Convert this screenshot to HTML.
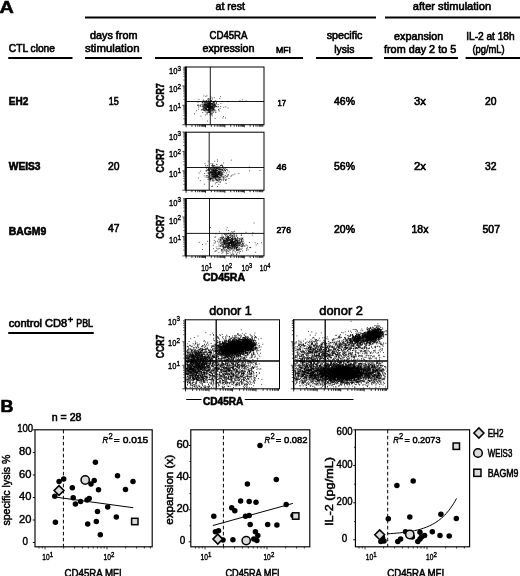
<!DOCTYPE html>
<html><head><meta charset="utf-8"><title>Figure</title>
<style>
html,body{margin:0;padding:0;background:#fff;}
body{width:520px;height:576px;overflow:hidden;font-family:"Liberation Sans",sans-serif;}
svg{display:block;filter:blur(0.3px);}
svg text{font-family:"Liberation Sans",sans-serif;fill:#000;}
</style></head><body>
<svg width="520" height="576" viewBox="0 0 520 576">
<rect width="520" height="576" fill="#fff"/>
<text x="-0.40" y="13.30" font-size="17" font-weight="bold" font-style="normal" textLength="14.30" lengthAdjust="spacingAndGlyphs" stroke="#000" stroke-width="0.55" >A</text>
<text x="215.50" y="9.60" font-size="10.5" font-weight="normal" font-style="normal" textLength="29.50" lengthAdjust="spacingAndGlyphs" stroke="#000" stroke-width="0.6" >at rest</text>
<text x="412.80" y="9.60" font-size="10.5" font-weight="normal" font-style="normal" textLength="78.40" lengthAdjust="spacingAndGlyphs" stroke="#000" stroke-width="0.6" >after stimulation</text>
<line x1="85.00" y1="17.50" x2="376.00" y2="17.50" stroke="#000" stroke-width="1.8" />
<line x1="385.00" y1="17.50" x2="520.00" y2="17.50" stroke="#000" stroke-width="1.8" />
<text x="8.75" y="52.00" font-size="10.5" font-weight="normal" font-style="normal" textLength="46.25" lengthAdjust="spacingAndGlyphs" stroke="#000" stroke-width="0.6" >CTL clone</text>
<text x="90.00" y="38.80" font-size="10.5" font-weight="normal" font-style="normal" textLength="47.50" lengthAdjust="spacingAndGlyphs" stroke="#000" stroke-width="0.6" >days from</text>
<text x="85.00" y="52.00" font-size="10.5" font-weight="normal" font-style="normal" textLength="54.50" lengthAdjust="spacingAndGlyphs" stroke="#000" stroke-width="0.6" >stimulation</text>
<text x="209.50" y="38.80" font-size="10.5" font-weight="normal" font-style="normal" textLength="38.00" lengthAdjust="spacingAndGlyphs" stroke="#000" stroke-width="0.6" >CD45RA</text>
<text x="202.50" y="51.50" font-size="10.5" font-weight="normal" font-style="normal" textLength="52.00" lengthAdjust="spacingAndGlyphs" stroke="#000" stroke-width="0.6" >expression</text>
<text x="276.00" y="52.50" font-size="8.6" font-weight="normal" font-style="normal" textLength="15.00" lengthAdjust="spacingAndGlyphs" stroke="#000" stroke-width="0.6" >MFI</text>
<text x="326.70" y="39.30" font-size="10.5" font-weight="normal" font-style="normal" textLength="35.80" lengthAdjust="spacingAndGlyphs" stroke="#000" stroke-width="0.6" >specific</text>
<text x="334.30" y="53.00" font-size="10.5" font-weight="normal" font-style="normal" textLength="20.20" lengthAdjust="spacingAndGlyphs" stroke="#000" stroke-width="0.6" >lysis</text>
<text x="394.00" y="40.00" font-size="10.5" font-weight="normal" font-style="normal" textLength="49.30" lengthAdjust="spacingAndGlyphs" stroke="#000" stroke-width="0.6" >expansion</text>
<text x="384.00" y="53.00" font-size="10.5" font-weight="normal" font-style="normal" textLength="72.20" lengthAdjust="spacingAndGlyphs" stroke="#000" stroke-width="0.6" >from day 2 to 5</text>
<text x="466.20" y="39.60" font-size="10.5" font-weight="normal" font-style="normal" textLength="48.40" lengthAdjust="spacingAndGlyphs" stroke="#000" stroke-width="0.6" >IL-2 at 18h</text>
<text x="472.40" y="53.00" font-size="10.5" font-weight="normal" font-style="normal" textLength="32.30" lengthAdjust="spacingAndGlyphs" stroke="#000" stroke-width="0.6" >(pg/mL)</text>
<line x1="8.25" y1="58.00" x2="72.50" y2="58.00" stroke="#000" stroke-width="1.8" />
<line x1="85.00" y1="58.00" x2="142.00" y2="58.00" stroke="#000" stroke-width="1.8" />
<line x1="155.00" y1="58.00" x2="303.00" y2="58.00" stroke="#000" stroke-width="1.8" />
<line x1="316.00" y1="58.00" x2="372.50" y2="58.00" stroke="#000" stroke-width="1.8" />
<line x1="384.00" y1="58.00" x2="458.00" y2="58.00" stroke="#000" stroke-width="1.8" />
<line x1="465.60" y1="58.00" x2="520.00" y2="58.00" stroke="#000" stroke-width="1.8" />
<text x="8.75" y="105.00" font-size="10.5" font-weight="bold" font-style="normal" textLength="19.50" lengthAdjust="spacingAndGlyphs" stroke="#000" stroke-width="0.6" >EH2</text>
<text x="108.75" y="105.00" font-size="10.5" font-weight="normal" font-style="normal" textLength="10.00" lengthAdjust="spacingAndGlyphs" stroke="#000" stroke-width="0.6" >15</text>
<text x="277.50" y="106.00" font-size="8.6" font-weight="normal" font-style="normal" textLength="8.50" lengthAdjust="spacingAndGlyphs" stroke="#000" stroke-width="0.6" >17</text>
<text x="334.00" y="105.00" font-size="10.5" font-weight="normal" font-style="normal" textLength="21.00" lengthAdjust="spacingAndGlyphs" stroke="#000" stroke-width="0.6" >46%</text>
<text x="414.00" y="105.00" font-size="10.5" font-weight="normal" font-style="normal" textLength="12.00" lengthAdjust="spacingAndGlyphs" stroke="#000" stroke-width="0.6" >3x</text>
<text x="485.00" y="105.00" font-size="10.5" font-weight="normal" font-style="normal" textLength="11.50" lengthAdjust="spacingAndGlyphs" stroke="#000" stroke-width="0.6" >20</text>
<text x="8.75" y="169.50" font-size="10.5" font-weight="bold" font-style="normal" textLength="31.75" lengthAdjust="spacingAndGlyphs" stroke="#000" stroke-width="0.6" >WEIS3</text>
<text x="108.00" y="169.50" font-size="10.5" font-weight="normal" font-style="normal" textLength="11.50" lengthAdjust="spacingAndGlyphs" stroke="#000" stroke-width="0.6" >20</text>
<text x="276.50" y="170.00" font-size="8.6" font-weight="normal" font-style="normal" textLength="10.00" lengthAdjust="spacingAndGlyphs" stroke="#000" stroke-width="0.6" >46</text>
<text x="334.00" y="169.70" font-size="10.5" font-weight="normal" font-style="normal" textLength="21.00" lengthAdjust="spacingAndGlyphs" stroke="#000" stroke-width="0.6" >56%</text>
<text x="414.00" y="169.70" font-size="10.5" font-weight="normal" font-style="normal" textLength="12.00" lengthAdjust="spacingAndGlyphs" stroke="#000" stroke-width="0.6" >2x</text>
<text x="485.00" y="169.70" font-size="10.5" font-weight="normal" font-style="normal" textLength="11.50" lengthAdjust="spacingAndGlyphs" stroke="#000" stroke-width="0.6" >32</text>
<text x="8.75" y="235.00" font-size="10.5" font-weight="bold" font-style="normal" textLength="37.50" lengthAdjust="spacingAndGlyphs" stroke="#000" stroke-width="0.6" >BAGM9</text>
<text x="108.00" y="232.00" font-size="10.5" font-weight="normal" font-style="normal" textLength="11.50" lengthAdjust="spacingAndGlyphs" stroke="#000" stroke-width="0.6" >47</text>
<text x="276.50" y="233.00" font-size="8.6" font-weight="normal" font-style="normal" textLength="14.50" lengthAdjust="spacingAndGlyphs" stroke="#000" stroke-width="0.6" >276</text>
<text x="334.00" y="232.50" font-size="10.5" font-weight="normal" font-style="normal" textLength="21.00" lengthAdjust="spacingAndGlyphs" stroke="#000" stroke-width="0.6" >20%</text>
<text x="411.50" y="232.50" font-size="10.5" font-weight="normal" font-style="normal" textLength="17.00" lengthAdjust="spacingAndGlyphs" stroke="#000" stroke-width="0.6" >18x</text>
<text x="482.50" y="232.50" font-size="10.5" font-weight="normal" font-style="normal" textLength="17.50" lengthAdjust="spacingAndGlyphs" stroke="#000" stroke-width="0.6" >507</text>
<rect x="186.1" y="67" width="77.9" height="57.7" fill="none" stroke="#000" stroke-width="1.0"/>
<line x1="185.6" y1="66.5" x2="185.6" y2="125.2" stroke="#000" stroke-width="2.1"/>
<line x1="210.30" y1="67.00" x2="210.30" y2="124.70" stroke="#000" stroke-width="0.9" />
<line x1="186.10" y1="101.50" x2="264.00" y2="101.50" stroke="#000" stroke-width="0.9" />
<line x1="186.10" y1="124.7" x2="186.10" y2="127.30" stroke="#000" stroke-width="0.85"/>
<line x1="191.94" y1="124.7" x2="191.94" y2="126.70" stroke="#000" stroke-width="0.85"/>
<line x1="195.36" y1="124.7" x2="195.36" y2="126.70" stroke="#000" stroke-width="0.85"/>
<line x1="197.78" y1="124.7" x2="197.78" y2="126.70" stroke="#000" stroke-width="0.85"/>
<line x1="199.66" y1="124.7" x2="199.66" y2="126.70" stroke="#000" stroke-width="0.85"/>
<line x1="201.20" y1="124.7" x2="201.20" y2="126.70" stroke="#000" stroke-width="0.85"/>
<line x1="202.49" y1="124.7" x2="202.49" y2="126.70" stroke="#000" stroke-width="0.85"/>
<line x1="203.62" y1="124.7" x2="203.62" y2="126.70" stroke="#000" stroke-width="0.85"/>
<line x1="204.61" y1="124.7" x2="204.61" y2="126.70" stroke="#000" stroke-width="0.85"/>
<line x1="205.50" y1="124.7" x2="205.50" y2="127.30" stroke="#000" stroke-width="0.85"/>
<line x1="211.34" y1="124.7" x2="211.34" y2="126.70" stroke="#000" stroke-width="0.85"/>
<line x1="214.76" y1="124.7" x2="214.76" y2="126.70" stroke="#000" stroke-width="0.85"/>
<line x1="217.18" y1="124.7" x2="217.18" y2="126.70" stroke="#000" stroke-width="0.85"/>
<line x1="219.06" y1="124.7" x2="219.06" y2="126.70" stroke="#000" stroke-width="0.85"/>
<line x1="220.60" y1="124.7" x2="220.60" y2="126.70" stroke="#000" stroke-width="0.85"/>
<line x1="221.89" y1="124.7" x2="221.89" y2="126.70" stroke="#000" stroke-width="0.85"/>
<line x1="223.02" y1="124.7" x2="223.02" y2="126.70" stroke="#000" stroke-width="0.85"/>
<line x1="224.01" y1="124.7" x2="224.01" y2="126.70" stroke="#000" stroke-width="0.85"/>
<line x1="224.90" y1="124.7" x2="224.90" y2="127.30" stroke="#000" stroke-width="0.85"/>
<line x1="230.74" y1="124.7" x2="230.74" y2="126.70" stroke="#000" stroke-width="0.85"/>
<line x1="234.16" y1="124.7" x2="234.16" y2="126.70" stroke="#000" stroke-width="0.85"/>
<line x1="236.58" y1="124.7" x2="236.58" y2="126.70" stroke="#000" stroke-width="0.85"/>
<line x1="238.46" y1="124.7" x2="238.46" y2="126.70" stroke="#000" stroke-width="0.85"/>
<line x1="240.00" y1="124.7" x2="240.00" y2="126.70" stroke="#000" stroke-width="0.85"/>
<line x1="241.29" y1="124.7" x2="241.29" y2="126.70" stroke="#000" stroke-width="0.85"/>
<line x1="242.42" y1="124.7" x2="242.42" y2="126.70" stroke="#000" stroke-width="0.85"/>
<line x1="243.41" y1="124.7" x2="243.41" y2="126.70" stroke="#000" stroke-width="0.85"/>
<line x1="244.30" y1="124.7" x2="244.30" y2="127.30" stroke="#000" stroke-width="0.85"/>
<line x1="250.14" y1="124.7" x2="250.14" y2="126.70" stroke="#000" stroke-width="0.85"/>
<line x1="253.56" y1="124.7" x2="253.56" y2="126.70" stroke="#000" stroke-width="0.85"/>
<line x1="255.98" y1="124.7" x2="255.98" y2="126.70" stroke="#000" stroke-width="0.85"/>
<line x1="257.86" y1="124.7" x2="257.86" y2="126.70" stroke="#000" stroke-width="0.85"/>
<line x1="259.40" y1="124.7" x2="259.40" y2="126.70" stroke="#000" stroke-width="0.85"/>
<line x1="260.69" y1="124.7" x2="260.69" y2="126.70" stroke="#000" stroke-width="0.85"/>
<line x1="261.82" y1="124.7" x2="261.82" y2="126.70" stroke="#000" stroke-width="0.85"/>
<line x1="262.81" y1="124.7" x2="262.81" y2="126.70" stroke="#000" stroke-width="0.85"/>
<line x1="182.35" y1="124.70" x2="184.55" y2="124.70" stroke="#000" stroke-width="0.7"/>
<line x1="183.35" y1="118.86" x2="184.55" y2="118.86" stroke="#000" stroke-width="0.7"/>
<line x1="183.35" y1="115.44" x2="184.55" y2="115.44" stroke="#000" stroke-width="0.7"/>
<line x1="183.35" y1="113.02" x2="184.55" y2="113.02" stroke="#000" stroke-width="0.7"/>
<line x1="183.35" y1="111.14" x2="184.55" y2="111.14" stroke="#000" stroke-width="0.7"/>
<line x1="183.35" y1="109.60" x2="184.55" y2="109.60" stroke="#000" stroke-width="0.7"/>
<line x1="183.35" y1="108.31" x2="184.55" y2="108.31" stroke="#000" stroke-width="0.7"/>
<line x1="183.35" y1="107.18" x2="184.55" y2="107.18" stroke="#000" stroke-width="0.7"/>
<line x1="183.35" y1="106.19" x2="184.55" y2="106.19" stroke="#000" stroke-width="0.7"/>
<line x1="182.35" y1="105.30" x2="184.55" y2="105.30" stroke="#000" stroke-width="0.7"/>
<line x1="183.35" y1="99.46" x2="184.55" y2="99.46" stroke="#000" stroke-width="0.7"/>
<line x1="183.35" y1="96.04" x2="184.55" y2="96.04" stroke="#000" stroke-width="0.7"/>
<line x1="183.35" y1="93.62" x2="184.55" y2="93.62" stroke="#000" stroke-width="0.7"/>
<line x1="183.35" y1="91.74" x2="184.55" y2="91.74" stroke="#000" stroke-width="0.7"/>
<line x1="183.35" y1="90.20" x2="184.55" y2="90.20" stroke="#000" stroke-width="0.7"/>
<line x1="183.35" y1="88.91" x2="184.55" y2="88.91" stroke="#000" stroke-width="0.7"/>
<line x1="183.35" y1="87.78" x2="184.55" y2="87.78" stroke="#000" stroke-width="0.7"/>
<line x1="183.35" y1="86.79" x2="184.55" y2="86.79" stroke="#000" stroke-width="0.7"/>
<line x1="182.35" y1="85.90" x2="184.55" y2="85.90" stroke="#000" stroke-width="0.7"/>
<line x1="183.35" y1="80.06" x2="184.55" y2="80.06" stroke="#000" stroke-width="0.7"/>
<line x1="183.35" y1="76.64" x2="184.55" y2="76.64" stroke="#000" stroke-width="0.7"/>
<line x1="183.35" y1="74.22" x2="184.55" y2="74.22" stroke="#000" stroke-width="0.7"/>
<line x1="183.35" y1="72.34" x2="184.55" y2="72.34" stroke="#000" stroke-width="0.7"/>
<line x1="183.35" y1="70.80" x2="184.55" y2="70.80" stroke="#000" stroke-width="0.7"/>
<line x1="183.35" y1="69.51" x2="184.55" y2="69.51" stroke="#000" stroke-width="0.7"/>
<line x1="183.35" y1="68.38" x2="184.55" y2="68.38" stroke="#000" stroke-width="0.7"/>
<line x1="183.35" y1="67.39" x2="184.55" y2="67.39" stroke="#000" stroke-width="0.7"/>
<path transform="scale(.1)" d="M2088 1082h9M2078 1042h9M2072 1038h9M2090 1118h9M2070 1051h9M2106 1084h9M2092 1040h9M2087 1096h9M2040 1056h9M2020 1028h9M2022 1064h9M2042 1081h9M2094 1066h9M1997 1054h9M2086 1076h9M2033 1056h9M2053 1044h9M2126 1045h9M2087 1102h9M2067 1068h9M2092 1074h9M2044 1075h9M2137 1019h9M2119 1076h9M2065 1140h9M2115 1031h9M2091 1092h9M2081 1095h9M2086 1095h9M2140 1049h9M2095 1056h9M2093 1032h9M2067 1065h9M2120 1111h9M2040 1045h9M2111 1004h9M2071 1069h9M2133 1095h9M2076 1059h9M2079 1124h9M2073 1062h9M2101 1068h9M2081 1034h9M2088 1057h9M2130 1094h9M2087 1095h9M2076 1108h9M2088 1092h9M2042 1084h9M2027 1003h9M2077 1041h9M2094 1148h9M2058 1051h9M2095 1089h9M2082 1065h9M2113 1090h9M2051 1069h9M2089 1036h9M2097 1043h9M2123 1079h9M2091 1052h9M2084 1004h9M2047 1084h9M2011 1101h9M2025 1098h9M2058 1098h9M2093 1020h9M2133 1121h9M2086 1063h9M2082 1039h9M2128 1054h9M2086 1045h9M2065 1029h9M2133 1067h9M2123 1072h9M2063 1061h9M2068 1072h9M2074 1062h9M2038 1045h9M2148 1049h9M2050 1083h9M2139 1023h9M2080 1051h9M2025 1097h9M2087 1074h9M2061 1087h9M2069 1067h9M2048 1031h9M2136 1055h9M2099 1071h9M2072 1055h9M2111 1062h9M2083 1073h9M2130 1095h9M2102 1053h9M2038 1104h9M2123 1067h9M2108 1099h9M2118 1103h9M2072 1124h9M2043 1101h9M2106 1102h9M2156 1122h9M2047 1015h9M2117 1037h9M2088 1101h9M2029 1000h9M2097 1074h9M2079 1073h9M2057 1021h9M2082 1039h9M2029 1089h9M2086 1086h9M2052 1050h9M2052 1042h9M2095 1045h9M2101 1084h9M2161 1025h9M2120 1069h9M2087 1023h9M2071 1097h9M2085 1075h9M2078 1111h9M2087 997h9M2063 1005h9M1971 1054h9M2136 1074h9M2046 1040h9M2129 1077h9M2090 1070h9M2089 1099h9M2108 1079h9M2050 1089h9M2063 1109h9M2042 1067h9M2088 1027h9M2150 1122h9M2071 1098h9M2102 983h9M2097 1070h9M2091 1035h9M2078 1066h9M2131 1083h9M2088 1124h9M2068 1059h9M2023 1125h9M2123 1103h9M2112 1076h9M2096 1063h9M2081 1074h9M2142 1091h9M2086 1052h9M2065 1126h9M2106 1074h9M2076 1034h9M2086 1102h9M2074 1064h9M2080 1076h9M2031 1064h9M2057 1102h9M2060 1092h9M2143 1061h9M2066 1079h9M2088 1038h9M2105 1141h9M2079 1065h9M2050 1083h9M2043 1034h9M2134 1041h9M2127 1124h9M2097 1091h9M2158 1065h9M2067 1026h9M2090 1122h9M2123 1040h9M2057 1055h9M2099 1065h9M2096 1082h9M2077 1071h9M2095 1069h9M2106 1136h9M2109 1074h9M2027 1085h9M2018 1024h9M2119 1096h9M2083 1014h9M2075 1049h9M2111 1149h9M2096 1046h9M2046 1070h9M2082 1033h9M2092 1033h9M2128 1108h9M2127 1056h9M2107 1068h9M2074 1060h9M2041 1023h9M2117 1065h9M2096 1106h9M2026 1045h9M2094 1085h9M2074 1107h9M2096 1031h9M2054 1099h9M2105 1007h9M2137 1092h9M2136 1059h9M2077 1034h9M2179 1066h9M2145 1050h9M2094 1015h9M2074 1105h9M2043 1108h9M2100 1037h9M2070 1056h9M2086 1054h9M2058 1062h9M2051 1028h9M2086 1102h9M2033 1072h9M2065 1039h9M2119 1054h9M2142 1045h9M2102 1064h9M2061 1092h9M2082 1093h9M2086 1035h9M2084 1074h9M2123 1041h9M2087 1013h9M2111 1035h9M2023 1070h9M2128 1020h9M2049 1047h9M2047 1085h9M2059 1047h9M2109 1046h9M2104 1039h9M2044 1010h9M2155 1061h9M2097 1071h9M2094 1074h9M2157 1037h9M2032 1038h9M2040 1097h9M2118 1039h9M2038 1060h9M2138 976h9M2107 1035h9M2125 1035h9M2078 1021h9M2053 1119h9M2118 1058h9M2057 1008h9M2074 1071h9M2085 1069h9M2048 1070h9M2087 1116h9M2155 1067h9M2060 1070h9M2066 1047h9M2086 1037h9M2110 1068h9M2097 1066h9M2062 1040h9M2079 1053h9M2096 1072h9M2039 1074h9M2040 1051h9M2077 1001h9M2091 1077h9M2082 1058h9M2075 1039h9M2078 1053h9M2091 1031h9M2096 1077h9M2083 1057h9M2108 1015h9M2105 1080h9M2098 1085h9M2064 1063h9M2111 1087h9M2095 1021h9M2107 1112h9M2124 1080h9M2032 1104h9M2083 986h9M2102 1021h9M2041 1050h9M2134 1059h9M2098 1131h9M2145 1068h9M2079 1029h9M2063 1086h9M2102 1076h9M2124 1046h9M2086 1097h9M2109 1108h9M2102 1061h9M2101 1038h9M2029 1092h9M2086 1082h9M2027 1060h9M2066 1043h9M2007 1061h9M2120 1085h9M2066 1071h9M2115 978h9M2084 1090h9M2113 1130h9M2129 1083h9M2099 1099h9M2069 1071h9M2121 1139h9M2082 1070h9M2095 1118h9M2087 1122h9M2053 1066h9M2081 1099h9M2126 1021h9M2055 1083h9M2064 1020h9M2125 1089h9M2106 1056h9M2125 1064h9M2127 1041h9M2057 1079h9M2063 1095h9M2097 1041h9M2091 1060h9M2161 1038h9M2068 1138h9M2251 1181h9M2102 1084h9M2203 1065h9M2031 1078h9M2129 1027h9M1985 994h9M2144 1031h9M2088 1084h9M2140 1054h9M2132 1024h9M2073 1016h9M2175 1071h9M2047 1053h9M2083 1110h9M1989 1016h9M2072 1210h9M2163 1066h9M2147 1184h9M2082 1052h9M2181 1099h9M2144 1044h9M2230 1165h9M2137 1109h9M1959 1107h9M2085 1096h9M2145 1053h9M1982 1092h9M2047 1054h9M2057 1053h9M1940 1138h9M2115 1132h9M2233 1073h9M1975 1023h9M2015 1045h9M2103 963h9M2121 990h9M2118 1066h9M2077 1068h9M2061 1039h9M1983 1070h9M2224 1180h9M2188 1110h9M2052 1150h9M2094 1068h9M2078 1077h9M2068 1067h9M2024 1052h9M2254 1068h9M2082 1101h9M2146 1011h9M2084 1122h9M2116 1079h9M2204 1035h9M2104 1044h9M2200 966h9M2052 1043h9M2143 1105h9M2193 986h9M2149 1056h9M2052 1101h9M2035 959h9M2073 991h9M2054 1092h9M2119 1158h9M2084 989h9M2046 1022h9M2015 1096h9M2054 964h9M2146 1066h9M2122 1078h9M2141 1074h9M2183 1095h9M2125 1094h9M1998 1063h9M2080 1083h9M2005 1161h9M2105 1006h9M1981 1057h9M2092 1033h9M2104 1037h9M2136 1033h9M2095 1125h9M2274 1017h9M2066 1026h9M2152 1010h9M2065 1070h9M2031 1020h9M2065 958h9M1999 1050h9M2108 1062h9M1977 1047h9M2153 1102h9M2093 1024h9M2141 1041h9M2018 1028h9M2197 1084h9M2177 1046h9M2419 998h9M2395 1007h9M2276 1081h9M2457 1008h9M2044 1027h9" stroke="#000" stroke-opacity="0.8" stroke-width="9" fill="none"/>
<text x="169.00" y="74.30" font-size="9.6" font-weight="normal" font-style="normal" textLength="8.40" lengthAdjust="spacingAndGlyphs" stroke="#000" stroke-width="0.4" >10</text>
<text x="177.50" y="70.90" font-size="7.4879999999999995" font-weight="normal" font-style="normal" textLength="3.50" lengthAdjust="spacingAndGlyphs" stroke="#000" stroke-width="0.4" >3</text>
<text x="169.00" y="92.00" font-size="9.6" font-weight="normal" font-style="normal" textLength="8.40" lengthAdjust="spacingAndGlyphs" stroke="#000" stroke-width="0.4" >10</text>
<text x="177.50" y="88.60" font-size="7.4879999999999995" font-weight="normal" font-style="normal" textLength="3.50" lengthAdjust="spacingAndGlyphs" stroke="#000" stroke-width="0.4" >2</text>
<text x="169.00" y="111.40" font-size="9.6" font-weight="normal" font-style="normal" textLength="8.40" lengthAdjust="spacingAndGlyphs" stroke="#000" stroke-width="0.4" >10</text>
<text x="177.50" y="108.00" font-size="7.4879999999999995" font-weight="normal" font-style="normal" textLength="3.50" lengthAdjust="spacingAndGlyphs" stroke="#000" stroke-width="0.4" >1</text>
<text transform="translate(164.30 107.30) rotate(-90)" font-size="10.3" font-weight="bold" textLength="24" lengthAdjust="spacingAndGlyphs" stroke="#000" stroke-width="0.5">CCR7</text>
<rect x="186.1" y="132.2" width="77.9" height="58.0" fill="none" stroke="#000" stroke-width="1.0"/>
<line x1="185.6" y1="131.7" x2="185.6" y2="190.7" stroke="#000" stroke-width="2.1"/>
<line x1="209.20" y1="132.20" x2="209.20" y2="190.20" stroke="#000" stroke-width="0.9" />
<line x1="186.10" y1="167.50" x2="264.00" y2="167.50" stroke="#000" stroke-width="0.9" />
<line x1="186.10" y1="190.2" x2="186.10" y2="192.80" stroke="#000" stroke-width="0.85"/>
<line x1="191.94" y1="190.2" x2="191.94" y2="192.20" stroke="#000" stroke-width="0.85"/>
<line x1="195.36" y1="190.2" x2="195.36" y2="192.20" stroke="#000" stroke-width="0.85"/>
<line x1="197.78" y1="190.2" x2="197.78" y2="192.20" stroke="#000" stroke-width="0.85"/>
<line x1="199.66" y1="190.2" x2="199.66" y2="192.20" stroke="#000" stroke-width="0.85"/>
<line x1="201.20" y1="190.2" x2="201.20" y2="192.20" stroke="#000" stroke-width="0.85"/>
<line x1="202.49" y1="190.2" x2="202.49" y2="192.20" stroke="#000" stroke-width="0.85"/>
<line x1="203.62" y1="190.2" x2="203.62" y2="192.20" stroke="#000" stroke-width="0.85"/>
<line x1="204.61" y1="190.2" x2="204.61" y2="192.20" stroke="#000" stroke-width="0.85"/>
<line x1="205.50" y1="190.2" x2="205.50" y2="192.80" stroke="#000" stroke-width="0.85"/>
<line x1="211.34" y1="190.2" x2="211.34" y2="192.20" stroke="#000" stroke-width="0.85"/>
<line x1="214.76" y1="190.2" x2="214.76" y2="192.20" stroke="#000" stroke-width="0.85"/>
<line x1="217.18" y1="190.2" x2="217.18" y2="192.20" stroke="#000" stroke-width="0.85"/>
<line x1="219.06" y1="190.2" x2="219.06" y2="192.20" stroke="#000" stroke-width="0.85"/>
<line x1="220.60" y1="190.2" x2="220.60" y2="192.20" stroke="#000" stroke-width="0.85"/>
<line x1="221.89" y1="190.2" x2="221.89" y2="192.20" stroke="#000" stroke-width="0.85"/>
<line x1="223.02" y1="190.2" x2="223.02" y2="192.20" stroke="#000" stroke-width="0.85"/>
<line x1="224.01" y1="190.2" x2="224.01" y2="192.20" stroke="#000" stroke-width="0.85"/>
<line x1="224.90" y1="190.2" x2="224.90" y2="192.80" stroke="#000" stroke-width="0.85"/>
<line x1="230.74" y1="190.2" x2="230.74" y2="192.20" stroke="#000" stroke-width="0.85"/>
<line x1="234.16" y1="190.2" x2="234.16" y2="192.20" stroke="#000" stroke-width="0.85"/>
<line x1="236.58" y1="190.2" x2="236.58" y2="192.20" stroke="#000" stroke-width="0.85"/>
<line x1="238.46" y1="190.2" x2="238.46" y2="192.20" stroke="#000" stroke-width="0.85"/>
<line x1="240.00" y1="190.2" x2="240.00" y2="192.20" stroke="#000" stroke-width="0.85"/>
<line x1="241.29" y1="190.2" x2="241.29" y2="192.20" stroke="#000" stroke-width="0.85"/>
<line x1="242.42" y1="190.2" x2="242.42" y2="192.20" stroke="#000" stroke-width="0.85"/>
<line x1="243.41" y1="190.2" x2="243.41" y2="192.20" stroke="#000" stroke-width="0.85"/>
<line x1="244.30" y1="190.2" x2="244.30" y2="192.80" stroke="#000" stroke-width="0.85"/>
<line x1="250.14" y1="190.2" x2="250.14" y2="192.20" stroke="#000" stroke-width="0.85"/>
<line x1="253.56" y1="190.2" x2="253.56" y2="192.20" stroke="#000" stroke-width="0.85"/>
<line x1="255.98" y1="190.2" x2="255.98" y2="192.20" stroke="#000" stroke-width="0.85"/>
<line x1="257.86" y1="190.2" x2="257.86" y2="192.20" stroke="#000" stroke-width="0.85"/>
<line x1="259.40" y1="190.2" x2="259.40" y2="192.20" stroke="#000" stroke-width="0.85"/>
<line x1="260.69" y1="190.2" x2="260.69" y2="192.20" stroke="#000" stroke-width="0.85"/>
<line x1="261.82" y1="190.2" x2="261.82" y2="192.20" stroke="#000" stroke-width="0.85"/>
<line x1="262.81" y1="190.2" x2="262.81" y2="192.20" stroke="#000" stroke-width="0.85"/>
<line x1="182.35" y1="190.20" x2="184.55" y2="190.20" stroke="#000" stroke-width="0.7"/>
<line x1="183.35" y1="184.36" x2="184.55" y2="184.36" stroke="#000" stroke-width="0.7"/>
<line x1="183.35" y1="180.94" x2="184.55" y2="180.94" stroke="#000" stroke-width="0.7"/>
<line x1="183.35" y1="178.52" x2="184.55" y2="178.52" stroke="#000" stroke-width="0.7"/>
<line x1="183.35" y1="176.64" x2="184.55" y2="176.64" stroke="#000" stroke-width="0.7"/>
<line x1="183.35" y1="175.10" x2="184.55" y2="175.10" stroke="#000" stroke-width="0.7"/>
<line x1="183.35" y1="173.81" x2="184.55" y2="173.81" stroke="#000" stroke-width="0.7"/>
<line x1="183.35" y1="172.68" x2="184.55" y2="172.68" stroke="#000" stroke-width="0.7"/>
<line x1="183.35" y1="171.69" x2="184.55" y2="171.69" stroke="#000" stroke-width="0.7"/>
<line x1="182.35" y1="170.80" x2="184.55" y2="170.80" stroke="#000" stroke-width="0.7"/>
<line x1="183.35" y1="164.96" x2="184.55" y2="164.96" stroke="#000" stroke-width="0.7"/>
<line x1="183.35" y1="161.54" x2="184.55" y2="161.54" stroke="#000" stroke-width="0.7"/>
<line x1="183.35" y1="159.12" x2="184.55" y2="159.12" stroke="#000" stroke-width="0.7"/>
<line x1="183.35" y1="157.24" x2="184.55" y2="157.24" stroke="#000" stroke-width="0.7"/>
<line x1="183.35" y1="155.70" x2="184.55" y2="155.70" stroke="#000" stroke-width="0.7"/>
<line x1="183.35" y1="154.41" x2="184.55" y2="154.41" stroke="#000" stroke-width="0.7"/>
<line x1="183.35" y1="153.28" x2="184.55" y2="153.28" stroke="#000" stroke-width="0.7"/>
<line x1="183.35" y1="152.29" x2="184.55" y2="152.29" stroke="#000" stroke-width="0.7"/>
<line x1="182.35" y1="151.40" x2="184.55" y2="151.40" stroke="#000" stroke-width="0.7"/>
<line x1="183.35" y1="145.56" x2="184.55" y2="145.56" stroke="#000" stroke-width="0.7"/>
<line x1="183.35" y1="142.14" x2="184.55" y2="142.14" stroke="#000" stroke-width="0.7"/>
<line x1="183.35" y1="139.72" x2="184.55" y2="139.72" stroke="#000" stroke-width="0.7"/>
<line x1="183.35" y1="137.84" x2="184.55" y2="137.84" stroke="#000" stroke-width="0.7"/>
<line x1="183.35" y1="136.30" x2="184.55" y2="136.30" stroke="#000" stroke-width="0.7"/>
<line x1="183.35" y1="135.01" x2="184.55" y2="135.01" stroke="#000" stroke-width="0.7"/>
<line x1="183.35" y1="133.88" x2="184.55" y2="133.88" stroke="#000" stroke-width="0.7"/>
<line x1="183.35" y1="132.89" x2="184.55" y2="132.89" stroke="#000" stroke-width="0.7"/>
<line x1="182.35" y1="132.00" x2="184.55" y2="132.00" stroke="#000" stroke-width="0.7"/>
<path transform="scale(.1)" d="M2153 1740h9M2207 1747h9M2186 1696h9M2188 1811h9M2184 1745h9M2158 1800h9M2113 1732h9M2171 1763h9M2134 1747h9M2140 1740h9M2146 1695h9M2151 1768h9M2111 1727h9M2180 1697h9M2160 1698h9M2200 1819h9M2237 1728h9M2183 1740h9M2156 1792h9M2097 1774h9M2150 1787h9M2160 1712h9M2164 1762h9M2154 1754h9M2130 1659h9M2190 1761h9M2158 1738h9M2196 1720h9M2122 1729h9M2202 1686h9M2202 1713h9M2106 1781h9M2148 1689h9M2137 1770h9M2202 1721h9M2169 1762h9M2125 1749h9M2151 1717h9M2131 1738h9M2153 1716h9M2134 1776h9M2161 1768h9M2202 1757h9M2247 1706h9M2186 1725h9M2230 1797h9M2070 1701h9M2180 1764h9M2183 1733h9M2171 1760h9M2149 1773h9M2057 1759h9M2109 1771h9M2142 1704h9M2168 1703h9M2114 1680h9M2151 1754h9M2195 1731h9M2196 1737h9M2148 1757h9M2196 1724h9M2142 1730h9M2155 1704h9M2195 1722h9M2171 1706h9M2167 1750h9M2134 1809h9M2168 1800h9M2192 1712h9M2136 1752h9M2155 1738h9M2140 1671h9M2143 1656h9M2168 1710h9M2122 1728h9M2163 1684h9M2079 1698h9M2066 1701h9M2219 1698h9M2179 1687h9M2165 1724h9M2149 1756h9M2226 1743h9M2157 1701h9M2177 1727h9M2187 1734h9M2225 1665h9M2140 1768h9M2137 1707h9M2141 1686h9M2157 1824h9M2200 1696h9M2115 1721h9M2194 1706h9M2123 1768h9M2188 1723h9M2105 1680h9M2123 1656h9M2183 1713h9M2172 1803h9M2201 1695h9M2189 1778h9M2121 1702h9M2147 1678h9M2214 1649h9M2106 1726h9M2142 1742h9M2163 1728h9M2200 1659h9M2152 1710h9M2158 1744h9M2114 1713h9M2185 1749h9M2123 1809h9M2249 1683h9M2165 1826h9M2185 1744h9M2143 1717h9M2143 1716h9M2183 1722h9M2133 1693h9M2150 1704h9M2144 1774h9M2167 1754h9M2167 1738h9M2147 1725h9M2184 1697h9M2208 1737h9M2121 1718h9M2124 1742h9M2122 1777h9M2119 1654h9M2121 1664h9M2150 1774h9M2179 1688h9M2120 1800h9M2165 1736h9M2196 1824h9M2206 1741h9M2167 1758h9M2126 1698h9M2154 1702h9M2149 1739h9M2250 1705h9M2147 1730h9M2170 1774h9M2131 1706h9M2083 1703h9M2175 1738h9M2109 1723h9M2153 1754h9M2127 1727h9M2076 1695h9M2220 1657h9M2138 1744h9M2136 1707h9M2149 1736h9M2149 1668h9M2146 1705h9M2129 1744h9M2179 1768h9M2131 1769h9M2201 1777h9M2210 1731h9M2145 1766h9M2095 1744h9M2130 1723h9M2079 1704h9M2151 1768h9M2194 1733h9M2144 1706h9M2169 1727h9M2177 1799h9M2151 1682h9M2116 1684h9M2102 1783h9M2162 1681h9M2179 1781h9M2137 1712h9M2138 1746h9M2179 1779h9M2203 1779h9M2209 1760h9M2088 1731h9M2165 1722h9M2190 1723h9M2113 1788h9M2180 1744h9M2191 1774h9M2166 1648h9M2124 1720h9M2111 1743h9M2202 1719h9M2104 1809h9M2133 1692h9M2162 1751h9M2122 1764h9M2132 1703h9M2160 1764h9M2125 1748h9M2148 1838h9M2122 1786h9M2150 1731h9M2182 1768h9M2205 1748h9M2127 1717h9M2173 1757h9M2211 1751h9M2197 1791h9M2159 1683h9M2102 1684h9M2219 1705h9M2204 1757h9M2224 1772h9M2148 1729h9M2156 1742h9M2130 1735h9M2220 1675h9M2163 1703h9M2160 1766h9M2150 1764h9M2085 1776h9M2127 1758h9M2160 1643h9M2120 1744h9M2217 1746h9M2163 1685h9M2212 1801h9M2153 1728h9M2084 1768h9M2265 1762h9M2205 1756h9M2111 1784h9M2100 1728h9M2164 1768h9M2169 1750h9M2120 1690h9M2155 1710h9M2097 1690h9M2131 1669h9M2095 1677h9M2160 1751h9M2236 1682h9M2123 1769h9M2143 1724h9M2224 1724h9M2103 1689h9M2166 1747h9M2094 1701h9M2174 1757h9M2125 1758h9M2176 1672h9M2139 1751h9M2128 1659h9M2140 1763h9M2218 1657h9M2262 1695h9M2192 1780h9M2193 1741h9M2103 1759h9M2122 1645h9M2271 1761h9M2228 1703h9M2214 1793h9M2217 1735h9M2101 1730h9M2059 1675h9M2156 1700h9M2145 1732h9M2233 1783h9M2150 1780h9M2119 1724h9M2190 1691h9M2140 1688h9M2157 1795h9M2120 1744h9M2114 1695h9M2100 1788h9M2251 1753h9M2122 1761h9M2138 1765h9M2164 1746h9M2178 1715h9M2135 1674h9M2133 1685h9M2146 1702h9M2156 1752h9M2092 1707h9M2112 1763h9M2224 1767h9M2137 1789h9M2088 1790h9M2124 1636h9M2263 1793h9M2109 1742h9M2143 1740h9M2090 1711h9M2172 1744h9M2202 1739h9M2251 1710h9M2163 1667h9M2099 1784h9M2112 1755h9M2149 1698h9M2137 1717h9M2132 1763h9M2179 1715h9M2114 1746h9M2148 1773h9M2264 1766h9M2151 1730h9M2116 1703h9M2110 1722h9M2134 1763h9M2135 1729h9M2101 1795h9M2173 1800h9M2185 1790h9M2142 1762h9M2266 1692h9M2201 1797h9M2170 1764h9M2206 1712h9M2170 1704h9M2123 1713h9M2146 1741h9M2171 1684h9M2237 1779h9M2183 1723h9M2148 1756h9M2170 1674h9M2184 1844h9M2072 1773h9M2168 1732h9M2211 1692h9M2159 1790h9M2144 1721h9M2157 1720h9M2219 1702h9M2190 1690h9M2181 1732h9M2040 1736h9M2106 1720h9M2218 1695h9M2106 1789h9M2157 1793h9M2166 1703h9M2149 1782h9M2193 1736h9M2154 1732h9M2127 1807h9M2152 1694h9M2131 1763h9M2180 1731h9M2123 1737h9M2080 1688h9M2186 1718h9M2168 1781h9M2180 1737h9M2244 1761h9M2137 1763h9M2170 1704h9M2155 1730h9M2067 1730h9M2140 1720h9M2081 1723h9M2150 1740h9M2103 1759h9M2100 1728h9M2208 1710h9M2130 1776h9M2135 1725h9M2162 1775h9M2057 1705h9M2109 1696h9M2115 1705h9M2165 1703h9M2157 1751h9M2121 1741h9M2222 1748h9M2110 1732h9M2087 1752h9M2232 1688h9M2145 1802h9M2121 1747h9M2079 1688h9M2120 1861h9M2129 1705h9M2117 1726h9M2214 1747h9M2326 1748h9M2278 1752h9M2210 1653h9M2152 1732h9M2143 1612h9M2232 1714h9M2127 1721h9M2144 1759h9M2061 1682h9M2185 1744h9M2132 1703h9M2095 1733h9M2256 1675h9M2284 1785h9M2126 1781h9M2045 1636h9M2059 1712h9M2136 1706h9M2170 1613h9M2202 1654h9M2109 1712h9M2070 1657h9M2082 1735h9M2209 1768h9M2083 1690h9M2089 1762h9M1999 1807h9M2123 1691h9M2189 1795h9M2189 1797h9M2173 1807h9M2261 1730h9M2277 1745h9M2169 1683h9M2139 1781h9M2057 1773h9M2190 1752h9M1986 1730h9M2214 1692h9M2169 1599h9M2216 1698h9M2232 1630h9M2217 1722h9M2226 1683h9M2113 1865h9M2096 1695h9M2140 1677h9M2257 1835h9M2106 1637h9M2256 1800h9M2228 1803h9M2093 1726h9M2052 1654h9M2240 1697h9M2344 1740h9M2111 1782h9M2306 1764h9M2065 1757h9M2272 1708h9M2100 1795h9M2173 1672h9M2132 1692h9M2186 1742h9M2254 1777h9M2037 1759h9M2234 1762h9M2244 1704h9M2086 1790h9M2077 1612h9M2244 1694h9M2138 1655h9M2056 1669h9M2133 1757h9M1979 1779h9M2068 1675h9M2216 1732h9M2039 1842h9M2093 1750h9M2178 1817h9M2126 1794h9M2103 1801h9M2101 1715h9M2313 1754h9M2171 1865h9M2191 1689h9M2221 1668h9M2252 1805h9M2116 1700h9M2176 1737h9M2084 1769h9M1999 1711h9M2130 1720h9M2187 1665h9M2209 1726h9M2110 1657h9M2068 1757h9M2085 1740h9M2247 1795h9M2287 1719h9M2075 1795h9M2187 1801h9M2163 1805h9M2230 1777h9M2202 1759h9M2385 1736h9M2491 1670h9M2595 1706h9M2490 1708h9M2309 1601h9" stroke="#000" stroke-opacity="0.8" stroke-width="9" fill="none"/>
<text x="169.00" y="139.50" font-size="9.6" font-weight="normal" font-style="normal" textLength="8.40" lengthAdjust="spacingAndGlyphs" stroke="#000" stroke-width="0.4" >10</text>
<text x="177.50" y="136.10" font-size="7.4879999999999995" font-weight="normal" font-style="normal" textLength="3.50" lengthAdjust="spacingAndGlyphs" stroke="#000" stroke-width="0.4" >3</text>
<text x="169.00" y="157.20" font-size="9.6" font-weight="normal" font-style="normal" textLength="8.40" lengthAdjust="spacingAndGlyphs" stroke="#000" stroke-width="0.4" >10</text>
<text x="177.50" y="153.80" font-size="7.4879999999999995" font-weight="normal" font-style="normal" textLength="3.50" lengthAdjust="spacingAndGlyphs" stroke="#000" stroke-width="0.4" >2</text>
<text x="169.00" y="176.60" font-size="9.6" font-weight="normal" font-style="normal" textLength="8.40" lengthAdjust="spacingAndGlyphs" stroke="#000" stroke-width="0.4" >10</text>
<text x="177.50" y="173.20" font-size="7.4879999999999995" font-weight="normal" font-style="normal" textLength="3.50" lengthAdjust="spacingAndGlyphs" stroke="#000" stroke-width="0.4" >1</text>
<text transform="translate(164.30 172.50) rotate(-90)" font-size="10.3" font-weight="bold" textLength="24" lengthAdjust="spacingAndGlyphs" stroke="#000" stroke-width="0.5">CCR7</text>
<rect x="186.1" y="198.5" width="77.9" height="57.400000000000006" fill="none" stroke="#000" stroke-width="1.0"/>
<line x1="185.6" y1="198.0" x2="185.6" y2="256.4" stroke="#000" stroke-width="2.1"/>
<line x1="209.50" y1="198.50" x2="209.50" y2="255.90" stroke="#000" stroke-width="0.9" />
<line x1="186.10" y1="233.40" x2="264.00" y2="233.40" stroke="#000" stroke-width="0.9" />
<line x1="186.10" y1="255.9" x2="186.10" y2="258.50" stroke="#000" stroke-width="0.85"/>
<line x1="191.94" y1="255.9" x2="191.94" y2="257.90" stroke="#000" stroke-width="0.85"/>
<line x1="195.36" y1="255.9" x2="195.36" y2="257.90" stroke="#000" stroke-width="0.85"/>
<line x1="197.78" y1="255.9" x2="197.78" y2="257.90" stroke="#000" stroke-width="0.85"/>
<line x1="199.66" y1="255.9" x2="199.66" y2="257.90" stroke="#000" stroke-width="0.85"/>
<line x1="201.20" y1="255.9" x2="201.20" y2="257.90" stroke="#000" stroke-width="0.85"/>
<line x1="202.49" y1="255.9" x2="202.49" y2="257.90" stroke="#000" stroke-width="0.85"/>
<line x1="203.62" y1="255.9" x2="203.62" y2="257.90" stroke="#000" stroke-width="0.85"/>
<line x1="204.61" y1="255.9" x2="204.61" y2="257.90" stroke="#000" stroke-width="0.85"/>
<line x1="205.50" y1="255.9" x2="205.50" y2="258.50" stroke="#000" stroke-width="0.85"/>
<line x1="211.34" y1="255.9" x2="211.34" y2="257.90" stroke="#000" stroke-width="0.85"/>
<line x1="214.76" y1="255.9" x2="214.76" y2="257.90" stroke="#000" stroke-width="0.85"/>
<line x1="217.18" y1="255.9" x2="217.18" y2="257.90" stroke="#000" stroke-width="0.85"/>
<line x1="219.06" y1="255.9" x2="219.06" y2="257.90" stroke="#000" stroke-width="0.85"/>
<line x1="220.60" y1="255.9" x2="220.60" y2="257.90" stroke="#000" stroke-width="0.85"/>
<line x1="221.89" y1="255.9" x2="221.89" y2="257.90" stroke="#000" stroke-width="0.85"/>
<line x1="223.02" y1="255.9" x2="223.02" y2="257.90" stroke="#000" stroke-width="0.85"/>
<line x1="224.01" y1="255.9" x2="224.01" y2="257.90" stroke="#000" stroke-width="0.85"/>
<line x1="224.90" y1="255.9" x2="224.90" y2="258.50" stroke="#000" stroke-width="0.85"/>
<line x1="230.74" y1="255.9" x2="230.74" y2="257.90" stroke="#000" stroke-width="0.85"/>
<line x1="234.16" y1="255.9" x2="234.16" y2="257.90" stroke="#000" stroke-width="0.85"/>
<line x1="236.58" y1="255.9" x2="236.58" y2="257.90" stroke="#000" stroke-width="0.85"/>
<line x1="238.46" y1="255.9" x2="238.46" y2="257.90" stroke="#000" stroke-width="0.85"/>
<line x1="240.00" y1="255.9" x2="240.00" y2="257.90" stroke="#000" stroke-width="0.85"/>
<line x1="241.29" y1="255.9" x2="241.29" y2="257.90" stroke="#000" stroke-width="0.85"/>
<line x1="242.42" y1="255.9" x2="242.42" y2="257.90" stroke="#000" stroke-width="0.85"/>
<line x1="243.41" y1="255.9" x2="243.41" y2="257.90" stroke="#000" stroke-width="0.85"/>
<line x1="244.30" y1="255.9" x2="244.30" y2="258.50" stroke="#000" stroke-width="0.85"/>
<line x1="250.14" y1="255.9" x2="250.14" y2="257.90" stroke="#000" stroke-width="0.85"/>
<line x1="253.56" y1="255.9" x2="253.56" y2="257.90" stroke="#000" stroke-width="0.85"/>
<line x1="255.98" y1="255.9" x2="255.98" y2="257.90" stroke="#000" stroke-width="0.85"/>
<line x1="257.86" y1="255.9" x2="257.86" y2="257.90" stroke="#000" stroke-width="0.85"/>
<line x1="259.40" y1="255.9" x2="259.40" y2="257.90" stroke="#000" stroke-width="0.85"/>
<line x1="260.69" y1="255.9" x2="260.69" y2="257.90" stroke="#000" stroke-width="0.85"/>
<line x1="261.82" y1="255.9" x2="261.82" y2="257.90" stroke="#000" stroke-width="0.85"/>
<line x1="262.81" y1="255.9" x2="262.81" y2="257.90" stroke="#000" stroke-width="0.85"/>
<line x1="182.35" y1="255.90" x2="184.55" y2="255.90" stroke="#000" stroke-width="0.7"/>
<line x1="183.35" y1="250.06" x2="184.55" y2="250.06" stroke="#000" stroke-width="0.7"/>
<line x1="183.35" y1="246.64" x2="184.55" y2="246.64" stroke="#000" stroke-width="0.7"/>
<line x1="183.35" y1="244.22" x2="184.55" y2="244.22" stroke="#000" stroke-width="0.7"/>
<line x1="183.35" y1="242.34" x2="184.55" y2="242.34" stroke="#000" stroke-width="0.7"/>
<line x1="183.35" y1="240.80" x2="184.55" y2="240.80" stroke="#000" stroke-width="0.7"/>
<line x1="183.35" y1="239.51" x2="184.55" y2="239.51" stroke="#000" stroke-width="0.7"/>
<line x1="183.35" y1="238.38" x2="184.55" y2="238.38" stroke="#000" stroke-width="0.7"/>
<line x1="183.35" y1="237.39" x2="184.55" y2="237.39" stroke="#000" stroke-width="0.7"/>
<line x1="182.35" y1="236.50" x2="184.55" y2="236.50" stroke="#000" stroke-width="0.7"/>
<line x1="183.35" y1="230.66" x2="184.55" y2="230.66" stroke="#000" stroke-width="0.7"/>
<line x1="183.35" y1="227.24" x2="184.55" y2="227.24" stroke="#000" stroke-width="0.7"/>
<line x1="183.35" y1="224.82" x2="184.55" y2="224.82" stroke="#000" stroke-width="0.7"/>
<line x1="183.35" y1="222.94" x2="184.55" y2="222.94" stroke="#000" stroke-width="0.7"/>
<line x1="183.35" y1="221.40" x2="184.55" y2="221.40" stroke="#000" stroke-width="0.7"/>
<line x1="183.35" y1="220.11" x2="184.55" y2="220.11" stroke="#000" stroke-width="0.7"/>
<line x1="183.35" y1="218.98" x2="184.55" y2="218.98" stroke="#000" stroke-width="0.7"/>
<line x1="183.35" y1="217.99" x2="184.55" y2="217.99" stroke="#000" stroke-width="0.7"/>
<line x1="182.35" y1="217.10" x2="184.55" y2="217.10" stroke="#000" stroke-width="0.7"/>
<line x1="183.35" y1="211.26" x2="184.55" y2="211.26" stroke="#000" stroke-width="0.7"/>
<line x1="183.35" y1="207.84" x2="184.55" y2="207.84" stroke="#000" stroke-width="0.7"/>
<line x1="183.35" y1="205.42" x2="184.55" y2="205.42" stroke="#000" stroke-width="0.7"/>
<line x1="183.35" y1="203.54" x2="184.55" y2="203.54" stroke="#000" stroke-width="0.7"/>
<line x1="183.35" y1="202.00" x2="184.55" y2="202.00" stroke="#000" stroke-width="0.7"/>
<line x1="183.35" y1="200.71" x2="184.55" y2="200.71" stroke="#000" stroke-width="0.7"/>
<line x1="183.35" y1="199.58" x2="184.55" y2="199.58" stroke="#000" stroke-width="0.7"/>
<line x1="183.35" y1="198.59" x2="184.55" y2="198.59" stroke="#000" stroke-width="0.7"/>
<path transform="scale(.1)" d="M2257 2420h9M2429 2443h9M2356 2391h9M2321 2463h9M2408 2404h9M2336 2447h9M2239 2433h9M2284 2334h9M2336 2457h9M2274 2376h9M2389 2445h9M2361 2495h9M2269 2469h9M2286 2431h9M2295 2434h9M2367 2439h9M2291 2422h9M2320 2396h9M2270 2432h9M2266 2429h9M2263 2520h9M2380 2453h9M2297 2528h9M2319 2430h9M2318 2447h9M2385 2433h9M2426 2396h9M2342 2391h9M2409 2420h9M2297 2474h9M2375 2386h9M2279 2374h9M2308 2430h9M2279 2405h9M2277 2402h9M2332 2499h9M2184 2429h9M2275 2455h9M2243 2428h9M2238 2464h9M2306 2427h9M2322 2423h9M2207 2460h9M2317 2427h9M2359 2486h9M2234 2400h9M2393 2495h9M2256 2383h9M2262 2413h9M2205 2435h9M2223 2382h9M2355 2405h9M2296 2461h9M2349 2420h9M2303 2399h9M2405 2462h9M2234 2434h9M2343 2455h9M2410 2493h9M2268 2430h9M2223 2445h9M2309 2550h9M2306 2344h9M2260 2439h9M2225 2397h9M2278 2449h9M2290 2396h9M2347 2411h9M2270 2375h9M2253 2462h9M2203 2431h9M2343 2418h9M2314 2386h9M2379 2481h9M2314 2359h9M2237 2476h9M2403 2447h9M2375 2408h9M2289 2434h9M2325 2368h9M2356 2491h9M2231 2376h9M2321 2406h9M2158 2469h9M2309 2414h9M2427 2440h9M2255 2438h9M2238 2401h9M2323 2410h9M2273 2506h9M2352 2469h9M2332 2455h9M2387 2433h9M2411 2393h9M2285 2375h9M2279 2456h9M2387 2405h9M2300 2419h9M2256 2383h9M2304 2360h9M2307 2435h9M2261 2391h9M2217 2514h9M2219 2501h9M2336 2418h9M2231 2479h9M2404 2394h9M2282 2479h9M2320 2520h9M2266 2457h9M2225 2524h9M2256 2339h9M2292 2428h9M2415 2419h9M2299 2460h9M2395 2431h9M2362 2456h9M2282 2437h9M2302 2395h9M2373 2374h9M2370 2475h9M2294 2401h9M2286 2454h9M2345 2446h9M2360 2410h9M2314 2367h9M2346 2441h9M2275 2484h9M2341 2313h9M2302 2371h9M2364 2541h9M2269 2437h9M2285 2449h9M2339 2489h9M2241 2502h9M2244 2446h9M2370 2465h9M2244 2404h9M2272 2432h9M2369 2378h9M2328 2460h9M2333 2454h9M2391 2455h9M2351 2458h9M2408 2352h9M2377 2423h9M2283 2392h9M2188 2418h9M2259 2455h9M2212 2496h9M2316 2423h9M2257 2400h9M2232 2411h9M2300 2426h9M2215 2423h9M2246 2441h9M2412 2461h9M2281 2364h9M2215 2361h9M2344 2401h9M2304 2407h9M2305 2494h9M2259 2419h9M2252 2472h9M2238 2385h9M2217 2373h9M2328 2544h9M2240 2475h9M2315 2387h9M2283 2424h9M2259 2517h9M2186 2450h9M2320 2409h9M2309 2472h9M2309 2452h9M2342 2347h9M2389 2532h9M2359 2478h9M2216 2429h9M2251 2409h9M2358 2399h9M2292 2352h9M2290 2438h9M2258 2403h9M2413 2382h9M2237 2399h9M2372 2524h9M2320 2403h9M2274 2480h9M2245 2496h9M2385 2437h9M2339 2466h9M2393 2389h9M2371 2418h9M2254 2438h9M2287 2392h9M2204 2393h9M2387 2518h9M2339 2485h9M2269 2431h9M2317 2388h9M2241 2438h9M2281 2388h9M2323 2423h9M2361 2434h9M2282 2439h9M2290 2405h9M2276 2466h9M2339 2489h9M2198 2417h9M2275 2441h9M2273 2412h9M2347 2442h9M2230 2491h9M2360 2409h9M2350 2402h9M2368 2425h9M2252 2418h9M2254 2442h9M2311 2436h9M2267 2277h9M2306 2352h9M2315 2483h9M2316 2417h9M2289 2428h9M2267 2409h9M2245 2485h9M2299 2475h9M2285 2437h9M2290 2454h9M2350 2444h9M2260 2400h9M2400 2422h9M2283 2497h9M2365 2457h9M2276 2535h9M2324 2458h9M2290 2373h9M2220 2452h9M2324 2424h9M2230 2372h9M2280 2371h9M2354 2484h9M2470 2472h9M2264 2397h9M2093 2408h9M2289 2476h9M2337 2459h9M2313 2462h9M2387 2388h9M2273 2374h9M2397 2490h9M2345 2382h9M2310 2424h9M2305 2426h9M2331 2417h9M2351 2444h9M2282 2429h9M2274 2469h9M2284 2447h9M2276 2370h9M2354 2389h9M2341 2452h9M2201 2393h9M2269 2399h9M2229 2466h9M2286 2451h9M2274 2447h9M2255 2433h9M2335 2436h9M2273 2387h9M2310 2449h9M2284 2401h9M2333 2541h9M2282 2448h9M2323 2324h9M2307 2404h9M2383 2423h9M2253 2425h9M2310 2410h9M2297 2376h9M2286 2467h9M2418 2464h9M2316 2485h9M2361 2506h9M2365 2429h9M2316 2442h9M2318 2443h9M2253 2344h9M2260 2347h9M2304 2434h9M2199 2464h9M2352 2438h9M2400 2514h9M2228 2479h9M2326 2452h9M2356 2403h9M2264 2398h9M2255 2430h9M2213 2389h9M2335 2431h9M2323 2353h9M2253 2410h9M2302 2409h9M2356 2431h9M2301 2435h9M2342 2414h9M2367 2454h9M2309 2436h9M2331 2478h9M2357 2450h9M2353 2439h9M2375 2433h9M2175 2492h9M2306 2384h9M2288 2396h9M2426 2455h9M2206 2457h9M2276 2516h9M2237 2337h9M2304 2419h9M2275 2342h9M2326 2506h9M2185 2484h9M2266 2535h9M2326 2426h9M2366 2457h9M2264 2465h9M2269 2357h9M2422 2419h9M2263 2449h9M2206 2376h9M2270 2412h9M2304 2482h9M2272 2455h9M2336 2387h9M2314 2393h9M2364 2454h9M2301 2376h9M2307 2401h9M2342 2429h9M2251 2474h9M2343 2408h9M2370 2421h9M2281 2439h9M2255 2415h9M2290 2500h9M2390 2423h9M2397 2432h9M2323 2472h9M2318 2538h9M2315 2383h9M2378 2416h9M2282 2305h9M2360 2469h9M2348 2476h9M2401 2432h9M2356 2402h9M2279 2479h9M2323 2377h9M2322 2426h9M2251 2453h9M2276 2366h9M2233 2510h9M2209 2444h9M2337 2461h9M2226 2420h9M2308 2468h9M2261 2384h9M2360 2482h9M2322 2408h9M2324 2439h9M2350 2380h9M2307 2427h9M2233 2443h9M2302 2416h9M2324 2373h9M2297 2453h9M2317 2480h9M2228 2369h9M2314 2454h9M2427 2461h9M2248 2469h9M2249 2370h9M2457 2448h9M2343 2458h9M2409 2446h9M2373 2390h9M2216 2495h9M2388 2456h9M2314 2441h9M2259 2500h9M2340 2456h9M2323 2479h9M2330 2466h9M2230 2456h9M2431 2412h9M2292 2472h9M2357 2461h9M2203 2456h9M2229 2399h9M2333 2421h9M2347 2465h9M2246 2406h9M2236 2411h9M2234 2406h9M2287 2391h9M2215 2375h9M2327 2437h9M2362 2479h9M2280 2463h9M2214 2532h9M2372 2425h9M2230 2450h9M2188 2400h9M2345 2437h9M2271 2475h9M2238 2446h9M2270 2398h9M2328 2391h9M2414 2409h9M2419 2387h9M2336 2382h9M2220 2441h9M2341 2379h9M2371 2400h9M2308 2450h9M2336 2357h9M2397 2458h9M2274 2390h9M2198 2375h9M2333 2419h9M2232 2411h9M2394 2420h9M2265 2492h9M2328 2436h9M2264 2367h9M2230 2413h9M2287 2449h9M2333 2444h9M2313 2391h9M2171 2412h9M2243 2406h9M2284 2381h9M2233 2430h9M2307 2406h9M2330 2425h9M2239 2436h9M2413 2405h9M2370 2493h9M2390 2399h9M2421 2439h9M2285 2424h9M2336 2436h9M2289 2489h9M2257 2389h9M2348 2464h9M2366 2388h9M2365 2455h9M2406 2380h9M2313 2422h9M2205 2403h9M2368 2414h9M2257 2471h9M2359 2476h9M2253 2432h9M2362 2406h9M2255 2470h9M2394 2384h9M2144 2372h9M2239 2428h9M2337 2428h9M2258 2441h9M2242 2432h9M2262 2549h9M2349 2398h9M2240 2415h9M2201 2403h9M2256 2472h9M2274 2400h9M2220 2383h9M2296 2425h9M2368 2407h9M2364 2445h9M2300 2348h9M2223 2466h9M2384 2443h9M2346 2416h9M2278 2405h9M2358 2449h9M2286 2420h9M2333 2448h9M2250 2508h9M2315 2434h9M2389 2478h9M2295 2457h9M2236 2406h9M2164 2486h9M2186 2463h9M2250 2392h9M2288 2445h9M2337 2510h9M2322 2472h9M2264 2465h9M2309 2414h9M2294 2431h9M2311 2451h9M2269 2402h9M2345 2361h9M2263 2501h9M2138 2404h9M2341 2363h9M2456 2323h9M2386 2501h9M2355 2424h9M2321 2395h9M2349 2386h9M2284 2477h9M2233 2418h9M2329 2342h9M2443 2457h9M2137 2431h9M2222 2389h9M2319 2385h9M2420 2386h9M2422 2431h9M2408 2397h9M2252 2355h9M2376 2499h9M2552 2523h9M2338 2419h9M2354 2432h9M2477 2499h9M2215 2387h9M2466 2455h9M2284 2516h9M2266 2415h9M2257 2299h9M2409 2351h9M2245 2383h9M2393 2429h9M2312 2318h9M2300 2332h9M2345 2459h9M2370 2475h9M2326 2421h9M2420 2510h9M2162 2507h9M2369 2500h9M2363 2348h9M2339 2336h9M2350 2409h9M2100 2276h9M2127 2453h9M2305 2417h9M2342 2475h9M2070 2413h9M2216 2349h9M2248 2426h9M2280 2334h9M2190 2318h9M2341 2475h9M2363 2357h9M2424 2380h9M2181 2392h9M2298 2483h9M2381 2432h9M2416 2440h9M2412 2337h9M2131 2487h9M2152 2413h9M2299 2400h9M2258 2530h9M2022 2495h9M2572 2436h9M2308 2484h9M2518 2352h9M2320 2421h9M2374 2445h9M2385 2405h9M2316 2388h9M2234 2424h9M2294 2353h9M2489 2425h9M2152 2510h9M2225 2469h9M2308 2451h9M2329 2394h9M2055 2439h9M2360 2362h9M2371 2439h9M2364 2478h9M2444 2464h9M2326 2446h9M2464 2490h9M2196 2390h9M2348 2391h9M2267 2368h9M2280 2463h9M2423 2435h9M2547 2429h9M2367 2400h9M1988 2423h9M2281 2484h9M2020 2444h9M2271 2481h9M2320 2355h9M2418 2482h9M2378 2503h9M2436 2432h9M2155 2339h9M2464 2483h9M2322 2404h9M2314 2436h9M2272 2386h9M2557 2450h9M2241 2344h9M2227 2484h9M2396 2419h9M2316 2413h9M2184 2524h9M2224 2425h9M2411 2417h9M2152 2369h9M2321 2458h9M2299 2503h9M2423 2456h9M2313 2417h9M2373 2497h9M2317 2465h9M2273 2337h9M2196 2487h9M2361 2543h9M2316 2493h9M2461 2502h9M2241 2421h9M2325 2366h9M2364 2504h9M2277 2420h9M2283 2385h9M2358 2435h9M2499 2476h9M2371 2419h9M2149 2428h9M2213 2499h9M2307 2549h9M2394 2491h9M2336 2448h9M2384 2497h9M2229 2468h9M2609 2428h9M2281 2386h9M2145 2516h9M2317 2455h9M2209 2507h9M2381 2461h9M2365 2433h9M2491 2476h9M2350 2520h9M2412 2466h9M2368 2428h9M2213 2411h9M2353 2424h9M2536 2230h9M2503 2473h9M2524 2328h9M2328 2317h9" stroke="#000" stroke-opacity="0.8" stroke-width="9" fill="none"/>
<text x="169.00" y="205.80" font-size="9.6" font-weight="normal" font-style="normal" textLength="8.40" lengthAdjust="spacingAndGlyphs" stroke="#000" stroke-width="0.4" >10</text>
<text x="177.50" y="202.40" font-size="7.4879999999999995" font-weight="normal" font-style="normal" textLength="3.50" lengthAdjust="spacingAndGlyphs" stroke="#000" stroke-width="0.4" >3</text>
<text x="169.00" y="223.50" font-size="9.6" font-weight="normal" font-style="normal" textLength="8.40" lengthAdjust="spacingAndGlyphs" stroke="#000" stroke-width="0.4" >10</text>
<text x="177.50" y="220.10" font-size="7.4879999999999995" font-weight="normal" font-style="normal" textLength="3.50" lengthAdjust="spacingAndGlyphs" stroke="#000" stroke-width="0.4" >2</text>
<text x="169.00" y="242.90" font-size="9.6" font-weight="normal" font-style="normal" textLength="8.40" lengthAdjust="spacingAndGlyphs" stroke="#000" stroke-width="0.4" >10</text>
<text x="177.50" y="239.50" font-size="7.4879999999999995" font-weight="normal" font-style="normal" textLength="3.50" lengthAdjust="spacingAndGlyphs" stroke="#000" stroke-width="0.4" >1</text>
<text transform="translate(164.30 238.80) rotate(-90)" font-size="10.3" font-weight="bold" textLength="24" lengthAdjust="spacingAndGlyphs" stroke="#000" stroke-width="0.5">CCR7</text>
<text x="201.20" y="271.00" font-size="9.6" font-weight="normal" font-style="normal" textLength="7.40" lengthAdjust="spacingAndGlyphs" stroke="#000" stroke-width="0.4" >10</text>
<text x="208.70" y="267.60" font-size="7.5" font-weight="normal" font-style="normal" textLength="3.10" lengthAdjust="spacingAndGlyphs" stroke="#000" stroke-width="0.4" >1</text>
<text x="221.50" y="271.00" font-size="9.6" font-weight="normal" font-style="normal" textLength="7.40" lengthAdjust="spacingAndGlyphs" stroke="#000" stroke-width="0.4" >10</text>
<text x="229.00" y="267.60" font-size="7.5" font-weight="normal" font-style="normal" textLength="3.10" lengthAdjust="spacingAndGlyphs" stroke="#000" stroke-width="0.4" >2</text>
<text x="241.50" y="271.00" font-size="9.6" font-weight="normal" font-style="normal" textLength="7.40" lengthAdjust="spacingAndGlyphs" stroke="#000" stroke-width="0.4" >10</text>
<text x="249.00" y="267.60" font-size="7.5" font-weight="normal" font-style="normal" textLength="3.10" lengthAdjust="spacingAndGlyphs" stroke="#000" stroke-width="0.4" >3</text>
<text x="259.70" y="271.00" font-size="9.6" font-weight="normal" font-style="normal" textLength="7.40" lengthAdjust="spacingAndGlyphs" stroke="#000" stroke-width="0.4" >10</text>
<text x="267.20" y="267.60" font-size="7.5" font-weight="normal" font-style="normal" textLength="3.10" lengthAdjust="spacingAndGlyphs" stroke="#000" stroke-width="0.4" >4</text>
<text x="203.00" y="281.00" font-size="10.6" font-weight="bold" font-style="normal" textLength="42.00" lengthAdjust="spacingAndGlyphs" stroke="#000" stroke-width="0.6" >CD45RA</text>
<text x="8.75" y="327.30" font-size="10" font-weight="normal" font-style="normal" textLength="58.55" lengthAdjust="spacingAndGlyphs" stroke="#000" stroke-width="0.6" >control CD8</text>
<text x="67.80" y="322.50" font-size="8.5" font-weight="normal" font-style="normal" textLength="5.40" lengthAdjust="spacingAndGlyphs" stroke="#000" stroke-width="0.6" >+</text>
<text x="76.25" y="327.30" font-size="10" font-weight="normal" font-style="normal" textLength="16.75" lengthAdjust="spacingAndGlyphs" stroke="#000" stroke-width="0.6" >PBL</text>
<line x1="8.25" y1="333.00" x2="93.75" y2="333.00" stroke="#000" stroke-width="1.8" />
<text x="209.20" y="315.20" font-size="12.2" font-weight="normal" font-style="normal" textLength="42.60" lengthAdjust="spacingAndGlyphs" stroke="#000" stroke-width="0.6" >donor 1</text>
<text x="319.30" y="315.20" font-size="12.2" font-weight="normal" font-style="normal" textLength="43.60" lengthAdjust="spacingAndGlyphs" stroke="#000" stroke-width="0.6" >donor 2</text>
<rect x="185.5" y="319.8" width="94.0" height="69.0" fill="none" stroke="#000" stroke-width="1.0"/>
<line x1="185.25" y1="319.3" x2="185.25" y2="389.3" stroke="#000" stroke-width="1.6"/>
<line x1="216.20" y1="319.80" x2="216.20" y2="388.80" stroke="#000" stroke-width="1.3" />
<line x1="185.50" y1="361.00" x2="279.50" y2="361.00" stroke="#000" stroke-width="1.3" />
<line x1="185.50" y1="388.8" x2="185.50" y2="391.40" stroke="#000" stroke-width="0.85"/>
<line x1="192.57" y1="388.8" x2="192.57" y2="390.80" stroke="#000" stroke-width="0.85"/>
<line x1="196.71" y1="388.8" x2="196.71" y2="390.80" stroke="#000" stroke-width="0.85"/>
<line x1="199.65" y1="388.8" x2="199.65" y2="390.80" stroke="#000" stroke-width="0.85"/>
<line x1="201.93" y1="388.8" x2="201.93" y2="390.80" stroke="#000" stroke-width="0.85"/>
<line x1="203.79" y1="388.8" x2="203.79" y2="390.80" stroke="#000" stroke-width="0.85"/>
<line x1="205.36" y1="388.8" x2="205.36" y2="390.80" stroke="#000" stroke-width="0.85"/>
<line x1="206.72" y1="388.8" x2="206.72" y2="390.80" stroke="#000" stroke-width="0.85"/>
<line x1="207.92" y1="388.8" x2="207.92" y2="390.80" stroke="#000" stroke-width="0.85"/>
<line x1="209.00" y1="388.8" x2="209.00" y2="391.40" stroke="#000" stroke-width="0.85"/>
<line x1="216.07" y1="388.8" x2="216.07" y2="390.80" stroke="#000" stroke-width="0.85"/>
<line x1="220.21" y1="388.8" x2="220.21" y2="390.80" stroke="#000" stroke-width="0.85"/>
<line x1="223.15" y1="388.8" x2="223.15" y2="390.80" stroke="#000" stroke-width="0.85"/>
<line x1="225.43" y1="388.8" x2="225.43" y2="390.80" stroke="#000" stroke-width="0.85"/>
<line x1="227.29" y1="388.8" x2="227.29" y2="390.80" stroke="#000" stroke-width="0.85"/>
<line x1="228.86" y1="388.8" x2="228.86" y2="390.80" stroke="#000" stroke-width="0.85"/>
<line x1="230.22" y1="388.8" x2="230.22" y2="390.80" stroke="#000" stroke-width="0.85"/>
<line x1="231.42" y1="388.8" x2="231.42" y2="390.80" stroke="#000" stroke-width="0.85"/>
<line x1="232.50" y1="388.8" x2="232.50" y2="391.40" stroke="#000" stroke-width="0.85"/>
<line x1="239.57" y1="388.8" x2="239.57" y2="390.80" stroke="#000" stroke-width="0.85"/>
<line x1="243.71" y1="388.8" x2="243.71" y2="390.80" stroke="#000" stroke-width="0.85"/>
<line x1="246.65" y1="388.8" x2="246.65" y2="390.80" stroke="#000" stroke-width="0.85"/>
<line x1="248.93" y1="388.8" x2="248.93" y2="390.80" stroke="#000" stroke-width="0.85"/>
<line x1="250.79" y1="388.8" x2="250.79" y2="390.80" stroke="#000" stroke-width="0.85"/>
<line x1="252.36" y1="388.8" x2="252.36" y2="390.80" stroke="#000" stroke-width="0.85"/>
<line x1="253.72" y1="388.8" x2="253.72" y2="390.80" stroke="#000" stroke-width="0.85"/>
<line x1="254.92" y1="388.8" x2="254.92" y2="390.80" stroke="#000" stroke-width="0.85"/>
<line x1="256.00" y1="388.8" x2="256.00" y2="391.40" stroke="#000" stroke-width="0.85"/>
<line x1="263.07" y1="388.8" x2="263.07" y2="390.80" stroke="#000" stroke-width="0.85"/>
<line x1="267.21" y1="388.8" x2="267.21" y2="390.80" stroke="#000" stroke-width="0.85"/>
<line x1="270.15" y1="388.8" x2="270.15" y2="390.80" stroke="#000" stroke-width="0.85"/>
<line x1="272.43" y1="388.8" x2="272.43" y2="390.80" stroke="#000" stroke-width="0.85"/>
<line x1="274.29" y1="388.8" x2="274.29" y2="390.80" stroke="#000" stroke-width="0.85"/>
<line x1="275.86" y1="388.8" x2="275.86" y2="390.80" stroke="#000" stroke-width="0.85"/>
<line x1="277.22" y1="388.8" x2="277.22" y2="390.80" stroke="#000" stroke-width="0.85"/>
<line x1="278.42" y1="388.8" x2="278.42" y2="390.80" stroke="#000" stroke-width="0.85"/>
<line x1="182.25" y1="388.80" x2="184.45" y2="388.80" stroke="#000" stroke-width="0.7"/>
<line x1="183.25" y1="381.73" x2="184.45" y2="381.73" stroke="#000" stroke-width="0.7"/>
<line x1="183.25" y1="377.59" x2="184.45" y2="377.59" stroke="#000" stroke-width="0.7"/>
<line x1="183.25" y1="374.65" x2="184.45" y2="374.65" stroke="#000" stroke-width="0.7"/>
<line x1="183.25" y1="372.37" x2="184.45" y2="372.37" stroke="#000" stroke-width="0.7"/>
<line x1="183.25" y1="370.51" x2="184.45" y2="370.51" stroke="#000" stroke-width="0.7"/>
<line x1="183.25" y1="368.94" x2="184.45" y2="368.94" stroke="#000" stroke-width="0.7"/>
<line x1="183.25" y1="367.58" x2="184.45" y2="367.58" stroke="#000" stroke-width="0.7"/>
<line x1="183.25" y1="366.38" x2="184.45" y2="366.38" stroke="#000" stroke-width="0.7"/>
<line x1="182.25" y1="365.30" x2="184.45" y2="365.30" stroke="#000" stroke-width="0.7"/>
<line x1="183.25" y1="358.23" x2="184.45" y2="358.23" stroke="#000" stroke-width="0.7"/>
<line x1="183.25" y1="354.09" x2="184.45" y2="354.09" stroke="#000" stroke-width="0.7"/>
<line x1="183.25" y1="351.15" x2="184.45" y2="351.15" stroke="#000" stroke-width="0.7"/>
<line x1="183.25" y1="348.87" x2="184.45" y2="348.87" stroke="#000" stroke-width="0.7"/>
<line x1="183.25" y1="347.01" x2="184.45" y2="347.01" stroke="#000" stroke-width="0.7"/>
<line x1="183.25" y1="345.44" x2="184.45" y2="345.44" stroke="#000" stroke-width="0.7"/>
<line x1="183.25" y1="344.08" x2="184.45" y2="344.08" stroke="#000" stroke-width="0.7"/>
<line x1="183.25" y1="342.88" x2="184.45" y2="342.88" stroke="#000" stroke-width="0.7"/>
<line x1="182.25" y1="341.80" x2="184.45" y2="341.80" stroke="#000" stroke-width="0.7"/>
<line x1="183.25" y1="334.73" x2="184.45" y2="334.73" stroke="#000" stroke-width="0.7"/>
<line x1="183.25" y1="330.59" x2="184.45" y2="330.59" stroke="#000" stroke-width="0.7"/>
<line x1="183.25" y1="327.65" x2="184.45" y2="327.65" stroke="#000" stroke-width="0.7"/>
<line x1="183.25" y1="325.37" x2="184.45" y2="325.37" stroke="#000" stroke-width="0.7"/>
<line x1="183.25" y1="323.51" x2="184.45" y2="323.51" stroke="#000" stroke-width="0.7"/>
<line x1="183.25" y1="321.94" x2="184.45" y2="321.94" stroke="#000" stroke-width="0.7"/>
<line x1="183.25" y1="320.58" x2="184.45" y2="320.58" stroke="#000" stroke-width="0.7"/>
<path transform="scale(.1)" d="M2269 3528h9M2326 3500h9M2213 3468h9M2227 3485h9M2185 3496h9M2301 3487h9M2292 3457h9M2200 3468h9M2326 3530h9M2248 3537h9M2254 3548h9M2293 3475h9M2308 3463h9M2225 3438h9M2282 3490h9M2266 3477h9M2339 3476h9M2235 3538h9M2338 3505h9M2186 3470h9M2299 3493h9M2345 3441h9M2303 3469h9M2334 3489h9M2319 3468h9M2202 3451h9M2241 3454h9M2328 3542h9M2283 3454h9M2264 3467h9M2340 3504h9M2293 3477h9M2173 3463h9M2216 3506h9M2275 3462h9M2251 3550h9M2224 3458h9M2259 3466h9M2249 3512h9M2353 3426h9M2269 3494h9M2266 3485h9M2254 3529h9M2248 3487h9M2270 3496h9M2262 3529h9M2270 3498h9M2268 3455h9M2230 3453h9M2279 3466h9M2219 3501h9M2295 3427h9M2351 3493h9M2265 3531h9M2273 3470h9M2375 3452h9M2265 3523h9M2219 3488h9M2289 3581h9M2227 3490h9M2302 3495h9M2212 3507h9M2275 3508h9M2324 3529h9M2290 3503h9M2217 3487h9M2281 3477h9M2275 3461h9M2344 3572h9M2251 3507h9M2259 3539h9M2291 3495h9M2259 3497h9M2222 3517h9M2236 3512h9M2276 3533h9M2269 3530h9M2226 3515h9M2259 3499h9M2273 3527h9M2173 3504h9M2198 3537h9M2175 3455h9M2190 3553h9M2208 3496h9M2244 3425h9M2254 3517h9M2261 3527h9M2253 3492h9M2252 3505h9M2361 3505h9M2279 3469h9M2234 3546h9M2217 3458h9M2265 3476h9M2364 3404h9M2287 3518h9M2216 3468h9M2291 3552h9M2226 3434h9M2317 3548h9M2254 3410h9M2340 3485h9M2324 3490h9M2252 3475h9M2341 3545h9M2167 3457h9M2355 3478h9M2205 3492h9M2265 3488h9M2247 3481h9M2248 3504h9M2231 3481h9M2263 3540h9M2288 3488h9M2296 3507h9M2322 3511h9M2356 3542h9M2268 3477h9M2312 3511h9M2265 3437h9M2182 3505h9M2307 3522h9M2208 3530h9M2244 3506h9M2290 3462h9M2242 3415h9M2226 3425h9M2291 3494h9M2314 3505h9M2240 3505h9M2251 3515h9M2285 3455h9M2270 3494h9M2255 3525h9M2352 3478h9M2253 3409h9M2264 3476h9M2166 3503h9M2298 3465h9M2252 3456h9M2307 3436h9M2255 3564h9M2272 3509h9M2263 3449h9M2268 3507h9M2221 3505h9M2330 3532h9M2194 3456h9M2193 3532h9M2299 3518h9M2228 3449h9M2274 3496h9M2229 3497h9M2301 3500h9M2220 3414h9M2258 3498h9M2258 3476h9M2237 3518h9M2267 3497h9M2223 3469h9M2278 3455h9M2210 3480h9M2328 3499h9M2340 3487h9M2255 3440h9M2242 3545h9M2286 3519h9M2304 3492h9M2260 3496h9M2302 3509h9M2294 3498h9M2233 3482h9M2225 3529h9M2169 3484h9M2385 3479h9M2216 3491h9M2332 3486h9M2299 3496h9M2252 3609h9M2273 3472h9M2246 3506h9M2290 3521h9M2277 3439h9M2296 3481h9M2256 3437h9M2242 3465h9M2268 3438h9M2272 3497h9M2216 3469h9M2229 3526h9M2149 3479h9M2190 3476h9M2311 3469h9M2277 3461h9M2363 3526h9M2324 3443h9M2217 3532h9M2261 3482h9M2286 3446h9M2307 3493h9M2293 3467h9M2295 3466h9M2316 3534h9M2314 3511h9M2300 3392h9M2310 3482h9M2275 3482h9M2203 3472h9M2302 3544h9M2240 3459h9M2340 3459h9M2370 3494h9M2228 3528h9M2351 3439h9M2345 3482h9M2341 3478h9M2194 3511h9M2314 3570h9M2353 3518h9M2259 3473h9M2256 3461h9M2257 3398h9M2279 3491h9M2393 3520h9M2247 3513h9M2211 3470h9M2180 3545h9M2298 3449h9M2267 3527h9M2294 3506h9M2229 3468h9M2275 3526h9M2230 3451h9M2325 3458h9M2322 3501h9M2312 3557h9M2303 3521h9M2226 3466h9M2301 3549h9M2337 3578h9M2285 3500h9M2318 3493h9M2267 3453h9M2318 3452h9M2295 3439h9M2323 3454h9M2310 3433h9M2249 3536h9M2231 3494h9M2247 3407h9M2285 3508h9M2217 3513h9M2232 3455h9M2270 3467h9M2380 3434h9M2305 3529h9M2175 3428h9M2297 3474h9M2288 3534h9M2252 3453h9M2139 3500h9M2225 3504h9M2281 3441h9M2353 3532h9M2311 3448h9M2250 3472h9M2250 3450h9M2291 3500h9M2288 3473h9M2332 3499h9M2139 3468h9M2267 3528h9M2256 3483h9M2238 3517h9M2249 3470h9M2234 3513h9M2244 3430h9M2300 3466h9M2287 3506h9M2328 3531h9M2242 3486h9M2208 3554h9M2291 3544h9M2255 3416h9M2344 3495h9M2276 3494h9M2301 3512h9M2194 3532h9M2245 3475h9M2353 3526h9M2254 3423h9M2278 3512h9M2266 3446h9M2232 3446h9M2280 3522h9M2319 3465h9M2281 3513h9M2245 3487h9M2372 3500h9M2312 3476h9M2272 3429h9M2269 3536h9M2371 3536h9M2303 3494h9M2241 3486h9M2299 3463h9M2315 3456h9M2185 3455h9M2190 3441h9M2324 3485h9M2280 3535h9M2330 3473h9M2334 3506h9M2270 3508h9M2202 3463h9M2265 3515h9M2252 3487h9M2317 3544h9M2307 3539h9M2251 3481h9M2285 3481h9M2246 3553h9M2260 3456h9M2293 3560h9M2274 3538h9M2249 3474h9M2237 3487h9M2358 3449h9M2349 3455h9M2259 3523h9M2300 3502h9M2191 3505h9M2221 3587h9M2260 3499h9M2215 3474h9M2208 3528h9M2257 3513h9M2237 3473h9M2332 3456h9M2184 3507h9M2215 3476h9M2314 3462h9M2312 3467h9M2342 3541h9M2247 3484h9M2230 3499h9M2325 3438h9M2314 3443h9M2229 3426h9M2371 3494h9M2282 3467h9M2321 3414h9M2271 3574h9M2252 3493h9M2302 3462h9M2271 3528h9M2279 3506h9M2253 3504h9M2273 3546h9M2305 3483h9M2153 3518h9M2306 3458h9M2174 3450h9M2314 3453h9M2248 3500h9M2329 3491h9M2265 3472h9M2348 3531h9M2265 3440h9M2232 3513h9M2235 3525h9M2287 3503h9M2301 3510h9M2229 3480h9M2382 3447h9M2247 3531h9M2262 3462h9M2206 3512h9M2319 3544h9M2273 3531h9M2220 3498h9M2237 3498h9M2306 3532h9M2222 3539h9M2247 3454h9M2262 3438h9M2270 3503h9M2260 3512h9M2255 3492h9M2201 3494h9M2229 3475h9M2266 3499h9M2191 3434h9M2256 3510h9M2287 3525h9M2332 3510h9M2269 3454h9M2225 3475h9M2283 3500h9M2270 3486h9M2300 3500h9M2284 3503h9M2244 3454h9M2294 3507h9M2259 3477h9M2379 3464h9M2260 3502h9M2215 3496h9M2356 3527h9M2300 3514h9M2275 3527h9M2263 3476h9M2275 3526h9M2286 3517h9M2173 3536h9M2382 3541h9M2255 3461h9M2283 3455h9M2305 3473h9M2316 3542h9M2172 3503h9M2236 3440h9M2240 3484h9M2320 3436h9M2320 3567h9M2299 3512h9M2269 3449h9M2296 3506h9M2305 3587h9M2305 3508h9M2345 3442h9M2215 3478h9M2239 3518h9M2255 3556h9M2343 3520h9M2251 3515h9M2309 3453h9M2287 3518h9M2280 3550h9M2328 3461h9M2276 3461h9M2298 3460h9M2314 3506h9M2317 3487h9M2200 3557h9M2262 3543h9M2291 3517h9M2358 3505h9M2337 3437h9M2312 3483h9M2264 3492h9M2287 3553h9M2181 3494h9M2236 3535h9M2250 3509h9M2251 3517h9M2319 3477h9M2272 3439h9M2285 3524h9M2243 3533h9M2170 3424h9M2203 3474h9M2271 3489h9M2267 3519h9M2247 3445h9M2210 3570h9M2157 3485h9M2340 3510h9M2230 3492h9M2311 3537h9M2227 3520h9M2282 3533h9M2337 3479h9M2200 3507h9M2355 3517h9M2281 3581h9M2220 3525h9M2243 3494h9M2274 3548h9M2225 3472h9M2194 3510h9M2248 3508h9M2218 3479h9M2320 3486h9M2300 3512h9M2253 3434h9M2317 3498h9M2317 3418h9M2191 3413h9M2228 3531h9M2297 3491h9M2276 3520h9M2255 3507h9M2277 3411h9M2252 3542h9M2251 3487h9M2241 3474h9M2324 3482h9M2221 3377h9M2243 3419h9M2182 3521h9M2304 3421h9M2311 3509h9M2232 3519h9M2192 3447h9M2201 3451h9M2312 3443h9M2215 3457h9M2279 3479h9M2311 3466h9M2208 3473h9M2272 3457h9M2283 3559h9M2242 3493h9M2334 3468h9M2229 3451h9M2288 3511h9M2262 3493h9M2330 3523h9M2202 3491h9M2274 3518h9M2258 3467h9M2247 3425h9M2267 3469h9M2291 3453h9M2248 3455h9M2217 3517h9M2246 3507h9M2215 3494h9M2187 3473h9M2244 3512h9M2277 3484h9M2308 3498h9M2294 3519h9M2265 3480h9M2284 3475h9M2286 3531h9M2309 3476h9M2206 3488h9M2262 3531h9M2249 3483h9M2303 3473h9M2260 3554h9M2339 3514h9M2281 3454h9M2294 3492h9M2278 3471h9M2267 3483h9M2283 3543h9M2285 3429h9M2221 3432h9M2230 3511h9M2287 3468h9M2280 3462h9M2200 3438h9M2227 3543h9M2203 3536h9M2331 3483h9M2265 3468h9M2266 3514h9M2268 3527h9M2324 3503h9M2283 3488h9M2284 3449h9M2287 3498h9M2226 3570h9M2221 3458h9M2281 3419h9M2230 3434h9M2221 3485h9M2283 3531h9M2306 3534h9M2296 3473h9M2321 3472h9M2238 3546h9M2305 3498h9M2303 3522h9M2202 3487h9M2211 3494h9M2235 3540h9M2292 3460h9M2266 3445h9M2269 3510h9M2280 3419h9M2251 3509h9M2282 3533h9M2206 3509h9M2236 3497h9M2287 3515h9M2240 3497h9M2211 3438h9M2294 3488h9M2190 3458h9M2268 3547h9M2317 3519h9M2182 3486h9M2290 3504h9M2287 3481h9M2352 3544h9M2263 3454h9M2366 3469h9M2325 3560h9M2222 3501h9M2251 3509h9M2283 3562h9M2296 3490h9M2321 3480h9M2250 3573h9M2228 3472h9M2269 3451h9M2166 3529h9M2230 3470h9M2249 3454h9M2216 3496h9M2382 3517h9M2303 3434h9M2266 3446h9M2304 3481h9M2269 3487h9M2239 3434h9M2295 3439h9M2210 3479h9M2233 3500h9M2316 3499h9M2277 3491h9M2308 3422h9M2285 3455h9M2208 3490h9M2249 3511h9M2320 3404h9M2264 3562h9M2309 3543h9M2272 3437h9M2213 3516h9M2313 3463h9M2254 3499h9M2183 3477h9M2345 3571h9M2262 3558h9M2242 3460h9M2160 3525h9M2249 3576h9M2283 3497h9M2180 3545h9M2250 3484h9M2161 3524h9M2315 3467h9M2272 3504h9M2313 3494h9M2350 3481h9M2238 3473h9M2145 3460h9M2316 3500h9M2228 3503h9M2170 3479h9M2293 3516h9M2230 3524h9M2357 3474h9M2303 3432h9M2173 3513h9M2269 3497h9M2239 3479h9M2306 3554h9M2257 3429h9M2329 3512h9M2300 3497h9M2379 3493h9M2292 3422h9M2240 3465h9M2266 3503h9M2232 3554h9M2216 3473h9M2279 3444h9M2295 3514h9M2253 3561h9M2271 3501h9M2221 3428h9M2237 3478h9M2246 3519h9M2153 3448h9M2180 3540h9M2240 3471h9M2215 3523h9M2248 3498h9M2170 3533h9M2287 3511h9M2327 3483h9M2260 3517h9M2288 3481h9M2270 3471h9M2302 3525h9M2268 3560h9M2194 3482h9M2350 3475h9M2191 3542h9M2294 3446h9M2305 3452h9M2203 3485h9M2245 3450h9M2250 3453h9M2271 3489h9M2304 3473h9M2204 3441h9M2256 3547h9M2309 3466h9M2313 3447h9M2316 3476h9M2305 3513h9M2254 3502h9M2216 3488h9M2320 3642h9M2302 3494h9M2219 3530h9M2188 3460h9M2285 3446h9M2342 3531h9M2240 3470h9M2204 3438h9M2289 3513h9M2285 3500h9M2241 3504h9M2197 3491h9M2339 3539h9M2245 3478h9M2334 3557h9M2196 3474h9M2279 3536h9M2227 3514h9M2253 3579h9M2289 3485h9M2252 3530h9M2301 3450h9M2278 3441h9M2231 3442h9M2204 3465h9M2221 3510h9M2306 3481h9M2214 3520h9M2170 3419h9M2303 3515h9M2315 3482h9M2207 3471h9M2295 3462h9M2234 3439h9M2212 3522h9M2290 3447h9M2216 3469h9M2294 3447h9M2260 3411h9M2207 3506h9M2311 3447h9M2231 3520h9M2249 3470h9M2293 3498h9M2321 3520h9M2240 3486h9M2265 3440h9M2221 3526h9M2191 3527h9M2282 3485h9M2294 3508h9M2326 3476h9M2257 3481h9M2359 3526h9M2223 3478h9M2234 3491h9M2278 3576h9M2180 3529h9M2289 3464h9M2261 3472h9M2271 3528h9M2195 3539h9M2250 3546h9M2288 3536h9M2295 3531h9M2271 3460h9M2301 3517h9M2369 3416h9M2259 3530h9M2208 3482h9M2370 3543h9M2226 3544h9M2325 3520h9M2287 3500h9M2227 3472h9M2304 3496h9M2357 3478h9M2153 3478h9M2282 3505h9M2272 3460h9M2340 3466h9M2303 3480h9M2211 3543h9M2148 3459h9M2290 3478h9M2305 3487h9M2247 3571h9M2258 3485h9M2217 3463h9M2300 3512h9M2269 3465h9M2302 3428h9M2253 3482h9M2228 3497h9M2237 3462h9M2356 3519h9M2327 3493h9M2316 3520h9M2328 3579h9M2259 3501h9M2267 3362h9M2202 3492h9M2300 3470h9M2324 3539h9M2250 3544h9M2354 3509h9M2223 3546h9M2262 3478h9M2275 3472h9M2321 3521h9M2328 3513h9M2232 3486h9M2312 3477h9M2410 3483h9M2242 3535h9M2306 3491h9M2259 3508h9M2310 3520h9M2256 3508h9M2311 3520h9M2122 3459h9M2233 3483h9M2279 3526h9M2300 3487h9M2271 3557h9M2241 3503h9M2345 3505h9M2172 3506h9M2251 3488h9M2320 3509h9M2257 3525h9M2291 3496h9M2284 3501h9M2254 3475h9M2271 3457h9M2210 3540h9M2258 3491h9M2264 3493h9M2271 3494h9M2231 3526h9M2237 3530h9M2178 3453h9M2318 3487h9M2238 3506h9M2220 3495h9M2164 3475h9M2239 3512h9M2312 3460h9M2347 3470h9M2171 3404h9M2344 3489h9M2239 3464h9M2218 3542h9M2266 3558h9M2260 3405h9M2311 3478h9M2259 3550h9M2257 3535h9M2270 3464h9M2294 3470h9M2329 3528h9M2273 3515h9M2297 3482h9M2313 3484h9M2300 3457h9M2275 3507h9M2232 3477h9M2245 3519h9M2236 3508h9M2343 3505h9M2193 3497h9M2320 3482h9M2324 3515h9M2291 3483h9M2246 3483h9M2273 3512h9M2291 3481h9M2274 3507h9M2193 3464h9M2232 3485h9M2257 3483h9M2229 3517h9M2284 3432h9M2271 3451h9M2352 3476h9M2252 3496h9M2261 3490h9M2345 3501h9M2311 3534h9M2224 3555h9M2304 3528h9M2229 3523h9M2291 3473h9M2380 3514h9M2259 3500h9M2315 3535h9M2299 3538h9M2341 3447h9M2248 3458h9M2276 3546h9M2302 3454h9M2257 3531h9M2245 3489h9M2286 3425h9M2308 3505h9M2298 3457h9M2234 3471h9M2283 3495h9M2277 3559h9M2334 3466h9M2240 3556h9M2256 3544h9M2348 3473h9M2258 3496h9M2229 3457h9M2252 3524h9M2249 3485h9M2249 3442h9M2342 3406h9M2240 3513h9M2204 3515h9M2331 3461h9M2281 3452h9M2295 3496h9M2281 3543h9M2294 3543h9M2301 3448h9M2283 3511h9M2202 3542h9M2274 3506h9M2228 3495h9M2285 3481h9M2275 3414h9M2336 3451h9M2166 3457h9M2231 3513h9M2227 3503h9M2225 3574h9M2297 3565h9M2222 3517h9M2225 3514h9M2303 3434h9M2216 3449h9M2199 3466h9M2225 3439h9M2275 3513h9M2208 3472h9M2271 3484h9M2237 3522h9M2311 3518h9M2261 3566h9M2354 3478h9M2265 3536h9M2232 3507h9M2273 3466h9M2259 3434h9M2244 3419h9M2380 3548h9M2329 3504h9M2318 3539h9M2319 3526h9M2227 3508h9M2245 3449h9M2216 3508h9M2321 3442h9M2354 3547h9M2252 3475h9M2267 3528h9M2252 3451h9M2287 3416h9M2277 3535h9M2285 3521h9M2294 3519h9M2277 3461h9M2259 3489h9M2330 3552h9M2290 3464h9M2235 3485h9M2337 3504h9M2267 3464h9M2312 3503h9M2268 3496h9M2351 3486h9M2351 3538h9M2273 3525h9M2264 3461h9M2257 3458h9M2295 3493h9M2297 3523h9M2198 3482h9M2266 3476h9M2314 3474h9M2431 3407h9M2370 3467h9M2262 3494h9M2362 3451h9M2322 3589h9M2340 3403h9M2312 3456h9M2340 3467h9M2306 3490h9M2335 3420h9M2318 3456h9M2404 3488h9M2342 3471h9M2371 3545h9M2328 3487h9M2398 3435h9M2370 3476h9M2336 3491h9M2413 3512h9M2350 3477h9M2482 3429h9M2372 3503h9M2368 3494h9M2369 3498h9M2427 3462h9M2370 3468h9M2339 3469h9M2301 3498h9M2449 3533h9M2426 3434h9M2439 3444h9M2357 3538h9M2304 3501h9M2375 3464h9M2314 3486h9M2336 3509h9M2424 3419h9M2334 3458h9M2299 3429h9M2365 3462h9M2274 3450h9M2387 3425h9M2312 3529h9M2428 3410h9M2290 3484h9M2298 3461h9M2337 3491h9M2229 3389h9M2296 3508h9M2352 3407h9M2386 3496h9M2347 3458h9M2383 3515h9M2368 3490h9M2357 3456h9M2312 3479h9M2344 3461h9M2408 3488h9M2405 3412h9M2389 3448h9M2318 3438h9M2423 3501h9M2323 3428h9M2361 3453h9M2446 3416h9M2265 3461h9M2361 3475h9M2399 3547h9M2342 3450h9M2269 3479h9M2404 3460h9M2421 3471h9M2439 3482h9M2305 3446h9M2280 3406h9M2374 3502h9M2462 3468h9M2348 3429h9M2411 3484h9M2329 3495h9M2389 3401h9M2399 3475h9M2340 3455h9M2451 3527h9M2455 3427h9M2326 3504h9M2297 3443h9M2266 3539h9M2415 3487h9M2371 3455h9M2339 3493h9M2323 3515h9M2334 3438h9M2427 3465h9M2389 3455h9M2243 3490h9M2290 3510h9M2279 3401h9M2376 3486h9M2366 3425h9M2406 3416h9M2336 3441h9M2340 3502h9M2327 3491h9M2396 3407h9M2299 3456h9M2329 3481h9M2260 3497h9M2399 3464h9M2288 3470h9M2332 3491h9M2356 3497h9M2337 3523h9M2240 3432h9M2386 3414h9M2398 3425h9M2365 3436h9M2337 3476h9M2355 3456h9M2472 3470h9M2310 3504h9M2403 3515h9M2453 3435h9M2415 3512h9M2360 3479h9M2204 3449h9M2453 3404h9M2332 3481h9M2390 3530h9M2268 3472h9M2405 3421h9M2358 3540h9M2428 3490h9M2224 3465h9M2380 3459h9M2357 3584h9M2349 3434h9M2373 3458h9M2344 3467h9M2400 3479h9M2298 3465h9M2385 3453h9M2420 3499h9M2308 3482h9M2463 3528h9M2357 3503h9M2325 3416h9M2389 3479h9M2387 3469h9M2377 3451h9M2385 3501h9M2357 3500h9M2268 3441h9M2435 3535h9M2373 3466h9M2294 3483h9M2400 3415h9M2389 3488h9M2383 3428h9M2388 3415h9M2437 3475h9M2299 3520h9M2420 3446h9M2475 3433h9M2376 3514h9M2242 3507h9M2357 3469h9M2304 3482h9M2302 3434h9M2337 3425h9M2442 3421h9M2321 3458h9M2360 3499h9M2403 3459h9M2340 3471h9M2403 3496h9M2333 3394h9M2471 3505h9M2374 3483h9M2333 3433h9M2343 3462h9M2327 3416h9M2344 3491h9M2334 3471h9M2252 3462h9M2354 3425h9M2270 3485h9M2318 3488h9M2338 3493h9M2342 3414h9M2356 3458h9M2394 3453h9M2340 3502h9M2421 3498h9M2414 3487h9M2400 3502h9M2381 3472h9M2367 3559h9M2361 3461h9M2341 3469h9M2373 3428h9M2257 3481h9M2276 3480h9M2367 3513h9M2447 3484h9M2331 3427h9M2319 3471h9M2252 3473h9M2359 3494h9M2343 3474h9M2322 3453h9M2268 3475h9M2441 3476h9M2379 3434h9M2434 3442h9M2402 3474h9M2310 3508h9M2361 3477h9M2384 3469h9M2340 3487h9M2339 3472h9M2325 3415h9M2325 3452h9M2361 3514h9M2272 3475h9M2245 3431h9M2334 3387h9M2263 3476h9M2364 3466h9M2318 3550h9M2352 3438h9M2447 3493h9M2341 3514h9M2368 3494h9M2372 3432h9M2411 3476h9M2308 3442h9M2410 3456h9M2362 3494h9M2367 3414h9M2393 3505h9M2405 3530h9M2379 3499h9M2443 3459h9M2450 3534h9M2401 3538h9M2404 3437h9M2419 3482h9M2382 3476h9M2431 3490h9M2324 3488h9M2398 3443h9M2337 3456h9M2328 3483h9M2413 3540h9M2422 3508h9M2419 3519h9M2340 3496h9M2377 3465h9M2336 3451h9M2346 3424h9M2387 3469h9M2366 3483h9M2398 3448h9M2354 3410h9M2245 3398h9M2440 3402h9M2385 3525h9M2336 3530h9M2456 3505h9M2483 3493h9M2322 3489h9M2337 3422h9M2294 3556h9M2332 3469h9M2326 3475h9M2348 3455h9M2298 3418h9M2322 3481h9M2469 3509h9M2456 3488h9M2356 3422h9M2361 3391h9M2345 3531h9M2378 3512h9M2341 3420h9M2336 3456h9M2424 3544h9M2323 3458h9M2354 3458h9M2297 3474h9M2380 3485h9M2299 3467h9M2271 3505h9M2308 3461h9M2338 3449h9M2306 3406h9M2452 3481h9M2375 3549h9M2356 3492h9M2363 3515h9M2388 3483h9M2348 3482h9M2422 3394h9M2355 3456h9M2346 3398h9M2400 3440h9M2350 3453h9M2275 3455h9M2266 3436h9M2345 3471h9M2365 3466h9M2473 3487h9M2298 3449h9M2328 3465h9M2330 3440h9M2447 3473h9M2344 3462h9M2350 3523h9M2387 3513h9M2200 3483h9M2417 3544h9M2363 3408h9M2392 3449h9M2269 3448h9M2417 3516h9M2399 3433h9M2493 3428h9M2358 3418h9M2430 3488h9M2408 3475h9M2358 3478h9M2264 3508h9M2410 3457h9M2361 3483h9M2444 3487h9M2364 3453h9M2284 3449h9M2366 3462h9M2366 3499h9M2385 3482h9M2396 3479h9M2361 3489h9M2273 3518h9M2295 3503h9M2363 3513h9M2364 3437h9M2418 3479h9M2369 3475h9M2415 3502h9M2375 3414h9M2342 3476h9M2456 3486h9M2358 3516h9M2357 3471h9M2371 3417h9M2413 3488h9M2348 3430h9M2374 3524h9M2330 3433h9M2385 3413h9M2247 3456h9M2327 3462h9M2334 3484h9M2351 3450h9M2339 3495h9M2413 3506h9M2399 3350h9M2311 3461h9M2374 3412h9M2437 3483h9M2331 3478h9M2345 3444h9M2389 3455h9M2290 3449h9M2357 3432h9M2429 3432h9M2455 3505h9M2314 3477h9M2425 3465h9M2301 3476h9M2467 3417h9M2392 3473h9M2357 3458h9M2347 3511h9M2395 3436h9M2445 3425h9M2398 3479h9M2426 3486h9M2419 3472h9M2414 3485h9M2475 3447h9M2426 3490h9M2373 3452h9M2387 3418h9M2293 3499h9M2283 3526h9M2350 3482h9M2368 3488h9M2349 3459h9M2357 3512h9M2423 3520h9M2383 3465h9M2277 3497h9M2408 3458h9M2406 3521h9M2369 3512h9M2380 3409h9M2339 3458h9M2392 3441h9M2341 3437h9M2362 3475h9M2415 3502h9M2373 3482h9M2370 3477h9M2444 3381h9M2355 3484h9M2423 3432h9M2382 3505h9M2341 3402h9M2345 3428h9M2398 3441h9M2457 3478h9M2322 3454h9M2307 3487h9M2442 3465h9M2412 3438h9M2380 3558h9M2291 3518h9M2425 3403h9M2289 3437h9M2414 3457h9M2355 3499h9M2370 3481h9M2347 3514h9M2324 3535h9M2346 3443h9M2398 3489h9M2261 3481h9M2294 3442h9M2405 3441h9M2382 3459h9M2464 3469h9M2303 3432h9M2317 3477h9M2364 3508h9M2372 3477h9M2380 3468h9M2379 3501h9M2404 3452h9M2272 3443h9M2378 3380h9M2339 3489h9M2334 3431h9M2454 3524h9M2350 3521h9M2431 3430h9M2502 3438h9M2349 3432h9M2367 3423h9M2363 3512h9M2374 3462h9M2443 3439h9M2413 3461h9M2374 3473h9M2369 3470h9M2322 3451h9M2386 3468h9M2302 3446h9M2326 3470h9M2372 3475h9M2328 3472h9M2291 3365h9M2359 3410h9M2313 3427h9M2395 3427h9M2376 3453h9M2297 3413h9M2386 3485h9M2402 3539h9M2375 3481h9M2355 3475h9M2343 3438h9M2465 3402h9M2374 3487h9M2369 3435h9M2351 3453h9M2305 3469h9M2339 3450h9M2396 3431h9M2383 3448h9M2382 3473h9M2373 3434h9M2320 3438h9M2369 3498h9M2416 3451h9M2364 3410h9M2245 3438h9M2325 3412h9M2267 3489h9M2318 3408h9M2480 3476h9M2343 3494h9M2320 3528h9M2279 3421h9M2352 3441h9M2432 3410h9M2321 3478h9M2388 3506h9M2376 3550h9M2334 3475h9M2403 3457h9M2343 3452h9M2325 3427h9M2329 3412h9M2378 3410h9M2465 3531h9M2415 3461h9M2327 3514h9M2367 3489h9M2320 3508h9M2316 3472h9M2268 3444h9M2384 3452h9M2334 3497h9M2354 3514h9M2232 3489h9M2384 3411h9M2290 3500h9M2302 3445h9M2388 3456h9M2382 3436h9M2373 3508h9M2374 3387h9M2391 3470h9M2310 3519h9M2267 3537h9M2324 3526h9M2355 3419h9M2362 3480h9M2385 3507h9M2311 3486h9M2395 3458h9M2309 3433h9M2396 3497h9M2314 3419h9M2421 3411h9M2365 3438h9M2266 3473h9M2347 3521h9M2475 3461h9M2410 3506h9M2330 3436h9M2440 3454h9M2356 3457h9M2350 3446h9M2396 3514h9M2338 3417h9M2360 3413h9M2324 3513h9M2477 3482h9M2302 3497h9M2241 3442h9M2436 3495h9M2286 3407h9M2401 3466h9M2326 3483h9M2327 3397h9M2399 3444h9M2305 3419h9M2370 3438h9M2389 3458h9M2413 3454h9M2323 3395h9M2300 3494h9M2515 3422h9M2303 3480h9M2382 3443h9M2361 3409h9M2342 3501h9M2442 3462h9M2344 3485h9M2414 3486h9M2318 3481h9M2407 3442h9M2288 3487h9M2376 3504h9M2362 3444h9M2335 3430h9M2308 3447h9M2332 3509h9M2294 3466h9M2327 3523h9M2371 3454h9M2400 3471h9M2333 3525h9M2394 3532h9M2417 3497h9M2364 3428h9M2394 3471h9M2393 3468h9M2322 3431h9M2394 3516h9M2343 3485h9M2429 3438h9M2340 3427h9M2419 3478h9M2334 3408h9M2349 3505h9M2343 3453h9M2391 3423h9M2361 3490h9M2318 3438h9M2371 3465h9M2346 3476h9M2369 3435h9M2324 3485h9M2416 3518h9M2314 3509h9M2397 3468h9M2383 3499h9M2450 3430h9M2389 3464h9M2348 3511h9M2400 3432h9M2344 3477h9M2285 3500h9M2354 3475h9M2376 3535h9M2360 3456h9M2448 3450h9M2331 3418h9M2414 3479h9M2383 3475h9M2351 3440h9M2318 3485h9M2365 3529h9M2319 3451h9M2306 3519h9M2295 3497h9M2433 3464h9M2396 3391h9M2339 3408h9M2367 3469h9M2319 3504h9M2377 3450h9M2332 3415h9M2349 3547h9M2322 3484h9M2330 3498h9M2381 3461h9M2267 3450h9M2420 3460h9M2391 3451h9M2263 3485h9M2375 3448h9M2340 3480h9M2328 3482h9M2348 3383h9M2351 3447h9M2316 3484h9M2334 3489h9M2415 3474h9M2279 3442h9M2406 3460h9M2317 3466h9M2385 3479h9M2392 3439h9M2345 3460h9M2358 3393h9M2347 3420h9M2430 3526h9M2445 3499h9M2334 3504h9M2349 3492h9M2313 3448h9M2383 3534h9M2358 3552h9M2501 3422h9M2358 3435h9M2352 3450h9M2356 3505h9M2407 3479h9M2359 3474h9M2366 3490h9M2359 3488h9M2292 3498h9M2449 3476h9M2287 3519h9M2342 3360h9M2348 3492h9M2379 3515h9M2391 3474h9M2258 3429h9M2369 3494h9M2306 3447h9M2383 3400h9M2259 3461h9M2372 3452h9M2241 3470h9M2291 3493h9M2354 3479h9M2392 3450h9M2402 3515h9M2380 3518h9M2327 3503h9M2373 3433h9M2355 3450h9M2331 3473h9M2414 3458h9M2366 3416h9M2365 3512h9M2401 3487h9M2332 3434h9M2355 3421h9M2296 3504h9M2312 3535h9M2286 3485h9M2299 3476h9M2306 3471h9M2351 3453h9M2386 3525h9M2329 3502h9M2364 3468h9M2472 3390h9M2324 3403h9M2343 3461h9M2556 3482h9M2452 3517h9M2337 3487h9M2445 3476h9M2370 3488h9M2282 3440h9M2377 3490h9M2312 3458h9M2353 3464h9M2395 3473h9M2368 3418h9M2305 3481h9M2277 3479h9M2325 3440h9M2393 3445h9M2315 3445h9M2362 3570h9M2250 3469h9M2347 3504h9M2340 3379h9M2427 3429h9M2356 3419h9M2302 3451h9M2403 3500h9M2328 3488h9M2340 3473h9M2367 3492h9M2327 3464h9M2370 3472h9M2317 3532h9M2335 3497h9M2369 3514h9M2246 3544h9M2348 3424h9M2365 3552h9M2385 3424h9M2335 3518h9M2286 3462h9M2343 3549h9M2343 3517h9M2323 3439h9M2410 3492h9M2269 3492h9M2392 3446h9M2370 3479h9M2333 3447h9M2324 3459h9M2290 3467h9M2281 3472h9M2354 3431h9M2402 3540h9M2427 3419h9M2424 3477h9M2356 3447h9M2358 3520h9M2386 3454h9M2324 3453h9M2389 3537h9M2304 3469h9M2338 3441h9M2379 3489h9M2285 3431h9M2420 3480h9M2385 3450h9M2339 3486h9M2333 3428h9M2358 3502h9M2305 3507h9M2394 3437h9M2359 3467h9M2391 3493h9M2291 3419h9M2411 3473h9M2380 3481h9M2437 3425h9M2414 3439h9M2396 3518h9M2287 3483h9M2344 3458h9M2360 3430h9M2309 3493h9M2402 3448h9M2283 3553h9M2415 3482h9M2305 3447h9M2371 3434h9M2441 3474h9M2378 3431h9M2312 3440h9M2372 3459h9M2343 3480h9M2370 3523h9M2348 3432h9M2358 3522h9M2330 3471h9M2340 3484h9M2371 3439h9M2347 3503h9M2414 3502h9M2402 3457h9M2340 3503h9M2298 3467h9M2263 3455h9M2322 3425h9M2388 3442h9M2340 3459h9M2321 3520h9M2333 3476h9M2292 3452h9M2342 3458h9M2328 3474h9M2438 3464h9M2351 3455h9M2488 3527h9M2387 3494h9M2322 3463h9M2369 3473h9M2315 3441h9M2385 3480h9M2251 3472h9M2423 3445h9M2371 3416h9M2401 3428h9M2295 3457h9M2479 3447h9M2294 3486h9M2370 3529h9M2294 3411h9M2342 3483h9M2377 3508h9M2282 3439h9M2352 3499h9M2383 3454h9M2306 3501h9M2407 3567h9M2349 3528h9M2297 3449h9M2324 3452h9M2314 3449h9M2356 3453h9M2392 3466h9M2358 3522h9M2375 3475h9M2357 3471h9M2388 3440h9M2417 3526h9M2417 3451h9M2277 3453h9M2366 3499h9M2349 3458h9M2436 3445h9M2413 3502h9M2291 3479h9M2330 3435h9M2264 3412h9M2380 3455h9M2372 3430h9M2342 3459h9M2280 3409h9M2381 3474h9M2311 3465h9M2392 3535h9M2313 3491h9M2466 3471h9M2433 3375h9M2432 3469h9M2263 3497h9M2412 3513h9M2420 3468h9M2320 3452h9M2357 3484h9M2334 3471h9M2403 3481h9M2475 3547h9M2300 3448h9M2292 3427h9M2386 3433h9M2305 3459h9M2399 3456h9M2340 3502h9M2383 3485h9M2407 3432h9M2369 3446h9M2411 3499h9M2305 3518h9M2299 3511h9M2369 3437h9M2301 3458h9M2357 3443h9M2387 3418h9M2358 3469h9M2263 3480h9M2294 3378h9M2327 3461h9M2405 3451h9M2434 3521h9M2414 3517h9M2376 3449h9M2392 3504h9M2371 3460h9M2278 3494h9M2376 3421h9M2364 3495h9M2353 3497h9M2397 3415h9M2343 3487h9M2405 3520h9M2260 3466h9M2395 3514h9M2445 3435h9M2339 3430h9M2400 3421h9M2419 3503h9M2383 3390h9M2324 3496h9M2286 3460h9M2353 3501h9M2373 3479h9M2336 3469h9M2352 3495h9M2349 3507h9M2271 3513h9M2350 3510h9M2363 3500h9M2435 3449h9M2362 3463h9M2369 3410h9M2350 3460h9M2318 3462h9M2279 3520h9M2381 3538h9M2313 3426h9M2373 3408h9M2370 3443h9M2341 3478h9M2361 3537h9M2391 3422h9M2409 3420h9M2363 3423h9M2316 3517h9M2330 3445h9M2329 3457h9M2432 3426h9M2295 3490h9M2276 3455h9M2416 3469h9M2333 3443h9M2311 3447h9M2365 3514h9M2407 3448h9M2320 3494h9M2264 3452h9M2341 3428h9M2306 3481h9M2273 3435h9M2324 3471h9M2287 3508h9M2341 3458h9M2339 3443h9M2307 3510h9M2367 3464h9M2408 3442h9M2389 3468h9M2311 3495h9M2280 3491h9M2311 3482h9M2427 3488h9M2326 3466h9M2337 3425h9M2300 3469h9M2384 3403h9M2352 3486h9M2362 3431h9M2409 3423h9M2389 3525h9M2251 3476h9M2372 3475h9M2316 3455h9M2284 3472h9M2383 3443h9M2308 3449h9M2355 3469h9M2350 3469h9M2288 3367h9M2387 3518h9M2283 3442h9M2370 3501h9M2388 3513h9M2352 3481h9M2376 3451h9M2416 3489h9M2405 3452h9M2407 3428h9M2375 3372h9M2303 3493h9M2332 3473h9M2272 3522h9M2385 3465h9M2376 3478h9M2427 3474h9M2280 3457h9M2420 3487h9M2333 3488h9M2361 3488h9M2274 3434h9M2389 3458h9M2373 3537h9M2339 3475h9M2326 3444h9M2351 3414h9M2248 3516h9M2350 3507h9M2361 3472h9M2389 3492h9M2294 3510h9M2306 3474h9M2485 3469h9M2440 3454h9M2386 3468h9M2376 3435h9M2308 3478h9M2275 3436h9M2387 3444h9M2310 3426h9M2362 3453h9M2362 3460h9M2449 3451h9M2255 3471h9M2355 3472h9M2273 3507h9M2353 3465h9M2275 3483h9M2352 3515h9M2334 3422h9M2361 3433h9M2376 3427h9M2348 3458h9M2353 3448h9M2314 3464h9M2326 3472h9M2341 3386h9M2352 3516h9M2370 3488h9M2378 3450h9M2288 3495h9M2408 3487h9M2376 3481h9M2354 3476h9M2356 3478h9M2307 3444h9M2384 3454h9M2233 3471h9M2240 3535h9M2391 3490h9M2322 3426h9M2344 3467h9M2316 3472h9M2389 3488h9M2303 3390h9M2355 3443h9M2378 3525h9M2437 3477h9M2411 3525h9M2358 3476h9M2398 3465h9M2331 3440h9M2356 3445h9M2395 3455h9M2428 3510h9M2294 3505h9M2438 3493h9M2480 3446h9M2487 3429h9M2471 3460h9M2450 3460h9M2411 3466h9M2401 3468h9M2478 3471h9M2431 3549h9M2446 3453h9M2422 3495h9M2435 3481h9M2414 3458h9M2440 3479h9M2444 3419h9M2478 3408h9M2414 3474h9M2372 3473h9M2439 3418h9M2469 3469h9M2431 3442h9M2494 3473h9M2455 3423h9M2415 3429h9M2489 3468h9M2472 3495h9M2444 3436h9M2441 3512h9M2365 3458h9M2479 3451h9M2564 3488h9M2493 3419h9M2481 3437h9M2461 3456h9M2437 3470h9M2533 3483h9M2469 3385h9M2508 3485h9M2450 3434h9M2489 3423h9M2495 3414h9M2418 3450h9M2393 3450h9M2483 3406h9M2501 3431h9M2484 3457h9M2439 3432h9M2383 3427h9M2425 3504h9M2505 3405h9M2496 3457h9M2442 3465h9M2495 3431h9M2447 3455h9M2415 3456h9M2456 3427h9M2422 3460h9M2499 3461h9M2421 3474h9M2467 3469h9M2512 3420h9M2454 3430h9M2421 3516h9M2502 3392h9M2479 3432h9M2511 3453h9M2452 3455h9M2477 3451h9M2450 3445h9M2460 3446h9M2438 3474h9M2402 3438h9M2422 3468h9M2439 3452h9M2477 3398h9M2480 3426h9M2449 3446h9M2496 3474h9M2539 3456h9M2439 3434h9M2489 3502h9M2475 3431h9M2472 3458h9M2461 3426h9M2346 3432h9M2507 3457h9M2361 3450h9M2377 3515h9M2469 3411h9M2496 3424h9M2485 3451h9M2407 3472h9M2400 3494h9M2463 3416h9M2379 3503h9M2525 3409h9M2534 3455h9M2450 3447h9M2448 3497h9M2467 3390h9M2554 3479h9M2411 3438h9M2419 3452h9M2478 3458h9M2433 3424h9M2498 3447h9M2561 3424h9M2495 3452h9M2426 3495h9M2466 3421h9M2446 3483h9M2405 3495h9M2491 3441h9M2521 3507h9M2487 3456h9M2543 3499h9M2418 3443h9M2450 3437h9M2393 3480h9M2464 3453h9M2523 3431h9M2457 3459h9M2441 3446h9M2494 3450h9M2520 3425h9M2469 3403h9M2455 3427h9M2521 3474h9M2483 3511h9M2525 3474h9M2429 3402h9M2459 3438h9M2431 3440h9M2385 3499h9M2408 3428h9M2486 3396h9M2502 3481h9M2446 3414h9M2439 3389h9M2523 3452h9M2427 3420h9M2486 3500h9M2402 3431h9M2380 3472h9M2467 3525h9M2454 3436h9M2428 3478h9M2386 3475h9M2471 3433h9M2419 3485h9M2545 3435h9M2484 3508h9M2432 3442h9M2404 3445h9M2456 3436h9M2426 3397h9M2399 3418h9M2489 3433h9M2421 3472h9M2486 3425h9M2431 3472h9M2477 3422h9M2471 3449h9M2511 3421h9M2500 3464h9M2414 3485h9M2502 3406h9M2551 3412h9M2418 3439h9M2495 3469h9M2456 3496h9M2479 3497h9M2342 3435h9M2411 3453h9M2464 3409h9M2407 3441h9M2451 3362h9M2505 3451h9M2460 3460h9M2413 3448h9M2508 3486h9M2481 3441h9M2422 3495h9M2484 3436h9M2359 3421h9M2370 3492h9M2469 3425h9M2447 3538h9M2517 3404h9M2454 3408h9M2379 3456h9M2573 3503h9M2462 3437h9M2469 3485h9M2391 3386h9M2549 3460h9M2536 3458h9M2530 3429h9M2483 3503h9M2508 3434h9M2502 3427h9M2393 3468h9M2526 3479h9M2400 3480h9M2492 3434h9M2342 3485h9M2502 3467h9M2378 3398h9M2508 3478h9M2484 3441h9M2479 3431h9M2445 3420h9M2472 3435h9M2505 3475h9M2421 3514h9M2406 3466h9M2512 3495h9M2355 3485h9M2518 3500h9M2354 3426h9M2455 3434h9M2519 3470h9M2390 3415h9M2438 3453h9M2508 3444h9M2504 3395h9M2314 3438h9M2482 3437h9M2412 3465h9M2553 3446h9M2425 3420h9M2489 3493h9M2512 3418h9M2506 3480h9M2483 3485h9M2433 3447h9M2435 3477h9M2429 3464h9M2407 3446h9M2443 3446h9M2466 3444h9M2449 3378h9M2513 3428h9M2448 3421h9M2508 3418h9M2484 3491h9M2539 3492h9M2490 3408h9M2522 3492h9M2500 3478h9M2464 3432h9M2512 3495h9M2410 3482h9M2472 3481h9M2474 3489h9M2510 3481h9M2395 3479h9M2463 3411h9M2494 3403h9M2503 3510h9M2437 3483h9M2482 3473h9M2396 3472h9M2467 3476h9M2461 3489h9M2474 3474h9M2526 3457h9M2508 3459h9M2486 3433h9M2498 3493h9M2457 3478h9M2482 3413h9M2478 3497h9M2438 3390h9M2471 3429h9M2551 3450h9M2461 3429h9M2473 3432h9M2419 3449h9M2423 3497h9M2407 3449h9M2429 3404h9M2540 3379h9M2530 3403h9M2466 3529h9M2361 3404h9M2523 3457h9M2436 3450h9M2416 3455h9M2532 3438h9M2468 3493h9M2555 3431h9M2476 3432h9M2431 3438h9M2432 3392h9M2368 3426h9M2468 3493h9M2437 3446h9M2493 3477h9M2456 3449h9M2550 3440h9M2439 3395h9M2482 3442h9M2500 3483h9M2539 3406h9M2535 3452h9M2457 3441h9M2443 3439h9M2352 3469h9M2465 3419h9M2459 3530h9M2480 3438h9M2542 3424h9M2454 3432h9M2451 3476h9M2489 3426h9M2456 3454h9M2442 3450h9M2428 3426h9M2464 3416h9M2481 3445h9M2418 3430h9M2439 3446h9M2467 3444h9M2421 3500h9M2504 3455h9M2506 3462h9M2449 3454h9M2510 3438h9M2489 3528h9M2481 3488h9M2520 3473h9M2535 3459h9M2485 3430h9M2584 3461h9M2467 3498h9M2439 3451h9M2425 3452h9M2443 3469h9M2455 3431h9M2448 3447h9M2438 3483h9M2493 3456h9M2406 3468h9M2402 3457h9M2464 3431h9M2423 3427h9M2557 3442h9M2452 3483h9M2481 3487h9M2404 3414h9M2448 3456h9M2507 3411h9M2474 3450h9M2492 3457h9M2437 3422h9M2349 3484h9M2393 3437h9M2538 3437h9M2490 3444h9M2494 3452h9M2438 3496h9M2449 3406h9M2446 3469h9M2410 3477h9M2497 3522h9M2432 3473h9M2384 3437h9M2466 3465h9M2459 3448h9M2433 3436h9M2475 3470h9M2491 3484h9M2516 3390h9M2437 3445h9M2432 3486h9M2496 3447h9M2467 3493h9M2445 3440h9M2503 3467h9M2527 3463h9M2496 3433h9M2418 3451h9M2339 3465h9M2506 3453h9M2451 3487h9M2459 3484h9M2562 3475h9M2504 3467h9M2473 3460h9M2464 3487h9M2387 3442h9M2491 3423h9M2456 3428h9M2482 3480h9M2528 3468h9M2428 3459h9M2487 3498h9M2363 3463h9M2377 3475h9M2482 3468h9M2502 3464h9M2432 3463h9M2516 3447h9M2463 3410h9M2514 3434h9M2427 3436h9M2422 3443h9M2520 3477h9M2527 3501h9M2420 3467h9M2530 3528h9M2396 3403h9M2483 3440h9M2416 3464h9M2425 3375h9M2460 3455h9M2490 3482h9M2470 3443h9M2431 3396h9M2441 3484h9M2491 3519h9M2454 3391h9M2499 3485h9M2408 3397h9M2468 3475h9M2410 3439h9M2425 3411h9M2401 3455h9M2444 3428h9M2341 3509h9M2418 3446h9M2409 3463h9M2392 3454h9M2452 3481h9M2411 3429h9M2450 3521h9M2393 3460h9M2431 3461h9M2491 3455h9M2473 3460h9M2434 3443h9M2385 3439h9M2425 3442h9M2494 3463h9M2482 3487h9M2351 3465h9M2459 3447h9M2401 3469h9M2513 3485h9M2456 3472h9M2503 3511h9M2465 3456h9M2471 3434h9M2496 3427h9M2424 3462h9M2434 3442h9M2365 3477h9M2460 3446h9M2481 3457h9M2428 3517h9M2440 3483h9M2544 3429h9M2464 3423h9M2508 3439h9M2410 3494h9M2502 3420h9M2514 3457h9M2584 3507h9M2435 3441h9M2420 3455h9M2462 3475h9M2464 3401h9M2423 3497h9M2513 3445h9M2454 3444h9M2461 3394h9M2501 3428h9M2467 3366h9M2471 3495h9M2358 3501h9M2482 3426h9M2387 3489h9M2472 3470h9M2448 3423h9M2500 3418h9M2501 3394h9M2418 3401h9M2520 3391h9M2408 3472h9M2471 3523h9M2544 3471h9M2492 3389h9M2420 3439h9M2452 3404h9M2417 3422h9M2509 3464h9M2445 3441h9M2473 3427h9M2448 3392h9M2491 3482h9M2477 3466h9M2477 3518h9M2469 3406h9M2412 3474h9M2509 3476h9M2499 3456h9M2392 3426h9M2377 3437h9M2397 3453h9M2452 3385h9M2494 3475h9M2396 3455h9M2493 3440h9M2499 3456h9M2509 3456h9M2452 3467h9M2496 3458h9M2439 3423h9M2442 3430h9M2469 3455h9M2456 3450h9M2467 3502h9M2515 3430h9M2479 3438h9M2455 3441h9M2430 3404h9M2346 3456h9M2514 3419h9M2483 3436h9M2472 3422h9M2448 3446h9M2349 3457h9M2453 3366h9M2489 3448h9M2469 3462h9M2440 3413h9M2438 3435h9M2562 3512h9M2436 3435h9M2474 3468h9M2427 3415h9M2549 3485h9M2387 3389h9M2420 3457h9M2484 3438h9M2384 3456h9M2487 3449h9M2436 3469h9M2456 3411h9M2463 3405h9M2504 3465h9M2412 3456h9M2517 3376h9M2452 3505h9M2386 3443h9M2392 3447h9M2346 3394h9M2433 3454h9M2476 3463h9M2512 3473h9M2493 3415h9M2451 3558h9M2565 3477h9M2493 3483h9M2440 3516h9M2441 3446h9M2561 3378h9M2476 3390h9M2428 3446h9M2442 3455h9M2422 3445h9M2403 3436h9M2393 3472h9M2397 3473h9M2439 3438h9M2514 3453h9M2369 3466h9M2321 3458h9M2440 3401h9M2462 3438h9M2554 3434h9M2551 3497h9M2430 3421h9M2521 3444h9M2466 3440h9M2401 3436h9M2413 3396h9M2445 3511h9M2536 3447h9M2465 3467h9M2523 3460h9M2436 3435h9M2513 3539h9M2429 3378h9M2497 3446h9M2465 3492h9M2462 3403h9M2365 3447h9M2403 3459h9M2398 3437h9M2388 3436h9M2437 3470h9M2523 3443h9M2417 3517h9M2476 3470h9M2488 3500h9M2507 3473h9M2495 3419h9M2430 3445h9M2463 3450h9M2474 3450h9M2438 3392h9M2499 3470h9M2417 3466h9M2478 3452h9M2371 3407h9M2430 3505h9M2418 3437h9M2406 3432h9M2475 3377h9M2323 3472h9M2460 3428h9M2505 3483h9M2358 3443h9M2512 3426h9M2444 3482h9M2446 3407h9M2426 3403h9M2485 3389h9M2507 3392h9M2461 3398h9M2444 3485h9M2513 3495h9M2454 3453h9M2470 3471h9M2440 3488h9M2474 3489h9M2482 3473h9M2424 3435h9M2397 3439h9M2450 3478h9M2398 3562h9M2453 3493h9M2509 3361h9M2446 3501h9M2342 3476h9M2415 3433h9M2469 3384h9M2468 3426h9M2423 3474h9M2485 3447h9M2424 3458h9M2501 3441h9M2580 3391h9M2487 3468h9M2471 3410h9M2404 3441h9M2463 3406h9M2407 3468h9M2508 3429h9M2425 3423h9M2455 3484h9M2569 3490h9M2390 3446h9M2439 3437h9M2400 3435h9M2406 3461h9M2460 3399h9M2376 3432h9M2489 3466h9M2455 3333h9M2434 3423h9M2442 3406h9M2437 3425h9M2589 3473h9M2449 3447h9M2452 3455h9M2439 3448h9M2507 3478h9M2473 3495h9M2469 3414h9M2374 3424h9M2455 3463h9M2510 3428h9M2419 3476h9M2474 3497h9M2474 3447h9M2358 3495h9M2489 3453h9M2436 3405h9M2453 3445h9M2511 3406h9M2527 3450h9M2515 3415h9M2475 3491h9M2464 3397h9M2442 3467h9M2391 3398h9M2469 3415h9M2491 3407h9M2370 3421h9M2530 3418h9M2458 3457h9M2412 3487h9M2467 3464h9M2377 3387h9M2326 3442h9M2447 3474h9M2530 3440h9M2445 3464h9M2532 3420h9M2488 3440h9M2442 3477h9M2420 3411h9M2490 3448h9M2446 3444h9M2482 3436h9M2495 3463h9M2529 3493h9M2499 3442h9M2464 3428h9M2485 3496h9M2393 3420h9M2439 3414h9M2397 3431h9M2520 3474h9M2460 3450h9M2379 3473h9M2479 3411h9M2468 3442h9M2434 3414h9M2426 3416h9M2481 3462h9M2474 3443h9M2439 3520h9M2369 3491h9M2476 3451h9M2434 3441h9M2402 3400h9M2453 3391h9M2499 3488h9M2293 3395h9M2472 3456h9M2464 3464h9M2494 3479h9M2545 3450h9M2500 3392h9M2452 3406h9M2526 3531h9M2485 3404h9M2453 3450h9M2468 3487h9M2505 3356h9M2524 3432h9M2432 3499h9M2446 3401h9M2395 3451h9M2502 3502h9M2451 3433h9M2537 3433h9M2529 3457h9M2470 3441h9M2473 3433h9M2426 3444h9M2428 3460h9M2463 3440h9M2449 3441h9M2542 3449h9M2430 3439h9M2491 3442h9M2452 3440h9M2467 3463h9M2480 3392h9M2408 3357h9M2497 3488h9M2514 3448h9M2453 3395h9M2421 3428h9M2503 3507h9M2436 3462h9M2472 3422h9M2376 3423h9M2390 3438h9M2452 3443h9M2451 3466h9M2414 3480h9M2379 3451h9M2477 3421h9M2382 3471h9M2426 3476h9M2496 3449h9M2459 3484h9M2477 3416h9M2467 3468h9M2468 3456h9M2452 3445h9M2414 3399h9M2513 3427h9M2469 3397h9M2466 3420h9M2413 3482h9M2513 3376h9M2471 3480h9M2400 3473h9M2433 3414h9M2442 3433h9M2392 3527h9M2437 3423h9M2499 3446h9M2522 3440h9M2475 3452h9M2467 3442h9M2454 3507h9M2426 3430h9M2442 3469h9M2478 3481h9M2395 3458h9M2450 3439h9M2466 3381h9M2472 3454h9M2391 3446h9M2532 3436h9M2487 3441h9M2420 3417h9M2440 3494h9M2497 3424h9M2506 3445h9M2426 3464h9M2415 3395h9M2520 3386h9M2484 3396h9M2457 3442h9M2438 3373h9M2453 3448h9M2416 3447h9M2506 3424h9M2471 3409h9M2477 3471h9M2576 3480h9M2479 3498h9M2412 3486h9M2433 3428h9M2511 3457h9M2522 3399h9M2472 3431h9M2446 3383h9M2503 3456h9M2412 3403h9M2418 3497h9M2454 3438h9M2482 3450h9M2470 3475h9M2475 3480h9M2403 3452h9M2443 3453h9M2457 3428h9M2443 3482h9M2433 3407h9M2487 3483h9M2447 3454h9M2420 3443h9M2512 3477h9M2467 3440h9M2383 3461h9M2481 3486h9M2555 3463h9M2505 3412h9M2517 3480h9M2524 3473h9M2481 3501h9M2429 3472h9M2511 3423h9M2406 3465h9M2466 3471h9M2490 3424h9M2476 3489h9M2444 3441h9M2408 3478h9M2552 3404h9M2496 3481h9M2434 3438h9M2412 3424h9M2468 3473h9M2466 3480h9M2470 3411h9M2529 3491h9M2428 3511h9M2483 3455h9M2551 3365h9M2386 3475h9M2449 3418h9M2532 3467h9M2401 3428h9M2501 3512h9M2367 3459h9M2443 3391h9M2453 3396h9M2436 3506h9M2485 3478h9M2489 3463h9M2507 3411h9M2445 3480h9M2427 3436h9M2518 3504h9M2433 3423h9M2489 3460h9M2430 3472h9M2488 3454h9M2599 3498h9M2500 3486h9M2428 3462h9M2465 3432h9M2474 3460h9M2459 3435h9M2501 3397h9M2501 3452h9M2475 3370h9M2541 3392h9M2421 3473h9M2434 3438h9M2357 3437h9M2472 3475h9M2449 3459h9M2483 3428h9M2427 3519h9M2422 3494h9M2465 3502h9M2432 3469h9M2478 3444h9M2477 3425h9M2458 3438h9M2498 3448h9M2397 3439h9M2458 3421h9M2525 3465h9M2502 3425h9M2443 3486h9M2395 3464h9M2466 3434h9M2466 3415h9M2473 3410h9M2402 3500h9M2429 3379h9M2508 3425h9M2296 3450h9M2506 3464h9M2543 3447h9M2490 3417h9M2470 3504h9M2486 3457h9M2369 3439h9M2401 3478h9M2427 3464h9M2415 3517h9M2407 3456h9M2421 3473h9M2509 3482h9M2369 3459h9M2362 3517h9M2466 3436h9M2494 3468h9M2406 3508h9M2451 3391h9M2529 3505h9M2522 3471h9M2420 3484h9M2550 3480h9M2538 3425h9M2511 3484h9M2392 3395h9M2428 3455h9M2484 3444h9M2459 3448h9M2467 3472h9M2486 3450h9M2475 3436h9M2500 3434h9M2541 3451h9M2476 3425h9M2446 3458h9M2463 3430h9M2407 3453h9M2387 3519h9M2528 3463h9M2110 3474h9M2129 3400h9M2500 3520h9M2284 3442h9M2356 3370h9M2429 3461h9M2497 3440h9M2499 3420h9M2462 3455h9M2261 3474h9M2429 3510h9M2571 3537h9M2026 3458h9M2109 3459h9M2448 3397h9M2214 3493h9M2330 3586h9M2409 3518h9M2367 3419h9M2401 3551h9M2545 3481h9M2275 3434h9M2187 3492h9M2544 3330h9M2086 3575h9M2159 3505h9M2205 3535h9M2469 3495h9M2475 3487h9M2441 3602h9M2511 3441h9M2264 3469h9M2339 3489h9M2290 3527h9M2373 3508h9M2370 3524h9M2213 3587h9M2414 3514h9M2448 3555h9M2465 3500h9M2346 3378h9M2397 3464h9M2329 3641h9M2128 3488h9M2527 3547h9M2531 3403h9M2245 3525h9M2331 3596h9M2400 3498h9M2427 3467h9M2386 3441h9M2366 3454h9M2404 3393h9M2177 3515h9M2400 3423h9M2341 3417h9M2426 3468h9M2322 3546h9M2477 3467h9M2253 3620h9M2554 3495h9M2333 3505h9M2382 3563h9M2246 3487h9M2270 3571h9M2442 3577h9M2333 3425h9M2507 3519h9M2345 3581h9M2402 3370h9M2417 3482h9M2345 3514h9M2404 3394h9M2387 3465h9M2554 3642h9M2227 3423h9M2262 3443h9M2282 3490h9M2514 3401h9M2172 3366h9M2516 3572h9M2173 3380h9M2389 3557h9M2504 3499h9M2461 3507h9M2300 3610h9M2372 3414h9M2311 3386h9M2374 3557h9M2208 3559h9M2222 3431h9M2329 3403h9M2210 3469h9M2349 3526h9M2216 3608h9M2510 3544h9M2288 3599h9M2328 3604h9M2512 3428h9M2313 3608h9M2503 3476h9M2399 3499h9M2272 3473h9M2287 3458h9M2433 3424h9M2467 3493h9M2472 3544h9M2535 3527h9M2464 3474h9M2446 3428h9M2340 3535h9M2366 3515h9M2235 3575h9M2297 3512h9M2369 3547h9M2323 3421h9M2125 3466h9M2217 3521h9M2204 3506h9M2533 3506h9M2415 3519h9M2447 3593h9M2452 3405h9M2311 3500h9M2266 3469h9M2304 3440h9M2463 3461h9M2230 3439h9M2377 3624h9M2406 3583h9M2437 3346h9M2422 3430h9M2195 3416h9M2291 3562h9M2459 3374h9M2358 3452h9M2347 3535h9M2297 3465h9M2323 3517h9M2209 3445h9M2200 3496h9M2290 3537h9M2506 3489h9M2322 3503h9M2379 3406h9M2512 3501h9M2475 3397h9M2487 3624h9M2452 3391h9M2377 3482h9M2400 3471h9M2437 3455h9M2402 3441h9M2385 3551h9M2307 3529h9M2255 3461h9M2340 3567h9M2271 3566h9M2179 3475h9M2491 3531h9M2239 3405h9M2486 3403h9M2447 3451h9M2370 3638h9M2190 3507h9M2378 3479h9M2547 3373h9M2413 3494h9M2272 3599h9M2204 3487h9M2381 3341h9M2183 3422h9M2474 3547h9M2449 3501h9M2081 3499h9M2303 3562h9M2548 3632h9M2464 3539h9M2235 3490h9M2208 3544h9M2213 3471h9M2262 3454h9M2430 3448h9M2399 3419h9M2554 3443h9M2503 3626h9M2049 3420h9M2343 3562h9M2306 3510h9M2274 3522h9M2210 3540h9M1975 3360h9M2251 3630h9M2508 3559h9M2314 3526h9M2437 3375h9M2448 3472h9M2540 3571h9M2284 3445h9M2395 3528h9M2315 3477h9M2450 3513h9M2523 3500h9M2252 3368h9M2477 3462h9M2323 3465h9M2160 3459h9M2023 3458h9M2250 3607h9M2428 3470h9M2390 3533h9M2268 3469h9M2322 3650h9M2378 3353h9M2475 3657h9M2241 3716h9M2360 3551h9M2293 3466h9M2204 3414h9M2082 3561h9M2215 3509h9M2412 3441h9M2375 3478h9M2302 3487h9M2375 3416h9M2195 3427h9M2384 3577h9M2565 3505h9M2495 3492h9M2516 3493h9M2420 3465h9M2367 3611h9M2207 3484h9M2288 3548h9M1995 3525h9M2450 3371h9M2335 3479h9M2057 3529h9M2426 3500h9M2225 3436h9M2282 3516h9M2235 3582h9M2418 3337h9M2293 3490h9M2121 3496h9M2035 3414h9M2549 3568h9M2320 3418h9M2492 3480h9M2395 3525h9M2221 3537h9M2080 3582h9M2154 3441h9M2276 3532h9M2467 3507h9M2439 3515h9M2356 3354h9M2054 3327h9M2359 3467h9M2346 3498h9M2333 3415h9M2162 3354h9M2530 3544h9M2181 3464h9M2425 3591h9M2283 3494h9M2522 3364h9M2265 3480h9M2267 3626h9M2482 3496h9M2234 3541h9M2450 3447h9M2305 3383h9M2354 3541h9M2500 3521h9M2476 3442h9M2300 3564h9M2425 3428h9M2432 3538h9M2460 3489h9M2294 3509h9M2273 3505h9M2196 3497h9M2323 3547h9M2377 3553h9M2250 3513h9M2351 3491h9M2282 3519h9M2373 3335h9M2331 3504h9M2523 3442h9M2254 3559h9M2281 3489h9M2427 3531h9M2364 3406h9M2500 3452h9M2292 3617h9M2482 3410h9M2298 3465h9M2262 3352h9M2471 3534h9M2396 3454h9M2391 3524h9M2222 3459h9M2287 3528h9M2398 3394h9M2279 3600h9M2232 3491h9M2278 3565h9M2354 3452h9M2204 3465h9M2474 3526h9M2184 3586h9M2329 3410h9M2379 3439h9M2284 3438h9M2350 3447h9M2132 3516h9M2292 3561h9M2434 3522h9M2386 3568h9M2318 3414h9M2408 3298h9M2312 3495h9M2305 3565h9M2456 3488h9M2308 3554h9M2270 3453h9M2462 3521h9M2109 3525h9M2530 3469h9M2570 3600h9M2272 3448h9M2193 3517h9M2457 3521h9M2195 3429h9M2169 3372h9M2180 3374h9M2336 3509h9M2444 3479h9M2270 3480h9M2437 3460h9M2368 3460h9M2290 3482h9M2211 3551h9M2151 3511h9M2178 3581h9M2477 3426h9M2300 3405h9M2352 3508h9M2526 3441h9M2397 3539h9M2433 3508h9M2334 3479h9M2380 3560h9M2164 3447h9M2193 3416h9M2253 3553h9M2202 3485h9M2208 3510h9M2530 3519h9M2476 3470h9M2097 3348h9M2347 3518h9M2530 3457h9M2370 3497h9M2502 3475h9M2214 3552h9M2415 3506h9M2190 3479h9M2130 3346h9M2328 3451h9M2436 3576h9M2355 3599h9M2281 3531h9M2191 3488h9M2318 3466h9M2439 3354h9M2375 3426h9M2376 3506h9M2310 3455h9M2206 3517h9M2270 3510h9M2170 3571h9M2224 3557h9M2300 3516h9M2341 3525h9M2361 3565h9M2450 3525h9M2583 3433h9M2534 3485h9M2163 3512h9M2333 3593h9M2294 3483h9M2391 3353h9M2428 3414h9M2359 3374h9M2384 3492h9M2456 3460h9M2201 3471h9M2237 3598h9M2266 3437h9M2354 3397h9M2301 3471h9M2295 3463h9M2525 3509h9M2182 3451h9M2459 3437h9M2371 3478h9M2430 3468h9M2341 3423h9M2408 3418h9M2330 3533h9M2349 3486h9M2353 3432h9M2237 3433h9M2511 3438h9M2306 3450h9M2453 3612h9M2237 3517h9M2376 3460h9M2427 3395h9M2471 3495h9M2227 3586h9M2473 3557h9M2166 3462h9M2290 3522h9M2540 3353h9M2363 3472h9M2493 3477h9M2191 3467h9M2222 3428h9M2366 3448h9M2397 3379h9M2455 3394h9M2073 3423h9M2329 3628h9M2534 3445h9M2521 3561h9M2362 3561h9M2404 3436h9M2204 3472h9M2493 3390h9M2146 3517h9M1999 3601h9M2302 3529h9M2607 3384h9M2220 3629h9M2322 3472h9M2390 3550h9M2536 3487h9M2315 3478h9M2400 3567h9M2378 3601h9M2246 3515h9M2593 3566h9M2404 3421h9M2265 3470h9M2401 3463h9M2166 3431h9M2429 3536h9M2174 3456h9M2138 3443h9M2314 3441h9M2199 3356h9M2354 3462h9M2556 3371h9M2418 3569h9M2100 3524h9M2146 3515h9M2556 3480h9M2398 3434h9M2398 3555h9M2336 3471h9M2412 3535h9M2142 3484h9M2269 3513h9M2498 3501h9M2532 3414h9M2306 3414h9M2368 3486h9M2334 3399h9M2350 3451h9M2440 3462h9M2515 3495h9M2113 3469h9M2170 3544h9M2551 3478h9M2419 3384h9M2061 3443h9M2326 3379h9M2372 3501h9M2446 3583h9M2468 3456h9M2374 3520h9M2221 3568h9M2480 3465h9M2275 3733h9M2472 3543h9M2388 3527h9M2239 3528h9M2156 3508h9M2435 3377h9M2500 3445h9M2402 3437h9M2602 3533h9M2454 3491h9M2330 3521h9M2383 3471h9M2179 3461h9M2443 3450h9M2409 3472h9M2225 3421h9M2264 3462h9M2328 3556h9M2218 3345h9M2454 3451h9M2347 3651h9M2489 3490h9M2491 3441h9M2269 3451h9M2574 3586h9M2283 3559h9M2343 3554h9M2322 3546h9M2349 3463h9M2361 3493h9M2287 3391h9M2590 3456h9M2122 3331h9M1990 3441h9M2546 3373h9M2322 3360h9M2512 3507h9M2408 3573h9M2585 3551h9M2288 3394h9M2225 3365h9M2606 3470h9M2382 3496h9M2523 3503h9M2345 3354h9M2488 3433h9M2304 3498h9M2378 3558h9M2276 3494h9M2403 3484h9M2456 3466h9M2527 3435h9M2173 3480h9M2524 3448h9M2282 3460h9M2388 3471h9M2407 3368h9M2566 3522h9M2250 3575h9M2426 3581h9M2208 3594h9M2372 3345h9M2466 3463h9M2230 3468h9M2106 3522h9M2337 3465h9M2555 3485h9M2277 3419h9M2357 3554h9M2288 3413h9M2489 3487h9M2362 3622h9M2203 3496h9M2128 3463h9M2444 3558h9M2195 3539h9M2470 3474h9M2248 3511h9M2116 3587h9M2498 3456h9M2448 3519h9M2624 3442h9M2193 3347h9M2326 3378h9M2342 3510h9M2306 3419h9M2525 3469h9M2397 3546h9M2191 3421h9M2226 3466h9M2289 3400h9M2311 3481h9M2363 3519h9M2133 3383h9M2471 3453h9M2528 3503h9M2177 3519h9M2230 3500h9M2530 3624h9M2356 3529h9M2406 3536h9M2024 3457h9M2404 3514h9M2265 3538h9M2335 3459h9M2384 3562h9M2566 3451h9M2241 3430h9M2497 3498h9M2405 3515h9M2416 3475h9M2226 3441h9M2382 3509h9M2316 3455h9M2548 3452h9M2395 3461h9M2251 3382h9M2294 3428h9M2478 3406h9M2310 3526h9M2350 3516h9M2477 3372h9M2311 3419h9M2545 3475h9M2431 3596h9M2318 3488h9M2420 3465h9M2532 3537h9M2498 3486h9M2320 3459h9M2317 3374h9M2413 3537h9M2364 3450h9M2370 3498h9M2409 3602h9M2252 3507h9M2457 3488h9M2334 3415h9M2287 3529h9M2427 3517h9M2498 3499h9M2423 3542h9M2211 3486h9M2132 3353h9M2257 3381h9M2432 3548h9M2325 3473h9M2334 3465h9M2383 3505h9M2304 3431h9M2296 3535h9M2310 3578h9M2333 3572h9M2208 3437h9M2427 3514h9M2344 3616h9M2374 3501h9M2290 3591h9M2477 3509h9M2150 3506h9M2303 3508h9M2484 3433h9M2393 3540h9M2386 3461h9M2226 3438h9M2198 3547h9M2378 3403h9M2364 3398h9M1935 3561h9M2071 3547h9M1881 3708h9M1915 3606h9M1902 3665h9M1898 3708h9M1930 3615h9M1956 3530h9M2098 3522h9M1945 3720h9M1995 3713h9M2080 3581h9M1946 3702h9M1903 3631h9M2082 3620h9M1905 3661h9M1931 3703h9M1932 3723h9M1966 3733h9M2090 3607h9M2118 3645h9M2019 3703h9M1923 3501h9M2114 3616h9M1874 3788h9M1960 3868h9M2120 3754h9M1978 3760h9M1967 3643h9M1978 3549h9M2042 3809h9M2106 3727h9M2037 3860h9M1875 3660h9M1983 3683h9M1936 3670h9M2062 3688h9M1932 3776h9M2054 3749h9M1934 3686h9M1981 3769h9M1966 3650h9M1869 3683h9M1965 3801h9M1953 3640h9M1941 3641h9M1929 3479h9M1998 3679h9M1966 3796h9M1990 3620h9M2099 3553h9M1992 3669h9M2088 3698h9M1988 3649h9M1976 3656h9M1895 3831h9M2009 3658h9M1876 3703h9M2008 3766h9M2097 3730h9M2066 3764h9M2084 3547h9M1915 3638h9M2069 3576h9M1920 3829h9M2015 3650h9M2137 3562h9M1996 3665h9M2002 3660h9M1869 3706h9M1920 3773h9M1907 3623h9M1991 3802h9M2013 3553h9M1864 3746h9M1870 3626h9M2120 3598h9M1866 3469h9M2120 3800h9M2027 3669h9M2031 3722h9M1876 3521h9M1861 3685h9M1916 3617h9M2047 3586h9M2039 3641h9M1962 3581h9M1950 3613h9M1946 3763h9M1979 3591h9M1890 3453h9M2100 3757h9M1981 3741h9M1999 3523h9M1865 3797h9M2067 3708h9M1920 3650h9M1897 3599h9M1906 3665h9M2120 3741h9M1881 3740h9M1977 3667h9M2007 3822h9M1905 3593h9M2159 3687h9M2098 3622h9M1988 3625h9M2013 3659h9M1884 3831h9M1984 3495h9M1927 3599h9M1903 3688h9M1872 3510h9M1897 3768h9M1996 3643h9M1981 3615h9M1911 3589h9M1996 3814h9M1883 3798h9M1891 3759h9M2006 3682h9M2031 3810h9M1990 3525h9M1929 3771h9M1869 3739h9M1902 3694h9M2026 3618h9M2235 3699h9M1984 3615h9M1956 3660h9M1979 3677h9M1919 3678h9M2011 3567h9M2009 3656h9M1899 3672h9M2049 3738h9M2039 3620h9M1922 3575h9M1895 3647h9M1903 3753h9M1993 3757h9M1963 3787h9M1961 3777h9M2000 3755h9M1943 3567h9M1989 3727h9M1933 3641h9M2237 3579h9M1944 3680h9M1880 3652h9M1901 3762h9M2097 3770h9M2035 3732h9M1891 3807h9M1910 3695h9M1907 3637h9M2058 3705h9M2034 3606h9M1911 3690h9M1925 3697h9M2015 3638h9M2158 3617h9M1896 3872h9M2188 3689h9M1931 3583h9M2064 3701h9M1865 3724h9M2087 3750h9M2171 3795h9M1994 3682h9M2005 3801h9M2036 3785h9M1972 3758h9M2072 3669h9M2008 3643h9M1973 3662h9M1939 3793h9M1938 3721h9M1920 3649h9M1967 3630h9M1971 3646h9M1878 3709h9M2072 3659h9M2130 3608h9M2069 3662h9M2024 3675h9M2161 3672h9M2006 3653h9M1937 3716h9M1948 3668h9M1884 3560h9M2036 3657h9M1952 3792h9M1876 3649h9M1945 3659h9M1888 3522h9M1928 3780h9M2181 3848h9M1990 3864h9M1939 3635h9M2182 3584h9M1909 3660h9M2096 3629h9M2028 3647h9M1967 3576h9M1864 3610h9M2047 3729h9M1974 3732h9M1903 3731h9M1890 3559h9M1880 3706h9M1960 3786h9M1990 3594h9M1976 3647h9M1909 3596h9M1862 3616h9M1866 3711h9M2034 3817h9M1888 3670h9M1981 3637h9M1942 3700h9M2059 3612h9M1951 3841h9M1923 3785h9M1980 3708h9M2023 3664h9M1930 3777h9M1977 3733h9M2072 3772h9M1986 3637h9M1890 3728h9M2093 3690h9M2082 3658h9M2072 3592h9M1970 3585h9M2017 3741h9M1907 3545h9M2030 3818h9M1907 3659h9M1973 3637h9M1924 3766h9M1975 3678h9M1894 3826h9M1890 3698h9M1961 3649h9M2005 3693h9M2051 3631h9M2099 3688h9M1875 3739h9M1924 3688h9M2061 3637h9M2130 3632h9M1976 3531h9M2094 3795h9M1993 3694h9M1981 3599h9M1935 3578h9M1916 3721h9M1873 3660h9M1908 3688h9M2043 3709h9M1991 3549h9M1915 3764h9M1865 3645h9M1906 3617h9M2013 3790h9M2000 3779h9M1972 3674h9M1907 3638h9M1891 3721h9M1940 3694h9M2011 3681h9M1961 3572h9M2038 3656h9M2051 3677h9M1907 3739h9M2010 3697h9M1960 3826h9M2092 3750h9M2046 3707h9M2227 3830h9M2215 3722h9M1992 3785h9M1969 3715h9M1964 3762h9M1928 3517h9M2000 3796h9M1920 3662h9M2051 3627h9M2148 3764h9M2065 3596h9M1973 3543h9M2148 3739h9M1998 3698h9M1919 3743h9M2151 3720h9M1982 3669h9M1868 3735h9M1925 3722h9M1923 3755h9M1936 3683h9M1893 3698h9M1881 3694h9M1902 3638h9M1989 3635h9M1906 3553h9M2129 3557h9M2091 3523h9M1982 3549h9M2023 3679h9M2023 3673h9M1945 3742h9M1936 3706h9M1995 3660h9M1873 3746h9M2003 3682h9M1872 3768h9M2198 3605h9M2034 3824h9M2022 3637h9M2056 3625h9M1913 3571h9M2070 3779h9M1901 3653h9M1951 3702h9M2032 3689h9M1987 3540h9M1917 3512h9M2126 3815h9M2019 3788h9M2148 3772h9M1986 3594h9M1919 3709h9M1931 3665h9M2026 3706h9M1973 3589h9M2014 3606h9M1913 3671h9M2169 3651h9M1889 3750h9M1899 3700h9M1944 3559h9M2082 3659h9M1927 3557h9M2033 3621h9M1964 3641h9M1953 3780h9M2116 3632h9M2018 3659h9M1985 3695h9M1981 3666h9M2036 3706h9M2042 3803h9M1926 3737h9M1913 3742h9M1910 3730h9M1992 3649h9M2039 3673h9M1905 3681h9M1871 3795h9M2008 3774h9M1869 3689h9M2073 3705h9M1928 3787h9M2047 3857h9M1904 3598h9M1957 3571h9M1920 3858h9M1874 3570h9M1922 3695h9M2062 3729h9M1981 3714h9M1968 3506h9M2033 3869h9M1920 3782h9M1925 3622h9M1901 3717h9M2058 3645h9M1906 3561h9M1967 3755h9M1900 3664h9M1884 3667h9M2115 3660h9M1910 3851h9M1969 3660h9M2030 3806h9M1870 3818h9M2033 3725h9M2087 3656h9M2179 3689h9M1977 3762h9M1925 3807h9M1891 3695h9M1968 3620h9M1902 3663h9M1973 3756h9M2025 3781h9M1968 3630h9M1867 3509h9M2114 3506h9M1984 3736h9M1950 3609h9M2126 3606h9M1883 3687h9M1982 3537h9M1875 3670h9M2018 3799h9M1880 3590h9M2039 3474h9M1970 3872h9M2028 3695h9M2068 3597h9M2043 3527h9M2039 3766h9M1897 3699h9M1920 3691h9M2030 3605h9M2053 3767h9M2040 3493h9M1888 3616h9M1870 3553h9M1919 3613h9M1881 3729h9M2041 3682h9M2023 3672h9M2064 3630h9M1981 3712h9M2060 3737h9M1999 3489h9M2175 3688h9M2036 3649h9M1932 3689h9M2108 3830h9M2011 3875h9M1908 3733h9M1902 3809h9M1952 3778h9M2124 3483h9M2170 3714h9M1916 3498h9M1918 3461h9M1957 3667h9M2135 3652h9M2058 3797h9M2160 3660h9M2027 3536h9M1946 3566h9M1907 3752h9M1902 3669h9M2131 3704h9M1937 3846h9M1998 3619h9M2174 3627h9M2246 3684h9M1927 3813h9M1924 3721h9M1874 3706h9M1881 3493h9M1998 3669h9M1921 3625h9M1900 3736h9M2093 3795h9M1970 3686h9M1981 3773h9M2009 3641h9M1996 3722h9M2021 3705h9M2090 3704h9M2041 3689h9M1891 3593h9M1934 3737h9M2080 3676h9M1897 3635h9M2082 3695h9M1899 3757h9M1945 3672h9M2122 3556h9M1962 3748h9M2181 3644h9M2156 3692h9M1977 3858h9M2043 3760h9M1954 3706h9M1867 3641h9M1860 3690h9M1926 3849h9M2014 3532h9M1993 3824h9M1979 3791h9M1946 3754h9M2004 3668h9M1962 3727h9M1947 3599h9M1972 3719h9M2001 3879h9M1875 3692h9M2007 3641h9M2059 3659h9M2013 3613h9M1996 3619h9M1864 3696h9M1955 3829h9M2115 3818h9M1911 3619h9M1899 3714h9M1969 3719h9M2011 3581h9M2005 3687h9M2096 3613h9M1985 3780h9M2031 3724h9M1914 3564h9M1934 3627h9M2021 3672h9M2008 3528h9M2050 3602h9M1886 3794h9M2023 3571h9M1959 3675h9M1866 3798h9M1914 3708h9M2027 3773h9M2020 3631h9M1902 3685h9M1941 3792h9M1939 3859h9M2055 3638h9M2038 3405h9M2091 3725h9M1991 3521h9M2208 3660h9M1935 3794h9M1930 3602h9M2017 3586h9M2026 3698h9M2065 3567h9M2077 3714h9M2152 3622h9M2140 3753h9M2031 3614h9M2007 3750h9M1865 3573h9M1871 3827h9M1966 3776h9M1980 3696h9M1973 3645h9M2075 3702h9M1973 3551h9M1982 3619h9M1899 3786h9M2014 3797h9M1897 3716h9M1979 3575h9M2011 3695h9M1909 3650h9M1870 3699h9M1871 3624h9M1893 3719h9M1972 3598h9M2146 3571h9M1877 3814h9M2095 3718h9M1959 3632h9M2080 3615h9M2059 3632h9M2005 3580h9M1909 3596h9M1877 3703h9M1932 3703h9M2081 3674h9M1958 3784h9M2055 3777h9M1927 3748h9M1995 3734h9M1911 3690h9M1882 3740h9M1946 3676h9M1970 3689h9M1939 3578h9M1920 3570h9M2026 3666h9M2019 3779h9M2028 3644h9M1909 3504h9M1880 3730h9M2096 3649h9M2044 3547h9M1951 3667h9M1862 3876h9M1980 3713h9M2020 3702h9M1926 3631h9M1868 3530h9M2154 3720h9M2094 3826h9M2008 3741h9M1876 3677h9M1888 3689h9M1879 3808h9M2028 3675h9M2040 3678h9M2057 3499h9M2008 3509h9M1958 3854h9M1959 3732h9M1917 3684h9M2190 3814h9M1918 3648h9M1971 3793h9M1913 3562h9M2085 3678h9M1870 3618h9M1882 3626h9M1989 3779h9M1915 3719h9M1967 3799h9M2033 3720h9M1884 3569h9M1869 3624h9M1895 3565h9M2119 3711h9M2058 3590h9M2013 3658h9M2067 3817h9M1982 3754h9M1950 3649h9M1943 3648h9M1942 3667h9M2066 3663h9M2092 3574h9M2029 3622h9M2013 3775h9M2059 3674h9M1945 3526h9M1952 3712h9M2093 3563h9M1864 3589h9M2041 3442h9M2016 3557h9M1944 3766h9M2006 3664h9M1870 3765h9M1949 3763h9M1990 3640h9M2096 3637h9M1994 3624h9M1927 3661h9M1883 3708h9M2082 3863h9M2095 3668h9M2097 3725h9M2131 3564h9M2100 3628h9M2067 3640h9M2042 3658h9M1926 3687h9M1876 3665h9M1972 3606h9M1917 3770h9M1897 3747h9M1860 3711h9M1959 3728h9M1865 3670h9M1954 3753h9M1961 3794h9M1997 3785h9M2089 3522h9M1980 3693h9M1904 3615h9M1963 3514h9M2025 3759h9M1986 3654h9M1951 3641h9M2066 3734h9M2151 3650h9M2096 3630h9M1933 3586h9M2003 3680h9M2013 3828h9M1945 3722h9M2041 3680h9M1896 3720h9M2001 3760h9M2034 3622h9M1995 3803h9M1904 3720h9M1889 3702h9M2125 3702h9M1972 3792h9M1943 3538h9M2065 3493h9M1867 3545h9M1885 3762h9M2011 3774h9M2011 3492h9M1981 3510h9M1900 3648h9M1896 3733h9M1870 3851h9M2011 3798h9M2027 3771h9M1947 3873h9M1951 3664h9M1983 3614h9M2038 3761h9M1961 3756h9M1893 3663h9M2201 3664h9M2054 3766h9M2162 3697h9M2016 3667h9M1864 3590h9M1872 3822h9M1979 3671h9M1953 3632h9M1948 3682h9M2016 3773h9M2089 3589h9M1926 3702h9M2061 3743h9M1929 3734h9M2055 3723h9M2137 3726h9M1938 3666h9M2013 3720h9M2123 3763h9M2100 3614h9M1908 3751h9M1960 3746h9M1976 3627h9M2122 3795h9M1954 3751h9M1944 3557h9M2035 3667h9M2072 3715h9M2052 3766h9M2040 3638h9M2055 3706h9M1918 3731h9M2020 3581h9M2024 3681h9M1876 3574h9M2028 3772h9M1886 3787h9M2052 3638h9M2152 3682h9M1975 3461h9M2016 3629h9M1997 3525h9M2068 3826h9M2141 3407h9M2011 3720h9M1945 3823h9M1870 3708h9M1948 3723h9M1914 3773h9M2051 3559h9M2066 3618h9M1926 3795h9M1964 3743h9M2033 3746h9M1900 3599h9M2022 3761h9M1990 3671h9M2040 3687h9M2005 3763h9M1866 3619h9M1988 3647h9M1948 3779h9M1995 3863h9M1985 3852h9M1958 3683h9M2087 3643h9M1911 3715h9M1995 3559h9M1983 3663h9M1955 3709h9M1939 3794h9M2007 3675h9M1966 3791h9M2037 3813h9M1945 3707h9M2159 3690h9M2126 3774h9M1917 3562h9M2023 3628h9M1889 3531h9M2078 3704h9M1963 3732h9M1984 3704h9M2012 3669h9M2003 3697h9M2118 3563h9M2002 3540h9M1920 3753h9M2171 3826h9M1957 3725h9M1866 3707h9M1927 3601h9M1969 3599h9M1919 3835h9M2121 3637h9M1980 3779h9M1926 3584h9M1864 3696h9M1884 3573h9M1937 3783h9M2028 3673h9M2150 3621h9M1953 3566h9M2037 3683h9M2138 3763h9M1971 3776h9M1922 3744h9M2060 3787h9M2226 3648h9M1958 3742h9M1877 3667h9M2000 3611h9M2006 3810h9M1968 3596h9M1976 3651h9M1989 3800h9M2040 3660h9M1968 3629h9M1899 3542h9M2019 3505h9M2023 3605h9M2009 3713h9M2030 3801h9M1876 3597h9M1910 3615h9M2019 3677h9M1953 3726h9M1905 3790h9M2001 3614h9M1882 3771h9M1919 3504h9M1863 3809h9M2087 3666h9M2004 3607h9M1910 3619h9M2009 3564h9M1937 3690h9M2001 3484h9M1927 3698h9M1969 3875h9M2014 3740h9M1901 3758h9M2018 3747h9M1938 3743h9M2101 3609h9M2022 3662h9M1903 3569h9M1901 3731h9M1888 3647h9M1979 3643h9M1961 3680h9M1936 3732h9M1931 3555h9M2061 3645h9M1963 3712h9M1933 3756h9M1881 3717h9M2066 3703h9M1960 3652h9M1953 3746h9M1923 3525h9M1964 3669h9M1994 3686h9M2103 3570h9M1946 3499h9M2013 3811h9M1968 3551h9M2025 3585h9M1935 3721h9M1871 3524h9M1933 3678h9M1863 3609h9M2020 3674h9M1901 3627h9M1964 3691h9M1930 3553h9M1910 3624h9M1953 3789h9M2040 3742h9M1958 3652h9M1979 3638h9M1913 3604h9M1941 3675h9M2126 3733h9M1910 3753h9M1901 3775h9M1935 3709h9M2016 3592h9M1876 3710h9M2041 3578h9M2028 3782h9M1969 3722h9M1935 3677h9M2044 3642h9M1894 3642h9M1897 3694h9M1926 3642h9M2084 3709h9M1914 3797h9M1894 3682h9M1938 3629h9M1910 3689h9M1971 3707h9M2010 3669h9M1935 3682h9M1988 3655h9M2091 3581h9M2007 3727h9M2000 3624h9M2167 3746h9M1915 3638h9M1876 3705h9M1952 3554h9M1908 3649h9M1883 3739h9M2037 3688h9M2000 3674h9M1972 3691h9M2005 3634h9M1986 3654h9M1930 3805h9M1991 3740h9M1960 3557h9M1969 3762h9M2041 3875h9M2000 3589h9M1897 3689h9M2046 3578h9M2033 3740h9M1864 3736h9M1874 3681h9M1917 3703h9M1892 3823h9M1997 3637h9M1861 3684h9M1870 3826h9M1894 3779h9M1965 3788h9M1948 3413h9M1877 3541h9M2036 3730h9M1947 3722h9M1965 3630h9M2132 3703h9M1928 3549h9M1887 3683h9M1929 3638h9M1941 3580h9M1947 3542h9M1865 3615h9M2029 3726h9M1953 3578h9M1908 3754h9M2065 3548h9M1905 3691h9M1980 3682h9M2010 3551h9M2094 3578h9M1952 3729h9M2057 3763h9M2030 3797h9M1932 3750h9M2093 3614h9M2082 3795h9M1913 3704h9M1992 3777h9M1923 3711h9M1955 3654h9M1975 3450h9M2241 3757h9M2032 3623h9M1987 3869h9M2121 3690h9M1919 3760h9M1974 3641h9M2049 3580h9M2028 3656h9M1892 3757h9M1970 3636h9M1960 3662h9M2007 3696h9M1872 3640h9M1909 3717h9M1984 3608h9M1930 3711h9M2053 3706h9M2135 3686h9M2019 3654h9M1994 3713h9M1962 3653h9M1870 3656h9M1993 3770h9M2052 3798h9M1985 3744h9M1906 3675h9M1999 3584h9M1872 3701h9M1951 3632h9M1959 3793h9M1899 3667h9M2081 3841h9M1901 3779h9M2061 3730h9M1931 3826h9M2130 3569h9M1891 3821h9M2042 3733h9M1947 3741h9M1962 3815h9M1901 3678h9M2127 3678h9M1887 3592h9M1998 3571h9M1980 3789h9M2111 3586h9M1883 3705h9M1918 3605h9M2102 3630h9M1980 3646h9M1926 3558h9M2037 3644h9M2071 3577h9M1902 3727h9M1959 3623h9M1935 3565h9M1953 3441h9M1965 3807h9M2034 3761h9M1908 3728h9M1909 3675h9M1938 3375h9M2037 3725h9M2029 3596h9M2015 3727h9M1953 3622h9M1946 3625h9M2092 3509h9M1945 3561h9M1983 3803h9M2053 3867h9M2057 3680h9M2120 3748h9M2129 3666h9M1966 3734h9M1929 3775h9M2044 3689h9M1958 3813h9M2055 3611h9M1968 3528h9M1948 3720h9M2142 3730h9M2039 3822h9M1933 3780h9M1987 3545h9M1863 3633h9M2053 3694h9M2045 3642h9M2212 3720h9M1931 3794h9M1974 3648h9M1888 3546h9M1871 3798h9M1916 3800h9M1867 3678h9M1906 3661h9M2024 3497h9M2022 3749h9M1950 3692h9M1929 3749h9M1956 3608h9M1965 3772h9M1986 3688h9M1970 3640h9M1906 3513h9M1933 3775h9M1913 3603h9M2036 3700h9M1964 3728h9M2017 3681h9M1870 3844h9M1956 3615h9M1968 3794h9M1937 3867h9M2014 3676h9M2070 3801h9M1917 3707h9M1901 3769h9M1976 3653h9M1908 3598h9M1906 3526h9M1981 3758h9M2023 3682h9M2067 3727h9M2042 3721h9M1954 3617h9M1939 3865h9M1860 3685h9M1866 3717h9M1948 3765h9M1964 3729h9M2072 3732h9M1938 3798h9M1940 3722h9M1920 3626h9M2122 3566h9M2034 3677h9M1994 3578h9M1954 3700h9M2087 3879h9M1981 3653h9M2162 3676h9M1946 3695h9M1995 3750h9M1896 3676h9M2130 3831h9M1994 3711h9M1929 3779h9M1902 3697h9M1908 3630h9M1955 3687h9M1896 3681h9M1958 3644h9M1889 3674h9M2018 3786h9M1969 3662h9M1949 3859h9M2039 3601h9M1947 3639h9M1917 3534h9M1954 3564h9M1896 3824h9M2047 3608h9M1926 3592h9M2024 3682h9M1901 3845h9M2019 3693h9M2128 3805h9M1885 3716h9M1910 3557h9M2133 3822h9M1947 3660h9M2072 3688h9M1927 3770h9M1923 3766h9M1952 3762h9M2012 3759h9M1936 3847h9M1895 3662h9M1927 3792h9M1911 3725h9M1973 3677h9M2016 3729h9M1906 3676h9M1995 3509h9M2048 3580h9M1927 3437h9M1996 3755h9M1979 3716h9M1916 3701h9M2068 3648h9M2000 3753h9M1929 3709h9M1973 3641h9M2187 3647h9M2117 3785h9M2051 3762h9M1864 3711h9M1929 3704h9M2107 3720h9M2054 3576h9M2121 3563h9M2067 3536h9M1927 3562h9M2092 3750h9M1978 3682h9M1929 3699h9M1889 3605h9M1874 3767h9M2003 3799h9M1927 3548h9M1862 3791h9M1922 3648h9M1894 3680h9M1929 3542h9M1893 3779h9M2092 3675h9M1901 3811h9M1934 3577h9M1939 3750h9M2103 3641h9M2004 3655h9M2062 3710h9M1977 3595h9M1920 3656h9M1950 3667h9M1916 3688h9M1974 3565h9M1963 3696h9M1954 3548h9M1937 3567h9M1985 3807h9M2036 3654h9M1898 3633h9M1985 3624h9M1899 3454h9M1868 3613h9M1898 3798h9M2009 3595h9M1935 3702h9M1952 3614h9M2040 3824h9M2042 3666h9M2031 3594h9M1975 3721h9M1887 3738h9M2015 3778h9M2041 3548h9M2038 3739h9M2046 3607h9M2038 3720h9M1875 3592h9M1989 3630h9M1986 3663h9M1978 3761h9M1948 3766h9M2033 3609h9M2034 3743h9M1964 3789h9M2112 3756h9M1938 3661h9M1984 3656h9M2109 3711h9M1953 3758h9M2029 3795h9M2013 3683h9M1965 3488h9M1920 3853h9M2126 3571h9M1875 3723h9M1929 3664h9M1925 3685h9M2026 3612h9M2001 3622h9M2002 3716h9M1876 3700h9M1880 3609h9M2065 3519h9M2006 3752h9M1894 3787h9M2040 3567h9M2003 3730h9M1880 3740h9M2024 3620h9M1880 3528h9M1914 3467h9M1919 3825h9M1862 3649h9M1863 3745h9M1951 3615h9M2064 3575h9M1992 3718h9M2121 3664h9M1937 3594h9M1927 3649h9M1935 3750h9M2044 3687h9M1933 3696h9M2154 3494h9M1966 3801h9M2080 3871h9M1874 3744h9M1929 3777h9M1970 3769h9M1880 3702h9M1902 3663h9M1908 3591h9M2061 3715h9M2059 3595h9M1937 3761h9M2056 3801h9M2103 3755h9M1963 3616h9M2020 3641h9M1874 3742h9M1974 3767h9M1882 3797h9M1988 3672h9M1878 3587h9M1928 3634h9M1906 3678h9M2041 3740h9M1952 3560h9M2063 3548h9M2025 3774h9M1977 3777h9M1933 3687h9M1944 3731h9M1880 3488h9M1992 3666h9M1960 3741h9M1864 3772h9M1986 3710h9M2042 3582h9M2008 3730h9M2108 3519h9M1912 3646h9M1963 3620h9M1894 3650h9M1869 3612h9M1969 3691h9M1999 3689h9M1976 3633h9M1925 3717h9M1960 3675h9M2027 3786h9M1921 3685h9M1999 3767h9M1968 3679h9M1882 3707h9M1954 3602h9M1984 3667h9M2011 3642h9M1999 3832h9M1969 3760h9M1889 3654h9M1960 3723h9M2203 3760h9M1967 3430h9M1861 3735h9M1975 3729h9M2045 3696h9M2035 3520h9M2197 3659h9M1888 3826h9M2011 3777h9M1891 3713h9M2021 3580h9M1930 3664h9M1923 3621h9M1975 3794h9M1944 3624h9M1921 3873h9M2175 3833h9M1863 3556h9M1928 3603h9M2090 3697h9M1911 3685h9M2074 3598h9M1999 3563h9M1931 3624h9M1982 3700h9M2068 3750h9M1892 3563h9M1871 3646h9M1928 3615h9M2057 3773h9M1924 3640h9M1928 3682h9M1949 3535h9M1909 3511h9M1954 3748h9M1891 3621h9M2143 3768h9M1998 3645h9M1991 3668h9M1995 3602h9M1944 3649h9M2030 3612h9M1868 3629h9M1957 3724h9M1919 3621h9M2019 3751h9M1920 3625h9M2126 3859h9M1988 3671h9M2049 3821h9M1899 3854h9M1935 3787h9M1900 3692h9M1906 3688h9M2050 3601h9M1921 3736h9M1904 3876h9M1885 3776h9M2110 3735h9M1957 3738h9M2047 3791h9M2096 3596h9M2048 3522h9M1965 3585h9M1947 3778h9M1940 3623h9M1957 3627h9M1917 3578h9M2077 3655h9M1998 3706h9M1972 3648h9M1937 3477h9M1979 3800h9M1934 3660h9M2062 3651h9M2015 3726h9M1971 3577h9M2020 3833h9M2146 3838h9M1939 3787h9M1886 3686h9M1893 3730h9M1940 3790h9M2032 3725h9M1947 3657h9M1951 3756h9M1963 3713h9M1947 3678h9M1884 3508h9M2007 3738h9M1975 3715h9M2064 3773h9M1953 3585h9M2108 3769h9M1947 3717h9M2019 3848h9M1875 3754h9M1978 3613h9M1983 3666h9M1960 3778h9M1960 3838h9M1925 3611h9M1939 3597h9M1916 3802h9M2121 3745h9M1970 3599h9M1967 3630h9M1906 3833h9M2049 3691h9M1973 3807h9M1987 3708h9M1949 3717h9M1864 3727h9M1995 3678h9M2088 3631h9M2144 3690h9M1872 3647h9M2022 3487h9M2048 3467h9M2006 3599h9M1997 3503h9M1979 3559h9M1996 3659h9M2160 3665h9M1927 3525h9M1993 3596h9M2169 3496h9M1917 3528h9M2039 3566h9M1958 3479h9M2051 3570h9M1924 3572h9M2069 3482h9M1903 3387h9M1930 3637h9M1957 3631h9M2129 3664h9M1940 3520h9M2029 3497h9M1954 3470h9M1998 3570h9M2153 3592h9M1924 3564h9M1861 3572h9M1969 3595h9M2083 3450h9M2023 3614h9M1870 3684h9M1918 3718h9M2069 3628h9M2017 3631h9M1886 3522h9M1919 3615h9M2050 3489h9M2060 3586h9M2010 3598h9M1987 3571h9M2096 3510h9M1869 3524h9M2094 3551h9M2182 3385h9M1918 3543h9M2017 3650h9M1971 3509h9M2074 3663h9M2020 3520h9M1942 3587h9M1993 3555h9M1873 3587h9M1923 3575h9M1931 3582h9M2065 3584h9M2056 3487h9M2036 3587h9M1927 3560h9M1949 3434h9M2040 3531h9M2018 3555h9M2038 3575h9M1961 3599h9M2073 3434h9M1992 3534h9M1879 3648h9M2086 3508h9M1878 3619h9M1927 3550h9M2103 3542h9M1978 3674h9M2077 3655h9M2052 3642h9M2008 3562h9M1914 3509h9M1981 3573h9M2027 3565h9M2051 3519h9M2022 3623h9M2045 3592h9M1979 3510h9M2045 3546h9M1895 3615h9M2067 3626h9M1952 3573h9M2044 3565h9M1912 3596h9M2006 3576h9M2101 3588h9M1943 3579h9M2183 3526h9M1963 3521h9M2025 3494h9M2034 3615h9M1912 3519h9M1877 3532h9M1947 3528h9M2073 3665h9M2014 3506h9M1936 3582h9M2128 3640h9M1960 3577h9M1953 3559h9M1872 3463h9M1953 3628h9M2066 3458h9M1970 3532h9M2018 3504h9M2081 3557h9M2047 3622h9M2141 3571h9M2094 3595h9M1940 3587h9M2095 3647h9M2134 3503h9M2072 3487h9M1977 3557h9M2052 3589h9M2114 3533h9M2074 3593h9M1990 3498h9M2047 3589h9M2068 3567h9M1964 3593h9M2036 3611h9M2179 3533h9M2190 3392h9M2085 3521h9M2190 3517h9M2096 3511h9M1877 3618h9M2076 3528h9M2230 3551h9M2146 3509h9M1894 3575h9M1889 3597h9M1934 3512h9M2011 3557h9M1945 3618h9M2019 3593h9M2122 3565h9M2073 3545h9M2050 3601h9M1935 3479h9M1862 3513h9M2045 3562h9M1960 3598h9M2062 3653h9M1930 3603h9M2060 3513h9M2002 3515h9M1967 3595h9M1909 3575h9M1916 3592h9M1904 3539h9M2050 3589h9M2005 3568h9M2090 3652h9M1953 3527h9M1886 3673h9M1901 3491h9M2016 3633h9M1867 3562h9M2152 3580h9M1964 3574h9M2018 3564h9M1872 3499h9M2190 3524h9M2109 3527h9M2119 3611h9M1969 3690h9M1897 3556h9M1905 3524h9M1954 3513h9M1957 3664h9M1895 3542h9M2090 3613h9M2037 3582h9M2228 3503h9M1875 3568h9M2010 3556h9M1906 3492h9M1962 3528h9M1942 3505h9M2123 3597h9M2174 3539h9M1996 3555h9M1992 3555h9M1974 3452h9M1963 3611h9M2047 3645h9M1981 3597h9M2164 3647h9M1945 3534h9M2091 3583h9M1936 3556h9M2021 3558h9M1965 3556h9M2111 3660h9M1977 3577h9M2047 3619h9M1891 3566h9M1924 3671h9M2043 3568h9M2128 3566h9M1918 3559h9M1954 3573h9M2073 3563h9M1983 3630h9M2019 3626h9M2003 3492h9M1879 3471h9M2103 3595h9M1943 3511h9M2026 3562h9M2022 3520h9M1880 3663h9M1896 3569h9M2123 3461h9M2059 3574h9M1976 3586h9M1872 3438h9M2177 3553h9M2078 3636h9M2019 3597h9M2061 3664h9M2039 3645h9M1961 3545h9M1998 3594h9M2043 3686h9M2073 3574h9M2187 3590h9M2026 3599h9M1957 3505h9M2003 3552h9M1905 3577h9M1971 3535h9M2164 3623h9M2097 3569h9M2095 3530h9M1945 3601h9M2020 3670h9M1921 3595h9M1926 3538h9M2104 3601h9M2006 3716h9M2044 3497h9M1970 3567h9M2149 3517h9M2032 3628h9M1910 3575h9M2161 3595h9M1995 3579h9M2204 3603h9M2093 3544h9M1948 3508h9M1973 3529h9M2088 3608h9M1979 3538h9M2021 3609h9M2006 3509h9M1969 3542h9M2049 3460h9M1934 3626h9M2011 3521h9M2035 3587h9M1903 3611h9M2057 3562h9M2084 3501h9M2066 3559h9M1898 3535h9M2106 3537h9M1956 3531h9M1912 3627h9M2209 3650h9M2041 3615h9M1956 3541h9M1875 3656h9M1957 3528h9M1928 3582h9M1936 3571h9M2007 3650h9M1868 3588h9M1922 3545h9M2151 3608h9M1952 3600h9M1989 3636h9M1943 3599h9M1970 3571h9M1976 3534h9M2001 3629h9M1931 3548h9M2027 3526h9M2077 3612h9M1884 3620h9M2084 3500h9M1923 3566h9M1954 3613h9M2088 3606h9M2099 3626h9M1984 3545h9M1918 3619h9M2079 3631h9M1959 3548h9M2017 3645h9M2026 3584h9M1910 3597h9M2044 3515h9M2164 3516h9M2083 3559h9M2007 3524h9M1936 3612h9M1972 3551h9M2079 3613h9M2008 3585h9M2161 3561h9M2030 3596h9M2004 3622h9M2011 3539h9M1927 3619h9M1962 3476h9M2058 3585h9M2029 3632h9M2122 3604h9M1974 3446h9M2021 3562h9M2121 3646h9M2038 3652h9M1984 3568h9M1908 3552h9M2012 3633h9M1919 3618h9M2222 3491h9M1966 3572h9M2090 3688h9M2113 3569h9M1908 3567h9M1988 3585h9M1903 3661h9M1920 3611h9M2012 3506h9M1998 3572h9M1973 3618h9M1944 3721h9M2102 3517h9M2016 3575h9M1895 3485h9M2149 3538h9M2176 3461h9M2060 3612h9M1906 3544h9M1888 3573h9M2121 3629h9M2032 3637h9M1986 3492h9M1953 3532h9M2000 3589h9M2162 3509h9M2137 3645h9M2091 3667h9M1890 3711h9M1894 3497h9M2102 3607h9M1993 3578h9M2051 3673h9M1919 3537h9M1933 3566h9M1992 3493h9M2020 3495h9M1959 3555h9M1966 3659h9M2154 3635h9M2148 3553h9M2131 3567h9M2013 3586h9M1974 3592h9M1978 3519h9M1875 3571h9M1872 3499h9M1980 3581h9M1907 3463h9M2019 3619h9M1949 3548h9M1881 3613h9M1931 3562h9M1971 3462h9M2265 3476h9M2001 3521h9M1966 3653h9M2039 3577h9M2030 3525h9M1949 3615h9M1998 3666h9M2000 3582h9M2010 3466h9M2048 3503h9M1952 3711h9M1866 3577h9M2019 3578h9M1990 3537h9M2189 3450h9M1887 3659h9M2045 3524h9M1900 3555h9M2254 3600h9M1887 3584h9M1927 3660h9M2019 3646h9M2006 3692h9M2031 3587h9M1888 3545h9M2029 3540h9M2239 3569h9M1914 3629h9M1937 3594h9M1981 3527h9M2129 3575h9M2099 3550h9M1938 3559h9M1996 3601h9M1866 3584h9M1868 3529h9M2247 3646h9M1954 3678h9M2132 3623h9M2137 3555h9M1978 3518h9M2048 3495h9M1940 3598h9M1940 3591h9M2172 3511h9M2130 3529h9M1897 3584h9M2093 3527h9M1917 3544h9M1918 3581h9M1919 3555h9M2025 3545h9M2105 3529h9M1913 3692h9M2141 3574h9M2073 3590h9M1939 3611h9M2020 3647h9M2007 3529h9M1947 3546h9M2068 3479h9M1952 3428h9M1932 3593h9M1985 3573h9M1878 3604h9M1900 3625h9M2011 3547h9M2139 3546h9M2092 3576h9M1990 3630h9M2034 3570h9M1978 3583h9M1999 3550h9M1886 3415h9M1979 3555h9M2111 3597h9M2104 3674h9M1979 3520h9M2072 3534h9M1965 3656h9M2045 3636h9M2102 3493h9M2010 3594h9M1919 3562h9M2158 3463h9M2037 3543h9M1995 3521h9M2127 3503h9M2026 3603h9M1981 3554h9M1964 3632h9M2036 3565h9M1881 3580h9M2044 3568h9M2134 3456h9M2240 3559h9M1876 3466h9M2077 3605h9M1969 3567h9M2007 3545h9M2106 3608h9M1978 3472h9M2128 3542h9M1887 3648h9M2040 3449h9M1865 3561h9M2252 3749h9M1986 3618h9M2080 3563h9M1973 3598h9M2062 3522h9M2160 3575h9M2013 3545h9M2062 3631h9M1935 3606h9M1947 3497h9M1958 3607h9M2046 3635h9M1923 3552h9M1998 3608h9M1979 3514h9M2098 3531h9M2139 3567h9M2037 3647h9M1943 3524h9M2037 3623h9M2052 3577h9M2107 3509h9M2031 3602h9M1979 3675h9M2036 3652h9M2082 3560h9M2186 3638h9M1993 3564h9M1888 3562h9M1968 3584h9M1949 3605h9M1983 3476h9M1941 3517h9M1864 3556h9M2083 3504h9M2292 3535h9M2019 3546h9M2078 3658h9M1976 3642h9M1883 3584h9M1864 3582h9M1930 3586h9M1879 3585h9M2003 3537h9M1911 3500h9M1952 3595h9M1979 3581h9M2120 3552h9M2022 3621h9M2044 3595h9M2000 3688h9M1985 3548h9M2052 3670h9M2135 3573h9M2076 3602h9M2000 3611h9M2421 3735h9M2576 3688h9M2308 3578h9M2113 3583h9M2451 3778h9M2077 3717h9M2381 3585h9M2469 3603h9M2493 3741h9M2236 3577h9M2286 3714h9M2315 3669h9M2304 3801h9M2206 3703h9M2398 3720h9M2455 3863h9M2284 3742h9M1921 3691h9M2427 3621h9M2520 3552h9M2523 3675h9M2190 3678h9M2296 3630h9M2139 3675h9M2466 3758h9M2521 3667h9M2283 3692h9M2353 3763h9M2579 3785h9M2356 3844h9M2222 3603h9M2426 3737h9M2349 3806h9M2285 3711h9M2385 3780h9M2470 3732h9M2369 3503h9M2504 3580h9M2286 3578h9M2558 3671h9M2309 3706h9M2435 3791h9M2314 3821h9M2205 3782h9M2244 3784h9M2238 3681h9M2538 3620h9M2167 3773h9M2294 3682h9M2186 3696h9M2354 3636h9M2326 3764h9M2203 3821h9M2171 3708h9M2085 3746h9M2483 3740h9M2130 3756h9M2206 3728h9M2120 3786h9M1992 3705h9M2511 3767h9M2281 3699h9M2323 3719h9M2227 3677h9M2416 3665h9M2217 3671h9M2281 3736h9M2262 3703h9M2225 3831h9M2343 3692h9M2371 3716h9M2111 3704h9M2561 3765h9M2495 3660h9M2122 3657h9M2519 3630h9M2219 3819h9M2295 3702h9M2383 3728h9M2288 3743h9M2230 3716h9M2422 3625h9M2300 3617h9M2434 3775h9M2462 3813h9M2473 3785h9M2221 3804h9M2370 3773h9M2157 3817h9M2494 3579h9M2252 3678h9M2239 3844h9M2477 3696h9M2522 3499h9M2269 3829h9M2223 3827h9M2258 3822h9M2412 3682h9M2223 3705h9M2492 3719h9M2109 3699h9M2405 3626h9M2328 3682h9M2122 3761h9M2170 3652h9M2502 3619h9M2414 3826h9M2469 3762h9M2296 3593h9M2350 3760h9M2258 3631h9M2451 3624h9M2391 3676h9M2093 3865h9M2414 3768h9M2130 3707h9M2368 3652h9M2426 3548h9M2108 3603h9M2407 3654h9M2232 3636h9M2119 3636h9M2187 3688h9M2272 3500h9M2233 3825h9M2257 3709h9M2221 3653h9M2311 3593h9M2297 3564h9M2367 3572h9M2411 3804h9M2091 3774h9M2261 3817h9M2243 3687h9M2276 3825h9M2046 3781h9M2330 3667h9M2283 3795h9M2432 3864h9M2226 3541h9M2238 3693h9M2254 3821h9M2066 3804h9M2225 3715h9M2433 3744h9M2306 3736h9M2422 3767h9M2206 3658h9M2431 3730h9M2434 3582h9M2284 3768h9M2308 3674h9M2353 3859h9M2020 3853h9M2354 3633h9M2407 3714h9M2484 3638h9M2450 3629h9M2360 3773h9M2303 3768h9M2231 3806h9M2244 3647h9M2299 3706h9M2198 3782h9M2298 3765h9M2106 3592h9M2278 3621h9M2296 3761h9M2471 3843h9M2425 3647h9M2392 3663h9M2391 3616h9M2503 3748h9M2275 3588h9M2355 3663h9M2351 3646h9M2239 3767h9M2522 3597h9M2288 3746h9M2294 3671h9M2366 3667h9M2302 3505h9M2440 3692h9M2181 3860h9M2277 3656h9M2197 3807h9M2320 3683h9M2130 3630h9M2364 3709h9M2034 3632h9M2210 3511h9M2423 3668h9M2131 3762h9M2283 3624h9M2132 3700h9M2328 3551h9M2454 3597h9M2512 3741h9M2290 3741h9M2233 3705h9M2546 3659h9M2430 3630h9M2313 3798h9M2148 3741h9M2015 3608h9M2257 3790h9M2416 3629h9M2298 3728h9M2097 3749h9M2505 3823h9M2233 3674h9M2185 3666h9M2281 3772h9M2327 3627h9M2431 3790h9M2230 3689h9M2302 3563h9M2335 3772h9M2589 3728h9M2276 3698h9M2402 3783h9M2196 3728h9M2408 3530h9M2508 3692h9M2438 3707h9M2282 3705h9M2357 3790h9M2280 3611h9M2219 3624h9M2423 3625h9M2530 3723h9M2305 3829h9M2266 3685h9M2426 3778h9M2397 3599h9M2293 3795h9M2349 3789h9M2225 3849h9M2221 3799h9M2411 3637h9M2221 3697h9M2376 3834h9M2443 3657h9M2235 3722h9M2249 3707h9M2431 3739h9M2460 3654h9M2203 3590h9M2074 3676h9M2334 3698h9M2172 3692h9M2257 3635h9M2514 3714h9M2501 3616h9M2204 3716h9M2308 3768h9M2144 3760h9M2428 3664h9M2009 3656h9M2271 3787h9M2240 3614h9M2413 3751h9M2430 3722h9M2475 3764h9M2077 3736h9M2435 3721h9M2532 3677h9M2425 3608h9M2327 3669h9M2187 3601h9M2359 3757h9M2239 3607h9M2205 3787h9M2159 3821h9M2094 3744h9M2421 3828h9M2268 3650h9M2129 3800h9M2310 3677h9M2269 3741h9M2333 3825h9M2027 3795h9M2254 3712h9M2284 3711h9M2434 3739h9M2126 3713h9M2315 3752h9M2334 3712h9M2472 3621h9M2184 3790h9M2479 3832h9M2533 3762h9M2338 3753h9M2329 3671h9M2331 3699h9M2261 3568h9M2235 3673h9M2327 3630h9M2064 3779h9M2311 3797h9M2167 3591h9M2335 3699h9M2241 3868h9M2540 3779h9M2321 3691h9M2455 3700h9M2540 3833h9M2247 3790h9M2552 3781h9M2200 3698h9M2286 3733h9M2338 3691h9M2454 3845h9M2256 3590h9M2387 3724h9M2395 3662h9M2377 3642h9M2489 3876h9M2207 3491h9M2269 3678h9M2365 3727h9M2261 3692h9M2400 3559h9M2449 3670h9M2138 3650h9M2410 3802h9M2515 3766h9M2239 3777h9M2053 3872h9M2449 3764h9M2329 3677h9M2207 3588h9M2437 3761h9M2074 3703h9M2360 3833h9M2203 3753h9M2310 3732h9M2235 3762h9M2355 3561h9M2222 3833h9M2208 3682h9M2558 3756h9M2487 3715h9M2441 3680h9M2295 3646h9M2432 3778h9M2249 3814h9M2463 3875h9M2248 3642h9M2093 3790h9M2191 3853h9M2369 3801h9M2169 3679h9M2375 3799h9M2169 3763h9M2234 3805h9M2318 3706h9M2411 3837h9M2316 3843h9M2210 3758h9M2193 3752h9M2222 3736h9M2436 3646h9M2105 3717h9M2422 3753h9M2222 3807h9M2309 3801h9M2226 3772h9M2513 3673h9M2308 3788h9M2422 3764h9M2331 3592h9M2348 3616h9M2360 3522h9M2410 3656h9M2305 3811h9M2439 3669h9M2514 3796h9M2422 3700h9M2347 3668h9M2373 3672h9M2510 3734h9M2376 3760h9M2392 3604h9M2525 3740h9M2271 3644h9M2252 3676h9M2348 3654h9M2362 3744h9M2330 3760h9M2361 3716h9M2439 3853h9M2335 3653h9M2421 3538h9M2367 3713h9M2390 3595h9M2284 3638h9M2269 3781h9M2316 3675h9M2507 3729h9M2062 3635h9M2399 3766h9M2372 3750h9M2216 3718h9M2176 3652h9M2213 3651h9M2291 3705h9M2227 3821h9M2274 3861h9M2475 3616h9M2459 3600h9M2535 3752h9M2198 3528h9M2279 3602h9M2485 3611h9M2301 3765h9M2334 3744h9M2297 3785h9M2203 3771h9M2165 3736h9M2173 3702h9M2411 3830h9M2082 3652h9M2195 3827h9M2210 3782h9M2258 3592h9M2345 3618h9M2430 3793h9M2513 3629h9M2546 3805h9M2561 3627h9M2374 3600h9M2310 3736h9M2414 3646h9M2325 3636h9M2381 3778h9M2338 3821h9M2433 3752h9M2489 3609h9M2323 3561h9M2326 3677h9M2443 3680h9M2240 3710h9M2310 3765h9M2207 3586h9M2108 3821h9M2154 3678h9M2175 3797h9M2250 3828h9M2231 3745h9M2433 3805h9M2163 3686h9M2317 3556h9M2427 3754h9M2399 3595h9M2354 3758h9M2471 3673h9M2269 3683h9M2284 3587h9M2279 3864h9M2201 3702h9M2495 3770h9M2361 3690h9M2314 3721h9M2425 3727h9M2460 3554h9M2443 3673h9M2331 3682h9M2419 3709h9M2416 3648h9M2356 3829h9M2484 3688h9M2350 3687h9M2314 3722h9M2498 3772h9M2532 3857h9M2155 3748h9M2269 3577h9M2181 3676h9M2561 3728h9M2305 3718h9M2227 3736h9M2318 3576h9M2418 3712h9M2422 3634h9M2343 3798h9M2110 3655h9M2276 3696h9M2260 3745h9M2471 3751h9M2472 3813h9M2249 3745h9M2279 3779h9M2283 3704h9M2117 3731h9M2372 3676h9M2341 3811h9M2260 3704h9M2234 3750h9M2314 3640h9M2098 3599h9M2378 3599h9M2153 3676h9M2479 3792h9M2410 3747h9M2510 3561h9M2370 3847h9M2186 3749h9M2499 3831h9M2401 3815h9M2186 3655h9M2228 3876h9M2013 3560h9M2441 3734h9M1928 3687h9M2290 3827h9M2071 3675h9M2477 3788h9M2207 3696h9M2131 3841h9M2274 3833h9M2441 3644h9M2313 3778h9M2393 3855h9M2485 3750h9M2427 3660h9M2252 3775h9M2379 3625h9M2322 3652h9M2258 3835h9M2205 3665h9M2410 3729h9M2356 3596h9M2330 3690h9M2224 3673h9M2294 3796h9M2589 3732h9M2535 3733h9M2133 3728h9M2508 3845h9M2235 3659h9M2264 3849h9M2389 3803h9M2034 3719h9M2320 3784h9M2272 3827h9M2242 3602h9M2113 3834h9M2438 3656h9M2485 3709h9M2319 3596h9M2262 3733h9M2364 3675h9M2471 3849h9M2227 3759h9M2130 3760h9M2206 3711h9M2360 3703h9M2478 3657h9M2273 3753h9M2332 3746h9M2308 3654h9M2427 3731h9M2459 3840h9M2289 3660h9M2276 3668h9M2069 3867h9M2262 3776h9M2375 3719h9M2470 3725h9M2327 3739h9M2036 3663h9M2238 3868h9M2417 3793h9M2423 3708h9M2147 3780h9M2497 3734h9M2387 3808h9M2544 3776h9M2565 3750h9M2466 3750h9M2355 3615h9M2483 3709h9M2205 3671h9M2307 3734h9M2216 3646h9M2395 3719h9M2604 3689h9M2439 3876h9M2312 3811h9M2379 3730h9M2555 3640h9M2257 3572h9M2322 3811h9M2304 3797h9M2236 3824h9M2323 3684h9M2559 3725h9M2416 3736h9M2433 3736h9M2177 3750h9M2403 3759h9M2241 3736h9M2367 3632h9M2178 3783h9M2429 3737h9M2123 3700h9M2371 3779h9M2498 3765h9M2468 3869h9M2024 3811h9M2280 3767h9M2366 3637h9M2217 3763h9M2314 3788h9M2236 3773h9M2489 3612h9M2208 3760h9M2492 3843h9M2412 3815h9M2182 3688h9M2531 3677h9M2305 3575h9M2312 3588h9M2386 3852h9M2379 3739h9M2284 3772h9M2188 3685h9M2261 3604h9M2502 3704h9M2166 3616h9M2485 3782h9M2443 3719h9M2457 3837h9M2425 3586h9M2072 3597h9M2371 3594h9M2190 3726h9M2217 3613h9M2463 3765h9M2440 3802h9M2527 3719h9M2308 3570h9M2300 3670h9M2473 3780h9M2530 3816h9M2491 3767h9M2351 3688h9M2329 3639h9M2384 3714h9M2058 3487h9M2233 3680h9M2290 3832h9M2246 3610h9M2381 3806h9M2551 3632h9M2296 3683h9M2532 3780h9M2333 3782h9M2282 3702h9M2325 3676h9M2295 3750h9M2362 3847h9M2445 3713h9M2035 3592h9M2261 3686h9M2153 3686h9M2343 3664h9M2309 3710h9M2233 3644h9M2310 3741h9M2188 3542h9M2199 3761h9M2111 3797h9M2248 3729h9M2223 3768h9M2333 3749h9M2066 3779h9M2101 3689h9M2395 3701h9M2392 3732h9M2338 3648h9M2459 3813h9M2254 3640h9M2353 3652h9M2344 3787h9M2414 3843h9M2387 3628h9M2212 3763h9M2204 3836h9M2309 3776h9M2468 3633h9M2278 3669h9M2395 3772h9M2259 3764h9M2089 3746h9M2370 3717h9M2133 3708h9M2183 3840h9M2287 3699h9M2310 3762h9M2335 3762h9M2202 3810h9M2260 3781h9M2356 3807h9M2315 3592h9M2173 3697h9M2507 3681h9M2332 3823h9M2251 3743h9M2362 3666h9M2355 3805h9M2463 3688h9M2288 3656h9M2195 3786h9M1945 3704h9M2144 3702h9M2320 3606h9M2195 3824h9M2252 3716h9M2283 3787h9M2485 3794h9M2397 3764h9M2169 3827h9M2251 3641h9M2275 3649h9M2379 3778h9M2493 3709h9M2246 3693h9M2171 3654h9M2264 3770h9M2358 3781h9M2211 3626h9M2498 3659h9M2312 3735h9M2082 3700h9M2239 3761h9M2284 3526h9M2428 3501h9M2271 3658h9M2244 3715h9M2450 3643h9M2244 3779h9M2391 3777h9M2368 3696h9M2260 3676h9M2444 3843h9M2293 3717h9M2303 3621h9M2612 3844h9M2303 3678h9M2324 3614h9M2280 3782h9M2543 3792h9M2496 3627h9M1898 3834h9M2349 3710h9M2199 3654h9M2539 3797h9M2089 3858h9M2327 3753h9M2223 3877h9M2383 3829h9M2193 3776h9M2337 3698h9M2217 3657h9M2170 3660h9M2322 3766h9M2118 3628h9M2243 3577h9M2286 3694h9M2299 3752h9M2450 3785h9M2362 3767h9M2219 3636h9M2411 3765h9M2193 3742h9M2265 3640h9M2374 3661h9M2359 3712h9M2140 3788h9M2371 3824h9M2251 3715h9M2310 3569h9M2173 3686h9M2117 3753h9M2264 3724h9M2357 3724h9M2339 3704h9M2383 3787h9M2292 3679h9M2273 3744h9M2277 3685h9M2162 3863h9M2434 3807h9M2362 3761h9M2367 3770h9M2441 3850h9M2195 3761h9M2191 3746h9M2367 3741h9M2026 3794h9M2418 3712h9M2416 3733h9M2259 3712h9M2378 3651h9M2427 3817h9M2476 3823h9M2507 3782h9M2508 3726h9M2387 3845h9M2594 3691h9M2455 3743h9M2246 3638h9M2529 3808h9M2376 3625h9M2262 3668h9M2292 3470h9M2363 3858h9M2259 3724h9M2370 3635h9M2391 3651h9M2273 3744h9M2325 3730h9M2208 3786h9M2185 3796h9M2267 3618h9M2321 3629h9M2261 3709h9M2440 3792h9M2398 3697h9M2125 3702h9M2289 3711h9M2261 3676h9M2443 3605h9M2334 3832h9M2228 3635h9M2302 3692h9M2369 3841h9M2316 3771h9M2254 3679h9M2373 3663h9M2497 3686h9M2311 3630h9M2273 3634h9M2266 3566h9M2331 3875h9M2076 3875h9M2316 3800h9M2185 3715h9M2546 3609h9M2012 3715h9M2227 3636h9M2207 3592h9M2525 3829h9M2144 3712h9M2269 3819h9M2217 3865h9M2332 3651h9M2320 3669h9M2265 3730h9M2099 3838h9M2416 3681h9M2320 3820h9M1954 3834h9M2307 3781h9M2245 3819h9M1969 3724h9M2441 3583h9M2049 3729h9M2472 3827h9M2236 3752h9M2134 3877h9M2251 3835h9M2293 3691h9M2557 3642h9M2511 3688h9M2208 3645h9M2488 3713h9M2281 3585h9M2494 3814h9M2375 3790h9M1876 3672h9M2353 3730h9M2251 3741h9M2228 3661h9M2156 3732h9M2229 3675h9M2524 3716h9M2325 3582h9M2257 3808h9M2407 3725h9M2305 3726h9M2386 3691h9M2489 3706h9M2527 3602h9M2511 3737h9M2454 3689h9M2351 3773h9M2477 3766h9M2392 3667h9M2298 3691h9M2162 3653h9M2117 3738h9M2319 3740h9M2155 3682h9M2240 3809h9M2121 3583h9M2510 3752h9M2110 3841h9M2539 3823h9M2041 3731h9M2209 3696h9M2109 3876h9M2233 3745h9M2442 3775h9M2387 3685h9M2361 3700h9M2011 3810h9M2242 3673h9M2272 3595h9M2160 3557h9M2395 3826h9M2340 3617h9M2512 3691h9M2106 3550h9M2355 3850h9M2276 3662h9M2291 3643h9M2253 3742h9M2228 3803h9M2192 3783h9M2378 3685h9M2288 3690h9M2564 3647h9M2496 3810h9M2282 3865h9M1996 3742h9M2347 3721h9M2446 3683h9M2303 3823h9M2313 3626h9M2409 3712h9M2250 3769h9M2221 3631h9M2292 3702h9M2336 3611h9M2349 3740h9M1979 3803h9M2186 3765h9M2162 3808h9M2254 3700h9M2543 3808h9M2136 3657h9M2356 3698h9M2442 3658h9M2066 3637h9M2303 3769h9M2433 3832h9M2362 3701h9M2431 3710h9M2263 3677h9M2459 3853h9M2513 3575h9M2482 3619h9M2281 3772h9M2142 3609h9M2224 3871h9M2480 3639h9M2348 3732h9M2373 3655h9M2531 3685h9M2444 3568h9M2384 3732h9M2519 3486h9M2407 3793h9M2292 3838h9M2443 3841h9M2391 3830h9M2413 3658h9M2182 3825h9M2413 3659h9M2333 3851h9M2089 3638h9M2427 3794h9M2165 3630h9M2353 3846h9M2331 3511h9M2474 3718h9M2265 3615h9M2497 3744h9M2386 3751h9M2391 3795h9M2319 3679h9M2565 3694h9M2104 3717h9M2227 3653h9M2267 3602h9M2312 3635h9M2417 3840h9M2084 3679h9M2369 3644h9M2392 3608h9M2236 3709h9M2389 3723h9M2234 3686h9M2272 3693h9M2366 3771h9M2377 3658h9M2097 3704h9M2217 3670h9M2329 3741h9M2510 3706h9M2087 3772h9M2459 3571h9M2414 3736h9M2253 3735h9M2383 3773h9M2490 3718h9M2179 3694h9M2279 3788h9M2484 3600h9M2501 3612h9M2484 3695h9M2428 3652h9M2347 3721h9M2342 3791h9M2267 3690h9M2144 3707h9M2260 3799h9M2423 3654h9M2391 3838h9M2300 3614h9M2217 3747h9M2063 3764h9M2385 3649h9M2210 3704h9M2297 3862h9M2295 3705h9M2304 3575h9M2261 3598h9M2347 3522h9M2171 3742h9M2034 3579h9M2468 3599h9M2328 3747h9M2180 3567h9M2543 3669h9M2401 3651h9M2380 3601h9M2136 3625h9M2241 3663h9M2282 3758h9M2254 3803h9M2236 3779h9M2513 3876h9M2050 3875h9M2081 3847h9M2327 3751h9M2196 3804h9M2425 3669h9M2242 3797h9M2474 3789h9M2276 3720h9M2461 3795h9M2487 3732h9M2230 3745h9M2393 3672h9M2392 3644h9M2365 3665h9M2366 3601h9M2157 3782h9M2219 3693h9M1933 3494h9M2272 3636h9M1982 3571h9M2406 3611h9M2364 3841h9M2316 3673h9M2130 3793h9M1960 3538h9M2245 3497h9M2445 3591h9M2355 3625h9M2198 3661h9M2411 3739h9M2041 3757h9M2498 3742h9M2033 3630h9M2053 3665h9M2353 3658h9M2269 3704h9M2403 3586h9M2114 3790h9M2180 3567h9M2305 3620h9M2272 3652h9M2375 3760h9M2082 3525h9M2567 3583h9M1938 3450h9M2241 3588h9M1881 3554h9M2036 3768h9M2295 3657h9M1993 3639h9M2380 3676h9M2458 3667h9M2386 3709h9M2134 3805h9M2319 3749h9M2034 3539h9M2211 3570h9M2371 3703h9M2492 3723h9M2021 3763h9M2117 3578h9M2259 3657h9M2332 3818h9M2205 3695h9M2143 3612h9M2515 3708h9M2336 3570h9M2588 3639h9M2117 3656h9M2382 3741h9M2541 3542h9M2161 3830h9M2228 3489h9M2083 3561h9M2227 3528h9M2433 3652h9M2197 3760h9M2194 3522h9M2267 3716h9M2208 3635h9M2348 3368h9M2000 3593h9M2194 3818h9M2327 3733h9M2548 3551h9M2149 3676h9M2307 3450h9M2333 3484h9M2400 3751h9M2287 3591h9M2437 3878h9M2346 3539h9M1960 3530h9M2044 3782h9M2304 3655h9M2421 3660h9M2254 3566h9M2123 3662h9M2014 3840h9M2272 3598h9M2441 3542h9M2458 3668h9M2168 3566h9M1998 3686h9M2036 3693h9M2119 3774h9M2256 3658h9M2120 3850h9M2165 3705h9M2194 3619h9M2264 3732h9M2024 3606h9M1965 3702h9M2076 3576h9M2376 3657h9M2327 3642h9M2328 3667h9M2024 3681h9M2177 3631h9M2302 3597h9M2035 3787h9M2475 3700h9M2118 3566h9M2190 3611h9M2180 3644h9M2020 3753h9M2021 3540h9M2430 3741h9M2536 3673h9M2117 3783h9M2227 3644h9M2077 3702h9M1935 3732h9M2013 3871h9M2158 3535h9M2497 3345h9M1950 3513h9M2107 3435h9M2410 3770h9M2235 3612h9M1933 3709h9M2106 3725h9M2450 3663h9M2519 3688h9M2530 3412h9M2224 3638h9M1921 3587h9M2442 3717h9M2139 3694h9M2485 3539h9M2305 3773h9M2109 3801h9M2228 3780h9M2431 3687h9M2188 3586h9M2281 3681h9M2528 3649h9M2317 3844h9M2312 3709h9M2569 3668h9M2327 3741h9M2224 3536h9M1954 3636h9M2472 3768h9M2117 3498h9M2144 3629h9M2098 3760h9M2089 3722h9M2403 3467h9M2162 3796h9M2416 3672h9M2025 3581h9M2264 3797h9M2345 3649h9M2294 3744h9M1896 3549h9M2253 3791h9M2463 3572h9M2252 3577h9M2169 3674h9M2174 3597h9M2014 3484h9M2208 3679h9M2370 3568h9M2102 3797h9M2329 3755h9M2133 3579h9M2016 3767h9M2019 3468h9M2097 3797h9M2252 3684h9M2269 3653h9M2213 3504h9M2488 3486h9M2354 3528h9M1988 3687h9M2452 3808h9M2512 3628h9M2403 3592h9M2138 3685h9M2222 3751h9M1880 3782h9M2130 3820h9M2474 3532h9M2236 3732h9M2088 3577h9M2186 3740h9M2427 3612h9M2412 3820h9M2430 3578h9M2079 3689h9M2410 3705h9M2170 3557h9M2500 3642h9M2181 3588h9M2614 3794h9M2149 3448h9M2477 3673h9M2024 3495h9M2328 3636h9M2277 3702h9M2175 3629h9M2379 3647h9M2193 3729h9M2337 3576h9M2214 3794h9M2359 3465h9M2047 3679h9M2210 3723h9M2253 3627h9M2325 3426h9M2450 3718h9M2162 3566h9M2010 3690h9M2279 3679h9M2107 3576h9M2438 3633h9M2063 3683h9M2331 3836h9M2301 3612h9M2150 3571h9M2347 3749h9M2205 3645h9M2524 3671h9M2349 3542h9" stroke="#000" stroke-opacity="0.88" stroke-width="9" fill="none"/>
<rect x="293.7" y="319.8" width="94.0" height="69.0" fill="none" stroke="#000" stroke-width="1.0"/>
<line x1="293.65" y1="319.3" x2="293.65" y2="389.3" stroke="#000" stroke-width="1.2"/>
<line x1="325.20" y1="319.80" x2="325.20" y2="388.80" stroke="#000" stroke-width="1.3" />
<line x1="293.70" y1="361.00" x2="387.70" y2="361.00" stroke="#000" stroke-width="1.3" />
<line x1="293.70" y1="388.8" x2="293.70" y2="391.40" stroke="#000" stroke-width="0.85"/>
<line x1="300.77" y1="388.8" x2="300.77" y2="390.80" stroke="#000" stroke-width="0.85"/>
<line x1="304.91" y1="388.8" x2="304.91" y2="390.80" stroke="#000" stroke-width="0.85"/>
<line x1="307.85" y1="388.8" x2="307.85" y2="390.80" stroke="#000" stroke-width="0.85"/>
<line x1="310.13" y1="388.8" x2="310.13" y2="390.80" stroke="#000" stroke-width="0.85"/>
<line x1="311.99" y1="388.8" x2="311.99" y2="390.80" stroke="#000" stroke-width="0.85"/>
<line x1="313.56" y1="388.8" x2="313.56" y2="390.80" stroke="#000" stroke-width="0.85"/>
<line x1="314.92" y1="388.8" x2="314.92" y2="390.80" stroke="#000" stroke-width="0.85"/>
<line x1="316.12" y1="388.8" x2="316.12" y2="390.80" stroke="#000" stroke-width="0.85"/>
<line x1="317.20" y1="388.8" x2="317.20" y2="391.40" stroke="#000" stroke-width="0.85"/>
<line x1="324.27" y1="388.8" x2="324.27" y2="390.80" stroke="#000" stroke-width="0.85"/>
<line x1="328.41" y1="388.8" x2="328.41" y2="390.80" stroke="#000" stroke-width="0.85"/>
<line x1="331.35" y1="388.8" x2="331.35" y2="390.80" stroke="#000" stroke-width="0.85"/>
<line x1="333.63" y1="388.8" x2="333.63" y2="390.80" stroke="#000" stroke-width="0.85"/>
<line x1="335.49" y1="388.8" x2="335.49" y2="390.80" stroke="#000" stroke-width="0.85"/>
<line x1="337.06" y1="388.8" x2="337.06" y2="390.80" stroke="#000" stroke-width="0.85"/>
<line x1="338.42" y1="388.8" x2="338.42" y2="390.80" stroke="#000" stroke-width="0.85"/>
<line x1="339.62" y1="388.8" x2="339.62" y2="390.80" stroke="#000" stroke-width="0.85"/>
<line x1="340.70" y1="388.8" x2="340.70" y2="391.40" stroke="#000" stroke-width="0.85"/>
<line x1="347.77" y1="388.8" x2="347.77" y2="390.80" stroke="#000" stroke-width="0.85"/>
<line x1="351.91" y1="388.8" x2="351.91" y2="390.80" stroke="#000" stroke-width="0.85"/>
<line x1="354.85" y1="388.8" x2="354.85" y2="390.80" stroke="#000" stroke-width="0.85"/>
<line x1="357.13" y1="388.8" x2="357.13" y2="390.80" stroke="#000" stroke-width="0.85"/>
<line x1="358.99" y1="388.8" x2="358.99" y2="390.80" stroke="#000" stroke-width="0.85"/>
<line x1="360.56" y1="388.8" x2="360.56" y2="390.80" stroke="#000" stroke-width="0.85"/>
<line x1="361.92" y1="388.8" x2="361.92" y2="390.80" stroke="#000" stroke-width="0.85"/>
<line x1="363.12" y1="388.8" x2="363.12" y2="390.80" stroke="#000" stroke-width="0.85"/>
<line x1="364.20" y1="388.8" x2="364.20" y2="391.40" stroke="#000" stroke-width="0.85"/>
<line x1="371.27" y1="388.8" x2="371.27" y2="390.80" stroke="#000" stroke-width="0.85"/>
<line x1="375.41" y1="388.8" x2="375.41" y2="390.80" stroke="#000" stroke-width="0.85"/>
<line x1="378.35" y1="388.8" x2="378.35" y2="390.80" stroke="#000" stroke-width="0.85"/>
<line x1="380.63" y1="388.8" x2="380.63" y2="390.80" stroke="#000" stroke-width="0.85"/>
<line x1="382.49" y1="388.8" x2="382.49" y2="390.80" stroke="#000" stroke-width="0.85"/>
<line x1="384.06" y1="388.8" x2="384.06" y2="390.80" stroke="#000" stroke-width="0.85"/>
<line x1="385.42" y1="388.8" x2="385.42" y2="390.80" stroke="#000" stroke-width="0.85"/>
<line x1="386.62" y1="388.8" x2="386.62" y2="390.80" stroke="#000" stroke-width="0.85"/>
<line x1="290.85" y1="388.80" x2="293.05" y2="388.80" stroke="#000" stroke-width="0.7"/>
<line x1="291.85" y1="381.73" x2="293.05" y2="381.73" stroke="#000" stroke-width="0.7"/>
<line x1="291.85" y1="377.59" x2="293.05" y2="377.59" stroke="#000" stroke-width="0.7"/>
<line x1="291.85" y1="374.65" x2="293.05" y2="374.65" stroke="#000" stroke-width="0.7"/>
<line x1="291.85" y1="372.37" x2="293.05" y2="372.37" stroke="#000" stroke-width="0.7"/>
<line x1="291.85" y1="370.51" x2="293.05" y2="370.51" stroke="#000" stroke-width="0.7"/>
<line x1="291.85" y1="368.94" x2="293.05" y2="368.94" stroke="#000" stroke-width="0.7"/>
<line x1="291.85" y1="367.58" x2="293.05" y2="367.58" stroke="#000" stroke-width="0.7"/>
<line x1="291.85" y1="366.38" x2="293.05" y2="366.38" stroke="#000" stroke-width="0.7"/>
<line x1="290.85" y1="365.30" x2="293.05" y2="365.30" stroke="#000" stroke-width="0.7"/>
<line x1="291.85" y1="358.23" x2="293.05" y2="358.23" stroke="#000" stroke-width="0.7"/>
<line x1="291.85" y1="354.09" x2="293.05" y2="354.09" stroke="#000" stroke-width="0.7"/>
<line x1="291.85" y1="351.15" x2="293.05" y2="351.15" stroke="#000" stroke-width="0.7"/>
<line x1="291.85" y1="348.87" x2="293.05" y2="348.87" stroke="#000" stroke-width="0.7"/>
<line x1="291.85" y1="347.01" x2="293.05" y2="347.01" stroke="#000" stroke-width="0.7"/>
<line x1="291.85" y1="345.44" x2="293.05" y2="345.44" stroke="#000" stroke-width="0.7"/>
<line x1="291.85" y1="344.08" x2="293.05" y2="344.08" stroke="#000" stroke-width="0.7"/>
<line x1="291.85" y1="342.88" x2="293.05" y2="342.88" stroke="#000" stroke-width="0.7"/>
<line x1="290.85" y1="341.80" x2="293.05" y2="341.80" stroke="#000" stroke-width="0.7"/>
<line x1="291.85" y1="334.73" x2="293.05" y2="334.73" stroke="#000" stroke-width="0.7"/>
<line x1="291.85" y1="330.59" x2="293.05" y2="330.59" stroke="#000" stroke-width="0.7"/>
<line x1="291.85" y1="327.65" x2="293.05" y2="327.65" stroke="#000" stroke-width="0.7"/>
<line x1="291.85" y1="325.37" x2="293.05" y2="325.37" stroke="#000" stroke-width="0.7"/>
<line x1="291.85" y1="323.51" x2="293.05" y2="323.51" stroke="#000" stroke-width="0.7"/>
<line x1="291.85" y1="321.94" x2="293.05" y2="321.94" stroke="#000" stroke-width="0.7"/>
<line x1="291.85" y1="320.58" x2="293.05" y2="320.58" stroke="#000" stroke-width="0.7"/>
<path transform="scale(.1)" d="M3717 3347h9M3743 3350h9M3734 3359h9M3797 3271h9M3675 3325h9M3747 3350h9M3751 3403h9M3736 3307h9M3753 3400h9M3816 3330h9M3741 3358h9M3759 3340h9M3716 3401h9M3798 3336h9M3711 3337h9M3688 3324h9M3724 3331h9M3746 3332h9M3697 3347h9M3633 3384h9M3725 3393h9M3717 3350h9M3698 3420h9M3746 3384h9M3721 3371h9M3696 3340h9M3722 3326h9M3764 3368h9M3783 3312h9M3711 3354h9M3761 3306h9M3723 3383h9M3738 3346h9M3688 3350h9M3763 3373h9M3666 3377h9M3719 3325h9M3809 3352h9M3690 3329h9M3741 3304h9M3725 3366h9M3679 3367h9M3751 3326h9M3748 3365h9M3750 3325h9M3768 3331h9M3741 3349h9M3733 3289h9M3775 3353h9M3738 3366h9M3716 3348h9M3753 3280h9M3703 3338h9M3720 3336h9M3701 3363h9M3764 3355h9M3774 3354h9M3793 3382h9M3714 3329h9M3708 3344h9M3762 3357h9M3741 3327h9M3716 3347h9M3742 3258h9M3743 3361h9M3703 3398h9M3764 3362h9M3668 3387h9M3739 3353h9M3639 3324h9M3720 3312h9M3786 3303h9M3763 3353h9M3793 3322h9M3686 3370h9M3785 3321h9M3776 3357h9M3734 3355h9M3739 3330h9M3739 3360h9M3703 3279h9M3760 3323h9M3756 3319h9M3749 3339h9M3720 3351h9M3748 3294h9M3784 3368h9M3747 3298h9M3768 3341h9M3801 3320h9M3726 3380h9M3646 3358h9M3726 3282h9M3695 3365h9M3747 3395h9M3772 3300h9M3766 3353h9M3738 3314h9M3810 3384h9M3746 3322h9M3687 3327h9M3770 3290h9M3781 3333h9M3748 3369h9M3832 3349h9M3727 3362h9M3740 3349h9M3738 3319h9M3747 3306h9M3780 3328h9M3686 3380h9M3762 3346h9M3672 3325h9M3756 3412h9M3745 3356h9M3758 3318h9M3780 3320h9M3736 3325h9M3685 3338h9M3696 3346h9M3798 3344h9M3711 3367h9M3711 3389h9M3767 3332h9M3733 3352h9M3693 3325h9M3729 3324h9M3734 3375h9M3726 3369h9M3794 3312h9M3688 3366h9M3728 3308h9M3788 3363h9M3695 3353h9M3732 3314h9M3748 3307h9M3664 3409h9M3709 3333h9M3726 3331h9M3823 3344h9M3769 3369h9M3767 3348h9M3738 3384h9M3761 3293h9M3745 3343h9M3781 3277h9M3761 3348h9M3762 3356h9M3649 3390h9M3734 3327h9M3774 3340h9M3803 3367h9M3689 3384h9M3735 3349h9M3729 3382h9M3702 3371h9M3672 3374h9M3683 3324h9M3733 3317h9M3780 3307h9M3801 3359h9M3739 3368h9M3744 3419h9M3756 3328h9M3751 3336h9M3732 3333h9M3713 3380h9M3733 3373h9M3722 3350h9M3716 3393h9M3803 3332h9M3772 3299h9M3683 3384h9M3663 3450h9M3777 3393h9M3732 3310h9M3699 3332h9M3771 3311h9M3702 3405h9M3685 3343h9M3792 3413h9M3667 3293h9M3707 3363h9M3734 3334h9M3682 3388h9M3714 3335h9M3738 3394h9M3743 3427h9M3723 3372h9M3647 3351h9M3735 3329h9M3703 3341h9M3695 3343h9M3739 3361h9M3691 3355h9M3702 3386h9M3809 3340h9M3754 3339h9M3757 3340h9M3683 3401h9M3831 3348h9M3736 3365h9M3807 3321h9M3768 3349h9M3646 3361h9M3761 3356h9M3732 3314h9M3748 3354h9M3760 3401h9M3739 3384h9M3758 3431h9M3759 3427h9M3695 3324h9M3758 3342h9M3793 3364h9M3773 3320h9M3737 3378h9M3715 3358h9M3790 3339h9M3749 3387h9M3758 3303h9M3744 3352h9M3753 3419h9M3787 3346h9M3711 3384h9M3747 3390h9M3753 3380h9M3705 3354h9M3741 3326h9M3756 3337h9M3724 3334h9M3735 3303h9M3777 3356h9M3763 3385h9M3750 3340h9M3795 3327h9M3745 3284h9M3716 3356h9M3766 3361h9M3779 3325h9M3714 3363h9M3704 3347h9M3740 3290h9M3671 3379h9M3707 3381h9M3716 3324h9M3763 3337h9M3752 3327h9M3703 3348h9M3703 3352h9M3694 3371h9M3769 3357h9M3683 3400h9M3663 3374h9M3740 3373h9M3708 3341h9M3784 3374h9M3693 3352h9M3703 3279h9M3783 3319h9M3738 3357h9M3682 3390h9M3708 3312h9M3750 3352h9M3713 3354h9M3736 3339h9M3654 3406h9M3715 3289h9M3677 3322h9M3643 3348h9M3710 3406h9M3732 3333h9M3728 3358h9M3777 3381h9M3653 3324h9M3735 3409h9M3715 3388h9M3712 3338h9M3725 3395h9M3715 3357h9M3749 3375h9M3738 3377h9M3807 3358h9M3720 3350h9M3748 3340h9M3689 3333h9M3713 3296h9M3858 3349h9M3712 3333h9M3788 3296h9M3693 3392h9M3733 3375h9M3741 3349h9M3709 3371h9M3746 3355h9M3718 3391h9M3739 3368h9M3687 3311h9M3767 3324h9M3701 3370h9M3792 3329h9M3724 3367h9M3759 3347h9M3660 3391h9M3704 3422h9M3707 3364h9M3734 3357h9M3842 3319h9M3779 3341h9M3722 3377h9M3751 3342h9M3695 3373h9M3763 3327h9M3712 3299h9M3766 3349h9M3755 3346h9M3802 3378h9M3786 3257h9M3698 3363h9M3774 3258h9M3804 3346h9M3804 3300h9M3704 3326h9M3710 3333h9M3663 3407h9M3759 3320h9M3650 3406h9M3640 3339h9M3683 3340h9M3755 3372h9M3749 3312h9M3791 3374h9M3769 3416h9M3691 3337h9M3703 3339h9M3763 3350h9M3719 3390h9M3732 3334h9M3709 3316h9M3726 3326h9M3731 3363h9M3755 3332h9M3815 3296h9M3765 3344h9M3747 3326h9M3702 3377h9M3662 3371h9M3673 3308h9M3738 3332h9M3817 3277h9M3741 3352h9M3742 3334h9M3666 3388h9M3766 3355h9M3746 3384h9M3776 3362h9M3708 3387h9M3698 3370h9M3693 3355h9M3768 3333h9M3775 3326h9M3805 3329h9M3845 3347h9M3733 3316h9M3717 3414h9M3682 3314h9M3748 3386h9M3719 3327h9M3726 3346h9M3782 3397h9M3729 3326h9M3684 3308h9M3732 3303h9M3765 3336h9M3705 3401h9M3661 3394h9M3739 3357h9M3734 3315h9M3760 3381h9M3649 3372h9M3730 3342h9M3752 3340h9M3717 3390h9M3694 3347h9M3716 3329h9M3712 3398h9M3699 3435h9M3667 3290h9M3704 3317h9M3787 3351h9M3688 3354h9M3720 3433h9M3740 3356h9M3756 3351h9M3734 3323h9M3738 3355h9M3677 3365h9M3680 3310h9M3730 3366h9M3773 3323h9M3671 3336h9M3722 3348h9M3753 3339h9M3778 3319h9M3753 3364h9M3750 3362h9M3687 3387h9M3712 3349h9M3691 3370h9M3715 3333h9M3763 3319h9M3749 3352h9M3756 3346h9M3682 3366h9M3750 3404h9M3813 3359h9M3776 3261h9M3712 3321h9M3760 3360h9M3757 3362h9M3750 3343h9M3710 3377h9M3735 3382h9M3716 3346h9M3701 3378h9M3700 3285h9M3700 3336h9M3734 3339h9M3788 3347h9M3776 3383h9M3779 3368h9M3715 3368h9M3731 3375h9M3710 3376h9M3714 3378h9M3787 3376h9M3718 3395h9M3662 3372h9M3675 3364h9M3685 3360h9M3705 3396h9M3827 3356h9M3779 3355h9M3732 3344h9M3687 3337h9M3770 3330h9M3752 3319h9M3833 3370h9M3733 3409h9M3758 3380h9M3730 3338h9M3797 3360h9M3772 3374h9M3742 3336h9M3753 3293h9M3741 3385h9M3727 3411h9M3722 3322h9M3762 3340h9M3763 3325h9M3760 3349h9M3748 3378h9M3705 3353h9M3784 3378h9M3767 3310h9M3745 3337h9M3723 3307h9M3649 3401h9M3771 3299h9M3722 3356h9M3712 3372h9M3720 3312h9M3719 3368h9M3698 3383h9M3781 3359h9M3760 3342h9M3759 3323h9M3638 3352h9M3797 3368h9M3691 3354h9M3706 3321h9M3722 3378h9M3738 3342h9M3644 3438h9M3687 3362h9M3770 3348h9M3770 3271h9M3698 3338h9M3679 3315h9M3772 3303h9M3781 3367h9M3720 3311h9M3710 3334h9M3707 3332h9M3737 3341h9M3732 3350h9M3786 3399h9M3736 3347h9M3728 3381h9M3764 3347h9M3729 3369h9M3779 3327h9M3753 3291h9M3707 3371h9M3669 3319h9M3745 3288h9M3721 3416h9M3750 3400h9M3800 3312h9M3727 3363h9M3781 3383h9M3768 3353h9M3691 3392h9M3711 3386h9M3791 3293h9M3820 3325h9M3780 3369h9M3813 3368h9M3804 3360h9M3702 3352h9M3764 3373h9M3742 3327h9M3683 3365h9M3862 3318h9M3715 3373h9M3766 3347h9M3651 3349h9M3709 3375h9M3709 3349h9M3689 3344h9M3754 3321h9M3684 3393h9M3735 3369h9M3748 3351h9M3632 3402h9M3810 3336h9M3729 3359h9M3725 3297h9M3721 3354h9M3781 3310h9M3723 3354h9M3756 3405h9M3763 3365h9M3686 3411h9M3664 3408h9M3773 3345h9M3692 3377h9M3717 3397h9M3613 3381h9M3626 3378h9M3723 3379h9M3688 3331h9M3645 3358h9M3743 3341h9M3695 3353h9M3760 3354h9M3653 3354h9M3698 3274h9M3761 3354h9M3692 3376h9M3746 3333h9M3749 3341h9M3707 3389h9M3670 3424h9M3746 3335h9M3754 3318h9M3719 3415h9M3756 3341h9M3729 3380h9M3775 3331h9M3786 3338h9M3734 3374h9M3705 3310h9M3730 3379h9M3723 3380h9M3787 3328h9M3736 3346h9M3764 3359h9M3744 3391h9M3753 3356h9M3705 3360h9M3793 3359h9M3741 3347h9M3698 3338h9M3780 3342h9M3740 3389h9M3719 3340h9M3797 3356h9M3670 3366h9M3704 3343h9M3727 3303h9M3707 3413h9M3728 3338h9M3777 3300h9M3727 3393h9M3737 3361h9M3728 3364h9M3767 3339h9M3742 3358h9M3658 3397h9M3747 3338h9M3753 3407h9M3800 3316h9M3801 3316h9M3711 3353h9M3764 3339h9M3780 3351h9M3804 3295h9M3743 3371h9M3802 3274h9M3728 3294h9M3756 3331h9M3752 3379h9M3775 3337h9M3764 3440h9M3718 3374h9M3718 3382h9M3705 3378h9M3677 3372h9M3715 3385h9M3693 3292h9M3670 3374h9M3785 3344h9M3742 3384h9M3738 3393h9M3801 3328h9M3792 3361h9M3734 3353h9M3784 3304h9M3673 3403h9M3821 3342h9M3782 3292h9M3683 3348h9M3724 3360h9M3719 3354h9M3731 3372h9M3784 3368h9M3797 3333h9M3719 3299h9M3668 3392h9M3758 3348h9M3725 3317h9M3646 3355h9M3727 3275h9M3793 3318h9M3756 3387h9M3801 3327h9M3778 3370h9M3740 3361h9M3701 3368h9M3710 3351h9M3742 3379h9M3728 3345h9M3720 3439h9M3720 3370h9M3674 3367h9M3687 3346h9M3769 3397h9M3745 3368h9M3745 3336h9M3741 3380h9M3746 3338h9M3717 3371h9M3724 3383h9M3678 3388h9M3703 3357h9M3827 3363h9M3716 3344h9M3775 3372h9M3736 3375h9M3720 3271h9M3784 3326h9M3763 3340h9M3726 3327h9M3770 3370h9M3791 3361h9M3756 3331h9M3740 3364h9M3632 3340h9M3730 3378h9M3797 3390h9M3705 3361h9M3716 3331h9M3723 3358h9M3772 3298h9M3732 3322h9M3797 3390h9M3717 3334h9M3763 3375h9M3695 3347h9M3749 3316h9M3801 3338h9M3740 3314h9M3789 3298h9M3706 3339h9M3731 3308h9M3704 3377h9M3735 3355h9M3778 3355h9M3779 3342h9M3699 3411h9M3665 3325h9M3688 3435h9M3740 3383h9M3671 3332h9M3750 3334h9M3741 3368h9M3741 3353h9M3746 3342h9M3750 3378h9M3698 3368h9M3774 3336h9M3733 3409h9M3784 3411h9M3816 3323h9M3708 3349h9M3774 3238h9M3739 3388h9M3739 3361h9M3727 3302h9M3777 3333h9M3757 3347h9M3820 3347h9M3756 3344h9M3703 3372h9M3783 3341h9M3646 3348h9M3819 3315h9M3745 3291h9M3713 3330h9M3771 3363h9M3761 3377h9M3717 3408h9M3727 3382h9M3827 3315h9M3753 3344h9M3743 3359h9M3734 3352h9M3767 3304h9M3706 3343h9M3679 3375h9M3718 3329h9M3680 3337h9M3756 3308h9M3776 3362h9M3749 3297h9M3705 3390h9M3721 3331h9M3707 3370h9M3660 3400h9M3747 3317h9M3763 3262h9M3685 3372h9M3800 3300h9M3677 3362h9M3741 3327h9M3703 3406h9M3697 3310h9M3719 3395h9M3766 3343h9M3682 3360h9M3857 3342h9M3781 3292h9M3719 3337h9M3809 3325h9M3734 3336h9M3616 3413h9M3656 3351h9M3670 3347h9M3717 3339h9M3797 3300h9M3723 3370h9M3719 3338h9M3818 3356h9M3701 3367h9M3698 3373h9M3676 3389h9M3752 3357h9M3736 3357h9M3699 3361h9M3761 3358h9M3696 3377h9M3685 3340h9M3700 3340h9M3730 3372h9M3781 3354h9M3704 3380h9M3777 3317h9M3685 3357h9M3817 3322h9M3728 3374h9M3686 3328h9M3730 3377h9M3722 3333h9M3665 3415h9M3682 3403h9M3705 3392h9M3807 3307h9M3760 3367h9M3788 3329h9M3787 3341h9M3693 3391h9M3789 3338h9M3730 3375h9M3807 3296h9M3780 3402h9M3698 3376h9M3738 3360h9M3788 3289h9M3714 3313h9M3722 3411h9M3691 3346h9M3710 3368h9M3722 3329h9M3703 3353h9M3683 3288h9M3784 3343h9M3710 3351h9M3766 3317h9M3736 3333h9M3787 3263h9M3676 3407h9M3685 3337h9M3683 3290h9M3731 3372h9M3748 3309h9M3712 3406h9M3727 3323h9M3772 3332h9M3656 3342h9M3773 3336h9M3731 3370h9M3702 3311h9M3734 3331h9M3734 3327h9M3703 3314h9M3747 3407h9M3682 3397h9M3763 3323h9M3692 3376h9M3720 3345h9M3715 3413h9M3667 3379h9M3815 3337h9M3826 3329h9M3742 3373h9M3705 3358h9M3760 3324h9M3755 3379h9M3686 3358h9M3752 3324h9M3778 3378h9M3712 3363h9M3709 3353h9M3756 3341h9M3743 3335h9M3786 3368h9M3710 3374h9M3848 3311h9M3795 3419h9M3728 3377h9M3644 3414h9M3764 3370h9M3745 3379h9M3784 3362h9M3725 3349h9M3739 3344h9M3702 3320h9M3733 3324h9M3721 3315h9M3679 3351h9M3727 3420h9M3733 3384h9M3758 3355h9M3724 3374h9M3759 3303h9M3765 3338h9M3670 3343h9M3767 3373h9M3732 3389h9M3770 3296h9M3691 3372h9M3699 3340h9M3749 3339h9M3707 3314h9M3823 3288h9M3718 3389h9M3732 3322h9M3688 3397h9M3769 3283h9M3678 3384h9M3805 3318h9M3777 3292h9M3665 3328h9M3757 3352h9M3767 3289h9M3807 3322h9M3659 3367h9M3700 3407h9M3746 3387h9M3702 3334h9M3742 3351h9M3696 3376h9M3786 3328h9M3715 3340h9M3759 3341h9M3755 3381h9M3723 3345h9M3723 3399h9M3731 3353h9M3723 3381h9M3753 3310h9M3776 3354h9M3787 3355h9M3733 3320h9M3778 3379h9M3698 3357h9M3755 3342h9M3752 3335h9M3708 3394h9M3662 3387h9M3701 3359h9M3706 3361h9M3709 3365h9M3674 3331h9M3729 3371h9M3699 3419h9M3719 3378h9M3657 3337h9M3692 3323h9M3667 3352h9M3698 3409h9M3732 3359h9M3645 3417h9M3801 3300h9M3689 3336h9M3795 3295h9M3691 3310h9M3747 3373h9M3693 3395h9M3741 3322h9M3759 3384h9M3789 3354h9M3792 3337h9M3749 3403h9M3730 3326h9M3683 3346h9M3655 3339h9M3686 3356h9M3676 3360h9M3735 3375h9M3780 3389h9M3724 3310h9M3768 3355h9M3717 3380h9M3820 3343h9M3718 3361h9M3697 3421h9M3684 3330h9M3779 3334h9M3683 3392h9M3785 3288h9M3764 3375h9M3815 3347h9M3768 3347h9M3767 3397h9M3767 3324h9M3733 3412h9M3683 3344h9M3708 3398h9M3699 3346h9M3734 3369h9M3763 3309h9M3687 3317h9M3785 3332h9M3744 3349h9M3673 3314h9M3688 3422h9M3719 3370h9M3693 3441h9M3740 3301h9M3715 3365h9M3779 3330h9M3764 3353h9M3745 3335h9M3752 3381h9M3735 3340h9M3854 3345h9M3764 3299h9M3782 3290h9M3787 3349h9M3715 3334h9M3743 3336h9M3663 3400h9M3671 3360h9M3715 3403h9M3670 3396h9M3755 3256h9M3675 3342h9M3690 3367h9M3759 3377h9M3704 3373h9M3725 3368h9M3733 3350h9M3721 3369h9M3740 3319h9M3647 3401h9M3768 3340h9M3785 3337h9M3730 3338h9M3790 3394h9M3727 3333h9M3781 3368h9M3763 3300h9M3748 3353h9M3723 3367h9M3729 3364h9M3735 3342h9M3808 3333h9M3762 3374h9M3696 3354h9M3699 3354h9M3687 3389h9M3736 3313h9M3756 3315h9M3675 3377h9M3738 3328h9M3766 3358h9M3744 3380h9M3749 3386h9M3751 3358h9M3617 3367h9M3817 3315h9M3731 3338h9M3660 3386h9M3816 3384h9M3727 3326h9M3713 3372h9M3720 3379h9M3748 3310h9M3688 3388h9M3772 3343h9M3798 3335h9M3724 3352h9M3760 3275h9M3742 3354h9M3701 3333h9M3788 3324h9M3724 3382h9M3684 3438h9M3705 3338h9M3675 3346h9M3696 3346h9M3689 3288h9M3786 3362h9M3764 3361h9M3761 3323h9M3858 3304h9M3685 3425h9M3719 3356h9M3693 3352h9M3756 3356h9M3684 3385h9M3703 3310h9M3774 3352h9M3726 3329h9M3768 3335h9M3706 3374h9M3748 3311h9M3788 3287h9M3702 3369h9M3732 3376h9M3760 3272h9M3792 3322h9M3736 3327h9M3690 3380h9M3756 3354h9M3708 3405h9M3752 3365h9M3740 3359h9M3785 3371h9M3783 3343h9M3742 3314h9M3728 3335h9M3701 3359h9M3739 3328h9M3665 3359h9M3736 3360h9M3699 3319h9M3658 3368h9M3711 3374h9M3676 3404h9M3727 3346h9M3742 3370h9M3769 3286h9M3711 3369h9M3760 3351h9M3698 3372h9M3728 3352h9M3787 3335h9M3755 3390h9M3777 3302h9M3691 3299h9M3780 3335h9M3713 3353h9M3686 3379h9M3698 3386h9M3746 3346h9M3759 3337h9M3734 3387h9M3806 3351h9M3794 3289h9M3741 3348h9M3716 3371h9M3816 3348h9M3783 3382h9M3792 3340h9M3711 3391h9M3773 3329h9M3804 3310h9M3686 3361h9M3682 3359h9M3734 3334h9M3740 3312h9M3643 3397h9M3775 3368h9M3720 3369h9M3723 3390h9M3688 3371h9M3718 3377h9M3740 3297h9M3724 3324h9M3756 3372h9M3687 3375h9M3695 3345h9M3744 3386h9M3756 3366h9M3717 3351h9M3763 3350h9M3744 3362h9M3806 3377h9M3796 3349h9M3705 3323h9M3743 3320h9M3657 3360h9M3830 3331h9M3744 3348h9M3744 3310h9M3749 3373h9M3749 3358h9M3739 3373h9M3691 3303h9M3718 3355h9M3763 3323h9M3745 3348h9M3768 3331h9M3764 3368h9M3726 3349h9M3719 3334h9M3711 3325h9M3767 3357h9M3732 3356h9M3739 3396h9M3774 3333h9M3766 3295h9M3717 3333h9M3751 3332h9M3705 3337h9M3678 3325h9M3697 3371h9M3748 3371h9M3806 3362h9M3662 3349h9M3799 3341h9M3752 3354h9M3680 3376h9M3730 3323h9M3752 3398h9M3729 3314h9M3731 3325h9M3637 3359h9M3752 3318h9M3732 3347h9M3717 3343h9M3722 3345h9M3730 3367h9M3715 3330h9M3756 3326h9M3823 3323h9M3736 3376h9M3613 3415h9M3622 3379h9M3566 3361h9M3521 3427h9M3414 3471h9M3659 3368h9M3717 3433h9M3672 3295h9M3443 3431h9M3502 3414h9M3559 3405h9M3565 3391h9M3464 3404h9M3523 3432h9M3538 3409h9M3630 3376h9M3526 3400h9M3577 3414h9M3518 3357h9M3637 3388h9M3673 3420h9M3450 3415h9M3597 3388h9M3654 3442h9M3572 3384h9M3633 3405h9M3576 3417h9M3685 3354h9M3677 3347h9M3679 3343h9M3522 3349h9M3561 3388h9M3573 3375h9M3565 3372h9M3554 3394h9M3541 3397h9M3503 3352h9M3638 3351h9M3589 3351h9M3472 3355h9M3517 3438h9M3529 3400h9M3552 3393h9M3492 3434h9M3596 3368h9M3640 3325h9M3528 3404h9M3696 3352h9M3714 3406h9M3516 3412h9M3665 3341h9M3691 3317h9M3683 3409h9M3705 3396h9M3603 3329h9M3713 3389h9M3645 3358h9M3419 3426h9M3518 3394h9M3625 3336h9M3617 3355h9M3541 3418h9M3475 3382h9M3565 3423h9M3577 3409h9M3502 3347h9M3571 3440h9M3621 3365h9M3536 3438h9M3629 3330h9M3438 3472h9M3594 3385h9M3609 3379h9M3572 3385h9M3435 3396h9M3548 3427h9M3655 3362h9M3573 3390h9M3728 3401h9M3533 3442h9M3514 3434h9M3590 3345h9M3550 3384h9M3662 3419h9M3453 3388h9M3662 3391h9M3621 3402h9M3639 3422h9M3554 3314h9M3618 3359h9M3460 3405h9M3527 3391h9M3431 3425h9M3578 3392h9M3528 3366h9M3652 3397h9M3563 3348h9M3619 3363h9M3644 3353h9M3595 3396h9M3541 3409h9M3481 3444h9M3551 3375h9M3568 3375h9M3530 3399h9M3536 3382h9M3594 3377h9M3523 3420h9M3725 3345h9M3645 3352h9M3562 3352h9M3539 3366h9M3574 3375h9M3740 3333h9M3627 3407h9M3453 3347h9M3645 3337h9M3559 3300h9M3504 3389h9M3665 3442h9M3538 3441h9M3583 3378h9M3568 3380h9M3473 3400h9M3501 3410h9M3783 3314h9M3705 3331h9M3560 3424h9M3622 3421h9M3683 3363h9M3546 3413h9M3622 3438h9M3428 3443h9M3622 3371h9M3526 3369h9M3528 3449h9M3587 3377h9M3589 3405h9M3641 3378h9M3571 3363h9M3582 3383h9M3540 3383h9M3677 3400h9M3606 3424h9M3595 3424h9M3585 3435h9M3626 3371h9M3499 3404h9M3597 3349h9M3570 3369h9M3606 3341h9M3585 3451h9M3657 3376h9M3698 3358h9M3647 3388h9M3555 3408h9M3760 3333h9M3522 3453h9M3539 3390h9M3553 3367h9M3622 3348h9M3511 3389h9M3627 3429h9M3584 3418h9M3687 3388h9M3649 3371h9M3469 3430h9M3503 3418h9M3526 3356h9M3578 3346h9M3592 3380h9M3570 3440h9M3646 3370h9M3647 3392h9M3562 3345h9M3533 3460h9M3590 3405h9M3712 3344h9M3666 3290h9M3511 3324h9M3586 3388h9M3532 3373h9M3802 3370h9M3626 3351h9M3528 3402h9M3563 3385h9M3565 3331h9M3614 3390h9M3627 3405h9M3721 3354h9M3602 3431h9M3559 3430h9M3551 3377h9M3507 3394h9M3740 3427h9M3594 3404h9M3672 3339h9M3557 3385h9M3449 3380h9M3541 3382h9M3571 3312h9M3619 3365h9M3620 3402h9M3573 3449h9M3459 3403h9M3591 3434h9M3578 3406h9M3599 3454h9M3560 3360h9M3548 3406h9M3691 3291h9M3489 3448h9M3553 3366h9M3551 3361h9M3505 3401h9M3528 3453h9M3399 3431h9M3532 3451h9M3511 3414h9M3706 3388h9M3538 3387h9M3599 3434h9M3595 3406h9M3502 3400h9M3678 3363h9M3549 3379h9M3671 3391h9M3615 3357h9M3453 3441h9M3552 3420h9M3623 3361h9M3503 3430h9M3427 3329h9M3701 3341h9M3598 3421h9M3740 3329h9M3571 3419h9M3583 3359h9M3655 3318h9M3657 3374h9M3584 3362h9M3565 3424h9M3602 3422h9M3627 3367h9M3563 3391h9M3550 3438h9M3497 3457h9M3531 3363h9M3581 3342h9M3707 3424h9M3690 3431h9M3677 3310h9M3633 3354h9M3648 3367h9M3550 3359h9M3627 3417h9M3502 3410h9M3617 3377h9M3569 3429h9M3682 3397h9M3636 3404h9M3540 3390h9M3587 3354h9M3643 3442h9M3735 3357h9M3549 3364h9M3635 3376h9M3670 3336h9M3596 3364h9M3603 3376h9M3446 3434h9M3588 3391h9M3578 3355h9M3586 3412h9M3708 3376h9M3544 3432h9M3569 3380h9M3583 3407h9M3494 3403h9M3580 3372h9M3709 3315h9M3582 3393h9M3600 3434h9M3429 3397h9M3520 3348h9M3540 3406h9M3563 3455h9M3472 3414h9M3607 3387h9M3632 3371h9M3623 3373h9M3550 3361h9M3555 3416h9M3550 3417h9M3573 3389h9M3683 3334h9M3581 3419h9M3630 3394h9M3691 3358h9M3598 3446h9M3504 3419h9M3634 3393h9M3622 3356h9M3602 3383h9M3618 3390h9M3727 3403h9M3747 3400h9M3624 3409h9M3689 3348h9M3484 3357h9M3648 3369h9M3571 3396h9M3651 3367h9M3533 3381h9M3648 3375h9M3636 3416h9M3573 3364h9M3502 3384h9M3516 3406h9M3496 3408h9M3560 3419h9M3511 3403h9M3642 3327h9M3615 3366h9M3522 3347h9M3593 3367h9M3561 3416h9M3367 3449h9M3754 3361h9M3559 3388h9M3653 3460h9M3528 3294h9M3609 3381h9M3575 3381h9M3428 3420h9M3534 3404h9M3551 3362h9M3453 3453h9M3581 3400h9M3700 3388h9M3605 3307h9M3671 3405h9M3505 3348h9M3615 3377h9M3692 3327h9M3581 3409h9M3619 3341h9M3482 3386h9M3743 3337h9M3553 3421h9M3620 3428h9M3536 3372h9M3647 3370h9M3585 3353h9M3530 3369h9M3540 3370h9M3563 3379h9M3665 3435h9M3562 3443h9M3622 3307h9M3606 3336h9M3666 3358h9M3701 3418h9M3550 3359h9M3665 3346h9M3580 3421h9M3577 3412h9M3728 3378h9M3638 3360h9M3391 3421h9M3589 3405h9M3590 3366h9M3544 3396h9M3522 3351h9M3606 3384h9M3629 3363h9M3577 3358h9M3558 3419h9M3713 3360h9M3620 3358h9M3481 3384h9M3570 3379h9M3529 3402h9M3670 3357h9M3617 3402h9M3660 3399h9M3660 3379h9M3495 3365h9M3555 3360h9M3533 3389h9M3586 3374h9M3613 3448h9M3517 3379h9M3504 3437h9M3652 3334h9M3623 3336h9M3616 3384h9M3593 3328h9M3603 3392h9M3684 3378h9M3586 3365h9M3628 3409h9M3644 3410h9M3578 3343h9M3595 3435h9M3680 3352h9M3740 3412h9M3651 3347h9M3640 3413h9M3751 3351h9M3571 3431h9M3675 3406h9M3555 3373h9M3610 3401h9M3658 3355h9M3477 3442h9M3585 3385h9M3661 3331h9M3590 3377h9M3625 3382h9M3640 3339h9M3560 3364h9M3670 3420h9M3598 3411h9M3576 3370h9M3691 3371h9M3691 3454h9M3507 3420h9M3569 3406h9M3425 3433h9M3530 3408h9M3625 3412h9M3594 3399h9M3572 3342h9M3548 3379h9M3569 3398h9M3610 3422h9M3737 3334h9M3604 3402h9M3575 3414h9M3429 3435h9M3578 3328h9M3574 3456h9M3585 3459h9M3755 3376h9M3572 3416h9M3700 3434h9M3619 3357h9M3706 3313h9M3578 3394h9M3632 3364h9M3606 3418h9M3598 3361h9M3652 3387h9M3523 3376h9M3732 3364h9M3634 3368h9M3584 3390h9M3558 3420h9M3673 3406h9M3566 3373h9M3448 3447h9M3572 3352h9M3511 3428h9M3574 3418h9M3609 3419h9M3614 3291h9M3695 3332h9M3706 3378h9M3538 3380h9M3534 3411h9M3633 3339h9M3459 3452h9M3623 3341h9M3669 3419h9M3630 3402h9M3555 3296h9M3648 3355h9M3742 3354h9M3637 3357h9M3487 3387h9M3750 3368h9M3448 3446h9M3682 3349h9M3602 3388h9M3537 3401h9M3476 3418h9M3668 3349h9M3643 3408h9M3636 3432h9M3594 3363h9M3652 3398h9M3433 3414h9M3537 3384h9M3600 3440h9M3624 3361h9M3551 3402h9M3623 3478h9M3522 3380h9M3665 3367h9M3606 3332h9M3471 3430h9M3517 3426h9M3557 3405h9M3682 3349h9M3534 3436h9M3594 3384h9M3659 3346h9M3590 3346h9M3493 3425h9M3683 3382h9M3483 3400h9M3616 3384h9M3679 3348h9M3615 3373h9M3586 3378h9M3628 3342h9M3569 3404h9M3656 3416h9M3606 3426h9M3687 3371h9M3739 3420h9M3570 3388h9M3557 3390h9M3618 3394h9M3562 3409h9M3682 3406h9M3641 3370h9M3569 3448h9M3595 3362h9M3659 3435h9M3480 3461h9M3519 3428h9M3598 3367h9M3521 3364h9M3499 3389h9M3667 3369h9M3735 3359h9M3540 3396h9M3714 3346h9M3591 3423h9M3555 3411h9M3579 3383h9M3582 3381h9M3647 3327h9M3496 3386h9M3477 3372h9M3501 3397h9M3464 3396h9M3230 3586h9M2985 3418h9M2990 3454h9M3158 3560h9M3180 3501h9M3352 3539h9M3026 3470h9M3377 3593h9M3210 3459h9M3569 3487h9M3383 3625h9M3195 3566h9M3473 3593h9M3448 3318h9M3460 3481h9M3021 3581h9M3254 3449h9M3789 3591h9M3067 3659h9M3134 3449h9M3487 3468h9M3565 3484h9M3208 3498h9M3290 3521h9M3363 3563h9M3329 3526h9M3819 3498h9M3484 3536h9M3700 3530h9M3396 3488h9M3303 3510h9M3015 3448h9M3110 3626h9M3469 3567h9M3344 3529h9M3192 3382h9M3337 3471h9M3243 3416h9M3551 3542h9M3539 3564h9M3190 3560h9M3384 3468h9M3405 3433h9M3316 3506h9M2949 3644h9M3648 3534h9M3553 3602h9M3279 3417h9M3640 3463h9M3663 3524h9M3224 3511h9M3122 3528h9M3359 3561h9M3332 3515h9M3381 3471h9M3464 3417h9M3190 3536h9M3643 3516h9M3333 3585h9M3485 3615h9M3532 3489h9M3098 3616h9M3655 3575h9M3265 3437h9M3752 3470h9M3080 3627h9M3681 3338h9M3489 3492h9M3559 3402h9M3039 3595h9M3513 3543h9M3490 3654h9M3709 3463h9M3367 3452h9M3452 3645h9M3583 3478h9M3098 3352h9M3382 3448h9M3497 3414h9M3592 3468h9M3244 3536h9M3280 3508h9M3211 3549h9M2970 3530h9M3544 3549h9M3540 3580h9M3464 3676h9M3268 3369h9M3392 3380h9M3021 3581h9M3619 3563h9M3456 3396h9M3142 3622h9M3803 3434h9M3620 3533h9M3308 3581h9M3168 3561h9M3552 3475h9M3252 3621h9M3193 3454h9M3038 3515h9M3349 3446h9M3686 3484h9M3549 3389h9M3316 3618h9M3673 3510h9M3698 3527h9M3484 3523h9M3530 3462h9M3452 3496h9M3565 3523h9M3440 3477h9M3622 3382h9M3691 3587h9M3361 3482h9M3277 3583h9M3137 3381h9M3422 3467h9M3219 3469h9M3260 3496h9M3332 3484h9M3338 3569h9M3496 3654h9M3669 3275h9M3562 3482h9M3380 3505h9M3517 3466h9M3226 3588h9M3413 3562h9M3179 3472h9M3384 3624h9M3527 3570h9M3319 3461h9M3520 3419h9M3832 3429h9M3210 3444h9M3068 3528h9M3254 3537h9M3283 3545h9M3462 3575h9M3597 3447h9M3729 3433h9M3172 3584h9M3080 3481h9M3010 3428h9M3480 3428h9M3838 3567h9M3494 3445h9M3397 3483h9M3695 3339h9M3358 3510h9M3506 3541h9M3299 3553h9M3094 3607h9M3498 3483h9M3690 3424h9M2962 3574h9M3423 3474h9M3223 3548h9M3628 3415h9M3037 3580h9M3119 3615h9M3768 3427h9M3378 3495h9M3516 3550h9M3491 3443h9M3318 3397h9M3137 3535h9M3401 3460h9M3459 3442h9M3391 3505h9M3657 3551h9M3140 3495h9M2945 3681h9M2996 3538h9M3454 3538h9M3237 3564h9M3218 3448h9M3189 3462h9M3831 3525h9M3560 3342h9M3373 3547h9M3116 3522h9M3461 3486h9M3391 3533h9M3699 3582h9M3751 3479h9M3273 3556h9M3704 3446h9M3224 3521h9M3451 3544h9M3597 3467h9M3493 3651h9M3127 3552h9M3538 3439h9M3251 3563h9M3466 3454h9M3367 3551h9M3347 3452h9M3501 3482h9M3434 3413h9M3387 3475h9M3024 3643h9M3438 3515h9M3626 3580h9M3667 3429h9M3460 3453h9M3342 3533h9M3712 3397h9M3603 3511h9M3135 3732h9M3375 3589h9M3390 3529h9M3635 3485h9M3407 3590h9M3693 3653h9M3485 3367h9M3032 3571h9M3144 3421h9M3705 3359h9M2980 3550h9M3717 3532h9M3106 3581h9M3141 3546h9M3499 3481h9M3507 3212h9M3766 3532h9M3647 3523h9M3351 3542h9M3429 3548h9M3358 3511h9M3208 3488h9M3461 3519h9M3507 3557h9M3212 3463h9M2969 3632h9M3574 3432h9M3441 3601h9M3491 3392h9M3486 3495h9M3639 3601h9M3423 3537h9M3669 3417h9M3354 3387h9M3478 3549h9M3505 3527h9M3214 3459h9M3750 3521h9M3319 3554h9M3214 3448h9M3504 3488h9M3492 3667h9M3523 3506h9M3377 3471h9M3392 3669h9M3067 3418h9M3373 3499h9M3333 3429h9M3589 3394h9M3578 3693h9M3071 3552h9M3447 3389h9M3419 3574h9M3664 3531h9M3265 3508h9M3185 3608h9M3224 3442h9M3264 3640h9M2996 3605h9M3620 3447h9M3475 3391h9M3521 3529h9M3219 3534h9M3428 3545h9M3606 3566h9M3394 3549h9M3657 3605h9M3451 3468h9M3251 3512h9M2969 3466h9M3602 3636h9M3786 3429h9M3747 3502h9M3290 3613h9M3667 3550h9M3580 3563h9M3351 3490h9M3272 3584h9M3555 3566h9M3343 3493h9M3426 3507h9M3369 3614h9M3480 3312h9M3269 3538h9M3472 3507h9M3375 3621h9M3221 3579h9M3679 3556h9M3265 3549h9M3576 3536h9M3260 3495h9M3614 3553h9M3522 3386h9M3349 3538h9M3606 3440h9M3081 3477h9M3398 3544h9M3818 3485h9M3232 3539h9M3335 3590h9M3712 3362h9M3359 3662h9M3749 3463h9M3531 3486h9M3641 3507h9M3580 3474h9M3382 3537h9M3340 3426h9M3096 3553h9M3203 3460h9M3242 3568h9M3466 3483h9M3805 3447h9M3028 3555h9M3494 3520h9M3504 3650h9M3318 3538h9M3397 3378h9M3091 3463h9M3322 3421h9M3774 3462h9M3148 3470h9M3415 3454h9M3119 3435h9M3393 3626h9M3405 3439h9M2949 3556h9M3083 3583h9M3396 3584h9M3142 3548h9M3818 3443h9M3125 3496h9M3449 3467h9M3508 3570h9M3172 3405h9M3154 3403h9M3186 3496h9M3367 3383h9M3264 3387h9M3527 3460h9M3489 3583h9M3537 3478h9M3441 3452h9M3351 3618h9M3209 3497h9M3419 3513h9M3549 3393h9M3226 3497h9M3430 3530h9M3463 3487h9M3120 3431h9M3051 3577h9M3758 3397h9M2997 3496h9M3410 3448h9M3293 3543h9M3445 3451h9M3020 3509h9M3627 3348h9M3744 3469h9M3739 3411h9M3148 3414h9M3412 3495h9M3299 3502h9M3467 3425h9M3591 3359h9M3232 3526h9M3286 3508h9M2949 3504h9M3338 3392h9M3496 3390h9M3136 3417h9M3397 3431h9M3500 3536h9M3257 3536h9M3799 3334h9M3122 3712h9M3571 3309h9M3576 3462h9M3378 3548h9M3199 3482h9M3391 3367h9M3281 3516h9M3364 3501h9M3357 3354h9M3130 3374h9M3439 3553h9M3399 3346h9M3263 3557h9M3484 3536h9M3574 3399h9M3426 3510h9M3105 3475h9M3334 3634h9M3636 3472h9M3383 3380h9M3379 3564h9M3266 3541h9M3725 3442h9M2977 3522h9M3333 3689h9M3348 3489h9M3632 3420h9M3285 3491h9M3324 3525h9M3413 3325h9M3658 3437h9M3550 3485h9M3527 3575h9M3323 3468h9M3472 3479h9M3832 3440h9M3224 3649h9M3200 3566h9M3223 3556h9M3787 3559h9M3278 3545h9M3690 3479h9M3827 3461h9M3491 3403h9M3160 3559h9M3204 3517h9M3114 3472h9M3076 3547h9M3201 3524h9M3543 3460h9M3396 3661h9M3534 3599h9M3780 3527h9M3529 3371h9M3520 3417h9M3046 3524h9M3688 3515h9M3581 3538h9M3595 3406h9M3110 3529h9M3663 3473h9M3199 3477h9M3270 3463h9M3111 3637h9M3441 3377h9M3441 3532h9M3612 3407h9M3057 3427h9M3439 3574h9M3651 3417h9M3398 3445h9M3391 3450h9M3342 3493h9M3752 3418h9M3323 3471h9M3398 3620h9M3223 3424h9M3097 3479h9M3029 3440h9M3171 3553h9M3456 3467h9M3486 3493h9M3360 3437h9M3598 3478h9M3335 3477h9M3428 3488h9M3069 3483h9M3079 3315h9M3050 3711h9M3585 3468h9M3359 3427h9M3199 3463h9M3082 3513h9M3552 3549h9M3105 3420h9M3462 3554h9M3641 3481h9M3746 3474h9M3297 3497h9M3423 3543h9M3080 3452h9M3706 3447h9M3709 3520h9M3482 3580h9M3362 3551h9M3616 3558h9M3154 3520h9M3800 3518h9M3762 3581h9M3252 3513h9M3787 3507h9M3177 3554h9M3513 3454h9M3306 3576h9M3593 3406h9M3166 3500h9M3410 3495h9M3186 3543h9M3409 3499h9M3372 3529h9M3448 3473h9M3819 3457h9M3634 3389h9M2954 3468h9M3374 3429h9M3276 3543h9M3232 3582h9M3205 3651h9M3392 3404h9M3586 3501h9M3006 3675h9M3284 3551h9M3211 3550h9M3171 3624h9M3726 3391h9M3055 3622h9M3078 3530h9M3527 3553h9M3416 3441h9M3625 3516h9M3695 3400h9M3815 3504h9M3321 3553h9M3380 3368h9M3231 3541h9M3478 3511h9M3201 3442h9M3287 3524h9M3372 3527h9M3220 3473h9M3239 3493h9M3240 3509h9M3276 3607h9M3210 3447h9M3510 3610h9M3357 3416h9M3600 3406h9M3382 3481h9M3086 3585h9M3487 3480h9M3471 3408h9M3317 3530h9M3582 3349h9M3518 3412h9M3685 3399h9M3609 3485h9M3606 3618h9M3723 3483h9M3094 3474h9M3313 3462h9M3493 3535h9M3059 3710h9M3397 3470h9M3548 3519h9M3680 3423h9M3189 3567h9M3661 3430h9M3512 3565h9M3504 3462h9M3577 3476h9M3070 3498h9M3417 3429h9M3681 3386h9M3197 3498h9M3540 3566h9M3113 3574h9M3284 3413h9M3095 3615h9M3040 3485h9M3411 3610h9M3444 3374h9M3279 3486h9M3547 3463h9M3253 3527h9M3685 3378h9M3410 3481h9M3380 3569h9M3234 3403h9M3336 3410h9M3832 3563h9M3107 3524h9M2958 3523h9M3267 3650h9M3525 3505h9M3695 3444h9M3578 3433h9M3237 3656h9M3195 3586h9M3191 3529h9M3034 3612h9M3197 3410h9M3586 3388h9M3036 3531h9M3346 3512h9M3310 3641h9M3079 3475h9M3321 3545h9M3792 3466h9M3610 3510h9M3768 3464h9M3461 3544h9M3734 3420h9M3358 3432h9M3437 3491h9M3173 3500h9M3493 3581h9M3472 3502h9M3102 3478h9M3396 3359h9M3254 3513h9M3825 3333h9M3025 3589h9M3449 3561h9M3553 3360h9M3554 3414h9M3335 3504h9M3451 3552h9M3404 3582h9M3477 3451h9M3514 3456h9M3612 3452h9M3302 3579h9M3259 3562h9M3561 3414h9M3518 3607h9M3288 3564h9M3334 3641h9M3351 3492h9M3114 3320h9M3596 3529h9M3738 3511h9M3121 3380h9M3460 3601h9M3503 3529h9M3345 3573h9M3278 3454h9M3278 3557h9M3185 3491h9M3471 3427h9M3242 3526h9M3456 3435h9M3240 3579h9M3265 3507h9M3354 3452h9M3579 3461h9M3322 3514h9M3471 3459h9M3096 3454h9M3227 3561h9M3300 3540h9M3413 3412h9M3581 3464h9M3305 3430h9M3334 3392h9M3627 3498h9M3300 3424h9M3498 3425h9M3655 3523h9M3192 3498h9M3643 3436h9M3587 3384h9M3556 3552h9M3323 3534h9M3283 3485h9M3448 3523h9M3424 3527h9M3114 3413h9M3501 3311h9M2945 3436h9M3580 3527h9M3293 3495h9M3016 3601h9M3141 3460h9M3432 3455h9M3514 3539h9M3588 3477h9M3154 3515h9M3090 3411h9M2964 3605h9M3010 3612h9M3362 3472h9M3396 3612h9M3003 3562h9M3255 3430h9M3123 3520h9M3609 3506h9M3311 3627h9M3218 3514h9M3293 3553h9M3510 3485h9M3547 3504h9M3211 3582h9M3255 3463h9M3578 3446h9M3397 3684h9M3619 3440h9M3249 3582h9M3486 3424h9M3566 3367h9M3735 3561h9M3827 3367h9M3557 3629h9M3510 3477h9M3746 3366h9M3373 3533h9M3276 3514h9M3639 3538h9M3383 3414h9M2996 3468h9M3258 3456h9M3360 3548h9M3053 3487h9M3552 3434h9M3660 3430h9M3456 3599h9M3685 3485h9M3434 3549h9M3290 3430h9M3658 3559h9M3472 3477h9M3103 3481h9M3308 3527h9M3619 3485h9M3502 3398h9M3430 3581h9M3222 3379h9M3576 3591h9M3588 3448h9M3555 3336h9M3417 3444h9M3692 3403h9M3207 3495h9M3653 3505h9M3234 3497h9M3185 3546h9M3380 3593h9M3586 3458h9M3759 3304h9M3024 3489h9M3537 3624h9M3606 3503h9M3396 3373h9M3243 3590h9M3483 3450h9M3390 3453h9M3230 3425h9M3345 3481h9M3438 3497h9M3442 3478h9M3202 3508h9M3392 3568h9M3406 3448h9M3605 3478h9M3608 3635h9M3603 3390h9M3153 3556h9M2963 3502h9M3449 3458h9M3168 3514h9M3291 3469h9M3525 3439h9M3329 3593h9M3617 3481h9M3341 3522h9M3451 3401h9M3191 3595h9M3143 3638h9M3573 3481h9M3271 3518h9M3603 3514h9M3744 3504h9M3230 3554h9M3595 3476h9M3164 3465h9M3546 3424h9M3418 3408h9M3361 3567h9M3565 3408h9M3595 3554h9M3214 3561h9M3238 3419h9M3708 3555h9M3156 3332h9M3662 3433h9M3494 3397h9M3527 3566h9M3434 3554h9M3479 3562h9M3256 3471h9M3317 3424h9M3660 3457h9M3183 3517h9M3586 3560h9M3787 3433h9M3656 3474h9M3644 3469h9M3386 3525h9M3229 3514h9M3498 3360h9M3261 3477h9M3660 3487h9M3393 3447h9M3511 3468h9M3650 3458h9M3386 3544h9M3518 3378h9M3450 3491h9M3644 3503h9M3275 3577h9M2946 3637h9M3249 3619h9M3293 3472h9M3474 3475h9M3665 3534h9M3309 3494h9M3399 3623h9M3391 3574h9M3390 3441h9M2973 3553h9M3524 3506h9M3732 3523h9M3163 3601h9M3123 3514h9M3062 3595h9M3769 3370h9M3164 3469h9M3320 3404h9M3449 3381h9M3380 3513h9M3562 3475h9M3437 3597h9M3225 3511h9M3711 3384h9M3545 3295h9M2960 3418h9M3329 3500h9M3333 3536h9M3204 3473h9M3188 3537h9M3252 3477h9M3854 3434h9M3549 3513h9M3274 3478h9M3690 3435h9M3568 3453h9M3296 3614h9M3236 3542h9M3213 3522h9M3567 3624h9M3643 3376h9M3137 3537h9M3133 3492h9M3154 3483h9M3403 3556h9M3489 3482h9M3738 3561h9M3292 3564h9M3295 3470h9M3501 3493h9M3355 3354h9M3164 3523h9M3567 3528h9M3240 3544h9M3060 3557h9M3118 3596h9M3352 3500h9M3527 3461h9M3571 3430h9M3187 3535h9M3499 3503h9M3558 3478h9M3216 3545h9M2976 3533h9M3635 3516h9M3683 3454h9M3323 3469h9M3257 3524h9M3642 3473h9M3796 3496h9M3267 3515h9M3201 3476h9M3300 3453h9M3295 3463h9M3555 3567h9M2992 3566h9M3377 3482h9M3601 3428h9M3176 3512h9M3208 3478h9M3608 3389h9M3723 3569h9M3315 3554h9M3127 3505h9M3287 3452h9M3655 3506h9M3657 3369h9M3379 3474h9M3012 3614h9M3434 3527h9M3806 3430h9M3826 3336h9M3778 3529h9M3111 3438h9M3732 3506h9M3453 3490h9M3096 3448h9M3206 3588h9M3526 3486h9M3287 3442h9M2956 3486h9M3106 3491h9M3157 3413h9M3756 3320h9M3608 3451h9M3247 3425h9M3149 3489h9M3435 3493h9M3379 3579h9M3387 3554h9M3221 3638h9M3218 3437h9M3216 3579h9M3804 3489h9M3197 3481h9M3734 3401h9M3389 3414h9M3441 3432h9M3255 3570h9M3375 3454h9M3524 3380h9M3780 3554h9M3097 3513h9M3470 3508h9M3249 3506h9M3210 3497h9M3211 3466h9M3208 3329h9M3177 3579h9M3767 3423h9M3401 3589h9M2963 3562h9M3329 3494h9M3324 3643h9M3445 3510h9M3191 3539h9M3385 3505h9M3689 3408h9M3443 3560h9M3242 3600h9M3160 3396h9M3096 3529h9M3655 3446h9M3370 3496h9M3549 3411h9M3350 3433h9M3504 3548h9M3332 3554h9M3188 3516h9M3060 3582h9M3794 3575h9M3316 3510h9M3429 3570h9M3207 3567h9M3161 3565h9M3379 3373h9M3282 3542h9M3343 3519h9M3194 3458h9M3389 3462h9M3328 3442h9M3185 3654h9M3411 3374h9M3281 3561h9M3498 3473h9M3339 3427h9M3552 3548h9M3161 3513h9M3679 3502h9M3162 3583h9M3171 3630h9M3389 3361h9M3160 3576h9M3314 3673h9M3041 3604h9M2984 3406h9M3103 3583h9M3458 3478h9M3503 3436h9M3795 3471h9M3534 3390h9M3372 3411h9M3572 3364h9M3586 3558h9M3541 3578h9M3800 3441h9M3262 3475h9M3389 3483h9M3329 3629h9M3409 3465h9M3785 3382h9M3371 3540h9M3564 3391h9M3026 3441h9M3168 3602h9M3364 3525h9M3163 3478h9M3557 3508h9M3311 3575h9M3231 3471h9M3271 3464h9M3600 3372h9M3500 3353h9M3462 3480h9M3673 3411h9M3730 3423h9M3396 3440h9M3117 3410h9M3309 3552h9M3288 3550h9M3611 3587h9M3656 3477h9M3457 3482h9M3167 3430h9M3536 3592h9M3446 3453h9M3493 3602h9M3143 3455h9M3259 3566h9M3603 3439h9M3412 3561h9M3081 3516h9M3504 3539h9M3571 3381h9M3373 3459h9M3453 3524h9M3365 3518h9M3642 3481h9M3148 3352h9M3107 3493h9M3272 3535h9M3551 3528h9M3089 3577h9M3810 3444h9M3330 3537h9M3548 3486h9M3496 3420h9M3281 3501h9M3244 3442h9M3438 3528h9M3315 3475h9M3402 3456h9M3511 3447h9M3488 3553h9M3337 3491h9M3407 3506h9M3353 3440h9M3547 3489h9M3293 3503h9M3427 3504h9M3663 3491h9M3654 3514h9M2992 3580h9M3724 3568h9M3481 3492h9M3035 3583h9M3452 3474h9M3050 3430h9M3265 3568h9M3385 3436h9M3596 3558h9M3455 3476h9M3462 3483h9M3537 3408h9M3712 3474h9M3166 3410h9M3401 3526h9M3045 3529h9M3140 3470h9M3111 3448h9M3062 3483h9M3030 3452h9M3154 3515h9M3330 3390h9M3101 3522h9M3180 3532h9M3394 3472h9M3013 3526h9M3078 3642h9M2995 3613h9M3168 3529h9M3129 3456h9M3119 3526h9M3072 3443h9M3050 3503h9M3093 3431h9M3133 3586h9M3096 3604h9M3148 3491h9M2993 3444h9M3028 3506h9M2986 3501h9M3325 3400h9M3146 3526h9M3159 3537h9M3113 3497h9M3088 3464h9M3030 3523h9M3124 3528h9M3029 3446h9M3369 3548h9M3223 3533h9M3205 3579h9M3282 3515h9M3182 3570h9M3162 3465h9M3046 3587h9M3170 3516h9M3055 3530h9M3521 3527h9M2999 3421h9M3248 3550h9M3007 3603h9M3273 3474h9M3032 3544h9M3116 3550h9M3250 3484h9M3153 3442h9M3196 3584h9M3160 3423h9M3122 3554h9M3133 3561h9M3108 3584h9M3082 3490h9M3006 3412h9M3102 3521h9M3093 3460h9M3066 3577h9M3141 3591h9M3170 3493h9M3383 3464h9M3146 3566h9M3149 3485h9M3288 3542h9M3143 3491h9M3324 3596h9M3018 3593h9M3153 3505h9M3261 3483h9M3134 3596h9M3147 3439h9M3043 3536h9M3037 3522h9M3206 3487h9M2972 3542h9M3322 3514h9M3176 3555h9M3165 3448h9M3180 3556h9M3031 3548h9M3029 3458h9M3021 3589h9M3233 3532h9M3323 3478h9M3232 3495h9M3159 3436h9M3078 3551h9M3080 3568h9M3106 3477h9M3059 3481h9M3143 3569h9M2977 3544h9M3071 3654h9M3197 3567h9M3163 3550h9M3095 3474h9M3320 3606h9M3253 3458h9M3121 3563h9M3134 3415h9M3118 3440h9M2987 3553h9M2995 3491h9M3099 3496h9M3089 3474h9M3135 3454h9M3108 3520h9M3088 3592h9M3099 3486h9M3379 3607h9M3190 3504h9M3305 3541h9M3104 3512h9M3233 3539h9M3049 3391h9M3212 3525h9M3222 3535h9M3240 3552h9M3118 3510h9M3369 3468h9M3038 3644h9M3154 3400h9M3068 3569h9M3171 3487h9M3218 3434h9M3074 3586h9M3451 3478h9M2992 3532h9M3149 3566h9M3189 3619h9M3352 3562h9M3004 3506h9M3144 3508h9M3269 3563h9M3158 3524h9M3239 3477h9M2978 3495h9M3000 3490h9M3040 3566h9M3241 3557h9M3158 3454h9M3180 3471h9M3061 3648h9M3148 3489h9M3140 3522h9M3104 3466h9M3026 3614h9M3026 3620h9M3026 3570h9M3122 3605h9M3137 3524h9M3060 3536h9M3196 3575h9M3100 3519h9M3105 3397h9M3149 3448h9M3126 3487h9M3061 3517h9M2971 3521h9M3311 3617h9M3339 3592h9M3177 3639h9M3122 3578h9M3195 3534h9M3024 3542h9M3352 3544h9M3089 3536h9M3084 3519h9M3029 3568h9M3085 3514h9M3119 3427h9M3301 3627h9M3047 3678h9M3136 3497h9M3162 3550h9M3061 3548h9M2971 3569h9M3049 3434h9M3120 3446h9M3237 3615h9M2987 3491h9M2981 3450h9M3014 3515h9M2949 3568h9M3392 3461h9M3125 3488h9M3336 3517h9M3315 3526h9M3228 3588h9M3063 3606h9M3284 3506h9M3133 3453h9M3318 3466h9M3132 3489h9M3073 3579h9M3147 3592h9M3126 3591h9M2997 3478h9M3249 3441h9M3007 3516h9M2998 3601h9M3336 3538h9M3161 3508h9M2963 3429h9M3034 3514h9M3266 3479h9M3172 3639h9M3351 3583h9M3239 3377h9M3068 3538h9M3125 3569h9M3247 3555h9M2998 3493h9M3010 3588h9M3171 3599h9M3143 3458h9M3108 3461h9M2948 3423h9M3236 3502h9M2991 3483h9M3117 3510h9M3083 3486h9M3214 3497h9M3338 3467h9M3186 3539h9M3202 3567h9M3334 3489h9M3259 3534h9M3098 3618h9M3303 3428h9M3240 3574h9M2975 3478h9M3097 3511h9M3248 3594h9M2964 3359h9M3023 3545h9M3165 3606h9M3283 3594h9M2994 3607h9M3017 3625h9M3247 3559h9M3221 3560h9M3111 3443h9M3237 3560h9M3202 3508h9M3246 3487h9M2970 3591h9M3098 3486h9M3074 3618h9M3171 3497h9M3006 3472h9M3111 3434h9M3085 3504h9M2979 3498h9M3015 3528h9M3313 3632h9M3001 3514h9M3193 3501h9M2943 3479h9M3008 3454h9M3143 3518h9M3017 3616h9M3093 3623h9M3081 3534h9M3076 3505h9M2999 3442h9M3003 3563h9M3218 3570h9M2961 3607h9M3171 3461h9M3086 3512h9M3145 3398h9M3182 3462h9M3108 3574h9M3123 3501h9M3172 3521h9M3166 3454h9M3062 3500h9M3284 3598h9M3156 3523h9M3154 3508h9M3248 3422h9M3214 3539h9M3083 3425h9M3154 3452h9M2972 3510h9M3089 3516h9M3025 3513h9M3320 3517h9M3003 3468h9M3039 3605h9M3176 3604h9M3164 3618h9M3140 3548h9M2976 3494h9M3058 3557h9M3013 3452h9M3043 3466h9M3128 3513h9M3213 3482h9M3067 3465h9M3367 3470h9M3189 3550h9M2993 3564h9M3167 3472h9M3053 3456h9M3007 3545h9M3020 3452h9M3129 3598h9M2987 3447h9M3276 3392h9M3076 3594h9M3099 3480h9M3117 3557h9M3027 3515h9M3053 3544h9M3148 3476h9M3102 3528h9M3264 3515h9M3018 3523h9M3359 3596h9M3283 3436h9M3354 3549h9M3155 3524h9M3183 3400h9M3238 3436h9M3321 3537h9M3039 3459h9M3087 3611h9M3116 3525h9M3020 3612h9M3084 3479h9M3159 3481h9M3088 3418h9M3019 3549h9M3168 3560h9M3195 3583h9M3098 3497h9M3244 3450h9M3004 3442h9M3020 3592h9M3279 3491h9M3139 3612h9M3090 3575h9M3212 3431h9M3255 3597h9M3186 3514h9M3264 3553h9M3140 3547h9M3295 3462h9M3095 3491h9M3150 3529h9M3074 3535h9M3105 3596h9M3252 3517h9M3131 3501h9M3018 3546h9M3238 3406h9M3000 3585h9M3287 3464h9M2984 3433h9M3244 3529h9M3104 3469h9M3206 3492h9M3283 3507h9M3218 3551h9M3134 3501h9M3325 3596h9M3001 3620h9M2964 3553h9M3203 3520h9M2999 3464h9M3226 3474h9M3120 3532h9M3041 3455h9M2968 3495h9M3243 3512h9M3086 3623h9M3286 3571h9M3171 3554h9M3239 3537h9M3236 3534h9M3240 3439h9M2992 3609h9M3277 3470h9M2992 3583h9M3091 3525h9M3283 3554h9M3131 3598h9M3483 3565h9M3311 3470h9M3359 3444h9M3191 3540h9M3011 3555h9M3117 3481h9M2944 3440h9M2981 3456h9M3115 3429h9M3030 3410h9M3361 3547h9M3438 3535h9M3176 3550h9M3347 3650h9M3153 3399h9M3107 3418h9M2944 3580h9M3094 3496h9M3180 3569h9M3016 3610h9M3014 3560h9M3085 3510h9M3080 3581h9M3224 3521h9M3261 3437h9M3172 3438h9M3218 3512h9M3132 3466h9M3030 3447h9M3102 3530h9M3116 3515h9M3405 3733h9M3499 3694h9M3481 3776h9M3284 3697h9M3390 3685h9M3377 3703h9M3599 3742h9M3591 3723h9M3429 3723h9M3405 3842h9M3561 3736h9M3209 3711h9M3530 3743h9M3399 3765h9M3460 3698h9M3450 3761h9M3510 3723h9M3369 3727h9M3493 3743h9M3550 3715h9M3425 3722h9M3472 3684h9M3566 3718h9M3579 3792h9M3286 3741h9M3491 3729h9M3492 3694h9M3533 3741h9M3407 3625h9M3515 3670h9M3581 3775h9M3290 3667h9M3475 3785h9M3456 3742h9M3448 3802h9M3487 3678h9M3577 3774h9M3429 3724h9M3586 3757h9M3409 3783h9M3396 3722h9M3247 3715h9M3717 3662h9M3291 3772h9M3350 3770h9M3611 3716h9M3371 3777h9M3493 3795h9M3412 3751h9M3365 3683h9M3323 3689h9M3602 3769h9M3444 3726h9M3415 3784h9M3430 3659h9M3416 3652h9M3379 3695h9M3241 3656h9M3428 3751h9M3478 3692h9M3330 3735h9M3530 3770h9M3436 3689h9M3499 3743h9M3370 3684h9M3372 3778h9M3567 3716h9M3450 3797h9M3283 3708h9M3404 3744h9M3252 3747h9M3271 3767h9M3419 3708h9M3518 3730h9M3328 3768h9M3398 3741h9M3567 3668h9M3503 3766h9M3661 3651h9M3513 3823h9M3468 3731h9M3391 3657h9M3569 3676h9M3232 3762h9M3537 3766h9M3516 3688h9M3419 3714h9M3335 3744h9M3315 3721h9M3580 3724h9M3409 3762h9M3295 3743h9M3550 3754h9M3346 3765h9M3381 3762h9M3321 3681h9M3591 3720h9M3406 3674h9M3371 3790h9M3479 3727h9M3226 3763h9M3470 3777h9M3379 3751h9M3362 3666h9M3221 3758h9M3386 3723h9M3251 3799h9M3361 3651h9M3280 3701h9M3525 3746h9M3474 3697h9M3511 3725h9M3533 3693h9M3354 3690h9M3353 3691h9M3476 3708h9M3256 3707h9M3347 3654h9M3437 3732h9M3418 3789h9M3258 3753h9M3449 3684h9M3558 3676h9M3439 3751h9M3384 3697h9M3517 3776h9M3367 3782h9M3456 3677h9M3506 3722h9M3376 3744h9M3462 3694h9M3365 3755h9M3503 3802h9M3420 3735h9M3342 3812h9M3452 3748h9M3563 3760h9M3346 3715h9M3549 3743h9M3375 3719h9M3541 3678h9M3411 3777h9M3537 3685h9M3415 3744h9M3455 3719h9M3367 3717h9M3443 3730h9M3603 3745h9M3506 3755h9M3395 3765h9M3368 3774h9M3498 3708h9M3516 3711h9M3514 3686h9M3451 3786h9M3370 3647h9M3344 3750h9M3418 3662h9M3371 3708h9M3215 3709h9M3409 3709h9M3375 3783h9M3275 3704h9M3544 3734h9M3279 3746h9M3163 3707h9M3483 3671h9M3496 3731h9M3421 3837h9M3508 3734h9M3248 3663h9M3382 3730h9M3490 3687h9M3376 3749h9M3266 3724h9M3525 3712h9M3445 3733h9M3474 3746h9M3409 3712h9M3393 3753h9M3332 3785h9M3157 3752h9M3605 3734h9M3494 3745h9M3719 3769h9M3586 3706h9M3437 3710h9M3393 3702h9M3442 3692h9M3515 3735h9M3500 3701h9M3474 3834h9M3528 3757h9M3524 3785h9M3577 3709h9M3391 3744h9M3592 3770h9M3387 3757h9M3492 3715h9M3369 3655h9M3280 3690h9M3610 3739h9M3543 3742h9M3415 3797h9M3420 3766h9M3462 3704h9M3381 3757h9M3393 3784h9M3395 3758h9M3438 3727h9M3482 3718h9M3364 3705h9M3454 3739h9M3556 3745h9M3520 3769h9M3416 3776h9M3374 3654h9M3118 3722h9M3546 3712h9M2957 3788h9M3573 3696h9M3473 3788h9M3357 3701h9M3461 3765h9M3424 3747h9M3467 3749h9M3474 3692h9M3230 3710h9M3347 3643h9M3573 3700h9M3525 3696h9M3458 3743h9M3464 3722h9M3401 3727h9M3719 3787h9M3349 3723h9M3304 3800h9M3515 3722h9M3311 3688h9M3386 3710h9M3393 3721h9M3303 3738h9M3422 3756h9M3287 3761h9M3539 3744h9M3342 3694h9M3417 3742h9M3479 3732h9M3254 3716h9M3424 3706h9M3469 3775h9M3304 3750h9M3340 3690h9M3397 3807h9M3488 3720h9M3549 3733h9M3475 3685h9M3320 3666h9M3522 3669h9M3573 3670h9M3424 3737h9M3302 3643h9M3368 3795h9M3574 3673h9M3429 3718h9M3545 3744h9M3332 3824h9M3510 3694h9M3553 3764h9M3558 3680h9M3446 3700h9M3410 3720h9M3471 3687h9M3536 3711h9M3471 3725h9M3459 3761h9M3390 3766h9M3383 3746h9M3416 3700h9M3190 3694h9M3357 3708h9M3561 3687h9M3491 3840h9M3331 3747h9M3506 3731h9M3446 3758h9M3686 3700h9M3483 3738h9M3653 3795h9M3636 3754h9M3472 3732h9M3392 3697h9M3469 3763h9M3464 3665h9M3486 3846h9M3423 3686h9M3568 3688h9M3444 3743h9M3374 3691h9M3461 3682h9M3471 3751h9M3312 3761h9M3298 3740h9M3353 3679h9M3377 3737h9M3505 3756h9M3339 3725h9M3153 3764h9M3429 3723h9M3400 3650h9M3462 3736h9M3421 3773h9M3414 3708h9M3549 3720h9M3339 3638h9M3381 3712h9M3314 3749h9M3256 3725h9M3433 3771h9M3427 3718h9M3536 3788h9M3455 3694h9M3481 3681h9M3564 3740h9M3333 3808h9M3280 3773h9M3393 3708h9M3268 3649h9M3453 3688h9M3538 3728h9M3465 3810h9M3253 3735h9M3383 3758h9M3411 3707h9M3344 3720h9M3277 3756h9M3135 3751h9M3481 3732h9M3394 3768h9M3507 3763h9M3384 3748h9M3417 3708h9M3541 3673h9M3400 3675h9M3234 3781h9M3499 3741h9M3304 3728h9M3503 3647h9M3500 3746h9M3618 3690h9M3621 3733h9M3467 3765h9M3670 3772h9M3624 3733h9M3504 3767h9M3290 3740h9M3452 3754h9M3600 3759h9M3461 3735h9M3438 3673h9M3408 3693h9M3288 3772h9M3332 3687h9M3256 3778h9M3578 3746h9M3396 3751h9M3484 3734h9M3457 3660h9M3445 3712h9M3407 3725h9M3284 3740h9M3495 3639h9M3269 3790h9M3272 3760h9M3520 3807h9M3396 3698h9M3353 3698h9M3254 3682h9M3371 3710h9M3505 3759h9M3432 3653h9M3487 3717h9M3230 3706h9M3343 3728h9M3462 3796h9M3355 3735h9M3316 3704h9M3286 3725h9M3482 3714h9M3572 3726h9M3516 3716h9M3423 3800h9M3328 3757h9M3255 3718h9M3521 3820h9M3515 3737h9M3399 3715h9M3435 3732h9M3560 3693h9M3334 3774h9M3496 3711h9M3407 3752h9M3400 3700h9M3442 3759h9M3330 3711h9M3487 3655h9M3399 3767h9M3336 3755h9M3675 3757h9M3329 3825h9M3511 3773h9M3467 3697h9M3417 3721h9M3617 3781h9M3398 3741h9M3490 3783h9M3524 3682h9M3554 3680h9M3381 3666h9M3390 3760h9M3434 3774h9M3534 3721h9M3373 3784h9M3503 3773h9M3559 3718h9M3359 3738h9M3377 3702h9M3336 3724h9M3396 3748h9M3491 3782h9M3462 3739h9M3480 3737h9M3468 3706h9M3443 3676h9M3542 3738h9M3479 3672h9M3329 3704h9M3218 3772h9M3492 3730h9M3540 3654h9M3320 3774h9M3505 3724h9M3474 3734h9M3380 3707h9M3326 3727h9M3405 3766h9M3258 3727h9M3381 3698h9M3393 3791h9M3612 3639h9M3530 3661h9M3308 3689h9M3286 3775h9M3594 3654h9M3488 3745h9M3376 3711h9M3400 3713h9M3322 3720h9M3436 3733h9M3307 3757h9M3282 3698h9M3298 3648h9M3437 3693h9M3554 3715h9M3513 3690h9M3357 3747h9M3371 3688h9M3426 3775h9M3465 3749h9M3674 3759h9M3372 3735h9M3300 3714h9M3578 3749h9M3304 3698h9M3270 3823h9M3377 3677h9M3586 3731h9M3320 3690h9M3305 3719h9M3405 3745h9M3331 3704h9M3465 3780h9M3634 3777h9M3296 3714h9M3494 3690h9M3289 3660h9M3418 3698h9M3381 3675h9M3461 3694h9M3294 3680h9M3286 3749h9M3499 3697h9M3340 3813h9M3508 3788h9M3480 3733h9M3448 3793h9M3654 3745h9M3441 3770h9M3508 3725h9M3364 3701h9M3594 3714h9M3397 3715h9M3302 3751h9M3425 3748h9M3578 3722h9M3440 3701h9M3524 3748h9M3543 3797h9M3293 3796h9M3299 3686h9M3224 3795h9M3376 3755h9M3362 3800h9M3298 3728h9M3311 3718h9M3575 3742h9M3462 3762h9M3375 3677h9M3311 3709h9M3554 3730h9M3378 3733h9M3353 3766h9M3510 3696h9M3607 3678h9M3475 3716h9M3516 3766h9M3437 3741h9M3281 3667h9M3429 3742h9M3373 3756h9M3543 3657h9M3467 3810h9M3421 3728h9M3431 3750h9M3169 3749h9M3389 3756h9M3366 3726h9M3465 3771h9M3413 3745h9M3323 3727h9M3468 3810h9M3340 3735h9M3375 3754h9M3344 3765h9M3318 3800h9M3437 3720h9M3440 3741h9M3468 3774h9M3436 3704h9M3285 3709h9M3327 3769h9M3312 3710h9M3457 3792h9M3267 3725h9M3530 3663h9M3505 3639h9M3420 3690h9M3384 3745h9M3590 3696h9M3599 3800h9M3277 3733h9M3492 3793h9M3506 3713h9M3381 3761h9M3351 3742h9M3436 3696h9M3672 3737h9M3656 3776h9M3541 3704h9M3374 3734h9M3418 3680h9M3665 3829h9M3494 3738h9M3403 3687h9M3474 3729h9M3492 3771h9M3656 3729h9M3455 3720h9M3466 3688h9M3600 3752h9M3295 3731h9M3556 3758h9M3367 3757h9M3466 3705h9M3466 3682h9M3390 3678h9M3530 3773h9M3384 3738h9M3584 3665h9M3424 3753h9M3491 3710h9M3223 3700h9M3537 3704h9M3450 3722h9M3524 3702h9M3464 3740h9M3319 3743h9M3531 3746h9M3357 3703h9M3290 3682h9M3211 3744h9M3430 3728h9M3690 3731h9M3508 3675h9M3390 3702h9M3444 3683h9M3355 3700h9M3453 3675h9M3444 3749h9M3439 3778h9M3436 3737h9M3452 3767h9M3476 3731h9M3501 3697h9M3514 3679h9M3567 3704h9M3404 3719h9M3482 3650h9M3380 3756h9M3465 3680h9M3558 3808h9M3338 3711h9M3300 3703h9M3406 3817h9M3290 3807h9M3425 3714h9M3377 3755h9M3388 3720h9M3409 3731h9M3456 3717h9M3345 3756h9M3441 3730h9M3223 3726h9M3347 3685h9M3376 3690h9M3222 3677h9M3519 3720h9M3336 3726h9M3217 3788h9M3539 3722h9M3461 3700h9M3375 3717h9M3369 3750h9M3304 3750h9M3324 3734h9M3555 3801h9M3273 3755h9M3577 3729h9M3570 3695h9M3428 3823h9M3505 3768h9M3410 3720h9M3522 3732h9M3601 3697h9M3335 3747h9M3275 3755h9M3576 3805h9M3302 3713h9M3514 3711h9M3476 3661h9M3418 3755h9M3360 3749h9M3438 3717h9M3329 3721h9M3463 3719h9M3497 3750h9M3309 3731h9M3538 3755h9M3398 3674h9M3442 3738h9M3548 3726h9M3431 3744h9M3571 3770h9M3630 3709h9M3537 3740h9M3587 3710h9M3507 3758h9M3339 3731h9M3408 3710h9M3358 3672h9M3471 3733h9M3445 3725h9M3463 3703h9M3333 3746h9M3465 3752h9M3471 3680h9M3310 3700h9M3619 3754h9M3315 3771h9M3507 3711h9M3501 3737h9M3431 3742h9M3552 3758h9M3251 3705h9M3571 3821h9M3318 3778h9M3278 3782h9M3406 3778h9M3493 3698h9M3331 3679h9M3243 3596h9M3320 3734h9M3393 3751h9M3383 3757h9M3476 3713h9M3305 3651h9M3499 3728h9M3239 3697h9M3391 3795h9M3539 3721h9M3501 3668h9M3382 3713h9M3289 3781h9M3390 3784h9M3263 3769h9M3514 3686h9M3462 3741h9M3500 3713h9M3336 3687h9M3448 3705h9M3428 3630h9M3402 3656h9M3446 3785h9M3464 3718h9M3524 3645h9M3375 3774h9M3377 3652h9M3324 3751h9M3486 3737h9M3529 3735h9M3456 3773h9M3241 3845h9M3473 3825h9M3452 3786h9M3491 3750h9M3446 3724h9M3590 3768h9M3610 3671h9M3240 3753h9M3607 3684h9M3324 3694h9M3419 3776h9M3424 3744h9M3266 3652h9M3463 3745h9M3360 3741h9M3448 3758h9M3372 3731h9M3617 3696h9M3390 3708h9M3512 3693h9M3292 3699h9M3281 3742h9M3627 3758h9M3490 3750h9M3397 3665h9M3323 3768h9M3282 3802h9M3313 3713h9M3340 3680h9M3382 3721h9M3403 3748h9M3445 3785h9M3388 3692h9M3359 3725h9M3552 3737h9M3390 3738h9M3305 3713h9M3360 3687h9M3493 3695h9M3363 3683h9M3461 3685h9M3647 3687h9M3521 3753h9M3522 3737h9M3325 3821h9M3453 3685h9M3566 3728h9M3359 3758h9M3440 3756h9M3429 3774h9M3478 3716h9M3434 3776h9M3431 3702h9M3448 3755h9M3482 3676h9M3316 3719h9M3518 3740h9M3593 3796h9M3516 3739h9M3417 3695h9M3453 3685h9M3524 3661h9M3556 3723h9M3357 3737h9M3446 3733h9M3299 3614h9M3532 3732h9M3507 3631h9M3392 3690h9M3444 3772h9M3310 3751h9M3485 3644h9M3421 3730h9M3400 3751h9M3560 3761h9M3554 3768h9M3420 3705h9M3306 3651h9M3368 3743h9M3416 3727h9M3517 3769h9M3406 3725h9M3276 3776h9M3412 3621h9M3431 3722h9M3506 3730h9M3480 3707h9M3518 3683h9M3415 3738h9M3397 3767h9M3471 3740h9M3451 3750h9M3492 3691h9M3428 3719h9M3397 3733h9M3432 3676h9M3404 3772h9M3497 3653h9M3369 3745h9M3293 3737h9M3588 3748h9M3334 3744h9M3246 3725h9M3222 3707h9M3231 3700h9M3385 3772h9M3468 3805h9M3563 3733h9M3498 3689h9M3432 3710h9M3326 3771h9M3362 3744h9M3397 3768h9M3476 3665h9M3465 3841h9M3505 3776h9M3490 3796h9M3373 3703h9M3386 3673h9M3329 3778h9M3362 3701h9M3563 3753h9M3379 3702h9M3409 3734h9M3541 3746h9M3338 3723h9M3291 3707h9M3603 3675h9M3380 3765h9M3453 3719h9M3354 3696h9M3504 3726h9M3465 3758h9M3280 3658h9M3475 3770h9M3431 3763h9M3272 3717h9M3376 3708h9M3481 3620h9M3377 3772h9M3392 3683h9M3461 3674h9M3517 3698h9M3569 3744h9M3302 3723h9M3415 3753h9M3283 3765h9M3329 3653h9M3405 3697h9M3433 3793h9M3414 3799h9M3639 3812h9M3452 3785h9M3567 3783h9M3429 3785h9M3534 3742h9M3338 3757h9M3477 3672h9M3312 3781h9M3406 3763h9M3399 3676h9M3359 3634h9M3484 3670h9M3651 3695h9M3449 3687h9M3274 3727h9M3355 3827h9M3402 3630h9M3430 3692h9M3377 3696h9M3328 3660h9M3452 3730h9M3421 3715h9M3596 3700h9M3376 3798h9M3461 3706h9M3343 3709h9M3398 3725h9M3585 3672h9M3441 3758h9M3501 3719h9M3350 3745h9M3499 3725h9M3387 3786h9M3404 3725h9M3574 3730h9M3431 3720h9M3592 3728h9M3579 3763h9M3437 3771h9M3370 3812h9M3352 3745h9M3530 3744h9M3560 3791h9M3313 3717h9M3487 3738h9M3409 3748h9M3346 3708h9M3555 3743h9M3580 3639h9M3311 3676h9M3458 3797h9M3282 3725h9M3571 3685h9M3663 3681h9M3339 3655h9M3483 3658h9M3435 3731h9M3365 3710h9M3386 3745h9M3350 3694h9M3307 3772h9M3573 3751h9M3262 3731h9M3482 3770h9M3425 3695h9M3648 3730h9M3348 3747h9M3550 3715h9M3486 3739h9M3408 3717h9M3461 3606h9M3416 3678h9M3313 3744h9M3389 3717h9M3418 3648h9M3256 3789h9M3320 3712h9M3481 3716h9M3415 3647h9M3300 3738h9M3445 3773h9M3499 3708h9M3437 3701h9M3493 3698h9M3475 3746h9M3572 3690h9M3426 3670h9M3529 3720h9M3359 3683h9M3345 3715h9M3393 3788h9M3400 3729h9M3216 3703h9M3634 3801h9M3193 3796h9M3403 3674h9M3490 3761h9M3504 3748h9M3590 3725h9M3490 3836h9M3442 3665h9M3584 3736h9M3308 3802h9M3545 3725h9M3458 3655h9M3444 3637h9M3298 3795h9M3450 3653h9M3357 3763h9M3402 3732h9M3405 3677h9M3563 3655h9M3392 3669h9M3401 3727h9M3403 3736h9M3500 3645h9M3429 3780h9M3594 3766h9M3283 3698h9M3516 3777h9M3380 3716h9M3502 3774h9M3377 3685h9M3246 3699h9M3257 3695h9M3544 3745h9M3371 3770h9M3272 3748h9M3364 3745h9M3547 3680h9M3490 3722h9M3396 3659h9M3413 3722h9M3430 3719h9M3306 3789h9M3401 3776h9M3390 3692h9M3553 3775h9M3380 3734h9M3471 3669h9M3369 3641h9M3522 3646h9M3401 3671h9M3411 3716h9M3368 3747h9M3385 3762h9M3450 3680h9M3387 3728h9M3505 3778h9M3399 3739h9M3419 3739h9M3316 3700h9M3505 3779h9M3451 3716h9M3472 3699h9M3600 3670h9M3449 3776h9M3385 3689h9M3368 3736h9M3538 3726h9M3472 3758h9M3456 3753h9M3479 3756h9M3341 3703h9M3352 3807h9M3406 3711h9M3546 3749h9M3388 3774h9M3333 3683h9M3340 3784h9M3425 3777h9M3309 3654h9M3453 3715h9M3228 3737h9M3636 3738h9M3284 3699h9M3344 3646h9M3319 3682h9M3376 3707h9M3437 3748h9M3468 3728h9M3332 3733h9M3446 3869h9M3389 3741h9M3497 3760h9M3215 3719h9M3271 3764h9M3267 3647h9M3327 3804h9M3524 3770h9M3361 3742h9M3326 3719h9M3540 3773h9M3413 3692h9M3373 3660h9M3249 3710h9M3468 3777h9M3599 3725h9M3497 3649h9M3484 3830h9M3498 3792h9M3514 3765h9M3548 3680h9M3381 3788h9M3357 3782h9M3352 3718h9M3348 3770h9M3463 3639h9M3305 3682h9M3481 3744h9M3234 3751h9M3550 3734h9M3424 3712h9M3483 3725h9M3308 3715h9M3306 3800h9M3304 3804h9M3357 3670h9M3396 3798h9M3443 3797h9M3517 3743h9M3362 3765h9M3443 3708h9M3418 3759h9M3462 3782h9M3665 3757h9M3515 3761h9M3488 3725h9M3365 3711h9M3333 3760h9M3292 3725h9M3340 3696h9M3503 3737h9M3529 3692h9M3373 3735h9M3501 3753h9M3570 3677h9M3412 3702h9M3606 3665h9M3334 3773h9M3331 3654h9M3578 3763h9M3367 3688h9M3406 3697h9M3356 3760h9M3343 3719h9M3352 3761h9M3412 3776h9M3295 3702h9M3399 3732h9M3379 3815h9M3366 3713h9M3285 3711h9M3656 3741h9M3332 3770h9M3390 3752h9M3302 3703h9M3580 3731h9M3449 3748h9M3525 3703h9M3315 3722h9M3524 3713h9M3538 3660h9M3355 3685h9M3217 3818h9M3416 3816h9M3481 3683h9M3567 3755h9M3641 3762h9M3406 3749h9M3405 3684h9M3387 3773h9M3321 3771h9M3563 3735h9M3389 3763h9M3372 3763h9M3491 3726h9M3375 3689h9M3412 3681h9M3413 3737h9M3391 3749h9M3532 3673h9M3422 3692h9M3354 3718h9M3536 3778h9M3361 3726h9M3402 3718h9M3599 3767h9M3232 3746h9M3498 3680h9M3584 3765h9M3601 3674h9M3394 3696h9M3351 3699h9M3284 3731h9M3263 3771h9M3502 3631h9M3338 3739h9M3697 3713h9M3575 3819h9M3438 3678h9M3295 3653h9M3445 3736h9M3348 3792h9M3363 3735h9M3527 3766h9M3489 3753h9M3461 3780h9M3538 3690h9M3480 3731h9M3398 3792h9M3445 3743h9M3551 3689h9M3370 3717h9M3321 3740h9M3328 3741h9M3434 3732h9M3482 3716h9M3505 3715h9M3431 3727h9M3513 3739h9M3337 3811h9M3560 3735h9M3501 3694h9M3518 3706h9M3504 3735h9M3319 3749h9M3424 3711h9M3420 3766h9M3454 3711h9M3383 3723h9M3264 3697h9M3380 3647h9M3627 3725h9M3575 3720h9M3428 3726h9M3252 3682h9M3481 3713h9M3463 3740h9M3288 3681h9M3327 3656h9M3302 3728h9M3541 3784h9M3492 3702h9M3324 3795h9M3453 3695h9M3318 3823h9M3498 3740h9M3443 3720h9M3525 3758h9M3581 3656h9M3501 3739h9M3521 3753h9M3221 3729h9M3586 3760h9M3333 3653h9M3555 3734h9M3479 3694h9M3540 3720h9M3406 3679h9M3442 3743h9M3326 3706h9M3478 3677h9M3465 3767h9M3428 3671h9M3419 3776h9M3433 3674h9M3513 3744h9M3574 3790h9M3506 3719h9M3214 3644h9M3410 3702h9M3424 3686h9M3322 3771h9M3454 3731h9M3596 3698h9M3473 3688h9M3380 3732h9M3403 3698h9M3392 3768h9M3338 3674h9M3586 3671h9M3392 3674h9M3326 3770h9M3500 3715h9M3582 3707h9M3538 3744h9M3535 3728h9M3467 3724h9M3161 3821h9M3485 3731h9M3414 3700h9M3361 3729h9M3519 3740h9M3446 3761h9M3351 3771h9M3383 3753h9M3361 3767h9M3307 3805h9M3378 3710h9M3346 3684h9M3397 3666h9M3528 3722h9M3206 3729h9M3478 3736h9M3364 3720h9M3158 3671h9M3191 3669h9M3492 3777h9M3576 3700h9M3465 3713h9M3461 3734h9M3335 3774h9M3372 3701h9M3393 3699h9M3241 3721h9M3463 3757h9M3389 3796h9M3359 3703h9M3175 3796h9M3542 3783h9M3261 3757h9M3252 3777h9M3409 3710h9M3429 3718h9M3588 3775h9M3271 3765h9M3169 3805h9M3371 3716h9M3419 3824h9M3500 3726h9M3486 3712h9M3526 3703h9M3383 3714h9M3547 3735h9M3399 3664h9M3523 3712h9M3453 3716h9M3456 3737h9M3250 3655h9M3398 3657h9M3493 3729h9M3540 3757h9M3489 3700h9M3453 3765h9M3529 3738h9M3411 3698h9M3389 3707h9M3539 3776h9M3404 3703h9M3504 3780h9M3490 3676h9M3257 3795h9M3520 3708h9M3420 3724h9M3430 3687h9M3517 3700h9M3307 3776h9M3432 3778h9M3456 3767h9M3597 3740h9M3536 3704h9M3470 3627h9M3412 3693h9M3246 3755h9M3427 3747h9M3277 3739h9M3648 3755h9M3292 3757h9M3443 3700h9M3339 3736h9M3204 3771h9M3501 3750h9M3502 3780h9M3277 3736h9M3485 3758h9M3383 3725h9M3499 3754h9M3613 3655h9M3432 3718h9M3456 3731h9M3359 3739h9M3291 3684h9M3317 3737h9M3506 3779h9M3287 3717h9M3543 3729h9M3569 3790h9M3374 3709h9M3436 3698h9M3423 3717h9M3615 3729h9M3364 3729h9M3451 3640h9M3310 3669h9M3405 3748h9M3333 3661h9M3495 3709h9M3417 3749h9M3522 3707h9M3321 3678h9M3327 3733h9M3704 3747h9M3363 3721h9M3386 3668h9M3422 3743h9M3441 3695h9M3422 3699h9M3390 3653h9M3501 3715h9M3151 3718h9M3493 3852h9M3333 3793h9M3325 3770h9M3501 3720h9M3310 3686h9M3538 3791h9M3400 3720h9M3357 3732h9M3375 3773h9M3518 3748h9M3325 3669h9M3371 3785h9M3505 3723h9M3522 3753h9M3334 3792h9M3543 3680h9M3394 3764h9M3600 3784h9M3327 3708h9M3558 3700h9M3457 3716h9M3489 3673h9M3292 3688h9M3635 3811h9M3617 3704h9M3330 3746h9M3394 3681h9M3483 3685h9M3547 3740h9M3391 3673h9M3422 3728h9M3493 3733h9M3424 3673h9M3363 3730h9M3473 3717h9M3273 3682h9M3375 3752h9M3392 3682h9M3412 3721h9M3569 3727h9M3366 3726h9M3475 3649h9M3382 3684h9M3359 3711h9M3568 3758h9M3454 3684h9M3455 3751h9M3260 3657h9M3559 3772h9M3432 3770h9M3522 3828h9M3137 3743h9M3548 3742h9M3355 3673h9M3565 3814h9M3219 3682h9M3492 3763h9M3365 3668h9M3540 3784h9M3228 3729h9M3475 3725h9M3566 3741h9M3480 3739h9M3277 3822h9M3366 3728h9M3563 3758h9M3408 3637h9M3428 3776h9M3409 3668h9M3556 3821h9M3533 3775h9M3245 3705h9M3180 3771h9M3488 3622h9M3495 3772h9M3339 3718h9M3585 3669h9M3473 3772h9M3456 3714h9M3450 3750h9M3512 3798h9M3273 3727h9M3415 3797h9M3304 3803h9M3341 3696h9M3283 3722h9M3379 3734h9M3409 3758h9M3473 3626h9M3550 3729h9M3422 3707h9M3523 3714h9M3544 3680h9M3599 3783h9M3298 3762h9M3371 3678h9M3374 3734h9M3357 3750h9M3554 3668h9M3219 3725h9M3446 3732h9M3504 3753h9M3222 3728h9M3335 3720h9M3277 3749h9M3410 3701h9M3274 3796h9M3520 3753h9M3349 3689h9M3582 3707h9M3513 3812h9M3250 3672h9M3470 3659h9M3389 3706h9M3519 3672h9M3444 3755h9M3308 3685h9M3529 3763h9M3261 3665h9M3605 3735h9M3363 3732h9M3416 3749h9M3592 3789h9M3355 3708h9M3390 3799h9M3545 3649h9M3384 3708h9M3551 3780h9M3374 3687h9M3444 3751h9M3454 3681h9M3400 3753h9M3465 3754h9M3338 3711h9M3439 3604h9M3399 3751h9M3473 3710h9M3410 3759h9M3415 3666h9M3476 3658h9M3338 3818h9M3461 3765h9M3489 3763h9M3441 3763h9M3440 3693h9M3467 3735h9M3526 3779h9M3579 3693h9M3463 3803h9M3374 3701h9M3381 3705h9M3346 3798h9M3375 3735h9M3322 3819h9M3323 3675h9M3530 3703h9M3443 3798h9M3301 3802h9M3376 3614h9M3443 3708h9M3284 3833h9M3381 3651h9M3423 3773h9M3518 3719h9M3384 3717h9M3301 3747h9M3464 3788h9M3324 3801h9M3553 3768h9M3407 3759h9M3397 3773h9M3427 3697h9M3408 3690h9M3507 3720h9M3342 3833h9M3434 3784h9M3367 3750h9M3374 3759h9M3468 3828h9M3193 3733h9M3601 3652h9M3524 3733h9M3473 3704h9M3381 3653h9M3379 3718h9M3348 3796h9M3442 3781h9M3469 3686h9M3412 3723h9M3382 3769h9M3500 3717h9M3482 3694h9M3380 3785h9M3547 3769h9M3600 3732h9M3405 3743h9M3540 3791h9M3435 3729h9M3556 3755h9M3456 3701h9M3418 3737h9M3457 3732h9M3545 3737h9M3410 3717h9M3471 3753h9M3492 3754h9M3379 3783h9M3318 3643h9M3507 3760h9M3352 3711h9M3530 3771h9M3370 3704h9M3489 3786h9M3657 3735h9M3476 3694h9M3409 3627h9M3229 3780h9M3466 3701h9M3546 3723h9M3375 3697h9M3411 3796h9M3381 3814h9M3498 3779h9M3433 3677h9M3535 3685h9M3548 3768h9M3420 3695h9M3356 3757h9M3341 3608h9M3282 3773h9M3475 3692h9M3388 3716h9M3681 3679h9M3329 3729h9M3471 3709h9M3518 3731h9M3365 3704h9M3410 3726h9M3471 3782h9M3406 3763h9M3516 3708h9M3202 3733h9M3458 3784h9M3210 3756h9M3410 3746h9M3555 3745h9M3496 3744h9M3310 3743h9M3391 3746h9M3245 3761h9M3457 3725h9M3393 3772h9M3468 3762h9M3480 3711h9M3466 3767h9M3384 3751h9M3448 3785h9M3433 3727h9M3358 3707h9M3476 3780h9M3259 3710h9M3463 3753h9M3352 3691h9M3411 3754h9M3483 3711h9M3474 3717h9M3400 3766h9M3431 3759h9M3487 3714h9M3370 3739h9M3427 3794h9M3473 3736h9M3323 3716h9M3496 3673h9M3297 3755h9M3481 3708h9M3428 3711h9M3422 3771h9M3515 3825h9M3587 3749h9M3415 3775h9M3470 3745h9M3516 3734h9M3374 3755h9M3402 3705h9M3499 3693h9M3302 3812h9M3517 3721h9M3465 3734h9M3365 3704h9M3312 3751h9M3570 3792h9M3456 3794h9M3457 3780h9M3592 3717h9M3461 3727h9M3377 3741h9M3562 3793h9M3389 3735h9M3638 3712h9M3432 3819h9M3423 3768h9M3436 3672h9M3504 3663h9M3288 3788h9M3514 3730h9M3541 3786h9M3484 3682h9M3332 3779h9M3435 3785h9M3345 3761h9M3253 3762h9M3479 3781h9M3241 3682h9M3366 3752h9M3608 3782h9M3298 3713h9M3584 3763h9M3302 3759h9M3504 3769h9M3446 3751h9M3545 3749h9M3553 3770h9M3516 3721h9M3516 3774h9M3385 3698h9M3490 3762h9M3363 3751h9M3656 3653h9M3484 3745h9M3450 3732h9M3487 3730h9M3392 3766h9M3644 3729h9M3520 3784h9M3329 3719h9M3361 3725h9M3549 3705h9M3576 3821h9M3361 3743h9M3521 3687h9M3236 3735h9M3347 3736h9M3358 3713h9M3374 3738h9M3533 3739h9M3486 3685h9M3605 3780h9M3608 3732h9M3363 3754h9M3324 3731h9M3415 3724h9M3276 3767h9M3294 3736h9M3416 3652h9M3506 3732h9M3620 3806h9M3347 3645h9M3432 3769h9M3414 3805h9M3447 3701h9M3408 3739h9M3546 3708h9M3439 3760h9M3399 3736h9M3527 3753h9M3513 3708h9M3285 3694h9M3390 3752h9M3388 3698h9M3386 3744h9M3386 3776h9M3493 3744h9M3366 3802h9M3472 3771h9M3489 3714h9M3393 3717h9M3518 3751h9M3261 3755h9M3267 3706h9M3566 3732h9M3404 3619h9M3500 3719h9M3420 3675h9M3327 3726h9M3225 3759h9M3502 3685h9M3331 3733h9M3427 3694h9M3416 3684h9M3260 3761h9M3472 3674h9M3429 3735h9M3590 3784h9M3581 3715h9M3542 3700h9M3323 3821h9M3331 3785h9M3375 3703h9M3626 3647h9M3433 3750h9M3347 3684h9M3325 3820h9M3231 3680h9M3387 3671h9M3506 3689h9M3375 3723h9M3335 3742h9M3271 3721h9M3509 3769h9M3284 3662h9M3638 3765h9M3214 3767h9M3455 3749h9M3587 3722h9M3491 3708h9M3588 3755h9M3561 3748h9M3286 3727h9M3418 3741h9M3335 3703h9M3361 3677h9M3451 3697h9M3566 3704h9M3231 3732h9M3547 3777h9M3340 3709h9M3387 3746h9M3368 3611h9M3530 3751h9M3299 3719h9M3368 3684h9M3440 3677h9M3403 3754h9M3510 3805h9M3435 3749h9M3483 3701h9M3218 3684h9M3228 3730h9M3582 3756h9M3664 3742h9M3696 3808h9M3504 3805h9M3378 3679h9M3479 3795h9M3502 3762h9M3437 3705h9M3499 3762h9M3381 3785h9M3615 3645h9M3474 3673h9M3386 3733h9M3504 3754h9M3506 3741h9M3352 3745h9M3392 3756h9M3420 3734h9M3252 3744h9M3375 3739h9M3388 3808h9M3567 3819h9M3370 3751h9M3414 3699h9M3488 3699h9M3671 3725h9M3505 3713h9M3414 3712h9M3577 3776h9M3482 3707h9M3440 3757h9M3340 3748h9M3245 3705h9M3376 3718h9M3618 3670h9M3450 3709h9M3318 3701h9M3278 3742h9M3470 3679h9M3452 3727h9M3141 3721h9M3351 3686h9M3298 3635h9M3308 3631h9M3488 3684h9M3506 3711h9M3443 3700h9M3376 3731h9M3382 3749h9M3293 3694h9M3272 3792h9M3584 3728h9M3463 3711h9M3398 3812h9M3459 3727h9M3384 3745h9M3489 3705h9M3403 3757h9M3439 3708h9M3452 3732h9M3406 3708h9M3466 3707h9M3306 3694h9M3413 3696h9M3294 3769h9M3270 3693h9M3530 3699h9M3377 3665h9M3422 3650h9M3505 3706h9M3482 3706h9M3283 3696h9M3565 3736h9M3402 3778h9M3246 3712h9M3522 3689h9M3464 3712h9M3569 3753h9M3448 3717h9M3360 3670h9M3323 3643h9M3402 3742h9M3642 3743h9M3588 3684h9M3355 3744h9M3350 3763h9M3517 3722h9M3377 3717h9M3337 3796h9M3429 3793h9M3327 3809h9M3380 3724h9M3490 3775h9M3582 3734h9M3323 3794h9M3412 3680h9M3293 3712h9M3193 3716h9M3370 3790h9M3510 3721h9M3180 3680h9M3376 3755h9M3243 3713h9M3270 3786h9M3377 3686h9M3436 3696h9M3370 3730h9M3361 3701h9M3592 3729h9M3358 3793h9M3477 3785h9M3362 3722h9M3476 3758h9M3385 3812h9M3311 3753h9M3402 3718h9M3413 3826h9M3356 3651h9M3543 3742h9M3473 3759h9M3626 3697h9M3393 3761h9M3399 3738h9M3294 3705h9M3510 3592h9M3467 3625h9M3677 3779h9M3594 3797h9M3335 3731h9M3332 3752h9M3399 3750h9M3375 3735h9M3338 3706h9M3346 3718h9M3476 3775h9M3335 3762h9M3338 3790h9M3424 3693h9M3412 3763h9M3429 3750h9M3424 3822h9M3536 3741h9M3473 3825h9M3467 3739h9M3327 3771h9M3366 3722h9M3667 3694h9M3537 3710h9M3272 3701h9M3363 3723h9M3389 3711h9M3403 3774h9M3509 3695h9M3431 3710h9M3545 3667h9M3485 3759h9M3388 3709h9M3463 3665h9M3352 3668h9M3473 3686h9M3389 3640h9M3362 3771h9M3468 3784h9M3131 3612h9M3609 3746h9M3282 3764h9M3478 3746h9M3481 3766h9M3494 3741h9M3482 3741h9M3439 3731h9M3399 3738h9M3503 3725h9M3417 3801h9M3620 3735h9M3353 3790h9M3266 3795h9M3563 3709h9M3415 3686h9M3448 3683h9M3281 3737h9M3361 3724h9M3396 3696h9M3447 3689h9M3475 3705h9M3551 3708h9M3495 3765h9M3414 3675h9M3501 3673h9M3466 3664h9M3380 3722h9M3361 3736h9M3482 3733h9M3444 3784h9M3501 3743h9M3366 3680h9M3358 3765h9M3435 3757h9M3279 3649h9M3436 3621h9M3389 3658h9M3430 3744h9M3286 3772h9M3455 3719h9M3316 3687h9M3387 3763h9M3409 3655h9M3239 3736h9M3390 3762h9M3474 3763h9M3545 3764h9M3457 3644h9M3496 3764h9M3481 3677h9M3473 3772h9M3472 3713h9M3209 3692h9M3617 3731h9M3531 3720h9M3305 3784h9M3480 3780h9M3437 3680h9M3581 3716h9M3463 3743h9M3520 3749h9M3573 3724h9M3540 3796h9M3400 3683h9M3417 3783h9M3461 3772h9M3428 3650h9M3335 3670h9M3227 3717h9M3541 3753h9M3471 3749h9M3392 3797h9M3510 3755h9M3200 3771h9M3548 3726h9M3250 3768h9M3380 3716h9M3389 3718h9M3316 3744h9M3560 3726h9M3305 3713h9M3405 3718h9M3459 3723h9M3424 3730h9M3298 3745h9M3526 3741h9M3441 3846h9M3466 3817h9M3346 3692h9M3271 3684h9M3326 3724h9M3447 3713h9M3426 3698h9M3327 3684h9M3380 3781h9M3171 3756h9M3497 3710h9M3485 3788h9M3349 3739h9M3373 3716h9M3419 3726h9M3357 3706h9M3548 3793h9M3463 3765h9M3391 3709h9M3449 3777h9M3451 3673h9M3526 3820h9M3467 3659h9M3451 3812h9M3400 3746h9M3398 3748h9M3203 3697h9M3387 3749h9M3439 3693h9M3392 3677h9M3332 3705h9M3458 3800h9M3392 3706h9M3432 3631h9M3497 3769h9M3328 3705h9M3610 3731h9M3375 3699h9M3600 3724h9M3343 3744h9M3616 3686h9M3235 3795h9M3430 3777h9M3516 3676h9M3261 3781h9M3364 3744h9M3312 3762h9M3342 3685h9M3542 3758h9M3411 3774h9M3289 3772h9M3579 3757h9M3399 3691h9M3440 3683h9M3448 3716h9M3408 3739h9M3326 3729h9M3438 3663h9M3586 3719h9M3408 3770h9M3508 3647h9M3626 3797h9M3376 3752h9M3483 3687h9M3449 3742h9M3591 3636h9M3390 3685h9M3571 3687h9M3319 3692h9M3440 3740h9M3468 3713h9M3416 3694h9M3349 3700h9M3310 3815h9M3426 3729h9M3387 3718h9M3597 3804h9M3378 3725h9M3626 3681h9M3435 3759h9M3361 3770h9M3277 3759h9M3587 3681h9M3483 3797h9M3381 3731h9M3418 3671h9M3424 3802h9M3417 3785h9M3113 3722h9M3176 3679h9M3453 3788h9M3380 3792h9M3419 3719h9M3270 3677h9M3351 3724h9M3612 3803h9M3542 3733h9M3477 3783h9M3278 3723h9M3514 3685h9M3598 3749h9M3465 3740h9M3382 3748h9M3384 3706h9M3417 3785h9M3318 3762h9M3537 3722h9M3385 3752h9M3361 3659h9M3581 3670h9M3362 3697h9M3409 3765h9M3376 3715h9M3458 3702h9M3478 3781h9M3477 3808h9M3495 3755h9M3145 3705h9M3529 3676h9M3403 3764h9M3545 3736h9M3426 3745h9M3212 3738h9M3335 3716h9M3276 3646h9M3400 3748h9M3466 3668h9M3339 3684h9M3464 3767h9M3479 3750h9M3599 3724h9M3412 3769h9M3280 3677h9M3431 3807h9M3327 3732h9M3349 3758h9M3470 3732h9M3362 3713h9M3246 3682h9M3481 3617h9M3583 3687h9M3473 3794h9M3134 3665h9M3334 3728h9M3543 3808h9M3381 3787h9M3404 3714h9M3528 3692h9M3288 3778h9M3458 3730h9M3453 3643h9M3490 3808h9M3427 3755h9M3452 3782h9M3497 3636h9M3515 3772h9M3221 3720h9M3526 3790h9M3364 3839h9M3484 3735h9M3483 3755h9M3524 3689h9M3500 3752h9M3749 3750h9M3414 3704h9M3454 3722h9M3285 3678h9M3406 3715h9M3593 3771h9M3440 3773h9M3403 3685h9M3250 3734h9M3485 3774h9M3158 3692h9M3431 3721h9M3208 3727h9M3387 3769h9M3310 3797h9M3315 3802h9M3426 3769h9M3401 3680h9M3566 3714h9M3543 3692h9M3334 3725h9M3569 3709h9M3674 3733h9M3600 3670h9M3399 3771h9M3566 3716h9M3675 3690h9M3466 3796h9M3539 3747h9M3556 3705h9M3534 3674h9M3335 3777h9M3533 3724h9M3325 3724h9M3369 3798h9M3690 3696h9M3478 3751h9M3498 3749h9M3531 3639h9M3383 3706h9M3395 3678h9M3378 3714h9M3486 3746h9M3320 3680h9M3262 3707h9M3369 3707h9M3510 3738h9M3523 3744h9M3477 3773h9M3541 3838h9M3431 3710h9M3248 3775h9M3617 3734h9M3400 3693h9M3434 3626h9M3514 3698h9M3487 3806h9M3251 3715h9M3331 3688h9M3531 3770h9M3495 3752h9M3392 3741h9M3520 3768h9M3394 3751h9M3366 3670h9M3635 3734h9M3432 3701h9M3446 3710h9M3511 3793h9M3379 3697h9M3428 3737h9M3390 3672h9M3467 3736h9M3427 3706h9M3435 3723h9M3343 3735h9M3411 3746h9M3410 3750h9M3270 3730h9M3263 3798h9M3425 3752h9M3402 3741h9M3456 3718h9M3270 3695h9M3461 3758h9M3389 3700h9M3422 3704h9M3479 3645h9M3302 3768h9M3447 3828h9M3322 3784h9M3458 3802h9M3594 3691h9M3358 3710h9M3691 3758h9M3310 3658h9M3483 3744h9M3386 3743h9M3255 3737h9M3473 3748h9M3364 3740h9M3389 3634h9M3182 3766h9M3320 3761h9M3342 3752h9M3579 3829h9M3408 3803h9M3480 3596h9M3172 3756h9M3566 3720h9M3425 3701h9M3351 3780h9M3411 3705h9M3493 3704h9M3465 3712h9M3470 3721h9M3249 3773h9M3518 3733h9M3379 3784h9M3335 3746h9M3488 3757h9M3411 3715h9M3632 3696h9M3241 3666h9M3433 3696h9M3511 3777h9M3237 3654h9M3397 3737h9M3294 3707h9M3230 3756h9M3572 3738h9M3470 3755h9M3561 3775h9M3505 3769h9M3294 3754h9M3359 3753h9M3443 3736h9M3499 3743h9M3406 3814h9M3452 3755h9M3413 3710h9M3359 3737h9M3440 3760h9M3394 3786h9M3538 3633h9M3282 3713h9M3446 3753h9M3473 3719h9M3606 3677h9M3384 3702h9M3446 3745h9M3434 3750h9M3430 3783h9M3373 3709h9M3487 3745h9M3475 3731h9M3291 3743h9M3354 3761h9M3467 3734h9M3385 3770h9M3426 3671h9M3534 3809h9M3530 3745h9M3349 3718h9M3510 3767h9M3445 3774h9M3627 3735h9M3504 3755h9M3503 3786h9M3373 3688h9M3388 3708h9M3364 3762h9M3526 3694h9M3201 3649h9M3421 3725h9M3311 3732h9M3526 3730h9M3488 3646h9M3482 3706h9M3440 3665h9M3350 3693h9M3321 3735h9M3404 3725h9M3548 3750h9M3468 3757h9M3450 3775h9M3484 3715h9M3404 3757h9M3352 3731h9M3429 3721h9M3418 3749h9M3539 3805h9M3478 3759h9M3529 3666h9M3302 3762h9M3474 3710h9M3507 3702h9M3312 3745h9M3470 3759h9M3717 3712h9M3519 3707h9M3420 3730h9M3593 3721h9M3258 3614h9M3564 3736h9M3547 3718h9M3311 3697h9M3548 3696h9M3487 3777h9M3252 3789h9M3462 3741h9M3437 3771h9M3389 3769h9M3453 3752h9M3382 3784h9M3504 3705h9M3440 3720h9M3477 3765h9M3249 3751h9M3542 3751h9M3425 3763h9M3338 3709h9M3364 3686h9M3465 3742h9M3474 3767h9M3390 3732h9M3309 3690h9M3285 3770h9M3465 3688h9M3387 3684h9M3224 3770h9M3467 3794h9M3421 3726h9M3368 3700h9M3379 3697h9M3393 3740h9M3373 3804h9M3396 3777h9M3610 3712h9M3563 3753h9M3326 3716h9M3134 3701h9M3465 3703h9M3424 3717h9M3388 3724h9M3388 3716h9M3495 3819h9M3366 3731h9M3396 3707h9M3469 3736h9M3573 3777h9M3375 3669h9M3462 3766h9M3497 3735h9M3369 3733h9M3322 3745h9M3512 3716h9M3053 3756h9M3209 3748h9M3275 3635h9M3324 3732h9M3576 3769h9M3463 3754h9M3688 3679h9M3806 3830h9M3447 3693h9M3753 3720h9M3443 3737h9M3460 3715h9M3520 3751h9M3313 3781h9M3518 3714h9M3314 3776h9M3030 3753h9M3435 3661h9M3278 3824h9M3572 3684h9M3333 3717h9M3228 3695h9M3366 3715h9M3792 3845h9M3449 3727h9M3036 3700h9M3230 3750h9M3769 3751h9M3483 3736h9M3329 3769h9M3163 3716h9M3104 3722h9M3198 3783h9M3173 3680h9M3361 3804h9M3392 3733h9M3548 3740h9M3584 3782h9M3399 3640h9M3468 3775h9M3676 3695h9M3171 3752h9M3382 3744h9M3249 3733h9M3372 3599h9M3653 3708h9M3363 3638h9M3277 3669h9M3271 3704h9M3829 3755h9M3711 3657h9M3308 3671h9M3515 3822h9M3397 3634h9M3329 3794h9M3754 3711h9M3359 3670h9M3694 3688h9M3494 3747h9M3252 3691h9M2949 3714h9M3494 3775h9M3408 3738h9M2971 3657h9M3199 3706h9M3005 3693h9M3293 3739h9M3370 3654h9M3137 3787h9M3121 3747h9M3737 3822h9M3012 3728h9M3250 3686h9M3584 3741h9M3696 3658h9M3359 3808h9M3270 3761h9M3679 3580h9M3327 3699h9M3080 3698h9M3307 3855h9M3112 3707h9M3629 3879h9M3022 3767h9M3186 3824h9M3558 3753h9M3660 3744h9M3355 3759h9M2965 3730h9M3643 3572h9M3524 3735h9M3528 3721h9M3713 3668h9M3773 3726h9M3170 3775h9M3266 3839h9M3260 3659h9M3364 3591h9M3017 3759h9M3233 3731h9M3366 3768h9M3209 3771h9M3661 3725h9M3522 3722h9M3230 3746h9M3294 3687h9M3323 3717h9M3606 3807h9M3169 3798h9M3049 3662h9M3289 3791h9M3848 3735h9M3482 3767h9M3407 3760h9M3579 3639h9M3115 3748h9M3478 3768h9M3768 3777h9M3131 3650h9M3576 3815h9M3173 3734h9M3030 3830h9M3431 3792h9M3142 3750h9M3695 3750h9M2967 3685h9M3291 3767h9M3465 3792h9M3351 3658h9M3650 3759h9M2964 3727h9M3062 3878h9M3321 3737h9M3638 3658h9M3559 3728h9M3492 3649h9M3511 3645h9M3402 3759h9M3528 3790h9M2950 3841h9M3338 3742h9M3646 3845h9M3173 3737h9M3436 3819h9M3483 3870h9M3587 3702h9M3226 3728h9M3382 3697h9M3454 3793h9M3303 3799h9M3570 3761h9M3773 3824h9M3087 3753h9M3537 3671h9M2989 3729h9M3137 3724h9M3063 3778h9M3087 3652h9M3305 3740h9M3107 3758h9M3077 3841h9M3492 3765h9M3411 3742h9M2977 3755h9M3561 3684h9M3434 3669h9M3617 3740h9M3797 3788h9M3250 3750h9M3261 3676h9M3230 3684h9M3507 3827h9M3125 3764h9M3621 3631h9M3200 3639h9M3014 3684h9M3577 3794h9M3250 3675h9M3781 3735h9M3319 3844h9M3323 3658h9M3654 3705h9M2987 3795h9M3146 3700h9M3544 3807h9M3633 3816h9M3367 3687h9M3501 3645h9M3747 3708h9M3009 3754h9M3680 3771h9M3067 3826h9M3500 3736h9M3348 3801h9M3506 3738h9M3436 3749h9M3407 3733h9M3432 3821h9M3108 3629h9M3174 3759h9M3270 3736h9M3560 3756h9M3503 3783h9M3514 3708h9M3268 3727h9M3101 3710h9M3102 3694h9M3706 3644h9M3472 3766h9M3631 3710h9M3439 3723h9M3433 3753h9M3600 3731h9M3232 3689h9M3092 3734h9M3532 3711h9M3502 3806h9M3188 3800h9M3436 3678h9M3155 3750h9M3349 3773h9M3669 3666h9M3197 3850h9M3583 3723h9M3289 3735h9M3575 3716h9M3497 3699h9M3233 3806h9M3452 3775h9M3041 3781h9M3431 3792h9M3784 3804h9M3133 3670h9M3452 3750h9M3467 3676h9M3082 3737h9M3777 3676h9M3475 3761h9M3292 3569h9M3524 3612h9M3336 3642h9M3168 3791h9M3182 3678h9M3378 3722h9M3408 3734h9M3378 3833h9M3108 3748h9M3339 3778h9M3472 3728h9M3693 3634h9M3277 3685h9M3112 3692h9M3381 3679h9M3473 3703h9M3527 3681h9M3404 3684h9M3663 3730h9M3443 3837h9M3427 3689h9M3329 3705h9M3550 3845h9M3838 3727h9M3387 3802h9M3568 3593h9M3153 3706h9M3197 3738h9M3508 3663h9M3601 3735h9M3558 3846h9M3252 3620h9M3254 3731h9M3257 3721h9M3112 3766h9M3751 3781h9M3133 3738h9M3493 3675h9M3356 3685h9M3807 3788h9M3433 3614h9M3555 3666h9M3624 3809h9M3697 3738h9M3143 3754h9M3478 3545h9M3191 3776h9M3285 3814h9M3404 3766h9M3511 3765h9M3729 3718h9M3126 3650h9M3418 3661h9M3101 3750h9M3290 3724h9M3837 3758h9M3241 3734h9M3097 3743h9M3517 3821h9M3492 3743h9M3469 3750h9M3279 3620h9M3250 3761h9M3538 3746h9M3331 3702h9M3293 3657h9M3415 3762h9M3135 3670h9M3201 3734h9M3567 3694h9M3233 3682h9M3435 3745h9M3586 3808h9M3505 3720h9M3242 3751h9M3332 3758h9M3598 3697h9M3532 3741h9M2995 3787h9M3360 3695h9M3542 3793h9M3117 3723h9M3031 3716h9M3431 3744h9M3369 3823h9M3590 3753h9M3453 3735h9M3229 3683h9M3337 3770h9M3222 3616h9M3546 3720h9M3568 3749h9M3098 3672h9M3253 3603h9M3276 3655h9M3406 3781h9M3791 3706h9M3778 3757h9M3020 3807h9M3239 3771h9M3504 3721h9M3287 3780h9M3208 3680h9M3699 3728h9M3800 3651h9M3369 3739h9M3148 3819h9M3372 3628h9M3531 3648h9M3417 3764h9M3407 3704h9M3221 3778h9M3679 3784h9M3345 3666h9M3162 3605h9M3517 3726h9M3420 3688h9M3139 3771h9M3586 3731h9M3347 3775h9M3369 3719h9M3519 3723h9M3448 3771h9M3224 3810h9M3612 3636h9M3596 3630h9M3744 3795h9M2943 3704h9M3798 3751h9M3101 3749h9M3440 3807h9M3675 3739h9M3343 3795h9M3398 3713h9M3104 3668h9M3214 3669h9M3061 3725h9M3098 3743h9M3410 3751h9M3043 3776h9M3076 3703h9M3470 3684h9M3436 3811h9M3135 3686h9M3365 3641h9M3350 3807h9M3156 3750h9M3121 3723h9M3215 3809h9M3595 3639h9M3546 3871h9M3794 3677h9M3538 3704h9M3265 3837h9M3433 3736h9M3390 3670h9M3042 3718h9M3451 3733h9M3798 3778h9M3265 3725h9M3581 3668h9M3185 3714h9M3496 3755h9M3549 3618h9M3417 3798h9M3523 3737h9M3290 3717h9M3115 3731h9M3699 3735h9M3773 3717h9M3254 3806h9M3093 3711h9M3025 3735h9M3137 3689h9M3187 3699h9M3567 3810h9M3688 3682h9M3448 3722h9M3425 3757h9M3304 3709h9M3201 3707h9M3499 3643h9M3821 3797h9M3167 3800h9M3518 3676h9M3170 3759h9M3184 3747h9M3270 3824h9M3046 3823h9M3212 3749h9M3061 3668h9M3304 3785h9M3539 3609h9M3510 3839h9M3789 3634h9M3457 3810h9M3608 3698h9M3472 3760h9M3264 3746h9M3425 3696h9M3301 3698h9M3787 3754h9M3641 3759h9M3650 3708h9M3454 3665h9M3467 3752h9M3102 3766h9M3177 3708h9M3297 3655h9M2973 3802h9M3341 3750h9M3457 3725h9M3541 3871h9M3247 3737h9M3555 3759h9M3736 3755h9M3277 3784h9M2984 3741h9M3469 3850h9M3215 3725h9M3375 3657h9M3338 3715h9M3263 3749h9M3566 3748h9M3296 3777h9M3734 3781h9M3456 3768h9M3267 3795h9M3470 3724h9M3248 3756h9M3056 3707h9M3020 3824h9M3795 3762h9M3127 3728h9M3841 3781h9M3691 3880h9M3492 3719h9M3405 3786h9M3689 3761h9M3416 3777h9M3017 3744h9M3474 3807h9M3145 3704h9M3123 3830h9M3459 3787h9M3634 3732h9M3529 3726h9M3480 3750h9M3469 3766h9M3681 3665h9M3457 3831h9M3474 3668h9M3417 3734h9M3361 3769h9M3226 3758h9M3728 3717h9M3530 3826h9M3533 3710h9M3504 3728h9M3562 3710h9M3797 3828h9M3420 3771h9M3488 3731h9M3155 3813h9M3655 3691h9M3496 3700h9M3117 3772h9M3388 3737h9M3456 3773h9M3565 3693h9M3423 3781h9M3069 3753h9M3081 3737h9M3592 3756h9M3395 3742h9M3143 3807h9M3111 3627h9M3283 3687h9M3508 3716h9M3113 3671h9M3082 3640h9M3363 3832h9M3147 3682h9M3306 3720h9M3358 3813h9M3348 3733h9M3374 3667h9M3112 3600h9M3200 3688h9M3350 3795h9M3821 3730h9M3399 3834h9M3566 3761h9M3160 3702h9M3579 3794h9M3417 3817h9M3794 3626h9M3311 3707h9M3172 3691h9M3582 3681h9M3294 3804h9M3764 3837h9M3687 3722h9M3378 3814h9M3280 3782h9M3246 3798h9M3585 3661h9M3277 3709h9M3608 3720h9M3444 3663h9M3728 3807h9M3026 3741h9M3048 3725h9M3427 3748h9M3243 3704h9M3508 3703h9M3774 3729h9M3344 3775h9M3297 3797h9M3610 3754h9M3080 3730h9M3323 3753h9M3445 3723h9M3362 3729h9M3166 3722h9M3212 3736h9M3045 3846h9M3668 3756h9M3249 3767h9M3295 3799h9M3412 3733h9M3451 3664h9M3328 3788h9M3763 3704h9M3535 3640h9M3707 3729h9M3795 3731h9M3426 3672h9M3570 3752h9M3202 3772h9M3262 3833h9M3527 3735h9M3334 3845h9M3408 3764h9M3116 3782h9M3410 3691h9M3130 3799h9M3386 3773h9M3575 3828h9M3736 3709h9M3319 3613h9M3386 3752h9M2965 3735h9M3385 3729h9M3416 3665h9M3379 3861h9M3355 3702h9M3303 3824h9M3017 3848h9M3229 3766h9M3574 3683h9M3292 3781h9M3344 3639h9M3497 3663h9M3506 3731h9M2977 3786h9M3417 3802h9M3402 3692h9M3072 3702h9M3376 3749h9M3094 3786h9M3307 3623h9M3513 3684h9M3078 3671h9M3349 3710h9M3265 3731h9M3534 3692h9M3225 3739h9M3458 3770h9M3746 3581h9M3659 3755h9M3654 3677h9M3416 3821h9M3776 3808h9M3448 3678h9M3346 3611h9M3274 3656h9M3287 3713h9M3503 3773h9M3480 3759h9M3447 3831h9M3319 3704h9M3122 3740h9M3582 3841h9M3307 3785h9M3317 3785h9M3062 3761h9M3543 3623h9M3316 3674h9M3407 3758h9M3401 3774h9M3449 3771h9M3315 3777h9M3056 3777h9M3210 3718h9M3433 3752h9M3649 3708h9M3458 3667h9M3014 3832h9M3337 3778h9M3396 3653h9M3612 3784h9M3608 3831h9M3331 3743h9M3208 3711h9M3185 3685h9M3239 3742h9M3170 3698h9M3172 3648h9M3167 3722h9M3474 3795h9M3587 3724h9M3267 3717h9M3352 3662h9M3518 3733h9M3315 3677h9M3708 3830h9M3094 3840h9M3297 3778h9M3642 3730h9M3655 3747h9M3657 3857h9M3144 3743h9M3130 3616h9M3115 3759h9M3600 3772h9M3440 3724h9M3168 3734h9M3298 3601h9M3645 3703h9M2997 3767h9M3468 3843h9M3230 3679h9M3648 3710h9M3667 3764h9M2948 3663h9M3041 3811h9M3562 3767h9M3029 3751h9M3349 3800h9M3502 3670h9M3347 3660h9M3257 3691h9M3225 3737h9M3700 3789h9M3135 3707h9M2979 3601h9M3124 3732h9M3071 3753h9M3419 3770h9M3309 3721h9M3183 3802h9M3398 3798h9M3133 3737h9M3347 3664h9M3232 3625h9M3122 3864h9M3384 3645h9M3552 3802h9M3617 3743h9M3142 3747h9M3298 3654h9M3112 3708h9M3633 3719h9M3177 3814h9M3160 3781h9M3386 3697h9M3654 3779h9M3586 3735h9M3330 3530h9M3285 3715h9M3349 3803h9M3697 3623h9M3848 3665h9M3338 3678h9M3190 3659h9M3268 3825h9M3054 3799h9M3497 3781h9M3505 3788h9M3577 3669h9M2971 3797h9M3514 3836h9M3394 3722h9M3125 3614h9M3457 3828h9M3332 3784h9M3598 3634h9M3453 3664h9M3426 3770h9M3301 3730h9M3672 3862h9M3108 3710h9M3173 3667h9M3509 3695h9M3681 3806h9M3343 3668h9M3394 3731h9M3195 3812h9M3331 3666h9M3536 3641h9M3668 3719h9M3758 3739h9M2967 3692h9M3450 3700h9M3311 3765h9M2968 3701h9M3069 3733h9M3545 3722h9M3088 3698h9M3222 3754h9M3500 3751h9M3541 3673h9M3059 3637h9M3574 3741h9M3100 3772h9M3242 3696h9M3102 3740h9M3445 3743h9M3291 3717h9M3326 3707h9M3224 3745h9M3244 3713h9M3236 3674h9M3372 3741h9M3656 3822h9M3359 3741h9M3235 3732h9M3097 3700h9M3374 3769h9M3184 3698h9M3599 3715h9M3431 3786h9M3385 3707h9M3697 3708h9M3443 3675h9M3811 3701h9M3786 3709h9M3289 3648h9M3057 3734h9M3591 3689h9M3343 3783h9M3338 3692h9M3391 3723h9M3264 3776h9M3420 3661h9M3480 3736h9M3652 3783h9M3332 3767h9M3751 3822h9M3493 3736h9M3177 3758h9M3548 3744h9M3217 3739h9M3316 3727h9M3314 3779h9M3143 3744h9M3160 3772h9M3457 3744h9M3601 3768h9M3679 3651h9M3383 3691h9M3726 3763h9M3300 3788h9M3339 3742h9M3304 3800h9M3391 3812h9M3174 3741h9M3140 3786h9M3342 3673h9M3579 3787h9M3371 3695h9M3454 3830h9M3140 3634h9M3366 3654h9M2952 3750h9M3487 3783h9M3472 3772h9M3402 3824h9M3294 3696h9M3771 3774h9M3361 3744h9M3240 3686h9M3501 3708h9M3189 3703h9M3534 3819h9M3368 3679h9M3232 3719h9M3548 3741h9M3569 3656h9M3463 3837h9M3485 3717h9M3463 3793h9M3462 3797h9M2983 3753h9M3446 3759h9M3375 3728h9M3473 3663h9M3239 3720h9M3469 3732h9M3198 3788h9M3451 3742h9M3499 3745h9M3696 3727h9M3126 3759h9M3514 3783h9M3532 3729h9M3775 3700h9M3213 3776h9M3207 3805h9M3158 3747h9M3428 3708h9M3451 3735h9M3258 3660h9M3214 3630h9M3817 3715h9M3692 3728h9M3764 3701h9M3202 3689h9M3406 3684h9M3024 3823h9M3720 3697h9M3612 3600h9M3439 3852h9M3673 3751h9M3772 3715h9M3422 3739h9M3548 3777h9M3049 3745h9M3215 3721h9M3680 3733h9M3236 3744h9M3355 3741h9M3607 3738h9M3286 3725h9M3129 3820h9M3552 3629h9M3360 3810h9M2979 3715h9M3844 3761h9M3589 3680h9M3788 3770h9M3741 3681h9M3253 3683h9M3486 3682h9M3412 3826h9M3604 3701h9M3521 3681h9M3595 3669h9M3576 3796h9M3060 3794h9M3735 3830h9M3763 3780h9M3580 3704h9M3663 3779h9M3417 3677h9M3576 3751h9M3171 3834h9M3509 3717h9M3282 3821h9M3314 3721h9M3260 3798h9M3757 3807h9M3027 3762h9M3786 3730h9M3371 3740h9M3049 3721h9M3373 3757h9M3441 3745h9M3318 3858h9M3745 3789h9M3482 3831h9M3218 3792h9M3616 3738h9M2981 3655h9M3749 3679h9M3603 3734h9M3314 3764h9M3757 3790h9M3750 3684h9M3272 3815h9M3421 3726h9M3043 3718h9M3287 3775h9M3391 3641h9M3062 3654h9M3078 3707h9M3493 3739h9M3239 3714h9M3198 3725h9M3228 3746h9M3136 3716h9M3464 3685h9M3277 3770h9M3337 3720h9M3343 3745h9M3338 3845h9M3004 3810h9M3351 3717h9M3417 3735h9M3059 3757h9M3523 3673h9M3565 3743h9M3537 3766h9M3409 3840h9M3380 3649h9M3586 3639h9M3395 3718h9M3252 3782h9M2947 3728h9M3343 3714h9M3624 3717h9M3164 3713h9M3468 3590h9M3346 3740h9M3060 3613h9M3682 3781h9M2955 3687h9M3145 3713h9M3045 3766h9M3394 3784h9M3347 3825h9M3092 3775h9M3531 3728h9M3474 3714h9M3017 3720h9M3593 3600h9M3786 3649h9M3546 3661h9M3540 3686h9M3425 3739h9M3384 3758h9M3344 3714h9M3695 3708h9M3355 3767h9M3167 3710h9M3395 3736h9M3335 3706h9M3437 3769h9M3011 3685h9M3347 3744h9M3569 3759h9M3245 3674h9M3459 3691h9M3112 3781h9M3199 3708h9M3417 3596h9M3398 3789h9M3396 3751h9M3257 3681h9M3694 3766h9M3405 3698h9M3215 3732h9M3377 3716h9M3021 3762h9M3438 3684h9M3558 3771h9M3125 3733h9M2950 3575h9M3590 3732h9M3683 3745h9M3453 3757h9M3522 3771h9M3089 3759h9M3767 3695h9M3542 3682h9M3632 3723h9M3221 3757h9M3651 3647h9M3309 3748h9M3445 3687h9M3360 3693h9M3613 3756h9M3785 3694h9M3184 3749h9M3682 3750h9M3309 3634h9M3285 3750h9M3668 3651h9M3518 3756h9M2983 3702h9M3326 3695h9M3249 3652h9M3264 3683h9M3307 3704h9M3424 3738h9M3380 3722h9M3032 3722h9M3700 3733h9M3389 3763h9M3389 3698h9M3301 3677h9M3111 3733h9M3250 3669h9M3420 3769h9M3335 3700h9M3851 3742h9M3242 3790h9M3765 3658h9M3088 3717h9M3541 3665h9M3705 3748h9M3819 3741h9M3505 3785h9M3270 3666h9M3300 3641h9M3040 3729h9M3476 3787h9M3728 3693h9M3014 3819h9M3410 3741h9M3005 3669h9M3560 3692h9M3694 3674h9M3720 3657h9M2979 3717h9M3201 3689h9M3517 3780h9M3062 3784h9M3734 3809h9M3343 3708h9M3369 3754h9M3155 3645h9M3428 3752h9M3398 3658h9M3475 3791h9M3242 3644h9M3082 3701h9M3539 3629h9M3216 3689h9M3352 3714h9M3119 3784h9M3687 3788h9M3507 3781h9M3501 3743h9M2948 3745h9M3508 3703h9M3611 3737h9M3090 3797h9M3160 3758h9M3097 3660h9M3504 3696h9M3267 3714h9M3447 3828h9M3297 3748h9M3298 3835h9M3431 3687h9M3240 3833h9M3412 3852h9M3153 3781h9M3327 3738h9M3439 3788h9M3346 3762h9M3226 3708h9M3535 3786h9M3413 3841h9M3190 3661h9M3672 3764h9M3226 3830h9M2971 3698h9M3586 3817h9M3808 3711h9M3409 3770h9M3632 3715h9M3376 3644h9M3686 3686h9M3549 3757h9M3493 3723h9M3582 3779h9M3154 3737h9M3459 3684h9M3487 3807h9M3726 3724h9M3603 3736h9M3435 3708h9M3182 3785h9M3741 3752h9M3152 3647h9M3579 3780h9M3741 3724h9M3263 3705h9M3674 3852h9M3188 3715h9M3328 3784h9M3214 3796h9M3545 3756h9M3657 3688h9M3212 3830h9M3387 3701h9M3334 3682h9M3630 3696h9M3635 3790h9M3387 3858h9M3433 3768h9M3644 3700h9M3102 3764h9M3208 3670h9M3157 3794h9M3397 3764h9M3617 3745h9M3281 3789h9M3294 3698h9M3215 3705h9M3352 3737h9M3557 3712h9M3396 3717h9M3421 3812h9M3301 3644h9M3644 3769h9M3532 3604h9M3125 3762h9M3362 3724h9M3678 3676h9M3272 3755h9M3182 3697h9M3347 3699h9M3339 3804h9M3075 3702h9M3234 3721h9M3516 3837h9M2997 3698h9M3485 3732h9M3304 3829h9M3449 3709h9M3443 3743h9M3576 3777h9M3507 3736h9M3501 3739h9M3138 3750h9M3041 3747h9M3223 3841h9M3571 3725h9M3327 3801h9M3184 3834h9M3787 3786h9M3323 3787h9M3359 3639h9M3188 3814h9M3385 3715h9M3776 3779h9M3618 3768h9M3097 3741h9M3029 3809h9M3207 3875h9M3081 3676h9M3674 3630h9M3364 3753h9M3510 3735h9M3356 3696h9M3518 3718h9M3330 3634h9M3561 3742h9M3331 3746h9M3756 3582h9M3632 3714h9M3292 3770h9M3603 3659h9M3722 3698h9M3779 3731h9M3459 3831h9M3216 3763h9M3021 3717h9M2986 3756h9M3290 3561h9M3534 3805h9M3575 3781h9M3259 3711h9M3398 3746h9M3592 3851h9M3697 3718h9M3443 3662h9M3298 3757h9M3204 3721h9M3715 3805h9M3733 3629h9M3351 3688h9M3347 3756h9M3534 3772h9M3681 3782h9M3743 3657h9M3120 3748h9M3557 3640h9M3300 3774h9M3605 3762h9M3167 3788h9M3281 3785h9M2996 3763h9M3367 3713h9M3550 3756h9M3408 3756h9M3153 3754h9M3101 3666h9M3397 3751h9M3165 3671h9M3074 3703h9M3200 3833h9M3042 3720h9M3648 3748h9M3375 3821h9M3686 3807h9M3261 3779h9M3555 3697h9M3614 3751h9M3245 3745h9M3459 3741h9M3347 3625h9M3315 3730h9M3345 3774h9M3458 3717h9M3043 3686h9M3219 3703h9M3491 3767h9M3400 3669h9M3220 3759h9M3827 3693h9M3191 3693h9M3333 3773h9M3185 3700h9M3234 3826h9M3369 3800h9M3662 3730h9M3456 3719h9M3298 3653h9M3169 3698h9M3554 3707h9M3120 3754h9M3211 3710h9M3126 3781h9M3261 3750h9M3091 3700h9M3807 3809h9M3614 3716h9M3262 3811h9M3255 3657h9M3201 3748h9M3338 3721h9M3392 3852h9M3479 3762h9M3113 3705h9M3652 3764h9M3530 3721h9M3002 3718h9M3281 3839h9M3102 3696h9M3234 3786h9M3206 3731h9M3298 3772h9M3294 3749h9M3095 3708h9M3393 3692h9M3531 3730h9M3268 3786h9M3535 3738h9M3498 3763h9M3151 3783h9M3105 3805h9M3213 3756h9M3339 3773h9M3287 3712h9M3301 3751h9M3689 3671h9M3246 3748h9M3386 3706h9M3314 3726h9M3146 3668h9M3096 3646h9M3338 3786h9M3690 3695h9M3471 3671h9M3353 3714h9M3802 3705h9M3211 3672h9M3090 3779h9M3748 3690h9M3042 3690h9M2974 3717h9M3735 3673h9M3352 3752h9M2979 3718h9M3017 3758h9M3408 3722h9M3390 3690h9M3520 3747h9M3492 3732h9M3546 3702h9M3256 3770h9M3064 3630h9M3525 3792h9M3523 3861h9M3388 3626h9M3227 3605h9M3294 3742h9M3755 3839h9M3411 3815h9M3571 3700h9M3209 3631h9M3290 3715h9M3146 3728h9M3202 3846h9M2979 3793h9M3202 3710h9M3458 3606h9M3217 3769h9M2983 3643h9M2953 3706h9M3181 3748h9M3693 3631h9M3154 3680h9M3765 3706h9M3100 3626h9M3433 3650h9M3134 3771h9M3378 3738h9M3468 3680h9M3046 3700h9M3098 3782h9M3488 3729h9M3431 3705h9M3292 3783h9M2954 3745h9M3653 3677h9M3332 3732h9M3292 3778h9M3444 3734h9M3280 3663h9M3525 3717h9M3185 3713h9M3828 3688h9M3600 3666h9M3094 3826h9M3072 3735h9M3769 3622h9M3307 3741h9M3202 3769h9M3435 3718h9M3481 3714h9M3807 3780h9M3424 3648h9M3175 3774h9M3422 3803h9M3266 3629h9M2975 3751h9M3547 3723h9M3457 3745h9M3568 3680h9M3125 3681h9M3380 3739h9M2991 3738h9M3501 3686h9M3435 3668h9M3415 3662h9M3396 3643h9M2942 3781h9M3362 3687h9M3615 3604h9M3557 3752h9M3242 3740h9M3661 3767h9M3379 3753h9M3687 3685h9M3540 3650h9M3757 3768h9M3210 3764h9M3253 3748h9M3091 3773h9M3446 3740h9M3479 3707h9M3427 3762h9M3182 3698h9M3829 3698h9M3402 3675h9M3014 3803h9M3647 3665h9M3386 3716h9M3381 3725h9M3637 3750h9M3677 3713h9M3783 3746h9M3264 3673h9M3185 3759h9M3598 3695h9M3206 3847h9M3398 3780h9M3356 3670h9M3252 3639h9M3213 3683h9M3204 3675h9M2957 3736h9M3465 3740h9M3712 3800h9M3323 3755h9M3472 3789h9M3246 3844h9M3396 3810h9M3161 3716h9M3073 3733h9M3260 3698h9M3582 3707h9M3449 3670h9M2994 3857h9M3539 3761h9M3134 3761h9M3391 3736h9M3674 3827h9M3563 3686h9M3188 3744h9M3064 3700h9M3140 3765h9M3663 3746h9M3631 3722h9M3409 3759h9M3255 3770h9M3226 3667h9M3473 3785h9M3770 3632h9M3523 3825h9M3558 3715h9M3075 3726h9M2953 3736h9M3746 3747h9M3369 3723h9M3182 3788h9M2961 3677h9M3335 3645h9M3597 3821h9M3742 3792h9M3150 3776h9M3547 3751h9M3206 3582h9M3526 3724h9M3590 3646h9M3110 3652h9M3355 3768h9M3352 3826h9M3678 3772h9M3672 3699h9M3443 3820h9M3201 3791h9M3829 3791h9M3385 3687h9M3707 3752h9M3404 3822h9M3200 3759h9M3677 3629h9M3525 3786h9M3016 3829h9M3496 3709h9M3401 3714h9M3597 3816h9M3456 3705h9M3271 3739h9M3407 3701h9M3771 3612h9M3517 3833h9M3225 3851h9M3291 3782h9M3500 3679h9M3485 3747h9M3678 3767h9M3326 3786h9M3365 3750h9M3429 3710h9M2994 3696h9M3529 3767h9M3356 3745h9M3584 3704h9M3513 3766h9M3481 3760h9M3505 3754h9M3441 3747h9M3349 3757h9M3294 3738h9M3354 3756h9M3431 3690h9M3721 3657h9M3343 3751h9M3369 3789h9M3497 3825h9M2971 3760h9M3593 3751h9M2951 3794h9M3579 3663h9M3547 3635h9M3555 3741h9M3366 3734h9M3228 3702h9M3553 3629h9M3545 3745h9M3734 3770h9M3327 3782h9M3210 3770h9M3493 3722h9M3687 3711h9M3490 3794h9M3321 3697h9M3376 3694h9M3761 3766h9M3611 3721h9M3147 3767h9M3213 3750h9M3165 3671h9M3589 3726h9M3296 3798h9M3380 3656h9M3035 3696h9M3462 3643h9M3583 3729h9M3431 3701h9M3300 3771h9M3537 3677h9M3147 3704h9M3812 3704h9M3711 3732h9M3834 3788h9M3479 3735h9M3614 3814h9M3260 3761h9M3045 3669h9M3251 3822h9M3486 3716h9M3244 3717h9M3326 3740h9M3284 3772h9M3357 3733h9M3213 3698h9M3533 3724h9M3393 3706h9M2949 3709h9M3637 3674h9M3026 3678h9M3434 3726h9M3343 3625h9M3407 3717h9M3391 3767h9M3566 3736h9M3088 3772h9M3491 3740h9M3658 3664h9M3382 3782h9M3222 3740h9M3347 3758h9M3165 3844h9M3018 3739h9M3208 3793h9M2996 3667h9M3473 3659h9M3177 3701h9M3456 3766h9M3795 3812h9M3512 3655h9M3616 3691h9M3425 3762h9M3341 3784h9M3409 3719h9M3219 3715h9M3189 3666h9M3637 3820h9M3402 3662h9M3230 3730h9M3105 3728h9M3456 3658h9M2956 3778h9M3460 3779h9M3243 3707h9M3845 3780h9M3659 3791h9M3202 3746h9M3271 3795h9M3545 3740h9M3363 3747h9M3475 3749h9M3594 3810h9M3176 3821h9M3087 3780h9M3165 3851h9M3472 3787h9M3815 3661h9M3233 3752h9M3305 3711h9M3277 3678h9M3785 3809h9M3417 3813h9M3299 3817h9M3256 3767h9M3668 3817h9M3238 3731h9M3337 3842h9M3346 3690h9M2949 3595h9M2961 3772h9M3086 3707h9M3199 3667h9M3165 3764h9M3281 3779h9M3416 3647h9M3285 3790h9M3813 3656h9M3513 3806h9M3643 3679h9M3681 3784h9M2996 3700h9M3321 3757h9M3423 3758h9M3509 3673h9M3053 3759h9M3096 3706h9M3356 3837h9M3431 3826h9M3600 3682h9M3705 3760h9M3261 3636h9M3527 3731h9M3401 3706h9M3216 3816h9M3720 3669h9M3251 3716h9M3169 3793h9M3402 3713h9M3443 3760h9M3328 3728h9M3541 3775h9M3213 3776h9M3670 3867h9M3575 3765h9M3456 3735h9M3200 3760h9M3045 3693h9M3649 3778h9M3369 3725h9M3417 3782h9M3145 3746h9M2954 3766h9M3512 3775h9M3199 3734h9M3508 3770h9M3117 3734h9M3201 3735h9M3593 3725h9M3297 3744h9M3331 3711h9M3688 3751h9M3607 3647h9M3148 3709h9M3190 3736h9M3342 3770h9M3809 3704h9M3434 3769h9M3747 3671h9M3433 3725h9M3552 3817h9M3204 3717h9M3499 3772h9M3297 3712h9M3410 3773h9M3391 3806h9M3409 3734h9M3267 3759h9M3797 3748h9M3686 3739h9M3792 3724h9M3335 3731h9M3538 3715h9M3106 3768h9M3312 3825h9M3446 3768h9M3345 3704h9M3634 3729h9M3104 3770h9M3356 3719h9M3587 3657h9M3525 3746h9M3399 3738h9M3217 3696h9M3437 3741h9M3647 3694h9M3626 3844h9M3026 3819h9M3498 3731h9M3389 3796h9M2966 3796h9M3496 3797h9M3524 3654h9M3497 3723h9M3062 3637h9M3635 3735h9M3045 3766h9M3059 3764h9M3070 3735h9M3587 3680h9M3492 3669h9M3600 3688h9M3384 3673h9M3261 3717h9M3284 3677h9M3034 3790h9M2961 3824h9M3164 3690h9M3227 3676h9M3354 3710h9M3002 3737h9M3257 3811h9M3686 3647h9M3403 3756h9M3238 3697h9M3411 3732h9M3046 3732h9M3344 3767h9M3282 3645h9M3330 3756h9M3063 3735h9M3476 3696h9M3022 3766h9M3238 3691h9M3057 3744h9M3289 3709h9M3611 3723h9M3332 3694h9M3757 3747h9M3669 3692h9M3383 3778h9M2948 3759h9M3530 3665h9M3522 3686h9M3249 3706h9M3618 3693h9M3284 3752h9M3223 3784h9M3204 3719h9M3389 3748h9M3436 3833h9M3162 3791h9M3436 3728h9M3431 3778h9M3558 3695h9M3624 3738h9M3027 3627h9M3562 3730h9M3534 3655h9M3686 3710h9M2980 3682h9M3658 3835h9M3430 3704h9M3761 3811h9M3526 3727h9M3614 3721h9M3429 3763h9M3608 3688h9M3701 3768h9M3827 3655h9M3210 3765h9M3348 3615h9M3005 3614h9M3339 3756h9M3606 3697h9M3217 3801h9M3603 3737h9M3567 3821h9M3307 3775h9M3437 3744h9M3625 3854h9M3220 3807h9M3061 3782h9M3699 3698h9M3171 3808h9M3824 3789h9M3558 3681h9M3261 3763h9M3133 3799h9M3104 3752h9M3325 3757h9M3195 3657h9M3264 3667h9M3547 3601h9M3545 3826h9M3301 3726h9M3308 3758h9M3416 3681h9M3506 3735h9M3145 3751h9M3486 3706h9M3710 3675h9M3028 3859h9M3487 3715h9M3355 3634h9M3019 3641h9M3206 3690h9M3567 3727h9M3569 3730h9M3616 3684h9M3741 3775h9M3352 3738h9M3308 3811h9M3383 3804h9M3620 3699h9M3476 3730h9M3835 3705h9M3340 3735h9M3007 3708h9M3407 3624h9M3625 3668h9M3826 3782h9M3378 3748h9M2943 3631h9M3748 3761h9M3240 3715h9M3703 3784h9M3257 3684h9M3546 3736h9M3451 3731h9M3293 3837h9M3575 3707h9M3579 3766h9M3490 3785h9M3345 3776h9M3046 3801h9M3826 3698h9M3355 3874h9M3236 3714h9M3659 3608h9M3211 3756h9M3317 3820h9M3207 3808h9M3245 3755h9M3577 3668h9M3496 3783h9M3803 3746h9M3726 3793h9M3292 3779h9M3367 3830h9M3050 3813h9M3316 3775h9M3530 3631h9M3169 3697h9M3819 3689h9M3561 3811h9M3508 3637h9M3122 3748h9M3356 3689h9M3517 3734h9M3479 3824h9M3245 3745h9M2996 3707h9M3387 3763h9M3206 3709h9M3347 3738h9M3296 3800h9M3366 3691h9M3624 3763h9M3359 3711h9M3202 3651h9M3592 3844h9M3031 3680h9M3348 3738h9M3590 3693h9M3235 3732h9M3073 3736h9M3686 3733h9M3636 3652h9M3635 3700h9M3430 3641h9M3591 3717h9M3593 3747h9M3118 3799h9M3708 3742h9M3280 3771h9M3453 3685h9M3048 3780h9M3179 3679h9M3403 3736h9M3125 3695h9M3384 3554h9M3198 3654h9M3557 3716h9M3503 3765h9M3117 3796h9M3340 3741h9M3501 3703h9M3650 3677h9M3155 3664h9M3057 3579h9M3075 3830h9M3494 3706h9M3732 3697h9M3173 3683h9M3617 3761h9M3290 3715h9M3239 3762h9M3543 3773h9M3537 3760h9M3205 3669h9M3144 3692h9M3646 3702h9M3609 3737h9M3660 3648h9M3757 3757h9M3184 3759h9M3131 3785h9M3655 3708h9M3263 3741h9M3349 3804h9M3191 3705h9M3298 3804h9M3725 3819h9M2999 3860h9M3389 3740h9M3684 3693h9M3563 3828h9M3579 3760h9M3580 3679h9M3584 3738h9M3652 3725h9M3641 3677h9M3644 3808h9M3112 3691h9M3056 3725h9M3191 3753h9M3353 3864h9M3548 3750h9M3509 3796h9M3468 3705h9M3661 3778h9M3460 3829h9M3663 3746h9M3456 3782h9M3380 3797h9M3143 3776h9M3110 3703h9M3390 3806h9M3150 3738h9M3836 3698h9M3345 3724h9M3542 3672h9M3115 3648h9M3372 3690h9M3346 3763h9M3168 3708h9M3451 3632h9M3808 3842h9M3357 3777h9M3534 3647h9M3214 3743h9M3238 3829h9M3461 3752h9M3032 3651h9M3223 3809h9M3028 3721h9M3484 3693h9M3152 3703h9M3072 3580h9M2960 3798h9M2967 3788h9M3021 3670h9M3515 3689h9M3381 3569h9M2952 3803h9M3531 3700h9M3338 3741h9M3369 3729h9M3387 3748h9M3755 3707h9M3827 3849h9M3421 3763h9M3487 3755h9M3137 3762h9M3393 3676h9M3331 3869h9M3383 3714h9M3724 3751h9M3548 3772h9M3335 3779h9M3151 3763h9M3223 3849h9M3664 3831h9M3573 3812h9M3219 3630h9M3794 3750h9M3416 3586h9M3450 3707h9M3606 3747h9M3527 3761h9M2985 3759h9M3305 3564h9M3561 3677h9M3120 3747h9M3643 3702h9M3689 3811h9M3372 3749h9M3052 3679h9M3349 3768h9M3414 3802h9M3569 3765h9M3318 3666h9M3242 3755h9M3133 3760h9M3228 3741h9M3405 3806h9M3497 3776h9M3041 3695h9M3658 3711h9M3288 3854h9M3300 3806h9M3450 3735h9M3466 3725h9M3104 3796h9M3371 3825h9M3452 3713h9M3586 3717h9M3425 3614h9M3512 3722h9M3020 3820h9M3519 3735h9M3332 3713h9M3327 3766h9M3330 3756h9M3774 3754h9M3554 3802h9M3379 3769h9M3463 3706h9M3349 3780h9M3273 3688h9M3137 3780h9M3507 3746h9M3033 3728h9M3697 3732h9M3320 3740h9M3765 3635h9M3215 3664h9M3432 3776h9M3410 3685h9M3479 3629h9M3648 3705h9M3803 3702h9M3796 3806h9M3471 3600h9M3335 3773h9M3181 3803h9M3181 3701h9M3177 3723h9M3657 3664h9M3348 3757h9M3355 3766h9M3081 3817h9M3583 3827h9M3675 3804h9M3302 3775h9M3175 3768h9M3118 3801h9M3702 3689h9M3292 3704h9M3110 3750h9M3580 3770h9M3199 3775h9M3784 3648h9M3347 3732h9M3229 3751h9M3390 3724h9M2990 3736h9M3315 3838h9M3345 3793h9M3306 3700h9M3562 3687h9M3377 3742h9M3264 3740h9M3106 3821h9M3101 3647h9M3155 3760h9M3587 3707h9M3477 3656h9M3615 3760h9M3323 3726h9M3715 3737h9M3234 3798h9M3052 3677h9M3607 3688h9M2992 3644h9M3378 3725h9M3103 3751h9M3018 3618h9M3381 3598h9M3259 3766h9M2963 3598h9M3446 3762h9M3329 3665h9M3624 3812h9M3274 3750h9M3724 3734h9M3793 3815h9M3340 3703h9M3208 3672h9M3864 3712h9M3172 3662h9M3211 3778h9M3472 3586h9M3442 3767h9M3554 3811h9M3192 3805h9M3172 3703h9M3837 3792h9M3201 3766h9M3175 3633h9M3527 3654h9M3338 3816h9M3530 3689h9M3258 3757h9M3016 3765h9M3505 3819h9M3409 3742h9M3635 3742h9M3340 3705h9M3202 3740h9M3006 3775h9M3300 3764h9M3307 3731h9M3056 3856h9M3655 3746h9M3106 3852h9M3508 3723h9M3201 3728h9M3723 3683h9M3348 3731h9M3531 3802h9M3401 3757h9M3472 3689h9M3364 3661h9M3432 3735h9M3421 3695h9M3308 3681h9M3371 3719h9M3376 3756h9M3081 3688h9M3392 3617h9M3456 3792h9M3428 3732h9M3493 3742h9M3664 3735h9M3684 3840h9M3557 3743h9M3060 3700h9M3095 3728h9M3634 3634h9M3477 3630h9M3259 3777h9M3233 3814h9M3425 3721h9M3377 3728h9M3463 3657h9M3344 3690h9M3407 3688h9M3401 3848h9M3406 3779h9M3252 3738h9M3222 3780h9M3136 3862h9M3123 3735h9M3772 3762h9M3400 3769h9M2958 3816h9M3070 3662h9M3612 3696h9M3511 3706h9M3274 3763h9M3482 3709h9M3401 3750h9M3657 3694h9M3373 3790h9M3534 3572h9M3568 3705h9M3670 3712h9M3125 3649h9M3402 3788h9M3521 3747h9M3100 3864h9M2980 3751h9M3385 3765h9M3108 3683h9M3084 3711h9M3101 3752h9M3388 3784h9M3631 3708h9M3632 3775h9M2969 3821h9M3132 3730h9M3752 3706h9M3650 3698h9M3237 3807h9M3308 3802h9M3785 3778h9M3543 3699h9M3217 3746h9M3522 3650h9M3265 3738h9M3622 3729h9M3117 3742h9M3164 3696h9M3264 3698h9M3733 3707h9M3644 3708h9M3337 3696h9M3333 3696h9M3346 3689h9M3167 3642h9M3303 3753h9M3108 3750h9M3420 3695h9M3065 3746h9M3345 3683h9M2958 3836h9M3609 3709h9M3181 3780h9M3235 3753h9M3614 3806h9M3515 3786h9M3474 3742h9M3306 3621h9M3112 3756h9M3608 3659h9M3611 3715h9M3805 3695h9M3693 3655h9M3076 3599h9M3431 3661h9M3761 3638h9M3567 3776h9M3182 3731h9M3654 3790h9M3471 3617h9M3236 3754h9M3658 3687h9M3377 3680h9M3551 3763h9M3065 3592h9M3099 3736h9M3099 3761h9M3037 3762h9M3162 3701h9M3090 3657h9M3058 3645h9M3208 3720h9M2982 3693h9M3222 3830h9M3214 3610h9M3166 3607h9M3270 3863h9M2981 3730h9M2975 3724h9M3037 3627h9M3189 3721h9M3190 3748h9M2998 3655h9M3196 3795h9M3059 3875h9M3157 3842h9M3154 3817h9M3050 3706h9M2949 3727h9M2982 3735h9M3054 3630h9M3062 3666h9M2991 3832h9M3006 3800h9M3226 3780h9M3056 3647h9M2976 3610h9M2977 3663h9M3113 3776h9M2979 3777h9M3219 3866h9M3132 3639h9M2955 3720h9M2952 3760h9M3161 3642h9M3203 3717h9M3128 3757h9M3020 3703h9M3002 3748h9M3022 3811h9M3194 3656h9M3089 3700h9M3225 3747h9M3111 3727h9M3099 3741h9M2995 3821h9M3005 3593h9M3188 3807h9M3108 3654h9M3013 3737h9M3049 3776h9M3034 3737h9M3056 3685h9M3013 3801h9M3005 3676h9M3192 3602h9M3191 3671h9M3178 3774h9M3196 3680h9M3129 3658h9M3110 3679h9M3188 3629h9M3095 3696h9M2964 3625h9M3145 3600h9M3301 3574h9M3083 3839h9M3141 3779h9M2960 3652h9M3114 3635h9M3182 3626h9M3105 3667h9M3001 3613h9M3039 3813h9M2975 3738h9M3017 3672h9M3130 3697h9M3130 3692h9M3110 3594h9M3050 3675h9M2950 3730h9M3114 3615h9M3080 3732h9M3041 3741h9M3149 3611h9M3168 3811h9M3018 3751h9M3086 3615h9M3167 3836h9M3059 3649h9M3145 3751h9M3143 3629h9M3137 3712h9M2952 3658h9M3173 3656h9M3163 3658h9M3071 3719h9M2993 3713h9M3212 3756h9M3093 3664h9M3298 3559h9M3072 3640h9M2999 3679h9M3056 3808h9M3239 3793h9M3143 3664h9M3039 3823h9M3142 3552h9M3039 3586h9M3097 3776h9M3209 3691h9M3088 3682h9M3070 3720h9M3132 3687h9M3131 3573h9M3098 3692h9M3256 3650h9M3195 3688h9M3101 3723h9M3167 3579h9M3161 3794h9M3056 3802h9M3101 3737h9M3039 3622h9M3131 3615h9M3067 3697h9M3237 3786h9M3118 3722h9M3128 3745h9M3073 3688h9M3154 3682h9M3019 3708h9M3090 3652h9M2947 3785h9M3094 3698h9M3063 3673h9M3007 3676h9M3022 3758h9M3025 3832h9M3138 3723h9M3207 3651h9M2997 3758h9M3062 3776h9M3298 3723h9M3185 3695h9M3073 3724h9M3241 3724h9M3227 3694h9M3034 3663h9M3124 3685h9M3025 3722h9M3074 3793h9M3028 3825h9M3188 3797h9M3166 3838h9M3115 3663h9M2942 3780h9M3190 3741h9M3091 3757h9M3134 3632h9M3222 3703h9M3080 3738h9M3257 3666h9M3083 3674h9M3011 3568h9M3160 3659h9M3137 3836h9M3113 3711h9M3031 3717h9M2986 3585h9M3016 3709h9M3056 3689h9M3025 3636h9M3149 3775h9M3193 3765h9M3087 3498h9M3078 3776h9M2950 3562h9M3105 3660h9M3035 3778h9M3108 3671h9M3030 3652h9M3170 3704h9M3204 3558h9M3154 3703h9M3092 3761h9M2996 3687h9M3085 3753h9M3099 3704h9M3081 3738h9M3183 3750h9M3123 3725h9M3067 3580h9M3042 3715h9M3031 3753h9M3151 3583h9M3144 3839h9M3016 3744h9M3181 3613h9M3122 3772h9M3042 3741h9M3123 3775h9M3018 3750h9M3269 3587h9M3156 3849h9M3152 3761h9M3155 3649h9M2958 3635h9M3092 3737h9M3042 3780h9M3198 3669h9M3075 3524h9M3082 3716h9M3291 3662h9M3221 3772h9M3150 3772h9M3188 3716h9M3193 3554h9M3113 3726h9M3246 3761h9M3074 3669h9M3038 3790h9M3043 3709h9M3033 3835h9M3106 3654h9M3085 3791h9M3019 3684h9M3043 3665h9M3264 3670h9M3161 3637h9M3048 3687h9M3149 3706h9M2987 3655h9M3104 3637h9M3168 3613h9M2973 3730h9M3270 3870h9M3228 3659h9M3158 3552h9M3166 3731h9M3104 3740h9M3115 3585h9M3319 3714h9M3072 3656h9M3019 3715h9M3134 3618h9M3094 3620h9M3280 3808h9M3049 3719h9M3131 3627h9M3227 3748h9M2997 3673h9M3085 3651h9M3003 3640h9M2963 3800h9M3110 3568h9M3018 3707h9M3129 3787h9M3122 3814h9M3176 3738h9M3152 3711h9M3122 3748h9M3173 3725h9M2976 3762h9M3192 3740h9M3113 3668h9M3018 3583h9M3158 3780h9M3050 3767h9M3156 3714h9M2949 3749h9M3097 3855h9M3132 3671h9M3250 3713h9M3066 3680h9M3098 3737h9M3061 3694h9M3021 3642h9M3106 3676h9M3126 3683h9M2998 3671h9M3112 3813h9M3106 3625h9M3106 3573h9M3145 3556h9M3237 3746h9M3153 3750h9M3044 3743h9M3204 3734h9M3043 3802h9M3183 3690h9M3243 3787h9M3119 3606h9M3196 3624h9M3122 3595h9M2981 3741h9M3281 3742h9M3069 3634h9M3033 3783h9M3116 3694h9M3224 3709h9M3071 3615h9M3176 3614h9M3111 3694h9M3191 3830h9M3267 3711h9M3015 3564h9M3299 3777h9M3076 3798h9M3034 3761h9M3038 3620h9M3079 3709h9M3198 3691h9M3272 3713h9M3101 3613h9M3103 3778h9M3039 3690h9M3067 3777h9M3251 3670h9M3131 3726h9M2958 3781h9M3071 3730h9M3009 3765h9M2956 3782h9M3234 3707h9M2992 3814h9M3068 3665h9M3309 3640h9M3053 3701h9M3106 3622h9M3271 3586h9M3038 3726h9M3125 3648h9M3005 3692h9M3015 3719h9M2989 3674h9M3195 3732h9M3201 3799h9M3174 3709h9M3100 3637h9M3298 3842h9M3025 3624h9M3065 3658h9M3039 3613h9M3283 3767h9M3243 3722h9M3063 3721h9M3284 3738h9M3173 3791h9M3108 3681h9M3037 3683h9M3161 3648h9M3163 3744h9M3168 3660h9M3306 3718h9M3063 3836h9M3221 3752h9M3106 3696h9M3113 3780h9M3064 3806h9M3054 3751h9M3173 3699h9M3169 3753h9M3035 3655h9M3109 3824h9M3270 3646h9M3126 3807h9M3118 3813h9M3071 3659h9M3069 3691h9M3111 3501h9M2997 3701h9M3062 3841h9M3103 3677h9M3148 3839h9M2949 3689h9M3070 3705h9M3203 3735h9M3161 3777h9M3055 3613h9M3078 3700h9M3056 3675h9M3078 3724h9M3138 3791h9M3123 3690h9M3084 3710h9M3100 3734h9M3188 3663h9M3171 3596h9M3154 3786h9M3017 3788h9M3120 3721h9M3114 3753h9M3000 3719h9M2990 3664h9M3145 3586h9M3170 3752h9M3020 3659h9M3042 3700h9M3227 3857h9M3069 3657h9M3041 3713h9M3092 3754h9M3255 3627h9M3114 3541h9M3047 3665h9M2969 3771h9M3025 3710h9M3098 3741h9M3038 3577h9M3222 3701h9M3050 3821h9M3137 3628h9M3005 3705h9M3113 3730h9M3080 3697h9M3114 3762h9M3294 3699h9M3163 3684h9M3060 3853h9M3080 3843h9M3173 3806h9M3001 3602h9M3272 3686h9M3060 3704h9M3103 3585h9M3234 3701h9M3182 3850h9M3148 3639h9M3163 3685h9M3116 3722h9M3110 3629h9M3030 3745h9M3043 3682h9M3202 3594h9M3050 3727h9M3121 3657h9M3077 3586h9M3251 3641h9M3148 3615h9M3045 3651h9M3018 3638h9M3153 3675h9M2967 3786h9M3170 3721h9M3131 3722h9M3010 3770h9M3126 3715h9M3147 3720h9M3022 3767h9M3022 3598h9M3193 3653h9M3095 3801h9M3102 3737h9M3015 3632h9M2989 3733h9M3053 3658h9M3128 3609h9M3139 3783h9M3173 3809h9M3096 3646h9M3095 3667h9M2980 3767h9M3069 3756h9M3191 3500h9M2997 3656h9M3111 3639h9M3130 3716h9M3059 3710h9M2969 3622h9M3134 3609h9M3109 3729h9M3011 3599h9M3177 3802h9M3280 3742h9M3172 3613h9M3038 3743h9M3030 3717h9M3217 3680h9M3078 3679h9M3136 3755h9M3131 3641h9M3001 3785h9M3297 3788h9M3315 3660h9M3136 3570h9M3198 3738h9M3023 3625h9M3037 3734h9M3068 3677h9M3017 3720h9M3100 3698h9M2961 3797h9M2991 3714h9M3115 3685h9M3056 3783h9M2989 3795h9M2942 3650h9M3128 3820h9M3360 3571h9M3014 3745h9M3194 3722h9M3278 3745h9M3037 3602h9M3025 3747h9M3129 3483h9M3085 3702h9M3061 3698h9M3276 3636h9M2988 3738h9M3144 3875h9M3034 3742h9M2971 3741h9M3128 3665h9M3212 3738h9M3177 3720h9M3115 3701h9M3130 3788h9M2995 3721h9M3115 3643h9M3103 3687h9M3116 3794h9M3075 3764h9M3119 3685h9M3040 3649h9M3149 3598h9M3100 3811h9M3012 3677h9M2979 3711h9M3078 3764h9M3017 3656h9M3134 3651h9M3028 3785h9M3055 3775h9M2973 3735h9M3157 3607h9M3076 3559h9M3241 3684h9M3024 3633h9M3236 3733h9M3188 3735h9M3086 3731h9M3079 3731h9M2943 3711h9M3147 3687h9M3128 3739h9M2994 3674h9M3185 3482h9M3150 3799h9M3124 3838h9M3139 3771h9M3204 3703h9M3196 3656h9M3003 3627h9M3252 3676h9M3013 3658h9M3122 3677h9M3759 3695h9M3698 3733h9M3586 3814h9M3779 3727h9M3774 3630h9M3736 3831h9M3687 3662h9M3741 3669h9M3814 3651h9M3527 3769h9M3761 3797h9M3656 3679h9M3690 3811h9M3662 3722h9M3759 3694h9M3784 3782h9M3562 3825h9M3725 3737h9M3815 3796h9M3676 3799h9M3771 3757h9M3553 3663h9M3723 3671h9M3783 3653h9M3705 3669h9M3776 3762h9M3708 3745h9M3828 3714h9M3787 3791h9M3646 3653h9M3602 3744h9M3720 3826h9M3692 3764h9M3728 3662h9M3697 3810h9M3561 3799h9M3695 3720h9M3673 3747h9M3739 3722h9M3698 3534h9M3729 3720h9M3759 3792h9M3717 3755h9M3762 3774h9M3836 3797h9M3756 3678h9M3844 3667h9M3647 3635h9M3762 3701h9M3854 3689h9M3766 3773h9M3724 3759h9M3751 3721h9M3772 3669h9M3811 3755h9M3822 3623h9M3738 3703h9M3715 3630h9M3665 3709h9M3764 3690h9M3617 3711h9M3679 3697h9M3733 3760h9M3653 3754h9M3812 3714h9M3782 3689h9M3682 3712h9M3634 3686h9M3646 3706h9M3725 3782h9M3700 3701h9M3794 3768h9M3667 3674h9M3682 3732h9M3742 3612h9M3719 3698h9M3791 3689h9M3606 3765h9M3832 3828h9M3693 3727h9M3701 3646h9M3793 3868h9M3791 3676h9M3778 3730h9M3797 3678h9M3637 3667h9M3759 3600h9M3550 3686h9M3736 3749h9M3690 3667h9M3781 3719h9M3591 3721h9M3654 3642h9M3725 3767h9M3582 3698h9M3739 3817h9M3641 3735h9M3696 3815h9M3804 3774h9M3680 3825h9M3741 3666h9M3593 3727h9M3679 3762h9M3775 3771h9M3681 3639h9M3638 3679h9M3596 3817h9M3645 3743h9M3682 3658h9M3814 3703h9M3745 3755h9M3689 3776h9M3662 3743h9M3678 3754h9M3684 3732h9M3704 3775h9M3658 3751h9M3665 3704h9M3719 3668h9M3767 3621h9M3772 3759h9M3656 3743h9M3726 3732h9M3669 3761h9M3809 3764h9M3726 3722h9M3825 3729h9M3787 3711h9M3843 3667h9M3611 3828h9M3714 3839h9M3734 3641h9M3765 3717h9M3779 3700h9M3720 3710h9M3634 3782h9M3738 3798h9M3711 3778h9M3804 3686h9M3707 3804h9M3571 3740h9M3683 3688h9M3798 3784h9M3786 3778h9M3611 3743h9M3623 3774h9M3781 3741h9M3790 3601h9M3772 3790h9M3422 3740h9M3784 3762h9M3674 3681h9M3749 3701h9M3566 3714h9M3773 3773h9M3722 3732h9M3661 3758h9M3783 3709h9M3769 3708h9M3639 3773h9M3777 3660h9M3740 3670h9M3758 3722h9M3559 3717h9M3575 3668h9M3707 3674h9M3584 3657h9M3739 3769h9M3627 3735h9M3719 3648h9M3644 3640h9M3788 3550h9M3689 3693h9M3642 3688h9M3690 3770h9M3770 3705h9M3782 3638h9M3833 3745h9M3655 3616h9M3776 3689h9M3614 3716h9M3668 3748h9M3695 3704h9M3729 3829h9M3730 3799h9M3689 3732h9M3668 3714h9M3679 3726h9M3572 3728h9M3804 3653h9M3696 3747h9M3717 3761h9M3743 3703h9M3754 3850h9M3740 3766h9M3754 3714h9M3694 3591h9M3824 3692h9M3766 3655h9M3680 3736h9M3742 3791h9M3606 3671h9M3782 3613h9M3795 3750h9M3677 3675h9M3726 3674h9M3759 3668h9M3714 3744h9M3730 3765h9M3711 3789h9M3654 3764h9M3709 3587h9M3733 3686h9M3677 3665h9M3783 3618h9M3637 3706h9M3684 3558h9M3683 3705h9M3722 3622h9M3734 3643h9M3716 3718h9M3553 3648h9M3634 3592h9M3800 3656h9M3727 3677h9M3601 3755h9M3722 3638h9M3680 3746h9M3617 3751h9M3699 3781h9M3776 3731h9M3630 3779h9M3624 3724h9M3696 3574h9M3711 3724h9M3741 3655h9M3677 3754h9M3767 3749h9M3801 3661h9M3679 3704h9M3745 3747h9M3790 3733h9M3722 3656h9M3719 3654h9M3635 3683h9M3744 3799h9M3632 3656h9M3849 3869h9M3719 3771h9M3794 3760h9M3672 3750h9M3697 3686h9M3820 3703h9M3702 3688h9M3771 3693h9M3708 3720h9M3724 3720h9M3730 3719h9M3628 3774h9M3683 3704h9M3633 3685h9M3668 3716h9M3656 3709h9M3553 3773h9M3819 3661h9M3612 3779h9M3699 3559h9M3813 3628h9M3779 3831h9M3735 3695h9M3654 3626h9M3728 3688h9M3625 3745h9M3710 3677h9M3759 3621h9M3722 3673h9M3681 3673h9M3779 3791h9M3614 3751h9M3746 3712h9M3804 3821h9M3573 3722h9M3757 3703h9M3612 3702h9M3594 3716h9M3771 3815h9M3667 3738h9M3728 3707h9M3808 3675h9M3749 3800h9M3760 3628h9M3696 3757h9M3714 3683h9M3675 3668h9M3791 3682h9M3766 3749h9M3682 3645h9M3716 3812h9M3763 3708h9M3715 3847h9M3661 3712h9M3801 3711h9M3720 3729h9M3675 3686h9M3837 3732h9M3574 3728h9M3645 3669h9M3846 3767h9M3744 3718h9M3624 3697h9M3753 3751h9M3561 3687h9M3681 3746h9M3643 3709h9M3575 3649h9M3725 3736h9M3724 3700h9M3598 3678h9M3693 3695h9M3676 3756h9M3671 3705h9M3734 3760h9M3794 3635h9M3795 3737h9M3758 3757h9M3653 3717h9M3514 3563h9M3854 3674h9M3684 3759h9M3756 3648h9M3768 3736h9M3556 3677h9M3755 3774h9M3653 3735h9M3710 3649h9M3759 3701h9M3711 3631h9M3613 3732h9M3682 3800h9M3784 3753h9M3729 3746h9M3709 3730h9M3842 3834h9M3630 3704h9M3781 3742h9M3740 3814h9M3641 3768h9M3708 3700h9M3775 3668h9M3728 3670h9M3635 3788h9M3688 3811h9M3642 3693h9M3690 3743h9M3579 3684h9M3586 3642h9M3721 3721h9M3745 3713h9M3816 3723h9M3787 3692h9M3543 3739h9M3638 3740h9M3743 3749h9M3744 3745h9M3689 3777h9M3728 3652h9M3708 3800h9M3757 3768h9M3758 3677h9M3590 3703h9M3746 3690h9M3751 3718h9M3771 3767h9M3669 3688h9M3747 3664h9M3736 3758h9M3646 3734h9M3744 3665h9M3598 3695h9M3795 3741h9M3742 3672h9M3716 3759h9M3795 3711h9M3683 3726h9M3730 3661h9M3730 3701h9M3675 3485h9M3727 3711h9M3740 3647h9M3675 3673h9M3603 3636h9M3782 3747h9M3540 3666h9M3699 3645h9M3753 3734h9M3754 3873h9M3771 3733h9M3828 3820h9M3712 3778h9M3691 3775h9M3766 3765h9M3734 3705h9M3709 3730h9M3578 3758h9M3629 3813h9M3784 3755h9M3649 3650h9M3793 3787h9M3689 3773h9M3793 3735h9M3665 3698h9M3636 3595h9M3550 3739h9M3774 3686h9M3711 3830h9M3744 3787h9M3799 3635h9M3770 3663h9M3801 3657h9M3668 3780h9" stroke="#000" stroke-opacity="0.88" stroke-width="9" fill="none"/>
<text x="168.00" y="324.50" font-size="9.6" font-weight="normal" font-style="normal" textLength="8.40" lengthAdjust="spacingAndGlyphs" stroke="#000" stroke-width="0.4" >10</text>
<text x="176.50" y="321.10" font-size="7.4879999999999995" font-weight="normal" font-style="normal" textLength="3.50" lengthAdjust="spacingAndGlyphs" stroke="#000" stroke-width="0.4" >3</text>
<text x="168.00" y="346.20" font-size="9.6" font-weight="normal" font-style="normal" textLength="8.40" lengthAdjust="spacingAndGlyphs" stroke="#000" stroke-width="0.4" >10</text>
<text x="176.50" y="342.80" font-size="7.4879999999999995" font-weight="normal" font-style="normal" textLength="3.50" lengthAdjust="spacingAndGlyphs" stroke="#000" stroke-width="0.4" >2</text>
<text x="168.00" y="369.00" font-size="9.6" font-weight="normal" font-style="normal" textLength="8.40" lengthAdjust="spacingAndGlyphs" stroke="#000" stroke-width="0.4" >10</text>
<text x="176.50" y="365.60" font-size="7.4879999999999995" font-weight="normal" font-style="normal" textLength="3.50" lengthAdjust="spacingAndGlyphs" stroke="#000" stroke-width="0.4" >1</text>
<text transform="translate(164.20 358.25) rotate(-90)" font-size="10.3" font-weight="bold" textLength="23.5" lengthAdjust="spacingAndGlyphs" stroke="#000" stroke-width="0.5">CCR7</text>
<text x="203.00" y="404.80" font-size="10.6" font-weight="bold" font-style="normal" textLength="40.30" lengthAdjust="spacingAndGlyphs" stroke="#000" stroke-width="0.6" >CD45RA</text>
<line x1="186.20" y1="399.50" x2="201.50" y2="399.50" stroke="#000" stroke-width="1.0" />
<line x1="244.80" y1="399.50" x2="353.50" y2="399.50" stroke="#000" stroke-width="1.0" />
<text x="0.60" y="412.20" font-size="16.6" font-weight="bold" font-style="normal" textLength="13.00" lengthAdjust="spacingAndGlyphs" stroke="#000" stroke-width="0.55" >B</text>
<text x="51.70" y="421.20" font-size="10.5" font-weight="normal" font-style="normal" textLength="29.80" lengthAdjust="spacingAndGlyphs" stroke="#000" stroke-width="0.6" >n = 28</text>
<rect x="35" y="429.8" width="117.19999999999999" height="116.99999999999994" fill="none" stroke="#000" stroke-width="1.15"/>
<line x1="63.4" y1="429.8" x2="63.4" y2="546.8" stroke="#000" stroke-width="1.0" stroke-dasharray="3.6 2.4"/>
<line x1="32.80" y1="429.80" x2="35.00" y2="429.80" stroke="#000" stroke-width="0.9" />
<text x="17.20" y="431.70" font-size="10.7" font-weight="normal" font-style="normal" textLength="16.00" lengthAdjust="spacingAndGlyphs" stroke="#000" stroke-width="0.45" >100</text>
<line x1="32.80" y1="452.50" x2="35.00" y2="452.50" stroke="#000" stroke-width="0.9" />
<text x="19.00" y="455.10" font-size="10.7" font-weight="normal" font-style="normal" textLength="12.40" lengthAdjust="spacingAndGlyphs" stroke="#000" stroke-width="0.45" >80</text>
<line x1="32.80" y1="475.00" x2="35.00" y2="475.00" stroke="#000" stroke-width="0.9" />
<text x="19.00" y="477.60" font-size="10.7" font-weight="normal" font-style="normal" textLength="12.40" lengthAdjust="spacingAndGlyphs" stroke="#000" stroke-width="0.45" >60</text>
<line x1="32.80" y1="497.50" x2="35.00" y2="497.50" stroke="#000" stroke-width="0.9" />
<text x="19.00" y="500.10" font-size="10.7" font-weight="normal" font-style="normal" textLength="12.40" lengthAdjust="spacingAndGlyphs" stroke="#000" stroke-width="0.45" >40</text>
<line x1="32.80" y1="520.00" x2="35.00" y2="520.00" stroke="#000" stroke-width="0.9" />
<text x="19.00" y="522.60" font-size="10.7" font-weight="normal" font-style="normal" textLength="12.40" lengthAdjust="spacingAndGlyphs" stroke="#000" stroke-width="0.45" >20</text>
<line x1="32.80" y1="542.50" x2="35.00" y2="542.50" stroke="#000" stroke-width="0.9" />
<text x="22.45" y="545.10" font-size="10.7" font-weight="normal" font-style="normal" textLength="5.50" lengthAdjust="spacingAndGlyphs" stroke="#000" stroke-width="0.45" >0</text>
<line x1="38.99" y1="546.80" x2="38.99" y2="548.50" stroke="#000" stroke-width="0.8" />
<line x1="42.16" y1="546.80" x2="42.16" y2="548.50" stroke="#000" stroke-width="0.8" />
<line x1="45.00" y1="546.80" x2="45.00" y2="549.40" stroke="#000" stroke-width="0.8" />
<line x1="63.66" y1="546.80" x2="63.66" y2="548.50" stroke="#000" stroke-width="0.8" />
<line x1="74.58" y1="546.80" x2="74.58" y2="548.50" stroke="#000" stroke-width="0.8" />
<line x1="82.33" y1="546.80" x2="82.33" y2="548.50" stroke="#000" stroke-width="0.8" />
<line x1="88.34" y1="546.80" x2="88.34" y2="548.50" stroke="#000" stroke-width="0.8" />
<line x1="93.25" y1="546.80" x2="93.25" y2="548.50" stroke="#000" stroke-width="0.8" />
<line x1="97.40" y1="546.80" x2="97.40" y2="548.50" stroke="#000" stroke-width="0.8" />
<line x1="100.99" y1="546.80" x2="100.99" y2="548.50" stroke="#000" stroke-width="0.8" />
<line x1="104.16" y1="546.80" x2="104.16" y2="548.50" stroke="#000" stroke-width="0.8" />
<line x1="107.00" y1="546.80" x2="107.00" y2="549.40" stroke="#000" stroke-width="0.8" />
<line x1="125.66" y1="546.80" x2="125.66" y2="548.50" stroke="#000" stroke-width="0.8" />
<line x1="136.58" y1="546.80" x2="136.58" y2="548.50" stroke="#000" stroke-width="0.8" />
<line x1="144.33" y1="546.80" x2="144.33" y2="548.50" stroke="#000" stroke-width="0.8" />
<line x1="150.34" y1="546.80" x2="150.34" y2="548.50" stroke="#000" stroke-width="0.8" />
<text x="42.20" y="560.40" font-size="8.8" font-weight="normal" font-style="normal" textLength="7.40" lengthAdjust="spacingAndGlyphs" stroke="#000" stroke-width="0.4" >10</text>
<text x="49.70" y="557.20" font-size="6.8" font-weight="normal" font-style="normal" textLength="3.40" lengthAdjust="spacingAndGlyphs" stroke="#000" stroke-width="0.4" >1</text>
<text x="103.60" y="560.40" font-size="8.8" font-weight="normal" font-style="normal" textLength="7.40" lengthAdjust="spacingAndGlyphs" stroke="#000" stroke-width="0.4" >10</text>
<text x="111.10" y="557.20" font-size="6.8" font-weight="normal" font-style="normal" textLength="3.40" lengthAdjust="spacingAndGlyphs" stroke="#000" stroke-width="0.4" >2</text>
<circle cx="59.1" cy="481.5" r="2.75" fill="#000"/>
<circle cx="63.7" cy="479" r="2.75" fill="#000"/>
<circle cx="54.8" cy="496.3" r="2.75" fill="#000"/>
<circle cx="55.4" cy="522.2" r="2.75" fill="#000"/>
<circle cx="72.3" cy="487.7" r="2.75" fill="#000"/>
<circle cx="73.2" cy="497.8" r="2.75" fill="#000"/>
<circle cx="75.4" cy="504" r="2.75" fill="#000"/>
<circle cx="80.6" cy="501.5" r="2.75" fill="#000"/>
<circle cx="87" cy="500" r="2.75" fill="#000"/>
<circle cx="89.2" cy="498.5" r="2.75" fill="#000"/>
<circle cx="87.7" cy="524" r="2.75" fill="#000"/>
<circle cx="91" cy="484" r="2.75" fill="#000"/>
<circle cx="94.2" cy="480.6" r="2.75" fill="#000"/>
<circle cx="95.4" cy="462.2" r="2.75" fill="#000"/>
<circle cx="98.5" cy="489.8" r="2.75" fill="#000"/>
<circle cx="97.5" cy="511.4" r="2.75" fill="#000"/>
<circle cx="96.3" cy="521.5" r="2.75" fill="#000"/>
<circle cx="100.3" cy="534.8" r="2.75" fill="#000"/>
<circle cx="107.7" cy="507" r="2.75" fill="#000"/>
<circle cx="116.3" cy="517" r="2.75" fill="#000"/>
<circle cx="117.5" cy="475.7" r="2.75" fill="#000"/>
<circle cx="125.5" cy="489.5" r="2.75" fill="#000"/>
<circle cx="133" cy="481.5" r="2.75" fill="#000"/>
<line x1="54.8" y1="497" x2="133.2" y2="507.7" stroke="#000" stroke-width="1"/>
<circle cx="85.2" cy="480" r="4.15" fill="#dadada" stroke="#000" stroke-width="1.5"/>
<path d="M54.1 490.5L59 485.6L63.9 490.5L59 495.4Z" fill="#dadada" stroke="#000" stroke-width="1.6"/>
<rect x="131.60000000000002" y="518.3" width="6.4" height="6.4" fill="#dadada" stroke="#000" stroke-width="1.5"/>
<text x="102.5" y="443.2" font-size="9.8" font-style="italic" textLength="5.6" lengthAdjust="spacingAndGlyphs" stroke="#000" stroke-width="0.45">R</text>
<text x="108.40" y="439.40" font-size="8.6" font-weight="normal" font-style="normal" textLength="4.20" lengthAdjust="spacingAndGlyphs" stroke="#000" stroke-width="0.45" >2</text>
<text x="113.80" y="443.20" font-size="9.6" font-weight="normal" font-style="normal" textLength="34.50" lengthAdjust="spacingAndGlyphs" stroke="#000" stroke-width="0.5" >= 0.015</text>
<text transform="translate(9.8 525.6) rotate(-90)" font-size="11.2" textLength="71.0" lengthAdjust="spacingAndGlyphs" stroke="#000" stroke-width="0.5">specific lysis %</text>
<text x="64.60" y="576.80" font-size="10.8" font-weight="normal" font-style="normal" textLength="57.00" lengthAdjust="spacingAndGlyphs" stroke="#000" stroke-width="0.55" >CD45RA MFI</text>
<rect x="190.8" y="429.8" width="119.0" height="116.99999999999994" fill="none" stroke="#000" stroke-width="1.15"/>
<line x1="223.4" y1="429.8" x2="223.4" y2="546.8" stroke="#000" stroke-width="1.0" stroke-dasharray="3.6 2.4"/>
<line x1="188.60" y1="445.50" x2="190.80" y2="445.50" stroke="#000" stroke-width="0.9" />
<text x="176.40" y="448.10" font-size="10.7" font-weight="normal" font-style="normal" textLength="12.40" lengthAdjust="spacingAndGlyphs" stroke="#000" stroke-width="0.45" >60</text>
<line x1="188.60" y1="477.50" x2="190.80" y2="477.50" stroke="#000" stroke-width="0.9" />
<text x="176.40" y="480.10" font-size="10.7" font-weight="normal" font-style="normal" textLength="12.40" lengthAdjust="spacingAndGlyphs" stroke="#000" stroke-width="0.45" >40</text>
<line x1="188.60" y1="509.80" x2="190.80" y2="509.80" stroke="#000" stroke-width="0.9" />
<text x="176.40" y="512.40" font-size="10.7" font-weight="normal" font-style="normal" textLength="12.40" lengthAdjust="spacingAndGlyphs" stroke="#000" stroke-width="0.45" >20</text>
<line x1="188.60" y1="541.80" x2="190.80" y2="541.80" stroke="#000" stroke-width="0.9" />
<text x="179.85" y="544.40" font-size="10.7" font-weight="normal" font-style="normal" textLength="5.50" lengthAdjust="spacingAndGlyphs" stroke="#000" stroke-width="0.45" >0</text>
<line x1="189.40" y1="461.50" x2="190.80" y2="461.50" stroke="#000" stroke-width="0.8" />
<line x1="189.40" y1="493.60" x2="190.80" y2="493.60" stroke="#000" stroke-width="0.8" />
<line x1="189.40" y1="525.80" x2="190.80" y2="525.80" stroke="#000" stroke-width="0.8" />
<line x1="195.40" y1="546.80" x2="195.40" y2="548.50" stroke="#000" stroke-width="0.8" />
<line x1="198.99" y1="546.80" x2="198.99" y2="548.50" stroke="#000" stroke-width="0.8" />
<line x1="202.16" y1="546.80" x2="202.16" y2="548.50" stroke="#000" stroke-width="0.8" />
<line x1="205.00" y1="546.80" x2="205.00" y2="549.40" stroke="#000" stroke-width="0.8" />
<line x1="223.66" y1="546.80" x2="223.66" y2="548.50" stroke="#000" stroke-width="0.8" />
<line x1="234.58" y1="546.80" x2="234.58" y2="548.50" stroke="#000" stroke-width="0.8" />
<line x1="242.33" y1="546.80" x2="242.33" y2="548.50" stroke="#000" stroke-width="0.8" />
<line x1="248.34" y1="546.80" x2="248.34" y2="548.50" stroke="#000" stroke-width="0.8" />
<line x1="253.25" y1="546.80" x2="253.25" y2="548.50" stroke="#000" stroke-width="0.8" />
<line x1="257.40" y1="546.80" x2="257.40" y2="548.50" stroke="#000" stroke-width="0.8" />
<line x1="260.99" y1="546.80" x2="260.99" y2="548.50" stroke="#000" stroke-width="0.8" />
<line x1="264.16" y1="546.80" x2="264.16" y2="548.50" stroke="#000" stroke-width="0.8" />
<line x1="267.00" y1="546.80" x2="267.00" y2="549.40" stroke="#000" stroke-width="0.8" />
<line x1="285.66" y1="546.80" x2="285.66" y2="548.50" stroke="#000" stroke-width="0.8" />
<line x1="296.58" y1="546.80" x2="296.58" y2="548.50" stroke="#000" stroke-width="0.8" />
<line x1="304.33" y1="546.80" x2="304.33" y2="548.50" stroke="#000" stroke-width="0.8" />
<text x="200.60" y="560.40" font-size="8.8" font-weight="normal" font-style="normal" textLength="7.40" lengthAdjust="spacingAndGlyphs" stroke="#000" stroke-width="0.4" >10</text>
<text x="208.10" y="557.20" font-size="6.8" font-weight="normal" font-style="normal" textLength="3.40" lengthAdjust="spacingAndGlyphs" stroke="#000" stroke-width="0.4" >1</text>
<text x="263.40" y="560.40" font-size="8.8" font-weight="normal" font-style="normal" textLength="7.40" lengthAdjust="spacingAndGlyphs" stroke="#000" stroke-width="0.4" >10</text>
<text x="270.90" y="557.20" font-size="6.8" font-weight="normal" font-style="normal" textLength="3.40" lengthAdjust="spacingAndGlyphs" stroke="#000" stroke-width="0.4" >2</text>
<circle cx="213.8" cy="516.3" r="2.75" fill="#000"/>
<circle cx="215.4" cy="531.7" r="2.75" fill="#000"/>
<circle cx="218.5" cy="530.8" r="2.75" fill="#000"/>
<circle cx="223" cy="540" r="2.75" fill="#000"/>
<circle cx="231.7" cy="507.7" r="2.75" fill="#000"/>
<circle cx="234.8" cy="510.8" r="2.75" fill="#000"/>
<circle cx="232.9" cy="539.7" r="2.75" fill="#000"/>
<circle cx="240.6" cy="500.9" r="2.75" fill="#000"/>
<circle cx="245.5" cy="516.3" r="2.75" fill="#000"/>
<circle cx="249.2" cy="515.4" r="2.75" fill="#000"/>
<circle cx="247.4" cy="484" r="2.75" fill="#000"/>
<circle cx="249.2" cy="501.5" r="2.75" fill="#000"/>
<circle cx="250.2" cy="524.6" r="2.75" fill="#000"/>
<circle cx="256" cy="502.2" r="2.75" fill="#000"/>
<circle cx="255.4" cy="531.7" r="2.75" fill="#000"/>
<circle cx="257.8" cy="535.4" r="2.75" fill="#000"/>
<circle cx="253.8" cy="539" r="2.75" fill="#000"/>
<circle cx="256.9" cy="540.6" r="2.75" fill="#000"/>
<circle cx="260" cy="445.5" r="2.75" fill="#000"/>
<circle cx="267.7" cy="524.6" r="2.75" fill="#000"/>
<circle cx="276.9" cy="524.9" r="2.75" fill="#000"/>
<circle cx="276.3" cy="479.4" r="2.75" fill="#000"/>
<circle cx="286.2" cy="504.6" r="2.75" fill="#000"/>
<circle cx="293" cy="515.4" r="2.75" fill="#000"/>
<line x1="212.9" y1="525.5" x2="292.9" y2="503.4" stroke="#000" stroke-width="1"/>
<path d="M212.9 539.1L217.8 534.2L222.70000000000002 539.1L217.8 544.0Z" fill="#dadada" stroke="#000" stroke-width="1.6"/>
<circle cx="246.2" cy="540.6" r="4.15" fill="#dadada" stroke="#000" stroke-width="1.5"/>
<rect x="292.5" y="512.8" width="6.4" height="6.4" fill="#dadada" stroke="#000" stroke-width="1.5"/>
<text x="264.5" y="443.2" font-size="9.8" font-style="italic" textLength="5.6" lengthAdjust="spacingAndGlyphs" stroke="#000" stroke-width="0.45">R</text>
<text x="270.40" y="439.40" font-size="8.6" font-weight="normal" font-style="normal" textLength="4.20" lengthAdjust="spacingAndGlyphs" stroke="#000" stroke-width="0.45" >2</text>
<text x="275.80" y="443.20" font-size="9.6" font-weight="normal" font-style="normal" textLength="31.80" lengthAdjust="spacingAndGlyphs" stroke="#000" stroke-width="0.5" >= 0.082</text>
<text transform="translate(172.6 524.8) rotate(-90)" font-size="11.2" textLength="69.99999999999994" lengthAdjust="spacingAndGlyphs" stroke="#000" stroke-width="0.5">expansion (x)</text>
<text x="225.40" y="576.80" font-size="10.8" font-weight="normal" font-style="normal" textLength="54.20" lengthAdjust="spacingAndGlyphs" stroke="#000" stroke-width="0.55" >CD45RA MFI</text>
<rect x="355.4" y="429.8" width="114.20000000000005" height="116.99999999999994" fill="none" stroke="#000" stroke-width="1.15"/>
<line x1="387.7" y1="429.8" x2="387.7" y2="546.8" stroke="#000" stroke-width="1.0" stroke-dasharray="3.6 2.4"/>
<line x1="353.20" y1="429.80" x2="355.40" y2="429.80" stroke="#000" stroke-width="0.9" />
<text x="336.60" y="434.80" font-size="10.7" font-weight="normal" font-style="normal" textLength="16.00" lengthAdjust="spacingAndGlyphs" stroke="#000" stroke-width="0.45" >600</text>
<line x1="353.20" y1="465.50" x2="355.40" y2="465.50" stroke="#000" stroke-width="0.9" />
<text x="336.60" y="468.10" font-size="10.7" font-weight="normal" font-style="normal" textLength="16.00" lengthAdjust="spacingAndGlyphs" stroke="#000" stroke-width="0.45" >400</text>
<line x1="353.20" y1="502.80" x2="355.40" y2="502.80" stroke="#000" stroke-width="0.9" />
<text x="336.60" y="505.40" font-size="10.7" font-weight="normal" font-style="normal" textLength="16.00" lengthAdjust="spacingAndGlyphs" stroke="#000" stroke-width="0.45" >200</text>
<line x1="353.20" y1="539.80" x2="355.40" y2="539.80" stroke="#000" stroke-width="0.9" />
<text x="341.85" y="542.40" font-size="10.7" font-weight="normal" font-style="normal" textLength="5.50" lengthAdjust="spacingAndGlyphs" stroke="#000" stroke-width="0.45" >0</text>
<line x1="354.00" y1="447.30" x2="355.40" y2="447.30" stroke="#000" stroke-width="0.8" />
<line x1="354.00" y1="484.20" x2="355.40" y2="484.20" stroke="#000" stroke-width="0.8" />
<line x1="354.00" y1="521.60" x2="355.40" y2="521.60" stroke="#000" stroke-width="0.8" />
<line x1="358.99" y1="546.80" x2="358.99" y2="548.50" stroke="#000" stroke-width="0.8" />
<line x1="362.16" y1="546.80" x2="362.16" y2="548.50" stroke="#000" stroke-width="0.8" />
<line x1="365.00" y1="546.80" x2="365.00" y2="549.40" stroke="#000" stroke-width="0.8" />
<line x1="383.66" y1="546.80" x2="383.66" y2="548.50" stroke="#000" stroke-width="0.8" />
<line x1="394.58" y1="546.80" x2="394.58" y2="548.50" stroke="#000" stroke-width="0.8" />
<line x1="402.33" y1="546.80" x2="402.33" y2="548.50" stroke="#000" stroke-width="0.8" />
<line x1="408.34" y1="546.80" x2="408.34" y2="548.50" stroke="#000" stroke-width="0.8" />
<line x1="413.25" y1="546.80" x2="413.25" y2="548.50" stroke="#000" stroke-width="0.8" />
<line x1="417.40" y1="546.80" x2="417.40" y2="548.50" stroke="#000" stroke-width="0.8" />
<line x1="420.99" y1="546.80" x2="420.99" y2="548.50" stroke="#000" stroke-width="0.8" />
<line x1="424.16" y1="546.80" x2="424.16" y2="548.50" stroke="#000" stroke-width="0.8" />
<line x1="427.00" y1="546.80" x2="427.00" y2="549.40" stroke="#000" stroke-width="0.8" />
<line x1="445.66" y1="546.80" x2="445.66" y2="548.50" stroke="#000" stroke-width="0.8" />
<line x1="456.58" y1="546.80" x2="456.58" y2="548.50" stroke="#000" stroke-width="0.8" />
<line x1="464.33" y1="546.80" x2="464.33" y2="548.50" stroke="#000" stroke-width="0.8" />
<text x="365.80" y="560.40" font-size="8.8" font-weight="normal" font-style="normal" textLength="7.40" lengthAdjust="spacingAndGlyphs" stroke="#000" stroke-width="0.4" >10</text>
<text x="373.30" y="557.20" font-size="6.8" font-weight="normal" font-style="normal" textLength="3.40" lengthAdjust="spacingAndGlyphs" stroke="#000" stroke-width="0.4" >1</text>
<text x="426.00" y="560.40" font-size="8.8" font-weight="normal" font-style="normal" textLength="7.40" lengthAdjust="spacingAndGlyphs" stroke="#000" stroke-width="0.4" >10</text>
<text x="433.50" y="557.20" font-size="6.8" font-weight="normal" font-style="normal" textLength="3.40" lengthAdjust="spacingAndGlyphs" stroke="#000" stroke-width="0.4" >2</text>
<circle cx="388.3" cy="518.8" r="2.75" fill="#000"/>
<circle cx="396.9" cy="485.5" r="2.75" fill="#000"/>
<circle cx="413.2" cy="480.9" r="2.75" fill="#000"/>
<circle cx="409.8" cy="516.9" r="2.75" fill="#000"/>
<circle cx="440.9" cy="514.2" r="2.75" fill="#000"/>
<circle cx="456.3" cy="518.5" r="2.75" fill="#000"/>
<circle cx="382.5" cy="537.8" r="2.75" fill="#000"/>
<circle cx="384" cy="540.9" r="2.75" fill="#000"/>
<circle cx="380.9" cy="541.5" r="2.75" fill="#000"/>
<circle cx="400.6" cy="539.1" r="2.75" fill="#000"/>
<circle cx="397.8" cy="541.5" r="2.75" fill="#000"/>
<circle cx="405.5" cy="531.7" r="2.75" fill="#000"/>
<circle cx="420" cy="532.3" r="2.75" fill="#000"/>
<circle cx="421.5" cy="536.9" r="2.75" fill="#000"/>
<circle cx="424.6" cy="535.4" r="2.75" fill="#000"/>
<circle cx="420" cy="539" r="2.75" fill="#000"/>
<circle cx="417.8" cy="541.5" r="2.75" fill="#000"/>
<circle cx="432.3" cy="531.7" r="2.75" fill="#000"/>
<circle cx="440" cy="535.4" r="2.75" fill="#000"/>
<circle cx="449.2" cy="536" r="2.75" fill="#000"/>
<circle cx="412.3" cy="536.9" r="2.75" fill="#000"/>
<polyline fill="none" stroke="#000" stroke-width="1" points="387.5,533.7 389.0,533.7 390.5,533.6 392.0,533.5 393.5,533.4 395.0,533.3 396.5,533.1 398.0,533.0 399.5,532.9 401.0,532.7 402.5,532.6 404.0,532.4 405.5,532.2 407.0,532.0 408.5,531.8 410.0,531.5 411.5,531.3 413.0,531.0 414.5,530.7 416.0,530.3 417.5,530.0 419.0,529.6 420.5,529.2 422.0,528.7 423.5,528.2 425.0,527.7 426.5,527.1 428.0,526.5 429.5,525.8 431.0,525.1 432.5,524.3 434.0,523.5 435.5,522.6 437.0,521.6 438.5,520.5 440.0,519.4 441.5,518.1 443.0,516.8 444.5,515.3 446.0,513.7 447.5,512.0 449.0,510.2 450.5,508.2 452.0,506.0 453.5,503.7 455.0,501.2 456.5,498.4"/>
<path d="M374.8 534.8L379.7 529.9L384.59999999999997 534.8L379.7 539.6999999999999Z" fill="#dadada" stroke="#000" stroke-width="1.6"/>
<circle cx="409.8" cy="534.5" r="4.15" fill="#dadada" stroke="#000" stroke-width="1.5"/>
<rect x="453.1" y="443.0" width="6.4" height="6.4" fill="#dadada" stroke="#000" stroke-width="1.5"/>
<text x="393.2" y="443.2" font-size="9.8" font-style="italic" textLength="5.6" lengthAdjust="spacingAndGlyphs" stroke="#000" stroke-width="0.45">R</text>
<text x="399.10" y="439.40" font-size="8.6" font-weight="normal" font-style="normal" textLength="4.20" lengthAdjust="spacingAndGlyphs" stroke="#000" stroke-width="0.45" >2</text>
<text x="404.50" y="443.20" font-size="9.6" font-weight="normal" font-style="normal" textLength="36.10" lengthAdjust="spacingAndGlyphs" stroke="#000" stroke-width="0.5" >= 0.2073</text>
<text transform="translate(332.6 526) rotate(-90)" font-size="11.2" textLength="69" lengthAdjust="spacingAndGlyphs" stroke="#000" stroke-width="0.5">IL-2 (pg/mL)</text>
<text x="387.20" y="576.80" font-size="10.8" font-weight="normal" font-style="normal" textLength="57.00" lengthAdjust="spacingAndGlyphs" stroke="#000" stroke-width="0.55" >CD45RA MFI</text>
<path d="M473.902 433L478.9 428.002L483.89799999999997 433L478.9 437.998Z" fill="#dadada" stroke="#000" stroke-width="1.6"/>
<text x="487.70" y="437.00" font-size="10.3" font-weight="normal" font-style="normal" textLength="15.70" lengthAdjust="spacingAndGlyphs" stroke="#000" stroke-width="0.55" >EH2</text>
<circle cx="478" cy="453" r="4.316000000000001" fill="#dadada" stroke="#000" stroke-width="1.5"/>
<text x="487.70" y="456.80" font-size="10.3" font-weight="normal" font-style="normal" textLength="24.60" lengthAdjust="spacingAndGlyphs" stroke="#000" stroke-width="0.55" >WEIS3</text>
<rect x="473.816" y="469.216" width="7.168000000000001" height="7.168000000000001" fill="#dadada" stroke="#000" stroke-width="1.5"/>
<text x="487.70" y="476.80" font-size="10.3" font-weight="normal" font-style="normal" textLength="30.80" lengthAdjust="spacingAndGlyphs" stroke="#000" stroke-width="0.55" >BAGM9</text>
</svg>
</body></html>
